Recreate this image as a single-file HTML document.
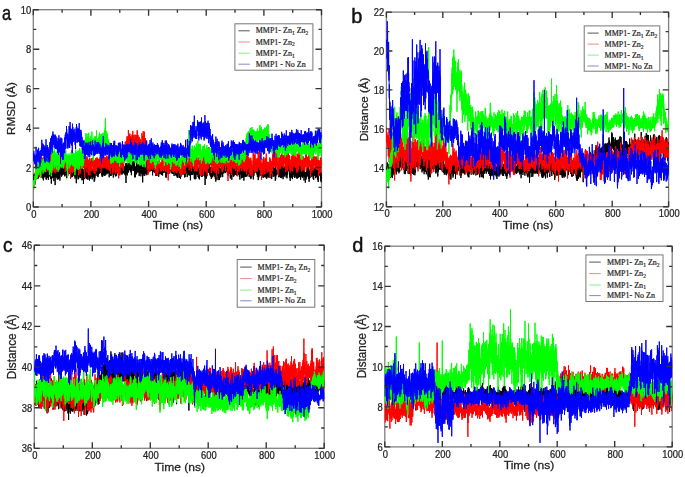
<!DOCTYPE html>
<html><head><meta charset="utf-8"><style>
html,body{margin:0;padding:0;background:#fff;}
body{width:685px;height:477px;overflow:hidden;}
svg{display:block;filter:blur(0.45px);}
.tl{font-family:"Liberation Sans", sans-serif;font-size:10px;fill:#222;stroke:#222;stroke-width:0.25px;}
.at{font-family:"Liberation Sans", sans-serif;font-size:11.5px;fill:#222;stroke:#222;stroke-width:0.25px;}
.pl{font-family:"Liberation Sans", sans-serif;font-size:20px;fill:#111;stroke:#111;stroke-width:0.45px;}
.lg{font-family:"Liberation Serif", serif;font-size:8px;fill:#222;stroke:#222;stroke-width:0.2px;}
.sb{font-size:5.5px;}
</style></head><body>
<svg width="685" height="477" viewBox="0 0 685 477">
<clipPath id="ca"><rect x="33.3" y="9.7" width="288.2" height="197.3"/></clipPath>
<rect x="33.3" y="9.7" width="288.2" height="197.3" fill="none" stroke="#808080" stroke-width="1.3"/>
<g clip-path="url(#ca)"><g transform="scale(.1)" fill="none" stroke-width="10" stroke-linejoin="round">
<path d="M333 1783l1 50 1-56 0 15 1-2 1 2 1-36 0-17 1 49 1-9 1 36 0-34 1-26 1 21 1-11 0 9 1-7 1-14 1 0 0 72 1-48 1 69 1-83 0 9 1 14 1-50 1 31 0-21 1 11 1-32 1 40 1 4 0 33 1-119 1 75 1-17 0-92 1 77 1 37 1-64 0 40 1-25 1 22 1-2 0 42 1-64 1 58 1-22 0-34 1 35 1-17 1 6 0-10 1-11 1 55 1-24 0-82 1 116 1-31 1-41 1 76 0-30 1 3 1-64 1 69 0-42 1 34 1-23 1 42 0 7 1-37 1 28 1-31 0 27 1-51 1-38 1 5 0 82 1-11 1-70 1 47 0 8 1-34 1 55 1-52 0 32 1-44 1 42 1-32 1-10 0-21 1 69 1-12 1 32 0 3 1-23 1-19 1-33 0 57 1-71 1 53 1-26 0 33 1 26 1-91 1 53 0-36 1 52 1-38 1 22 0 10 1-7 1 44 1-17 0-7 1-57 1 54 1-30 1 51 0-37 1-47 1 38 1 10 0 13 1-29 1 61 1 3 0-64 1 68 1-88 1 15 0 56 1 31 1 5 1-80 0 16 1-42 1 30 1-33 0 25 1 58 1-32 1 19 0-16 1 2 1-7 1-46 1 53 0 16 1-10 1-48 1 44 0-74 1 78 1-45 1-4 0 55 1-53 1-2 1 39 0 19 1-38 1 18 1-15 0 36 1-97 1 56 1-22 0 36 1-21 1 72 1-90 0 95 1-103 1 79 1 0 1-76 0 53 1-13 1-45 1 15 0 4 1-5 1 61 1-99 0 6 1-10 1 115 1-27 0-10 1-64 1-26 1 12 0 54 1 31 1 28 1-29 0-59 1 110 1-15 1-71 0-43 1-54 1 63 1 12 1 81 0-34 1-10 1-10 1 33 0-53 1-10 1 35 1 14 0-13 1-43 1 32 1 49 0-67 1 41 1 7 1-31 0 42 1-46 1-35 1 53 0 12 1 16 1-53 1 14 0 74 1-77 1-2 1 77 1-37 0 14 1-47 1 121 1-52 0-6 1-26 1-22 1 46 0-3 1 13 1-38 1 31 0-99 1 8 1 81 1-31 0-10 1 26 1-1 1-36 0 29 1 4 1-9 1-41 0 44 1 30 1-45 1-6 1 31 0 7 1 11 1-29 1 1 0 5 1-10 1-61 1 43 0 89 1-112 1 37 1 37 0-75 1 41 1-24 1 43 0-55 1 41 1-35 1-45 0 107 1-48 1-5 1 19 0 114 1-118 1 22 1-52 1 65 0-66 1 24 1-73 1 108 0 5 1-33 1 14 1-56 0 15 1-11 1 82 1-14 0-51 1 34 1-64 1-12 0 48 1-3 1-7 1 13 0 45 1-39 1-19 1 87 0-52 1 2 1 1 1-16 1-15 0-40 1 109 1-7 1-34 0-39 1 42 1-55 1 102 0-57 1 32 1-31 1-18 0 54 1-12 1-10 1-3 0 30 1-29 1 6 1-50 0 77 1-50 1-21 1 28 0-31 1 46 1-30 1 16 1-74 0 141 1-12 1-77 1 22 0-9 1-20 1-10 1 40 0-17 1 3 1-31 1 0 0 13 1 4 1-52 1 75 0-66 1 29 1 58 1-60 0 55 1-34 1 49 1-73 0 52 1-75 1 64 1-19 1 39 0-36 1-13 1-13 1-62 0 30 1 27 1 33 1-7 0-1 1 21 1-48 1 18 0-16 1 26 1-17 1-31 0 41 1-19 1 57 1-24 0 14 1-23 1 8 1 17 0-22 1 3 1-1 1-2 1-42 0 67 1-45 1 6 1 22 0-7 1 42 1-51 1 57 0-5 1-55 1 48 1-91 0 48 1-15 1-6 1 38 0-10 1-19 1 18 1-48 0 14 1 16 1-27 1 26 0-21 1 20 1 18 1 17 1-6 0-15 1-5 1 78 1-47 0-35 1 14 1 24 1-4 0-76 1 97 1-42 1-44 0 79 1-75 1 67 1-71 0-44 1 117 1-35 1-22 0 29 1-39 1 29 1-3 0 1 1-24 1-11 1 53 1-32 0 31 1-14 1 2 1-5 0-22 1 23 1 2 1 1 0 1 1 11 1-36 1 22 0 5 1 32 1-14 1-8 0-35 1 55 1-70 1 14 0 19 1 8 1-34 1 17 0 65 1-43 1 7 1-25 1 64 0-78 1 42 1-8 1-44 0 52 1-5 1-7 1 45 0 15 1-52 1 21 1 21 0-73 1 6 1 21 1 25 0-19 1 18 1-38 1 68 0-56 1 6 1 30 1-46 0 52 1-97 1 29 1 27 1-2 0 14 1 1 1-37 1 60 0-59 1 15 1 27 1-24 0-50 1 57 1-36 1 55 0-1 1-54 1 81 1-84 0 23 1 21 1-20 1 0 0-39 1 11 1 26 1 12 0 15 1-26 1 85 1-99 1 36 0 43 1-72 1 39 1-14 0 40 1-65 1-31 1 46 0 42 1-33 1-33 1 60 0-25 1 111 1-127 1 19 0-12 1-32 1-24 1 70 0-26 1 62 1-100 1 22 0 25 1-24 1 7 1 45 1-45 0-11 1 14 1 22 1 14 0-67 1 67 1-10 1 73 0-62 1 12 1 39 1-58 0 37 1-19 1-4 1 30 0-22 1-30 1 66 1-14 0-7 1-52 1 24 1-22 0-23 1 38 1-39 1 30 1 14 0-51 1 38 1 51 1-43 0 22 1-35 1 17 1-6 0-48 1 75 1-56 1 20 0-11 1 76 1-39 1-31 0-69 1 88 1-1 1-35 0-3 1 31 1-25 1 57 0-95 1 62 1-17 1-134 1 153 0 80 1-70 1-83 1 60 0 26 1-12 1 8 1-29 0 2 1 9 1-1 1 87 0-29 1-47 1-2 1 17 0-3 1-17 1 62 1-24 0 82 1-31 1-69 1 31 0-22 1-19 1 42 1-79 1 35 0-10 1-25 1 64 1 11 0-30 1-31 1 1 1 85 0-97 1 51 1-24 1 49 0-8 1-46 1 61 1-84 0 44 1-22 1-2 1 36 0-50 1-38 1 47 1 8 0 2 1-54 1 31 1 32 1 11 0-19 1 4 1 29 1 34 0-16 1-9 1-13 1 9 0 15 1 0 1 0 1 19 0-16 1-50 1-10 1 29 0-52 1 32 1 17 1-87 0 74 1 13 1 56 1-86 0-30 1 36 1-33 1 57 1-10 0-4 1 12 1 14 1-15 0 26 1-74 1 34 1 52 0-45 1-39 1 49 1-64 0 17 1 110 1-67 1-20 0-25 1 13 1 27 1-89 0 54 1 2 1-25 1 40 0-9 1 64 1-73 1 60 1-55 0 85 1-45 1-16 1 39 0-19 1 6 1-24 1 44 0-35 1-50 1-11 1-9 0 53 1 18 1-28 1-7 0 20 1-35 1 70 1-13 0 49 1-78 1 6 1 33 0-31 1 8 1-21 1 54 1-37 0 2 1-22 1-8 1 45 0 33 1-23 1-60 1 59 0 1 1 2 1 5 1-50 0 35 1-4 1-49 1 5 0 15 1 104 1-27 1-65 0-43 1 66 1-7 1 63 0-127 1 56 1 47 1-53 1 15 0-36 1-40 1 86 1-26 0 15 1-34 1 4 1-29 0 33 1 19 1-28 1 10 0-23 1 38 1-20 1-46 0 54 1-31 1 22 1-6 0 33 1-64 1 10 1 1 0 0 1 70 1-16 1-17 1 39 0-26 1-58 1 81 1-27 0-24 1 52 1-40 1 17 0-54 1 89 1-79 1 55 0-23 1-26 1-57 1 77 0-3 1-120 1 86 1-4 0-18 1-14 1 30 1 61 0-54 1-13 1 29 1 34 1-70 0 19 1 34 1-43 1 13 0 47 1-31 1 23 1-4 0-33 1 44 1-38 1-6 0 32 1-28 1-58 1 58 0-27 1 23 1 16 1-6 0-44 1-4 1 30 1-36 0 28 1 49 1-69 1-31 1 68 0 64 1-97 1 21 1 31 0 58 1-49 1 6 1-5 0 10 1-51 1 42 1 24 0 26 1-32 1-21 1 25 0-21 1-5 1-8 1 17 0-35 1 65 1-26 1-68 0 58 1-124 1 93 1 21 1-8 0-45 1 59 1 28 1-44 0 1 1-6 1 67 1-61 0 19 1 4 1 6 1-21 0 14 1-6 1-64 1 53 0 30 1-11 1-5 1 37 0-36 1-65 1 76 1-50 0 44 1-2 1 21 1-44 1-43 0 3 1 26 1 20 1-40 0-20 1 80 1-31 1 14 0 19 1 17 1-5 1-32 0 2 1 7 1-39 1 51 0-50 1 58 1-58 1 34 0-16 1-75 1 39 1 34 0-20 1 55 1 2 1-41 1 4 0 0 1-2 1 8 1-58 0 69 1-18 1-32 1 74 0-35 1 10 1-24 1 88 0-68 1 15 1-60 1 48 0 20 1-53 1 14 1-11 0-6 1 13 1 35 1-18 0 9 1 4 1 8 1 5 1 14 0-14 1 30 1-18 1-49 0 30 1-15 1 18 1 35 0-38 1-65 1 46 1 12 0-37 1 38 1-7 1 29 0 2 1-66 1 1 1 11 0-16 1 36 1-12 1 39 0 0 1 11 1-54 1 3 1 46 0-14 1-20 1 31 1-38 0 47 1-11 1-3 1 38 0 8 1-26 1-67 1 15 0 0 1 38 1-11 1-8 0-10 1 44 1-35 1-2 0-66 1 58 1 11 1-54 0 37 1-40 1 64 1-85 1 54 0-2 1 13 1-15 1-3 0 12 1-39 1 105 1-30 0-32 1-4 1-57 1 32 0 18 1 19 1-80 1 37 0-49 1 116 1-85 1 54 0 22 1-28 1 64 1-53 0 34 1-33 1 23 1-40 1 34 0-41 1 11 1-35 1 52 0 14 1-10 1-53 1-71 0 116 1-19 1-59 1 25 0-18 1 24 1-2 1 12 0 31 1-39 1 36 1-42 0 94 1-19 1-58 1-4 0-50 1 85 1-43 1 68 1-123 0 143 1-122 1 49 1 45 0-90 1 19 1 32 1-32 0 25 1 5 1-29 1 9 0 34 1 8 1-33 1 10 0-11 1 37 1-24 1 37 0-53 1 19 1 11 1 44 0-76 1 69 1-7 1-18 1-8 0 23 1-3 1 14 1-70 0 38 1-6 1 50 1-35 0-52 1 3 1 64 1-38 0-23 1 65 1-30 1-31 0-18 1 62 1 1 1-72 0 63 1-23 1 51 1-80 0 22 1-26 1 71 1-8 1 18 0 1 1-1 1-52 1 29 0-19 1 29 1-27 1-20 0 2 1 2 1 28 1-18 0 34 1 12 1 13 1-34 0-12 1-38 1 65 1-56 0 84 1-45 1-66 1 79 0 12 1-8 1-90 1 26 1 54 0-8 1 123 1-142 1-53 0 106 1-86 1 11 1-30 0 50 1-32 1-24 1 25 0 1 1 40 1-8 1 9 0-14 1-7 1 15 1 62 0-25 1-41 1-35 1 61 0-12 1-13 1-29 1-10 1 47 0-62 1 93 1-39 1 12 0-11 1 29 1-70 1 41 0 24 1-52 1-31 1 15 0-17 1 30 1 19 1 18 0-8 1-81 1 36 1 56 0-1 1-38 1 9 1 1 0-56 1 89 1-8 1-59 1 17 0-16 1 24 1-15 1 19 0 26 1 24 1-45 1 54 0-32 1 22 1-12 1-51 0-5 1 31 1 76 1-78 0 70 1-51 1-48 1-4 0 17 1-2 1-8 1 60 0-33 1-47 1 25 1-30 1 32 0-33 1-3 1 28 1-36 0 27 1 29 1 8 1 6 0-35 1 30 1 20 1-54 0-25 1 90 1-72 1 38 0 37 1-12 1-17 1-72 0 59 1-45 1 68 1-56 0 19 1 51 1 2 1-18 1 65 0-54 1 74 1-83 1-22 0-9 1 12 1 68 1-41 0 73 1-66 1-11 1 5 0-25 1 34 1 29 1-67 0 36 1 34 1-32 1 35 0-54 1-19 1-50 1 89 0-98 1 40 1 19 1 60 1-59 0-28 1 56 1 19 1-9 0-116 1 80 1-49 1 8 0 14 1 56 1-28 1-32 0 49 1-14 1 46 1-9 0-9 1 19 1-13 1-59 0 42 1-21 1-29 1 37 0 10 1 20 1-41 1 10 1-35 0 4 1 111 1-67 1-52 0 55 1 0 1 38 1-83 0 73 1-41 1 21 1-21 0 26 1-18 1-38 1 41 0-35 1 51 1-63 1 28 0-21 1 13 1 68 1 27 0-112 1-20 1 70 1 18 1-12 0 14 1-60 1 32 1 46 0-82 1 5 1 35 1 26 0 3 1-69 1 50 1-46 0 41 1-20 1 58 1 10 0-32 1 53 1 53 1-128 0-37 1 43 1 56 1-14 0-40 1 0 1-73 1 23 1 62 0-76 1 104 1-3 1-84 0 68 1-18 1-66 1 53 0-47 1 24 1 30 1-28 0-16 1 19 1 44 1-58 0 97 1-61 1-20 1-20 0-8 1 86 1-21 1-8 0 9 1-23 1-1 1 6 1 21 0-93 1 116 1-30 1-53 0 16 1-3 1-68 1 103 0-4 1-25 1-24 1 90 0-13 1-13 1-25 1 59 0-61 1 42 1-46 1 6 0-49 1 58 1-54 1 33 0 15 1-49 1 46 1-53 1 47 0 7 1 8 1-110 1 54 0 39 1-42 1-6 1 35 0-33 1-7 1-6 1 58 0-39 1 24 1 43 1-20 0-85 1 100 1-26 1 31 0-50 1 28 1-29 1-10 0 61 1-27 1-18 1 32 1-21 0-24 1 34 1-10 1 19 0-18 1 31 1 3 1-33 0-34 1 11 1 0 1 7 0-9 1 1 1 53 1-3 0-49 1 36 1-7 1-24 0-16 1 60 1-38 1-21 0 0 1-33 1 66 1-48 1-20 0 45 1-8 1-26 1 131 0-51 1-51 1 71 1-52 0 0 1-14 1 48 1-30 0 23 1-47 1 62 1-8 0-31 1-33 1 43 1 1 0 24 1-48 1 53 1-13 0 7 1-35 1 43 1-6 1-27 0 5 1 41 1-16 1-10 0-17 1 28 1-82 1 52 0-15 1 25 1 0 1-18 0 36 1 41 1-69 1 44 0-50 1 61 1-28 1-3 0 52 1-51 1-3 1-11 0-7 1 12 1-6 1 59 1-77 0-9 1 52 1-17 1 45 0 8 1-66 1-64 1 48 0-3 1-36 1 24 1 29 0 25 1 0 1-34 1 32 0 44 1-80 1 14 1-35 0 39 1-6 1-10 1 19 0-39 1 27 1 85 1-80 1 3 0-3 1-9 1-51 1 114 0-140 1 85 1 0 1-20 0 48 1-25 1-25 1 64 0-5 1-9 1-9 1-34 0 63 1-83 1 11 1 1 0 78 1-65 1 38 1-47 0 18 1 7 1 11 1-24 1-37 0 73 1-26 1-17 1-7 0 23 1-16 1 5 1 70 0-97 1 71 1-73 1 20 0 82 1-51 1-40 1 5 0 45 1 34 1-57 1 68 0-15 1-65 1 52 1-60 0 41 1-11 1-45 1 39 1-11 0 22 1 3 1 17 1 6 0-41 1-9 1-43 1 36 0 20 1-20 1-34 1 89 0-91 1 65 1 0 1-91 0 45 1 45 1-40 1-21 0 14 1-7 1 25 1-4 0 56 1-5 1-35 1 41 1 10 0-38 1-47 1 13 1 42 0 71 1-35 1-38 1-60 0 63 1-16 1 15 1 73 0-99 1 29 1 35 1-116 0 103 1-104 1 114 1-13 0-34 1 9 1-24 1-64 0 69 1 17 1-51 1 45 1-33 0 23 1 58 1-118 1 68 0-37 1 33 1-45 1 48 0-59 1-8 1 60 1 57 0-89 1 34 1-54 1 13 0 21 1 21 1-2 1-63 0 23 1 41 1-14 1-11 0 30 1 45 1-103 1 61 1 9 0-18 1 22 1 9 1-36 0 30 1-33 1 5 1-43 0 61 1-7 1 13 1-62 0 15 1 14 1-48 1 45 0-1 1 56 1 10 1-30 0-25 1 30 1-17 1-46 0 49 1-4 1-11 1 26 1-64 0-18 1 20 1-11 1 106 0-83 1 31 1-40 1 61 0-46 1 7 1 2 1 16 0 9 1-9 1-47 1 100 0-53 1-24 1 32 1-22 0 2 1 33 1 6 1 11 0-34 1-3 1 73 1-52 1-46 0 49 1-44 1 17 1 16 0-46 1 5 1 22 1-5 0-2 1-4 1 9 1-8 0 38 1-53 1 43 1 10 0-44 1 16 1 73 1-65 0-27 1-3 1 63 1-29 0 6 1-35 1-7 1 19 1 15 0 19 1-54 1 106 1-80 0 3 1 10 1 15 1-12 0-26 1 102 1-100 1 18 0 4 1 80 1-46 1-37 0 5 1-38 1 76 1-148 0 78 1 61 1-19 1 22 0 5 1-16 1-6 1-29 1 2 0-3 1-2 1 57 1 39 0-92 1 51 1-58 1 21 0 45 1-52 1 7 1 38 0 43 1-80 1-55 1 39 0 4 1 41 1 25 1-52 0-36 1 37 1 41 1-30 0 75 1-83 1-7 1 73 1-42 0-59 1 88 1-105 1-53 0 68 1 10 1 6 1-6 0-29 1 77 1 9 1 7 0-67 1-16 1 52 1-41 0 8 1-23 1 13 1 64 0-18 1-5 1-48 1 28 0-30 1 61 1-53 1 36 1-81 0 120 1-69 1 56 1-68 0 8 1 42 1-60 1 2 0 1 1 10 1 46 1-50 0 82 1-27 1-19 1 48 0-56 1-8 1 29 1 60 0 4 1-86 1 3 1 42 0 9 1-37 1 66 1-15 1-90 0 38 1-11 1 25 1-64 0 43 1 22 1 16 1 0 0-14 1-19 1 32 1-70 0 34 1-30 1-25 1 26 0-5 1 27 1-20 1-15 0-15 1 60 1 3 1 2 0-22 1 87 1-94 1 28 1-48 0 26 1 25 1-33 1 47 0-100 1 93 1-8 1-42 0 59 1 12 1-37 1-13 0 62 1-82 1 31 1 15 0-110 1 94 1-1 1 28 0 15 1-49 1 67 1-13 0 3 1-37 1 35 1-71 1-40 0 70 1-49 1 50 1 33 0-15 1 6 1-31 1 4 0 17 1 85 1-48 1-13 0 12 1-1 1-95 1 42 0 50 1-27 1-12 1 5 0 19 1 15 1-30 1-9 0-14 1 37 1-19 1 17 1 10 0-48 1 16 1 30 1 2 0-6 1-26 1-38 1-3 0 79 1-42 1-29 1 29 0-7 1 28 1-20 1 10 0 27 1-55 1-22 1 10 0 52 1-51 1-3 1-2 0 2 1 13 1 3 1 8 1-16 0 12 1-11 1 102 1-100 0 26 1 1 1-48 1 45 0-7 1 87 1-66 1 37 0-20 1 53 1-12 1-29 0-14 1 23 1-76 1 53 0-30 1 23 1-37 1 92 0-78 1 3 1-6 1-35 1 28 0 21 1-31 1 54 1-41 0 12 1-7 1 34 1-30 0-1 1 0 1-14 1 53 0-69 1 40 1-14 1 25 0-9 1 7 1-50 1 70 0 0 1-13 1 33 1-18 0-43 1-1 1 24 1-14 1 35 0-2 1-58 1 92 1-70 0 43 1-68 1-6 1 5 0-29 1 105 1-38 1-15 0 83 1-45 1-58 1 50 0-43 1 16 1-26 1 9 0-1 1-7 1-12 1-13 0 49 1 19 1-25 1-13 1-38 0-10 1 49 1 58 1-26 0 8 1 16 1 2 1-13 0 27 1-25 1-77 1 104 0-34 1-1 1-62 1 41 0-4 1 0 1 1 1-17 0 1 1 73 1-55 1 17 0-10 1 30 1-1 1-25 1 13 0-15 1-11 1-1 1-7 0-20 1 41 1-21 1 23 0-20 1 16 1-23 1 52 0 7 1-71 1 48 1-29 0-37 1 55 1-28 1 13 0 18 1-25 1 12 1-72 0 124 1-47 1 5 1 1 1 126 0-128 1 14 1-47 1 44 0-149 1 120 1 15 1-21 0 45 1 5 1-49 1 37 0-12 1 60 1-21 1 22 0-105 1 43 1-44 1 38 0-33 1 40 1-11 1-46 0 96 1-13 1-63 1 34 1-14 0-13 1 4 1-15 1-36 0-2 1-13 1 67 1-8 0 8 1 15 1-20 1-6 0 25 1-8 1-34 1 38 0-30 1 31 1-13 1-37 0 69 1-24 1-22 1 33 0-36 1-47 1 37 1 40 1 30 0-72 1 57 1 6 1-50 0-3 1 76 1-35 1 16 0-51 1 7 1-19 1 27 0-14 1-11 1 31 1-24 0 83 1-80 1 70 1-27 0-15 1 5 1 52 1-41 0 62 1-54 1 9 1-54 1 42 0 11 1-3 1 5 1-22 0 51 1-103 1 93 1-56 0 57 1-32 1-33 1 3 0 45 1 2 1-50 1-21 0 80 1-28 1-12 1-3 0-6 1 21 1 3 1-31 0 36 1-11 1-21 1 4 1-11 0 4 1-2 1-15 1 79 0-47 1-4 1 18 1-13 0-17 1 20 1-71 1 2 0 68 1-39 1 2 1 16 0 20 1-6 1 73 1-44 0-48 1 19 1-25 1 76 0-15 1 64 1-67 1 20 1 2 0-73 1 31 1-26 1 52 0 22 1-80 1 13 1 0 0 28 1-36 1-51 1-6 0 154 1-37 1-57 1 7 0 17 1 20 1 10 1-75 0 16 1 17 1-8 1-47 0 80 1 6 1-32 1 26 1-57 0-2 1 2 1 27 1 17 0-28 1 76 1-12 1 37 0-38 1-43 1 28 1-44 0 16 1 57 1 21 1-130 0 48 1-3 1 31 1 8 0-50 1 76 1-13 1-16 0 17 1-18 1-5 1-4 1-55 0 36 1-32 1 59 1-3 0 5 1 21 1-54 1 33 0-3 1-32 1-16 1 31 0-31 1-22 1-6 1 16 0 38 1-44 1 54 1-9 0-38 1-16 1 31 1 38 0-20 1-17 1-1 1 3 1 65 0-122 1 40 1 44 1-65 0 37 1 3 1-65 1 81 0-2 1 0 1-1 1-90 0 88 1 16 1-31 1-25 0-20 1 63 1-87 1 54 0 29 1-11 1-41 1 17 0 11 1-22 1-61 1 30 1 48 0 10 1-41 1 61 1 12 0-27 1 7 1 19 1-32 0 11 1-10 1-26 1 24 0 27 1-23 1-48 1 61 0 3 1-46 1 50 1-6 0-35 1 13 1 10 1-1 0-49 1 22 1 28 1-2 1-57 0 52 1-11 1 6 1 24 0-26 1 29 1-24 1-42 0 35 1-57 1 40 1-10 0 10 1 88 1-101 1-56 0 74 1 11 1 4 1-17 0-15 1-4 1 28 1 8 0-1 1 10 1 30 1-94 1 90 0 12 1-73 1 34 1-4 0 31 1-11 1-22 1-59 0 63 1 15 1-15 1 25 0 25 1 39 1-68 1 58 0-90 1 43 1-1 1 16 0-5 1-5 1-15 1 16 0-12 1 22 1-35 1-3 1 2 0 38 1 3 1 16 1-60 0 93 1-125 1 52 1 7 0-21 1 5 1 5 1-26 0-46 1 75 1-65 1 84 0-71 1 13 1 42 1-57 0-13 1 91 1-57 1 19 0-6 1 63 1-67 1-17 1 25 0 35 1-8 1-27 1 19 0 35 1-18 1 8 1-42 0-42 1 13 1 53 1-2 0-29 1 15 1-27 1 24 0 18 1-33 1-30 1 42 0-51 1 81 1-20 1-13 0 1 1-33 1 16 1-5 1-26 0 87 1-29 1-61 1 67 0 23 1-8 1 7 1-57 0 16 1 6 1-2 1 19 0-32 1-1 1 62 1-8 0-46 1 45 1-66 1 46 0 8 1-22 1-63 1 100 0-30 1 24 1-36 1 16 1 2 0-18 1 18 1-8 1-17 0 13 1 10 1 16 1-49 0 15 1 10 1 19 1-16 0 23 1-81 1 29 1-36 0 110 1 0 1-87 1 53 0 5 1 6 1-12 1 64 0-154 1 88 1-7 1-31 1 43 0-12 1-15 1-5 1 12 0-26 1-3 1 28 1-10 0 29 1-37 1 55 1 1 0-22 1-35 1 88 1-59 0-41 1-11 1-16 1 34 0 8 1 11 1 38 1-33 0 2 1-41 1 20 1 47 1-24 0-25 1 10 1 34 1-35 0 77 1-80 1 45 1 23 0-35 1-46 1 76 1-38 0 5 1 5 1 1 1-76 0 62 1-40 1 125 1-82 0-25 1 69 1-66 1-14 0 46 1-16 1 25 1 20 1-24 0 10 1-53 1 40 1-37 0-1 1 4 1 32 1-11 0 36 1 11 1-114 1 50 0 60 1-7 1-78 1 35 0-22 1-15 1 47 1-29 0 65 1-41 1-26 1-15 0 39 1-15 1 42 1-88 1 108 0-28 1-6 1 17 1-3 0-60 1 17 1 4 1 5 0-5 1 11 1 35 1-21 0-43 1 11 1 9 1-12 0 42 1-81 1 72 1 10 0-33 1-9 1 4 1-46 0 65 1 2 1-40 1-10 1 55 0 5 1 35 1-30 1-7 0-31 1-19 1 0 1-8 0 29 1-27 1 32 1-8 0-17 1 23 1 18 1-73 0 125 1-54 1-13 1 15 0 6 1 6 1-32 1 88 0-24 1 10 1-30 1-7 1-70 0 22 1 53 1-29 1-57 0 41 1 64 1-69 1 23 0 5 1-13 1-24 1 20 0-24 1 34 1-9 1 4 0 32 1 18 1-102 1 78 0 1 1-55 1-6 1 40 0-41 1 53 1 65 1-36 1-99 0 91 1-57 1 64 1-59 0 58 1-39 1-42 1-18 0-6 1 45 1 31 1-47 0 28 1-46 1 1 1-36 0 70 1 26 1-58 1-18 0 41 1 6 1-15 1 17 0-15 1 49 1-24 1-41 1 51 0 7 1-76 1 75 1-67 0 63 1-17 1-24 1 46 0 2 1-20 1 1 1-15 0 35 1 6 1-38 1 30 0 7 1-32 1 27 1 24 0-72 1 34 1 56 1-41 0-53 1 27 1-14 1 21 1 21 0 2 1-22 1 40 1-76 0 128 1-33 1-75 1 30 0-55 1 38 1-21 1 14 0 28 1 47 1-62 1-29 0 38 1 4 1-60 1 39 0 17 1-28 1 11 1 29 0-11 1-44 1-42 1 123 1 0 0-55 1-6 1-31 1 46 0-22 1-2 1-22 1 49 0-8 1-11 1 7 1-1 0-4 1-33 1 35 1 5 0-27 1 26 1-16 1 56 0-46 1 59 1-41 1 6 0-48 1-6 1 41 1 17 1 1 0 18 1-29 1 0 1 31 0-14 1-21 1 52 1-75 0 44 1 11 1-22 1 57 0-62 1 28 1-49 1-5 0 47 1-68 1 50 1 32 0-73 1 0 1 49 1-26 0 24 1 14 1-4 1-39 1 73 0-51 1 26 1-10 1-42 0 25 1 10 1-59 1 101 0-92 1 18 1 63 1-44 0 17 1-65 1 31 1 6 0 55 1-36 1-55 1 37 0 37 1 38 1-5 1-127 0 110 1 12 1-17 1-55 1 63 0 26 1-144 1 70 1-3 0 29 1-62 1 3 1 0 0 65 1-60 1 16 1 25 0-32 1 19 1 27 1-23 0 58 1-63 1 54 1-14 0-57 1-39 1 33 1 14 0 41 1 18 1-25 1 5 1-30 0-45 1 35 1 17 1-1 0 59 1-69 1 10 1 30 0-82 1 70 1-30 1 26 0-62 1 33 1 21 1-57 0 47 1-5 1 24 1-63 0 32 1-4 1 18 1-16 0 47 1-21 1 16 1-24 1-38 0 102 1-74 1-9 1-53 0 24 1 72 1-127 1 175 0-44 1-58 1-46 1 74 0 13 1-18 1-19 1-37 0 38 1 19 1-2 1-19 0-7 1 40 1-15 1-23 0-38 1 51 1 69 1-47 1-34 0 23 1-41 1 37 1-25 0-5 1 23 1 9 1 10 0 21 1-26 1 29 1-12 0 34 1-78 1 30 1-37 0 65 1-8 1-19 1 9 0-1 1-18 1 15 1-26 0 53 1-51 1 110 1-97 1 14 0-35 1-40 1 143 1-74 0 42 1-21 1-25 1 29 0-13 1-28 1 10 1 27 0 6 1-4 1-45 1 0 0 1 1 18 1 12 1-21 0-1 1 5 1-26 1-67 0 97 1-2 1-44 1 39 1-1 0 3 1-17 1-18 1 12 0 58 1-31 1 24 1-38 0 32 1-43 1-21 1 66 0-41 1 64 1-10 1 24 0-59 1 0 1 58 1-46 0 11 1 0 1-18 1 41 0 0 1-79 1 27 1 18 1-3 0-2 1 8 1-72 1 79 0-36 1 46 1-48 1-26 0 63 1 20 1 24 1-80 0 52 1-34 1-9 1 51 0-40 1-80 1 104 1-5 0-5 1 49 1-35 1-40 0-32 1 78 1-23 1-7 1 21 0 4 1-13 1 2 1 11 0-38 1 63 1-2 1-68 0 13 1-11 1 55 1-116 0 59 1 90 1-124 1 8 0 52 1-51 1 24 1 47 0-19 1-24 1-30 1 47 0-50 1 37 1 20 1-56 1 65 0-22 1 49 1-42 1-29 0 61 1 3 1-86 1 24 0 43 1-17 1-65 1 92 0-79 1 12 1 0 1 11 0-15 1 59 1-32 1-30 0 47 1-7 1-17 1 67 0 9 1-102 1 28 1-36 1 59 0-10 1-29 1 30 1 17 0-25 1 44 1 33 1-62 0 2 1-85 1 87 1 13 0-93 1 74 1 30 1-13 0-73 1 5 1 1 1 37 0-18 1-2 1-41 1 23 0-41 1 9 1 1 1 76 1-59 0 51 1-55 1 31 1-28 0 34 1 18 1-52 1-1 0-14 1 70 1 30 1-67 0 72 1-31 1 64 1-102 0 27 1 34 1 25 1 48 0-84 1-18 1 13 1 49 0-56 1 9 1 55 1 3 1-25 0-61 1 53 1-72 1 8 0 96 1-41 1-90 1 82 0-23 1-38 1 60 1-44 0 42 1 10 1-11 1-10 0 49 1-6 1-96 1 62 0 67 1-29 1-98 1 35 0 32 1-17 1-42 1 97 1-18 0-73 1 72 1-38 1-55 0 51 1 3 1 23 1-6 0-53 1 26 1-5 1 23 0-56 1-27 1 76 1 27 0 8 1-93 1-9 1 97 0-12 1 50 1-38 1-79 0 38 1 2 1-46 1 85 1-13 0-92 1 63 1-10 1 1 0 72 1-56 1 32 1 13 0-41 1 53 1-75 1 38 0 47 1-28 1 14 1-60 0 12 1 12 1-53 1 54 0 16 1 23 1 20 1-45 0 48 1-47 1-21 1 5 1-50 0 47 1-26 1 38 1 14 0 18 1-2 1-48 1 41 0-59 1 43 1 38 1-62 0 24 1-89 1 40 1 48 0-39 1 51 1-58 1 21 0-62 1 81 1-58 1 96 0-73 1 9 1 63 1-67 1 25 0-42 1 80 1-62 1 33 0-54 1-27 1 86 1 19 0-30 1 8 1-32 1 90 0-46 1-15 1 10 1-49 0 54 1-8 1-30 1-2 0 40 1-10 1 24 1-71 0 44 1-7 1-11 1 17 1-20 0-19 1 18 1-50 1 53 0 56 1-48 1 26 1-49 0 37 1-94 1 129 1-23 0-23 1 15 1-21 1-53 0 90 1-42 1-38 1 28 0 37 1-30 1-15 1 50 0-41 1 41 1-47 1 101 1-121 0 58 1-30 1 52 1-31 0-16 1 27 1-45 1 63 0 0 1-42 1 51 1-48 0 27 1 8 1 20 1 2 0 47 1-77 1 25 1-50 0 53 1-9 1-24 1 6 0 25 1 20 1-5 1-39 1-33 0 2 1 54 1-55 1 46 0-3 1-7 1 14 1-62 0-23 1 78 1-47 1 18 0-19 1 40 1-66 1 17 0 6 1-38 1 81 1-20 0-20 1-17 1 30 1-19 0-25 1 40 1 4 1-10 1 73 0-92 1 11 1-49 1 100 0-46 1-4 1 2 1 60 0 45 1-92 1 57 1-66 0 29 1-1 1-19 1 22 0 2 1-31 1-3 1-8 0 73 1-41 1-49 1 34 0-32 1 0 1-13 1 34 1-17 0-26 1 39 1 17 1-65 0-3 1 75 1-41 1-47 0 56 1 22 1 16 1 9 0-72 1 30 1-12 1 76 0-84 1 4 1 7 1-58 0 72 1 7 1 30 1-21 0-59 1 44 1-32 1 56 1-32 0 44 1-26 1 20 1 46 0-81 1 44 1-4 1-31 0 39 1-46 1 89 1-76 0-22 1 32 1-42 1-9 0 25 1 27 1-32 1-11 0 19 1-29 1 23 1 48 0-25 1-6 1 38 1-3 1-39 0-51 1 87 1-47 1 37 0 11 1-61 1 26 1 63 0-4 1-44 1 24 1-7 0 19 1-30 1-84 1 117 0-105 1 91 1 10 1-56 0 34 1-4 1-101 1 28 0 42 1 49 1-2 1-28 1-24 0 12 1 7 1-28 1 102 0-93 1 20 1 1 1-9 0 17 1 21 1 30 1-70 0 103 1-89 1 43 1-59 0-12 1 26 1-18 1 41 0-14 1-17 1 4 1-7 0-33 1 17 1-23 1 28 1-12 0 16 1 36 1-65 1-3 0 60 1-21 1 43 1-53 0-42 1 49 1 29 1-47 0 11 1 13 1-8 1 40 0-41 1 101 1-85 1 32 0-30 1 35 1 23 1-55 0 59 1 34 1-67" stroke="#000000"/>
<path d="M333 1850l1 49 1-15 0-17 1-43 1 37 1-31 0 32 1 4 1-50 1 36 0-31 1 14 1-30 1 43 0 1 1-6 1-36 1-47 0 14 1 9 1 5 1-46 0 32 1-32 1-18 1 4 0 15 1 6 1 19 1-21 1 31 0-12 1-85 1 49 1 45 0-101 1-10 1 33 1 58 0-107 1 17 1-45 1 68 0 14 1 16 1-1 1 23 0-1 1-17 1-25 1-22 0 13 1 69 1-94 1 78 0-80 1 22 1-5 1 23 1 16 0-20 1 70 1-50 1-77 0 52 1 8 1 44 1 0 0-58 1 15 1-17 1-10 0 78 1-22 1-5 1-25 0-28 1 55 1-30 1-2 0 4 1-62 1 77 1-26 0 83 1-68 1-10 1-28 1 46 0-9 1 26 1-25 1-91 0 137 1-2 1-58 1 38 0-69 1 95 1-97 1 69 0 36 1 11 1-50 1-25 0-36 1 58 1-150 1 113 0-11 1 19 1-111 1 128 0-58 1-23 1 86 1-62 1 31 0-63 1 2 1 30 1 14 0 41 1-128 1 36 1 30 0-24 1 58 1 40 1-69 0 58 1-24 1-38 1 74 0-52 1-3 1 30 1-1 0-28 1 8 1-17 1 18 0-17 1 55 1-21 1-54 1 43 0-5 1 4 1-19 1-31 0 44 1-31 1 64 1 2 0-43 1-12 1 29 1-10 0-23 1 54 1-66 1 53 0-37 1 53 1 17 1-84 0-7 1 22 1-18 1 19 0-25 1 22 1 29 1-73 1 81 0-110 1 87 1 18 1-31 0-3 1 2 1-16 1 38 0 38 1-45 1-42 1-28 0 117 1-73 1-40 1 85 0-100 1 79 1-34 1 12 0-69 1 85 1-26 1 13 0 49 1-53 1 16 1-24 1 0 0-37 1 24 1-23 1 65 0-20 1 39 1-69 1 32 0-66 1 102 1-67 1-1 0 60 1-65 1 65 1-68 0-5 1 71 1-21 1-19 0-10 1 11 1 1 1 34 0-36 1-92 1 91 1-78 1 99 0-21 1-50 1 16 1-20 0 42 1 51 1 13 1-24 0-51 1 9 1-54 1 110 0-4 1 6 1-8 1-7 0-53 1 44 1-33 1 36 0 74 1-27 1-47 1-41 0 43 1 49 1-46 1 8 1 43 0-72 1 23 1 32 1 20 0-16 1-7 1-13 1 26 0 2 1-50 1-18 1 18 0 38 1-22 1-93 1 104 0-16 1-48 1 57 1 36 0-92 1 12 1 104 1-77 0 35 1 29 1-86 1 35 1-15 0 19 1-56 1-6 1 10 0-43 1 63 1 25 1-41 0 2 1-16 1 108 1-118 0-48 1 42 1 51 1-87 0 36 1-45 1 36 1 41 0 43 1-56 1-6 1 39 0 41 1-76 1 38 1-61 1 64 0-34 1-28 1 31 1 2 0 80 1-44 1-5 1-4 0-15 1-30 1 75 1-58 0 31 1 8 1 33 1-26 0 6 1-53 1-48 1-25 0 60 1 61 1-109 1 102 0-4 1-42 1 21 1-90 1 60 0 13 1 5 1-17 1-10 0 0 1-40 1 61 1 26 0 7 1-10 1 3 1-26 0-55 1 87 1-12 1-1 0 10 1 6 1-36 1-19 0 65 1-24 1-23 1 19 0 14 1-26 1 15 1 15 1-33 0 39 1-3 1-31 1 54 0-57 1 42 1-3 1-53 0-5 1-8 1-19 1 74 0-34 1 26 1-3 1-48 0 25 1 9 1-13 1 23 0-47 1 63 1 3 1-10 0 8 1-95 1 84 1-23 1 48 0-4 1-48 1 21 1 6 0-11 1-6 1-7 1 16 0-5 1 2 1 14 1-34 0 106 1-26 1-41 1 2 0 18 1 13 1-47 1 63 0-81 1 58 1-88 1 55 0 3 1 36 1-45 1 33 1-11 0-30 1-11 1-8 1-29 0-29 1 72 1 12 1 29 0-49 1 38 1-10 1-4 0 27 1-10 1-1 1 2 0 7 1 14 1 77 1-113 0 52 1-24 1 3 1-41 0 48 1-10 1 5 1-39 1-1 0 3 1 10 1-62 1 52 0 71 1-35 1 3 1-37 0 39 1-51 1 42 1-39 0 93 1-111 1 12 1 32 0-96 1 91 1-20 1 32 0-69 1 6 1 37 1 149 0-179 1-25 1 82 1-39 1-9 0 28 1 36 1-17 1 20 0-42 1 76 1-71 1 17 0 42 1-16 1-57 1-30 0 16 1-119 1 140 1 48 0-34 1 18 1 57 1-111 0 73 1-15 1-95 1 81 0 11 1-47 1-36 1 119 1-17 0 22 1-98 1 23 1-27 0 88 1-47 1-52 1 118 0-107 1 61 1-46 1 37 0-55 1-6 1 26 1-64 0 90 1-61 1 71 1-64 0 7 1 64 1-77 1 59 0 46 1-35 1-44 1 59 1-74 0-48 1 58 1 12 1 8 0-5 1-29 1 70 1-11 0-22 1 12 1-19 1 23 0-15 1 37 1-18 1-52 0 65 1-73 1-4 1 26 0 59 1-24 1-50 1-10 0 84 1-53 1 5 1 60 1-55 0 31 1 21 1-111 1 88 0 30 1-9 1-121 1 35 0 11 1 55 1-31 1 11 0-32 1 79 1-68 1-20 0 145 1-74 1-31 1 41 0-37 1-16 1-48 1 81 0-21 1-50 1 109 1-103 1 49 0-24 1 23 1-25 1 112 0-62 1 49 1-66 1 44 0 16 1-122 1-19 1 47 0-19 1 12 1-56 1 37 0 16 1-37 1 57 1 12 0 2 1 22 1 2 1-76 0 60 1-14 1-23 1 35 1 23 0-1 1-19 1-57 1 54 0 5 1-38 1 11 1-1 0-6 1-49 1 66 1 0 0-70 1 93 1-12 1-43 0 44 1-19 1-4 1 46 0-51 1 46 1-74 1-3 0 67 1-72 1 22 1-55 1 54 0 72 1 1 1-94 1 114 0-80 1 45 1-25 1 134 0-163 1-23 1 56 1-34 0 42 1-34 1 20 1 14 0-40 1 7 1-25 1 75 0 10 1-79 1 44 1-57 0 69 1-87 1 10 1 80 1-101 0 81 1-10 1 14 1-41 0 11 1 18 1-10 1 22 0-15 1 63 1 29 1-30 0-45 1-8 1 3 1 12 0-84 1 93 1-45 1 33 0-61 1 7 1 20 1 38 0-4 1-10 1-45 1 26 1 125 0-111 1 46 1 4 1-45 0 0 1 14 1 9 1 32 0-36 1-2 1 16 1-98 0 91 1-1 1 22 1-11 0-9 1-20 1 101 1-137 0 15 1 14 1 45 1 17 0-33 1-65 1 6 1 16 1-22 0 58 1 8 1-16 1-63 0 5 1-18 1 36 1 91 0-57 1-47 1 45 1-45 0 3 1 52 1-53 1 9 0 54 1-86 1 79 1-44 0-9 1 52 1-1 1-49 0 3 1-38 1 33 1 3 1 18 0-22 1 59 1 37 1-75 0 24 1 6 1-68 1 111 0-43 1-27 1 33 1 9 0-16 1-51 1 123 1-16 0-71 1-11 1 61 1-50 0-10 1-2 1-34 1 27 0 30 1 8 1-32 1 111 1-44 0-82 1-9 1 15 1 9 0 64 1-7 1-32 1-76 0 64 1-8 1-44 1 18 0 101 1-112 1 45 1 69 0-87 1-24 1-2 1 8 0 32 1-4 1-21 1 23 0-66 1 103 1-3 1-34 1 38 0-97 1 32 1 34 1 7 0-18 1-49 1 42 1 36 0-41 1 36 1-36 1-3 0-12 1 6 1 13 1 46 0-46 1-31 1 33 1-27 0 45 1-3 1 12 1-50 0 20 1 2 1 46 1-86 1 80 0-34 1-26 1 15 1 64 0-59 1 35 1-92 1 32 0-5 1-2 1 0 1-30 0-29 1 79 1-40 1 29 0 11 1 57 1-29 1 0 0-38 1 117 1-25 1-45 0-31 1 25 1-9 1-20 1-11 0-8 1 33 1-26 1 40 0 8 1-51 1-38 1 36 0 78 1-103 1-44 1 40 0 43 1 12 1 16 1-83 0 61 1 6 1-10 1 59 0-74 1 26 1-64 1 70 0 11 1 38 1-57 1-36 1 21 0-10 1 49 1 10 1-15 0 7 1-43 1-12 1 67 0-40 1 51 1-61 1-46 0 96 1-69 1 53 1-31 0-39 1 99 1-56 1 24 0-60 1 36 1 10 1-10 0-46 1 81 1 2 1 0 1-51 0 83 1-21 1-23 1 19 0-34 1 23 1 38 1-134 0 50 1-19 1 72 1-5 0 36 1-28 1-46 1-22 0-30 1 41 1 23 1-51 0 16 1 57 1-9 1-44 0 57 1-20 1 31 1-73 1-29 0 133 1-29 1-57 1 14 0 0 1 42 1 22 1-39 0-54 1 11 1-44 1 140 0-51 1-67 1 3 1 85 0-64 1 94 1-93 1 54 0-70 1 34 1 28 1-23 0 12 1 24 1-50 1 96 1-33 0 8 1 45 1-18 1-60 0-3 1 17 1-53 1 38 0-1 1-8 1 18 1-35 0 50 1-24 1 8 1 1 0-17 1-34 1-18 1 61 0-5 1 1 1-35 1 59 0-83 1-18 1 82 1 77 1-91 0 0 1 6 1-56 1 53 0-37 1 33 1 15 1-84 0 24 1-24 1 100 1-55 0 20 1-2 1 89 1-52 0-5 1-53 1 15 1-36 0 33 1 15 1 12 1 6 0-48 1 47 1 4 1 8 1-44 0-69 1 97 1 54 1-24 0-53 1 45 1-1 1-41 0 67 1-21 1-46 1 101 0-81 1-64 1 124 1-117 0 116 1-77 1 76 1-69 0 12 1 5 1-46 1-14 0 11 1 76 1 10 1-132 1 121 0-104 1 21 1 36 1 82 0-37 1-63 1 56 1-54 0 21 1-32 1 30 1 18 0 46 1-45 1 31 1-56 0 66 1-66 1-5 1 10 0 71 1 69 1-160 1 45 0 9 1-9 1 65 1-37 1 6 0-14 1-6 1-34 1 54 0-68 1 27 1 43 1-121 0 170 1-144 1 41 1-37 0 69 1-39 1-3 1-30 0 13 1 7 1 2 1-25 0 32 1-1 1-29 1 66 0-31 1 11 1 21 1-77 1 72 0-10 1 15 1-46 1-15 0-44 1-9 1-3 1 29 0-14 1 97 1-19 1-94 0 58 1-51 1-27 1 65 0-46 1 42 1 2 1 61 0-127 1 158 1-111 1 27 0-40 1-14 1 151 1-87 1-80 0 13 1 30 1-18 1-44 0 1 1 107 1-73 1-79 0 84 1-10 1-19 1-6 0-6 1 51 1-26 1-54 0-19 1 16 1 33 1-24 0-49 1-31 1 131 1-104 0 92 1-100 1 67 1-28 1-12 0-12 1-7 1-30 1 69 0-37 1-23 1 34 1 11 0-37 1-26 1 8 1 71 0 1 1-51 1-69 1 85 0 15 1-71 1 85 1-71 0-10 1 51 1-6 1-8 0-71 1 93 1 29 1-47 1 21 0 35 1-38 1-11 1-89 0-56 1 220 1-101 1-7 0 74 1-81 1 59 1 8 0-18 1-35 1 15 1 24 0-37 1 29 1-69 1-33 0 125 1-43 1-53 1-42 0 108 1-59 1 39 1 47 1-43 0-8 1 22 1-82 1 180 0-74 1-10 1 4 1-92 0 46 1-24 1 8 1-16 0 48 1 97 1-78 1-81 0 68 1-10 1 34 1-84 0 34 1-43 1-16 1-7 0 71 1 60 1 1 1-12 1-45 0-40 1 32 1-11 1-91 0 170 1-115 1 63 1 31 0 6 1-9 1-102 1 61 0-40 1 119 1-137 1 39 0-5 1 79 1-42 1 4 0-2 1-21 1-6 1-1 0 60 1-70 1 90 1-8 1 34 0 45 1-193 1-14 1 92 0-1 1 29 1-30 1 11 0 37 1-46 1 47 1-52 0-54 1 29 1 21 1 32 0-110 1 88 1 83 1-92 0 85 1-97 1 9 1-72 0 7 1 66 1-15 1-27 1 92 0-22 1-95 1 96 1 23 0-176 1 105 1-85 1 131 0-13 1-80 1 30 1 24 0 16 1-39 1-43 1 126 0-36 1-47 1 57 1-54 0 76 1-99 1 14 1 19 0 72 1-109 1 115 1-72 1 54 0 4 1-96 1 46 1 15 0-19 1 42 1-77 1 71 0-48 1 33 1-43 1 70 0-72 1 12 1 12 1 50 0 30 1-20 1-39 1 45 0 46 1-96 1 6 1 29 0 84 1-90 1-2 1 24 1-47 0 92 1-70 1 13 1-62 0 73 1-23 1-10 1 65 0-181 1 100 1-14 1 16 0 12 1-23 1 84 1-93 0 9 1-61 1 38 1 43 0-81 1 13 1 22 1 5 0 47 1-138 1 26 1 91 1-12 0 73 1-124 1 46 1 17 0 24 1-16 1 8 1 54 0-50 1-10 1-100 1-21 0 187 1-66 1 13 1-8 0-48 1 143 1-153 1 119 0-85 1 21 1 25 1-16 0 47 1-114 1 151 1 0 1-59 0 5 1-48 1 68 1 33 0-8 1 15 1-17 1-27 0 39 1 21 1-47 1 73 0-29 1-10 1 51 1-62 0 55 1-73 1 72 1 12 0 97 1-104 1-5 1 85 0 4 1-16 1-50 1 6 1 37 0-5 1-15 1-10 1 124 0-47 1-42 1-69 1 79 0 2 1 27 1 34 1-79 0 35 1 26 1-66 1-2 0-31 1 22 1 27 1-44 0 4 1-36 1 88 1-31 0 30 1-31 1-44 1 15 1 33 0 59 1-47 1-25 1-13 0-24 1 0 1 40 1-25 0 52 1-1 1-67 1 32 0-17 1-3 1 10 1 28 0-33 1 22 1-33 1 6 0 50 1-64 1 58 1 18 0 24 1-67 1 64 1-18 1 25 0-38 1-22 1 14 1-80 0 42 1 56 1-82 1 43 0-22 1 19 1 48 1-110 0 30 1 19 1-5 1 17 0 36 1 12 1-46 1 55 0-26 1-20 1-6 1 30 0-22 1 32 1 30 1-54 1 19 0 20 1-48 1-13 1-20 0 35 1 21 1-19 1 54 0-23 1-3 1 57 1-72 0-16 1 34 1-37 1-5 0 13 1-7 1 115 1-84 0-57 1 98 1 4 1-11 0-43 1 59 1-44 1-84 1 62 0 9 1 18 1 53 1-94 0-17 1 24 1 23 1-21 0 27 1-58 1 28 1-21 0 137 1-58 1 31 1-86 0 50 1-75 1 37 1 2 0 56 1-88 1 4 1-20 0 49 1-24 1-2 1 1 1 0 0 18 1-10 1-5 1-25 0 18 1 22 1 12 1 10 0-40 1 48 1-3 1-27 0 17 1 0 1-12 1 13 0-11 1 9 1 7 1 28 0-44 1 14 1 15 1 11 0-19 1-63 1 61 1-18 1 50 0-68 1 7 1 22 1 39 0-71 1 48 1-44 1-11 0 71 1-21 1-78 1-21 0 62 1 51 1-35 1-32 0 70 1-37 1 8 1-13 0-74 1 60 1-40 1 57 0-41 1 57 1-12 1-53 1 12 0 6 1-4 1 72 1-13 0 25 1-26 1-55 1 53 0 1 1-1 1 22 1-40 0-20 1 35 1-24 1-13 0-18 1 56 1-2 1-32 0 3 1 3 1-8 1 15 0 24 1-22 1 27 1 0 1-50 0 78 1-39 1 13 1-44 0-31 1 81 1-5 1 7 0-22 1-8 1-17 1 32 0-38 1-17 1 35 1-112 0 70 1-10 1 12 1 17 0 83 1-36 1-10 1-76 0 47 1-36 1 65 1 64 1-45 0-51 1-6 1 55 1-66 0 23 1-27 1 179 1-207 0 72 1-8 1 23 1 8 0-17 1 27 1 34 1-93 0 34 1 7 1-72 1 34 0 0 1-33 1 32 1-5 0 88 1-98 1 42 1-59 1 35 0-23 1 56 1 4 1-40 0-5 1 35 1-25 1 26 0-36 1 35 1-51 1 45 0-25 1 60 1-37 1-10 0-6 1-33 1-14 1 40 0 55 1-45 1 27 1-80 0 43 1 13 1-25 1 75 1-72 0 6 1 42 1-52 1 39 0-40 1 88 1-72 1 22 0 0 1-44 1 72 1-53 0 25 1-35 1-8 1 26 0 66 1-61 1 5 1 19 0 43 1-42 1 11 1-31 0-30 1 32 1-26 1 18 1 19 0-26 1 5 1-24 1-30 0 109 1-63 1 64 1-46 0-19 1 6 1 35 1 10 0-30 1 31 1-36 1-43 0 78 1-18 1 29 1-50 0-4 1 34 1-34 1 74 0-70 1 18 1 49 1 1 1-22 0-47 1-18 1 26 1-23 0 26 1 65 1-108 1 23 0 46 1-22 1-38 1-11 0 22 1 40 1-36 1-46 0 99 1-80 1 62 1-74 0 41 1-2 1 3 1 56 0-46 1 5 1 23 1-52 1-53 0 70 1 3 1-34 1-37 0 61 1 9 1 2 1-76 0 39 1-6 1 29 1 92 0-71 1-41 1 36 1 19 0-65 1 97 1 20 1-55 0-20 1-16 1 50 1 7 0-63 1 121 1-44 1-44 1 53 0-21 1-72 1 138 1-67 0 22 1-51 1 4 1-4 0-50 1 43 1 6 1 47 0-20 1-57 1 46 1-35 0-13 1 115 1-150 1 41 0-3 1 1 1 2 1-7 0 65 1-25 1 16 1-13 1-23 0 10 1 18 1 9 1-14 0 6 1 18 1-12 1-37 0-8 1 39 1 17 1 38 0-50 1-19 1 23 1-6 0-57 1 8 1 38 1-85 0 15 1-32 1 65 1 18 0-92 1 59 1 17 1-60 1 114 0 42 1-151 1 15 1-33 0 47 1 57 1-139 1 46 0 23 1-16 1-35 1 41 0 28 1-8 1 41 1-61 0-4 1-14 1 52 1-6 0 55 1-56 1-8 1 7 0-58 1 6 1 26 1 36 1-46 0-174 1 207 1 0 1-37 0 66 1-62 1 73 1-61 0-7 1 5 1-37 1 36 0 14 1-36 1-42 1-21 0 116 1-29 1 24 1-14 0 24 1-33 1 110 1-153 0 89 1-53 1 50 1-119 1 52 0-41 1 104 1-7 1-45 0 51 1-111 1 62 1-2 0 39 1-41 1 53 1 51 0-62 1 26 1-49 1-15 0 31 1-5 1 62 1-39 0-79 1 113 1 48 1-77 0-66 1 14 1 21 1 0 1 8 0-20 1 6 1 7 1 56 0-42 1 12 1 15 1-48 0 8 1 50 1-47 1 35 0 26 1-70 1-4 1-55 0 60 1-44 1 52 1 25 0 54 1-56 1 5 1-30 0-24 1 34 1-40 1-73 1 105 0 2 1-64 1 15 1-26 0 113 1 28 1-123 1-62 0 125 1 95 1-184 1 20 0 24 1 124 1-73 1 49 0-139 1 32 1 58 1 48 0 23 1-56 1 49 1-30 0 23 1 3 1-1 1 32 1-118 0 34 1 34 1-102 1 87 0-25 1 29 1 41 1 8 0-12 1-89 1 101 1-48 0 28 1-28 1 1 1 30 0-51 1 42 1-74 1 11 0 22 1-9 1-25 1-26 0-8 1 78 1-66 1 24 1-16 0 35 1 2 1-15 1-14 0 59 1-74 1 28 1 21 0-4 1 1 1-58 1 114 0-81 1 88 1-75 1 65 0 0 1-45 1 112 1-30 0 11 1-38 1 34 1-72 0-32 1-16 1-7 1 154 1-96 0-24 1 17 1 30 1 79 0-74 1-43 1 5 1-101 0 212 1-44 1-21 1-94 0-37 1 106 1-51 1-31 0 15 1-2 1-4 1 64 0 26 1-9 1-96 1 44 0 3 1 37 1-51 1-29 1 100 0-112 1 46 1 136 1-130 0-3 1-41 1 74 1 100 0-39 1-9 1-85 1 59 0 5 1-78 1-65 1 156 0-54 1-41 1 19 1-39 0-1 1 27 1 50 1-107 0 155 1-49 1 22 1-40 1 51 0-16 1-67 1 39 1 77 0-61 1 20 1 14 1 6 0-3 1-46 1-53 1 67 0-53 1 92 1-20 1-78 0 45 1-9 1-18 1 50 0-127 1 94 1-45 1 21 0-23 1-24 1 164 1-27 1 42 0-61 1-33 1-22 1 29 0-56 1 2 1 19 1 41 0-31 1-21 1-44 1 51 0-17 1 79 1-12 1-78 0 88 1-34 1-28 1-58 0-92 1 65 1 19 1 42 0-51 1-68 1 20 1 113 1-39 0-39 1 63 1-13 1-30 0 44 1-15 1 25 1 27 0-18 1-34 1 35 1-18 0-78 1 127 1-68 1-9 0 11 1-20 1-8 1 68 0-9 1-12 1 9 1 119 0-149 1 74 1-45 1 49 1-75 0 21 1-109 1-15 1-102 0 187 1 1 1-23 1-14 0 70 1-13 1 69 1-84 0-31 1 108 1-82 1 80 0-97 1 163 1-84 1-55 0 100 1-27 1-35 1 78 0-33 1 3 1-9 1-8 1 12 0-55 1 38 1-4 1 2 0 70 1-1 1-114 1 121 0-12 1-64 1 29 1 6 0-84 1 121 1-97 1 117 0 2 1-15 1-75 1-87 0 9 1 78 1-27 1 19 0 23 1-8 1-51 1 55 1 42 0-37 1 29 1-145 1 233 0-185 1 32 1-50 1-15 0 17 1 24 1 17 1 68 0-129 1 30 1 11 1 0 0 19 1 49 1-45 1 85 0-203 1 205 1-95 1 71 0-31 1-27 1 54 1-53 1 115 0-127 1-49 1 77 1 27 0-9 1 12 1 13 1-77 0-70 1 48 1 21 1 9 0-28 1-60 1 84 1-10 0-18 1 11 1 11 1 63 0 13 1-80 1-26 1-47 0 151 1-15 1-41 1 48 1-54 0-61 1 118 1-163 1 100 0-15 1-11 1 6 1 4 0-10 1-23 1 61 1-25 0-13 1 39 1 30 1-54 0 65 1-3 1 12 1 43 0-39 1-65 1 111 1-82 0-5 1 14 1 15 1-62 1-61 0 142 1-86 1-20 1 121 0-8 1-19 1-37 1 2 0 16 1 40 1-85 1 29 0-18 1 18 1-17 1 15 0 29 1-21 1-8 1-3 0-28 1 29 1-36 1 8 0 18 1-51 1 82 1-43 1-29 0 53 1 3 1-42 1 23 0-29 1-5 1 34 1 94 0-129 1 9 1 1 1 6 0 14 1-15 1 73 1-12 0-50 1-52 1 42 1-37 0 41 1 2 1-15 1 1 0 26 1 11 1-49 1 32 1 24 0 7 1 24 1-36 1-24 0 140 1-73 1 25 1-26 0 0 1 33 1-63 1 169 0-116 1 13 1-46 1-43 0 45 1-70 1 51 1 25 0-82 1 38 1-10 1 26 0-44 1 14 1-14 1 104 1-59 0-20 1 27 1-53 1 102 0-44 1-21 1 53 1 7 0-52 1 90 1-117 1 59 0-73 1 73 1 33 1-20 0-46 1-19 1 49 1 42 0-50 1-34 1 1 1 76 0-13 1-68 1-52 1 60 1 54 0-80 1 145 1-123 1 16 0-84 1 86 1 17 1-170 0 85 1 15 1 38 1 3 0 42 1-104 1 66 1-66 0 16 1-22 1 57 1-18 0 36 1-16 1 26 1-25 0-15 1 1 1-88 1 93 1 70 0-50 1-40 1 13 1 49 0-26 1-1 1 21 1-1 0-25 1 14 1-33 1-22 0-4 1 101 1-14 1-28 0-4 1 32 1 19 1-40 0-12 1-14 1 43 1 45 0-60 1-12 1 6 1 49 1-14 0-153 1 17 1 108 1-39 0-14 1-13 1 1 1 66 0-145 1 119 1-26 1-15 0 16 1 19 1 23 1-19 0-9 1-58 1 206 1-118 0 0 1 18 1-65 1 47 0 26 1-13 1-63 1 5 1-2 0 9 1 11 1-57 1 112 0 38 1-76 1 5 1 13 0-36 1-7 1-7 1 12 0 32 1-101 1 89 1 33 0-40 1-13 1 100 1-107 0 79 1-70 1 1 1-72 0-3 1 121 1-37 1 2 1-18 0 36 1 19 1-30 1-14 0-33 1 0 1-2 1 1 0-51 1 103 1-27 1-48 0 68 1-75 1 68 1 4 0 15 1-56 1 123 1-85 0-21 1 20 1 13 1 47 0-91 1 61 1-70 1 57 1-61 0 55 1-9 1 39 1 14 0-103 1 49 1-15 1 44 0-109 1 46 1-42 1 67 0 89 1-111 1 20 1 45 0 27 1-70 1 11 1 4 0 22 1-21 1-60 1 125 0-35 1-37 1-12 1 5 1 29 0-30 1 98 1-62 1-101 0 65 1 26 1-21 1-43 0 65 1-22 1-20 1-13 0 37 1 68 1-137 1 104 0-26 1-60 1-17 1 46 0-52 1 45 1 146 1-92 0-62 1 57 1-69 1 9 1 69 0 56 1-43 1-104 1 54 0 69 1-76 1-104 1 150 0-53 1 27 1-29 1-64 0 31 1 121 1-62 1-13 0 5 1 9 1 37 1 7 0-46 1-20 1 32 1 8 0-78 1 90 1-37 1-2 1 59 0-90 1 136 1-31 1-38 0-50 1-20 1 99 1-28 0 54 1-6 1-120 1 37 0 8 1 69 1-5 1 61 0-103 1 93 1-148 1 80 0-11 1-17 1-75 1 88 0-26 1 67 1-29 1 12 1 33 0-72 1 47 1-45 1 58 0-52 1 98 1-84 1-66 0 78 1 17 1-29 1 31 0-14 1-20 1 37 1 1 0 57 1-24 1-24 1-59 0-7 1 0 1 13 1-7 0 5 1-135 1 145 1 21 1-16 0-146 1 84 1 59 1-128 0 113 1-101 1 68 1 13 0 62 1-148 1 15 1 55 0 24 1 74 1-81 1 28 0-4 1 14 1 3 1-66 0 28 1-111 1 142 1-11 0 27 1-53 1 93 1-54 1-9 0 12 1-61 1 74 1-98 0 59 1-38 1-29 1 63 0-3 1 20 1-13 1-22 0 53 1-3 1 15 1 21 0-90 1 11 1-27 1 105 0-73 1-19 1-31 1 49 0 32 1-36 1-55 1 58 1-25 0 10 1-12 1-16 1 60 0-129 1 136 1 11 1-54 0-49 1-8 1-44 1 61 0 17 1 43 1-26 1-36 0 35 1 68 1-46 1-33 0 96 1-64 1 59 1-141 0-36 1 29 1 71 1-1 1-64 0-14 1 54 1 60 1 58 0-97 1 63 1-23 1 28 0-45 1-5 1 22 1 10 0 74 1-75 1 79 1-45 0 9 1-28 1-41 1 164 0-159 1 68 1-53 1 8 0 5 1-81 1 118 1 34 1-14 0 21 1-92 1 61 1-81 0 13 1 36 1-60 1 60 0 63 1-63 1-27 1 11 0 34 1-82 1 44 1-62 0 31 1-64 1 13 1 55 0-63 1 71 1-21 1-28 0 46 1-27 1 11 1 11 1 58 0 43 1-39 1 6 1-81 0 49 1-9 1 13 1 67 0-39 1-57 1-31 1-37 0 12 1-8 1 61 1-59 0 10 1 84 1-9 1-28 0-59 1 49 1 53 1-55 0-94 1 145 1-32 1-24 1 25 0-9 1 53 1-37 1 6 0-18 1 51 1 30 1-95 0-13 1 36 1 4 1-25 0 49 1-34 1 64 1 4 0-46 1-29 1 40 1-61 0 84 1-62 1-24 1 59 0 3 1 8 1-36 1 62 1-92 0 29 1 40 1-35 1-18 0 41 1 29 1-35 1 26 0-54 1-2 1-47 1-21 0 57 1 93 1-11 1 6 0 57 1-128 1 94 1-155 0 141 1-48 1-9 1-63 0 72 1-32 1 38 1-20 1 20 0-1 1 31 1-15 1-42 0 80 1-127 1 111 1-57 0-8 1-8 1 46 1-61 0 80 1-55 1 0 1-54 0-15 1 114 1-129 1 61 0 35 1-62 1-73 1 128 0-37 1-68 1 65 1 7 1-126 0 89 1-6 1 7 1 24 0 26 1-67 1 8 1 33 0 35 1-25 1-25 1-20 0 92 1-24 1-36 1-69 0 65 1 26 1-56 1 8 0 64 1-161 1 80 1 72 0-30 1 53 1-8 1-3 1-17 0-54 1 26 1 7 1-14 0 28 1-40 1-28 1-40 0 84 1 40 1-60 1 58 0-2 1-40 1-45 1 103 0-152 1 52 1 43 1 51 0 5 1-31 1 53 1-6 0-61 1 47 1-15 1 77 1-62 0-11 1-5 1-108 1 122 0 9 1-11 1 13 1 80 0-64 1-58 1 59 1-51 0 16 1-11 1 34 1-39 0-60 1 75 1-43 1-36 0 95 1-55 1 27 1 2 0 13 1-29 1 41 1 16 1-113 0 44 1 48 1-53 1-37 0-1 1 18 1 97 1-135 0 35 1 16 1-15 1 17 0 48 1-17 1-39 1 19 0 29 1-64 1 51 1-21 0-77 1 42 1-25 1 53 0-54 1 84 1-20 1 48 1-110 0 59 1-16 1-23 1 89 0-141 1 42 1 64 1-9 0-62 1 5 1 27 1 45 0-69 1-1 1 95 1-51 0-59 1 102 1-37 1-59 0 96 1-53 1 84 1-110 0-17 1 58 1-6 1-4 1-2 0 34 1-19 1-36 1 17 0 0 1 16 1-32 1 57 0-20 1-7 1-72 1 25 0-4 1 95 1-41 1 20 0 1 1-51 1 101 1-92 0 128 1-106 1 6 1 2 0-42 1 53 1-87 1-8 1 92 0-74 1 106 1-137 1 180 0-83 1 52 1-66 1 6 0 44 1-52 1-27 1 20 0 104 1-113 1-29 1 99 0-103 1 104 1-17 1-39 0-79 1 66 1 35 1-65 0-27 1 48 1-7 1 31 1 8 0-65 1 56 1 14 1 12 0-23 1 39 1-95 1 137 0-68 1-4 1-67 1 35 0 46 1 2 1 60 1 6 0-28 1 6 1-12 1 36 0 21 1-77 1-17 1 35 0-42 1 52 1-69 1 64 1-57 0 79 1-99 1 13 1-5 0 107 1-132 1-17 1 94 0-20 1-10 1-7 1 37 0-29 1 13 1 13 1-13 0-27 1 28 1 22 1-36 0 6 1-22 1-36 1 0 0 142 1-200 1 38 1 119 1-59 0 5 1-67 1 116 1-81 0 42 1-37 1 8 1 46 0 9 1-62 1-4 1-19 0-14 1 48 1 20 1-170 0 138 1 30 1 26 1 3 0 1 1-6 1-1 1 12 0 2 1-62 1 80 1-68 1-25 0 54 1-16 1-49 1 19 0 55 1 34 1-97 1-20 0-27 1 96 1-49 1 3 0 11 1 106 1-40 1 0 0 5 1 16 1-19 1-43 0 25 1 82 1-131 1 109 0-131 1 85 1-47 1 46 1-24 0 29 1-64 1-12 1 14 0-61 1 93 1 82 1-130 0-56 1 62 1 56 1-32 0 82 1-29 1-21 1-94 0 92 1-57 1 3 1 6 0-24 1 45 1-30 1 39 0-45 1 53 1-41 1 65 1-9 0-22 1-81 1 104 1-40 0-98 1 66 1 13 1 26 0 11 1-40 1-27 1 4 0 62 1 24 1-44 1-45 0 3 1 57 1 24 1 5 0-51 1-50 1-7 1 106 0 65 1-180 1 43 1 103 1-5 0 4 1-81 1 36 1-31 0 84 1 9 1-101 1 104 0-12 1-79 1 60 1 36 0-6 1-35 1 31 1-135 0 69 1 2 1 36 1-3 0-23 1 36 1-27 1 14 0-5 1-9 1-53 1-19 1 62 0-1 1-4 1 44 1-55 0-16 1 104 1-134 1 72 0 9 1-12 1 14 1-46 0 36 1-75 1 46 1-25 0 72 1-32 1-64 1 60 0 16 1-103 1 109 1-18 0-16 1-67 1 51 1 97 1-148 0 74 1-123 1 85 1 17 0 14 1-15 1 14 1-35 0 18 1 21 1-49 1 36 0 46 1-51 1 72 1-51 0 0 1-12 1-25 1-21 0 49 1-10 1 19 1-25 0-27 1-13 1 79 1-58 1 29 0-12 1 72 1-111 1 78 0-13 1-22 1-72 1 124 0-6 1 17 1-40 1 7 0-35 1 21 1 36 1-39 0 9 1 33 1-36 1-10 0 5 1-10 1 89 1-66 0 0 1 17 1-23 1 40 1 97 0-88 1-44 1-14 1 13 0-28 1 20 1-19 1 14 0 17 1-16 1 27 1-51 0 24 1-28 1 25 1 109 0-105 1-33 1 25 1-43 0 76 1-64 1 27 1-36 0 16 1 96 1-23 1-58 1-22 0 1 1 127 1-106 1 35 0-129 1 75 1 64 1-90 0 81 1-19 1-12 1 82 0-110 1 23 1 29 1-69 0 84 1-81 1 70 1-57 0 76 1-2 1-77 1 84 0-52 1 12 1-17 1-28 1 71 0-58 1 28 1 19 1-23 0 45 1-60 1 49 1-80 0 23 1 51 1 48 1-86 0 42 1-19 1-42 1 101 0-95 1 9 1-31 1 93 0-50 1 11 1-15 1 57 0-49 1 86 1-74 1 69 1-6 0-39 1-9 1-19 1-5 0 10 1-68 1 85 1 45 0-109 1 20 1 8 1 4 0 36 1-54 1-11 1-2 0 102 1-34 1 114 1-137 0-10 1-11 1 12 1-4 0 14 1 32 1 1 1-54 1 101 0-37 1 67 1-108 1-6 0-14 1 28 1 7 1-31 0 1 1 37 1 5 1-81 0 64 1-6 1 90 1-94 0-37 1 34 1 95 1-66 0-43 1 31 1-3 1-7 0 24 1-5 1-72" stroke="#ff0000"/>
<path d="M333 1828l1 20 1 6 0-51 1 32 1 15 1-15 0 59 1-57 1-10 1-11 0 12 1 12 1-26 1-15 0 55 1-17 1 14 1-66 0 30 1-36 1 37 1-54 0 42 1-5 1-37 1 14 0 6 1-47 1 21 1-38 1-42 0 90 1-13 1 35 1-17 0-43 1 0 1 3 1 1 0 38 1 21 1-95 1-39 0 36 1 36 1-41 1 37 0-23 1-5 1-20 1-34 0 20 1 118 1-99 1-2 0-34 1 39 1 25 1 0 1-6 0 13 1-74 1 24 1 34 0-30 1-51 1 79 1 7 0 12 1 30 1-19 1-2 0-46 1-2 1-10 1 50 0-67 1 75 1-18 1-68 0-4 1-1 1-46 1 38 0 53 1 5 1 26 1-48 1 47 0-1 1 15 1 24 1-160 0 68 1 121 1-95 1 27 0 53 1-74 1-14 1-16 0-18 1 66 1-24 1-28 0 5 1 2 1 9 1-60 0 83 1 0 1-104 1 53 0-20 1 30 1 38 1-5 1-29 0 33 1-8 1 5 1-34 0-4 1-45 1 88 1-30 0 27 1-53 1 100 1-112 0 23 1 21 1 4 1 2 0-73 1 22 1 22 1-36 0 13 1 73 1 6 1-19 0-62 1 34 1-36 1 35 1 23 0 34 1-37 1-94 1 108 0 4 1-11 1-55 1 51 0 45 1-16 1-12 1-7 0-42 1-53 1 43 1 20 0 20 1 17 1-36 1-33 0 21 1 34 1-35 1 25 0-8 1 2 1-101 1 90 1-38 0 33 1 9 1-56 1 9 0-29 1 73 1-71 1 51 0 36 1-70 1 84 1-7 0 25 1-98 1 80 1-53 0 29 1-60 1 60 1-16 0-36 1 92 1-31 1-15 0 24 1-7 1-14 1-8 1 26 0 24 1-102 1 105 1 1 0 18 1-49 1-25 1 65 0-28 1 67 1-42 1-47 0 56 1-66 1 45 1-31 0 41 1 21 1-66 1-16 0 44 1-37 1 47 1-22 0-61 1 59 1 34 1-61 1 15 0 28 1-14 1 87 1-129 0-51 1 60 1 88 1-147 0-52 1 83 1 69 1-19 0-43 1-12 1-42 1 20 0 115 1-97 1-2 1-86 0 99 1 29 1-34 1-36 0 88 1-118 1 58 1-33 1 2 0-1 1-40 1-19 1 80 0-12 1-50 1 34 1 34 0-32 1 31 1-13 1 101 0-125 1-81 1 50 1 5 0 25 1 31 1-34 1 17 0 1 1-7 1 106 1-113 0-14 1-14 1 49 1-22 1 13 0 47 1 35 1-128 1 91 0-67 1 97 1-32 1 5 0 17 1 4 1-26 1 80 0-42 1-25 1-24 1 33 0 11 1-106 1 84 1-45 0 41 1-108 1 56 1 42 0-113 1 89 1-31 1-3 1 100 0-121 1 94 1 6 1 44 0 41 1-5 1-155 1-5 0 93 1 10 1-113 1 98 0-53 1-73 1 58 1-5 0-25 1 151 1-95 1 91 0-78 1 54 1-51 1 23 0-4 1-50 1 41 1 14 1-82 0 50 1 54 1-114 1 41 0-14 1-4 1 28 1 27 0-22 1 1 1-24 1-26 0 61 1 26 1-79 1 74 0 38 1-55 1 6 1 49 0-143 1 118 1-85 1 16 0-30 1 68 1-5 1-7 1-20 0-23 1-26 1 134 1-114 0-75 1 105 1 35 1-62 0 92 1-110 1 88 1-38 0 1 1-33 1 83 1-85 0 26 1-58 1 51 1 23 0 84 1-62 1-95 1 84 0 9 1-26 1-51 1 102 1-152 0 44 1-7 1 27 1-72 0 90 1-51 1 17 1 76 0-49 1-40 1 46 1 5 0-19 1 33 1 18 1-46 0 37 1-70 1-4 1-21 0 14 1 47 1-18 1 78 0 3 1-19 1-72 1 85 1-39 0-15 1-1 1 14 1 63 0-110 1 70 1 73 1-20 0 44 1 9 1-82 1 79 0-102 1 170 1-195 1-32 0 10 1 55 1-61 1 54 0-34 1 57 1-24 1-17 0-1 1 28 1-35 1-14 1 0 0 12 1 22 1-64 1-4 0 96 1 54 1-86 1-41 0 1 1 97 1-102 1 91 0-66 1 49 1-10 1-26 0 41 1-44 1 56 1-3 0-1 1 21 1-74 1-7 0 34 1 26 1-69 1 3 1-21 0 18 1 5 1-54 1 77 0-15 1 55 1-56 1 3 0-6 1-49 1 51 1-37 0 34 1 9 1 59 1-91 0-8 1 53 1-9 1 53 0-56 1 28 1-50 1 28 0-28 1 56 1 38 1-62 1 29 0-104 1 56 1-51 1 37 0 33 1 59 1-50 1-33 0 21 1-9 1 11 1 58 0-4 1-27 1-33 1-59 0 133 1-58 1-37 1-25 0 33 1 38 1-61 1 11 0 182 1-159 1 77 1 43 1-54 0-13 1 45 1-165 1 123 0-61 1-14 1-73 1 97 0-62 1 141 1-128 1 94 0 27 1-150 1 23 1-2 0 56 1 68 1-17 1-62 0 5 1-4 1 101 1-47 0-76 1 27 1-42 1 91 1-67 0-30 1-33 1 7 1 132 0-4 1-46 1 34 1 66 0-167 1 36 1-27 1 30 0-31 1 36 1-45 1-24 0 120 1-67 1 96 1-122 0 75 1 36 1 33 1-76 0-93 1 65 1 97 1 19 1-209 0 156 1 29 1-81 1-20 0-45 1 58 1 14 1-48 0 65 1-46 1 11 1-14 0 66 1 4 1-41 1-6 0 75 1-25 1-34 1 19 0-123 1 110 1-73 1 56 0-1 1-13 1-31 1 52 1-75 0 169 1-136 1 39 1 18 0-83 1 26 1 54 1 22 0-56 1 78 1-57 1 67 0-38 1 38 1-32 1-81 0-22 1 82 1-22 1 57 0-83 1-28 1 84 1 15 0-55 1 28 1-51 1-71 1 51 0-18 1-50 1 61 1-23 0 17 1 12 1-114 1 111 0-67 1 57 1-27 1 6 0-41 1-33 1-27 1 143 0-104 1 28 1 13 1-13 0-21 1 5 1-13 1-103 0 103 1-29 1 66 1-103 1 65 0-3 1 29 1-34 1-37 0 72 1 2 1-30 1-15 0-34 1-45 1 2 1 129 0-3 1-71 1 75 1-79 0-13 1 117 1-78 1-52 0 45 1 32 1-76 1 37 0 66 1-53 1 24 1 32 1 2 0-59 1 17 1-104 1 202 0-82 1-23 1-10 1-23 0 22 1 0 1 30 1 136 0-99 1-18 1-40 1-43 0 38 1 6 1-39 1 59 0-24 1 88 1-74 1 31 0 50 1-40 1 16 1-132 1 10 0 87 1 11 1-39 1 76 0-111 1 57 1 72 1-143 0-7 1 37 1-35 1 127 0-31 1 11 1-61 1-35 0-69 1 178 1-30 1-74 0 76 1-16 1 28 1-56 0 53 1-68 1 24 1-7 1 41 0-12 1 45 1-19 1-2 0 130 1-149 1 31 1-104 0 98 1 103 1-173 1 9 0 112 1-35 1 51 1-86 0-61 1 19 1 72 1-56 0 35 1-54 1 36 1-67 0-23 1 35 1 6 1 5 1-13 0 53 1 56 1-62 1-59 0 42 1-35 1 40 1 31 0-51 1-53 1 37 1 28 0-21 1-38 1 15 1 27 0 57 1-11 1-150 1 122 0-41 1 29 1 89 1-120 0 141 1-26 1-78 1 65 1-38 0 68 1-67 1-53 1 52 0 34 1-20 1-72 1 111 0-16 1-87 1 37 1 6 0 13 1-27 1-17 1 15 0 96 1-102 1 101 1-153 0 85 1-53 1 23 1 62 0-86 1 31 1-89 1 58 1 18 0-88 1 43 1 60 1 30 0-34 1-50 1 5 1 62 0 17 1 17 1-89 1-25 0 34 1 135 1-138 1 138 0 26 1 18 1-235 1 36 0 184 1-63 1-76 1 70 0-60 1 28 1-65 1 72 1-64 0 34 1-51 1 21 1-35 0 31 1-63 1 150 1-53 0-107 1 76 1 136 1-138 0 30 1-66 1 50 1-54 0 69 1-74 1 166 1-85 0-15 1 82 1-114 1 52 0-93 1 139 1-91 1 12 1 47 0-132 1 87 1 64 1-44 0-22 1 11 1 8 1-2 0-77 1 0 1-50 1 151 0-11 1-41 1-76 1 107 0-154 1-2 1 66 1-160 0 179 1-31 1 144 1-149 0 87 1-63 1 40 1 56 1-131 0 5 1 115 1-38 1-55 0 41 1-73 1 170 1-114 0 98 1-17 1-8 1-70 0 24 1 41 1 6 1-11 0-92 1 54 1 40 1-59 0 92 1 24 1-17 1-82 0 52 1-14 1-2 1 38 1-60 0 29 1 65 1 7 1-21 0 14 1-24 1-27 1 24 0-48 1 69 1 35 1 18 0-86 1 82 1-21 1 16 0-18 1 25 1 50 1-121 0 107 1-46 1 57 1-56 0 53 1-92 1 41 1 68 1-100 0 114 1-37 1-47 1 48 0-46 1 34 1 27 1-53 0 33 1 64 1-90 1 37 0 41 1-17 1-84 1-1 0 104 1-63 1-13 1 34 0-32 1 45 1-21 1-36 0 32 1 0 1 3 1 29 1-3 0-5 1-3 1 22 1-84 0 94 1-14 1-4 1-38 0 52 1-41 1 25 1-3 0-41 1-13 1-10 1 60 0-56 1 1 1 23 1-7 0 16 1 13 1-32 1-29 0 46 1-22 1-8 1 9 1-22 0 35 1-19 1 47 1 14 0-16 1-14 1 27 1-52 0 13 1 31 1-44 1 16 0-3 1 6 1 12 1-34 0 12 1 6 1-14 1 28 0-32 1-11 1 52 1-41 0-47 1 26 1 45 1 54 1-39 0-31 1 25 1 5 1 16 0-38 1 15 1 14 1 33 0-102 1 48 1-14 1 8 0-63 1 30 1 61 1-41 0 72 1-67 1 11 1 4 0-53 1 13 1 4 1-18 0 25 1-1 1 25 1-50 1 35 0 44 1 8 1-4 1 59 0-118 1 20 1-15 1 60 0-5 1-122 1 141 1-23 0 22 1-39 1-82 1 95 0-53 1-13 1 53 1 10 0-27 1-15 1 65 1-41 0-35 1 70 1-41 1-20 1 34 0-2 1 6 1 3 1 36 0-3 1-32 1-14 1-25 0 28 1-3 1-65 1 104 0-44 1 6 1-13 1 23 0-8 1 7 1 12 1-24 0 32 1-81 1 78 1-77 0 36 1-15 1-13 1 83 1-48 0 0 1 31 1 10 1-29 0 52 1-98 1 49 1-35 0 11 1 16 1-9 1 8 0-54 1 33 1-19 1 2 0-10 1 6 1-25 1 55 0 9 1-20 1 4 1-1 0-31 1 0 1 56 1 32 1-78 0 14 1 43 1-30 1 12 0-19 1 28 1 0 1-22 0 10 1-26 1 16 1 39 0-57 1-10 1 73 1-8 0-38 1 23 1 43 1-39 0 0 1-19 1-23 1 50 0-2 1-38 1-19 1 17 1-25 0 22 1-14 1 53 1-20 0-30 1 43 1 0 1 39 0-56 1 29 1 23 1-83 0 35 1-37 1 60 1-22 0 7 1 0 1 53 1-82 0 44 1-10 1 24 1-73 0 84 1-89 1 61 1 3 1 6 0 0 1 2 1 41 1-46 0-47 1-9 1 44 1-37 0 33 1-24 1 5 1 41 0-26 1-24 1 60 1-14 0 52 1-93 1 44 1-18 0-41 1 76 1-71 1 27 0 17 1-68 1 26 1 27 1-33 0 36 1 8 1-16 1-30 0 66 1-11 1-63 1 66 0-32 1-3 1-3 1 17 0-16 1-51 1 26 1 11 0-31 1 22 1 57 1-59 0 9 1-17 1 29 1 6 0 6 1 37 1-55 1 34 1-1 0-7 1-126 1 134 1-64 0 99 1-106 1 34 1 18 0-6 1 23 1 32 1-65 0-9 1-4 1-19 1 55 0-18 1 70 1-43 1-11 0-19 1-21 1 9 1 29 0 21 1-2 1-4 1-10 1-21 0 32 1 40 1-9 1-110 0 40 1 50 1-3 1-28 0 11 1 0 1 65 1-14 0 6 1-72 1 11 1-41 0 41 1 0 1 2 1-20 0 40 1-76 1 85 1-49 0-11 1-23 1 72 1-9 1-15 0-26 1-4 1 105 1-68 0-9 1-33 1 33 1 13 0 0 1 52 1-68 1 91 0-115 1 84 1-36 1 33 0-52 1 9 1-8 1-10 0-1 1 27 1-27 1 7 0-7 1 15 1 70 1-61 1-5 0 17 1 9 1-25 1 52 0-74 1-16 1 38 1-26 0 51 1 3 1-22 1 14 0-35 1 6 1-33 1 52 0-39 1 64 1-16 1-24 0 66 1 29 1-70 1-17 0 49 1-27 1-12 1-22 1-28 0 77 1-14 1-60 1 7 0-15 1 51 1-29 1 84 0-78 1 35 1 16 1-5 0-50 1-15 1 46 1-6 0-40 1 54 1-27 1-9 0-62 1 103 1 67 1-97 0-2 1 29 1 7 1 12 1-46 0 11 1-8 1 5 1-42 0 23 1 13 1 25 1-19 0-15 1-39 1 17 1 23 0-30 1 8 1 28 1-23 0 41 1-36 1-47 1 33 0 4 1-4 1 8 1 44 0-22 1 20 1-29 1-16 1-33 0 60 1 19 1-33 1 10 0-8 1 6 1-16 1 24 0-23 1-24 1 26 1-8 0 23 1-38 1-8 1 47 0-9 1 6 1-6 1 13 0-59 1 19 1 6 1 1 0 12 1-27 1 35 1 4 1 11 0-57 1 2 1 1 1 6 0 99 1-66 1-16 1 9 0 58 1-51 1-19 1 24 0 18 1-18 1 65 1-77 0 28 1-20 1 0 1-3 0-44 1 71 1-14 1 43 0-37 1 31 1-109 1 61 1 10 0-45 1 44 1-27 1 21 0 8 1-13 1 16 1-7 0 21 1 5 1-72 1 23 0 27 1-13 1 37 1-28 0 48 1-51 1 4 1 14 0-17 1 21 1-44 1 26 0 6 1 40 1-74 1 108 1-86 0 23 1-51 1 20 1 7 0 24 1-11 1-32 1 101 0-3 1-93 1 13 1 120 0-101 1-9 1 17 1-35 0 14 1 47 1-10 1-29 0-6 1-1 1-10 1 90 0-83 1 63 1-71 1-45 1 7 0 63 1 54 1-90 1-23 0 20 1-5 1 34 1-32 0 27 1-6 1-19 1-51 0 31 1 30 1-8 1 26 0-4 1-20 1 42 1-50 0 24 1-40 1 64 1-32 0 28 1-37 1 54 1-30 1-22 0 65 1 24 1-63 1 15 0 9 1-66 1 66 1-57 0 10 1-25 1 7 1-25 0 17 1 12 1 7 1 10 0-25 1 11 1 10 1 16 0-28 1 57 1-49 1 17 0 13 1-2 1-30 1-3 1 32 0-11 1 1 1-18 1-8 0 12 1 28 1 20 1-66 0 47 1-53 1 14 1-37 0 43 1 0 1 46 1-71 0 16 1 48 1-30 1-50 0 30 1-11 1 26 1-6 0-14 1 41 1-38 1 48 1-53 0 67 1-2 1-15 1 24 0-61 1 44 1-28 1-3 0 3 1 12 1 20 1 10 0-59 1 118 1-57 1-12 0-17 1 5 1-23 1 15 0-16 1 43 1-29 1-32 0 48 1-23 1 40 1-46 1 25 0-35 1 5 1 22 1 25 0-29 1 45 1-94 1 45 0-7 1-29 1 23 1 51 0-39 1 13 1-16 1 14 0 59 1-34 1-55 1 23 0 39 1-11 1-11 1 6 0 59 1-85 1 33 1-53 1 52 0-4 1 3 1-51 1 53 0-24 1 13 1-40 1 33 0 50 1-97 1 9 1 32 0 57 1-71 1 32 1 24 0-17 1-96 1 99 1-13 0 11 1-35 1 46 1-38 0 32 1-58 1 91 1-55 1-17 0 9 1 61 1 7 1-61 0-5 1 23 1-47 1 7 0 55 1 80 1-82 1-19 0-16 1 59 1-18 1 38 0 12 1-115 1-29 1 35 0 74 1-57 1-61 1 21 0 31 1 26 1 3 1-27 1-103 0 115 1 2 1-14 1 18 0-31 1 62 1-30 1 22 0-53 1 14 1 26 1-5 0-22 1-47 1 24 1 9 0 43 1 16 1 3 1-22 0-35 1-27 1 17 1 58 0 11 1-44 1-6 1 69 1-37 0-47 1 73 1-66 1-6 0 33 1-9 1 3 1-13 0-42 1 13 1 9 1 24 0 16 1-9 1 35 1-12 0-22 1 53 1-42 1-3 0 11 1-4 1 21 1-70 0 114 1-39 1 27 1-71 1-11 0-19 1 64 1-41 1 43 0-13 1-28 1 54 1-37 0 50 1-66 1-9 1 61 0-36 1 28 1 27 1-31 0-17 1 14 1-2 1-64 0 27 1-22 1-12 1 24 0-66 1 62 1 15 1 25 1-6 0-11 1 10 1 1 1-55 0 99 1 32 1-64 1 3 0 18 1-35 1 17 1-45 0 59 1-28 1 67 1-47 0-38 1 26 1-15 1 17 0 13 1-22 1 9 1-3 0 30 1-6 1 61 1-82 1 25 0-9 1-42 1 13 1-13 0 66 1-74 1 11 1-13 0 17 1-49 1 79 1-44 0 2 1-17 1 16 1 27 0-22 1-45 1 19 1 41 0-35 1 5 1-38 1 46 0-32 1-17 1 48 1-56 1 61 0 2 1-19 1 31 1-19 0 37 1-20 1-6 1 45 0-60 1-8 1 21 1-23 0 3 1 39 1-31 1 0 0 27 1-30 1 39 1 53 0-96 1 7 1-38 1 57 0-28 1 47 1 11 1-25 1-15 0 13 1-37 1-3 1 70 0-23 1-65 1 3 1 71 0-15 1-73 1 76 1-58 0 88 1-51 1 28 1-26 0-26 1 24 1-16 1-9 0-12 1 29 1 62 1-11 0-70 1 4 1-11 1 38 1 8 0 41 1-20 1-69 1 56 0 22 1-92 1 29 1-5 0 0 1 3 1 25 1-54 0 38 1 10 1-60 1 35 0-14 1-80 1-147 1 261 0-84 1 62 1 22 1 0 0-43 1-28 1 56 1-14 1-1 0 2 1 33 1-84 1 98 0-21 1-89 1 67 1 34 0-38 1-75 1 82 1 32 0-111 1 61 1 44 1-38 0 89 1-98 1-1 1 21 0 41 1-76 1 37 1-27 0 76 1-58 1-42 1 1 1 82 0-43 1 19 1-20 1-14 0-62 1 19 1 71 1-43 0 73 1 23 1 28 1-45 0-112 1 73 1-14 1-5 0 112 1-71 1 1 1-55 0 32 1 119 1-32 1-83 0-2 1 60 1 6 1-63 1 43 0-67 1 16 1 5 1-86 0 104 1 10 1-43 1 71 0-116 1 0 1 31 1 2 0 84 1-25 1-50 1 3 0-34 1 26 1-40 1 9 0 104 1-37 1-67 1 32 0-17 1-33 1 70 1-40 1-67 0 61 1 41 1-22 1 33 0 28 1-77 1 11 1 59 0-110 1 80 1-44 1-18 0 28 1 39 1 40 1-76 0-27 1 59 1-25 1-59 0 93 1-141 1 90 1 57 0-69 1 19 1-62 1 109 1-77 0 62 1-44 1-35 1 60 0-39 1 66 1-41 1 57 0-7 1-10 1 60 1-15 0-22 1-127 1 93 1 52 0-3 1-47 1 41 1-38 0 43 1-7 1-74 1 102 0-160 1 115 1 35 1-79 1-21 0-5 1 36 1 34 1-25 0-9 1-24 1 14 1 19 0-6 1 108 1-51 1-63 0 47 1-21 1 21 1-31 0 21 1 55 1-31 1-75 0 59 1 34 1-53 1 41 0-109 1 54 1 48 1-26 1-95 0 84 1 27 1-102 1 99 0-84 1 78 1-72 1-26 0 2 1 33 1 16 1-14 0-16 1-14 1 24 1-3 0 30 1 12 1-77 1 33 0-8 1-38 1 102 1-10 0-7 1-46 1 107 1-18 1-50 0 94 1-81 1-38 1 43 0 49 1-2 1 9 1-34 0-45 1 1 1 125 1-63 0-45 1 19 1 82 1-116 0 1 1 25 1-5 1-37 0 94 1 28 1-95 1-78 0 129 1-60 1-44 1 27 1 1 0-9 1 119 1-25 1-72 0-24 1 41 1 13 1 2 0 59 1-85 1 105 1-64 0 10 1-36 1 31 1 34 0-55 1-60 1 106 1-85 0 82 1-21 1-1 1 73 0-161 1 37 1 6 1 72 1-76 0 63 1-94 1 119 1-87 0 92 1-1 1-66 1-21 0-20 1 65 1 13 1-60 0 95 1 4 1-71 1 11 0 18 1-55 1 106 1-83 0-68 1 102 1 29 1-94 0 8 1-27 1 21 1 43 1-9 0 45 1-133 1 118 1-12 0-59 1 27 1-45 1 75 0-42 1-45 1-22 1 81 0-14 1-50 1 103 1-42 0-15 1 44 1-35 1-9 0-72 1 5 1 113 1 9 0-71 1 80 1-28 1 27 1 15 0-59 1 65 1-32 1-63 0-21 1 95 1-12 1-1 0 22 1-73 1 18 1 9 0-8 1-8 1 19 1 14 0-19 1-23 1 37 1-28 0 53 1-70 1 31 1 79 0-72 1-17 1 64 1 5 1-63 0 34 1 36 1-35 1-20 0 33 1 0 1-17 1-4 0-34 1 44 1-14 1 32 0-50 1 92 1-55 1 7 0 7 1-37 1-14 1 74 0-57 1 2 1-27 1 59 0-55 1 33 1-30 1 71 1 9 0-20 1-44 1-17 1-16 0 70 1 13 1-58 1 55 0-53 1-29 1 62 1 17 0-85 1 46 1 10 1-31 0-27 1 49 1-42 1 43 0-43 1 45 1-23 1 27 0-18 1 5 1 13 1-6 1-16 0 11 1 17 1-25 1-22 0 89 1-23 1-7 1-27 0-43 1 65 1-47 1 31 0-27 1 36 1-43 1 46 0-52 1-13 1 82 1 11 0 14 1-59 1 30 1-6 0 4 1-66 1 25 1 0 1 55 0-29 1-29 1 6 1-12 0-32 1 28 1 1 1 85 0-47 1-1 1-4 1 36 0-24 1-11 1 26 1-18 0 43 1-32 1-13 1-24 0 24 1 8 1 6 1-17 0 21 1-25 1 29 1-24 1 31 0 16 1 5 1-65 1 37 0-6 1-75 1 94 1-32 0 25 1-22 1-32 1 27 0-57 1 75 1-6 1 16 0-41 1 18 1-17 1 18 0-39 1 33 1-19 1 0 0 17 1 19 1-45 1-22 1 60 0-79 1 36 1-8 1-5 0 48 1-93 1 39 1 28 0-29 1 38 1 61 1-95 0 4 1 20 1 14 1-46 0 58 1-18 1 13 1-9 0-14 1 45 1-35 1-45 0 92 1-13 1 21 1-36 1-2 0 24 1-3 1-14 1-15 0 38 1-44 1 4 1 22 0-19 1 12 1-16 1 5 0 7 1-22 1 14 1-53 0 22 1 13 1 29 1-25 0 5 1-8 1 9 1 31 0-10 1-29 1-19 1 23 1 13 0-6 1-24 1 27 1 5 0-15 1-18 1 48 1-16 0-17 1 16 1-25 1-14 0 37 1-69 1 52 1-29 0 22 1 62 1-17 1-38 0-8 1-6 1 59 1-23 0-39 1-16 1 16 1 56 1-18 0 1 1-3 1-41 1-3 0-2 1 58 1-44 1 63 0-29 1-13 1 37 1-35 0 43 1-36 1-24 1 40 0 0 1-74 1 49 1-32 0 39 1 44 1-17 1 29 0-40 1-48 1 63 1-27 1-34 0-22 1 74 1-34 1 13 0-5 1 8 1-37 1 64 0-54 1-15 1 25 1 73 0-33 1 16 1-126 1 65 0 6 1 41 1-2 1-22 0-51 1-6 1 24 1 19 0 52 1-55 1-13 1-25 1 73 0-42 1 38 1-25 1 37 0 1 1-6 1-2 1 16 0 42 1-80 1 11 1 9 0 12 1-16 1-34 1 46 0-57 1 87 1-17 1-44 0 76 1-56 1-26 1 45 0-77 1-12 1 36 1 5 1-18 0-3 1 34 1-2 1-66 0 45 1 14 1 19 1 47 0-55 1-12 1 6 1 5 0-27 1 15 1 9 1 10 0-3 1-17 1 15 1-43 0 23 1 2 1-58 1 32 0 55 1 2 1-26 1 18 1-48 0 9 1-18 1-5 1 6 0 68 1-12 1-15 1-40 0 12 1-29 1 13 1 2 0 45 1-8 1-28 1 57 0 22 1-100 1-9 1 101 0-47 1 34 1 22 1-26 0-45 1-4 1 7 1-31 1 57 0-13 1-36 1 17 1 38 0 14 1-86 1 48 1-14 0-32 1 35 1 14 1-32 0 16 1 16 1-42 1 7 0-11 1-52 1-83 1 11 0 10 1 131 1-71 1-8 0 26 1-112 1 26 1 39 1-94 0 33 1-7 1 46 1 71 0-111 1 59 1 25 1-80 0-6 1 58 1-50 1-16 0 24 1 15 1-76 1 67 0-64 1 48 1 10 1-68 0 71 1-34 1 2 1-22 0 57 1 62 1 13 1-2 1-31 0-36 1 9 1 13 1-7 0 25 1-33 1-12 1-85 0 93 1 18 1-7 1 8 0-71 1 74 1-137 1 120 0-60 1-51 1 14 1-11 0 91 1-88 1 22 1-42 0 65 1 5 1 72 1-74 1 50 0-54 1-55 1 113 1-37 0 21 1 4 1 49 1 18 0-132 1-40 1-13 1 66 0-38 1 27 1 42 1-14 0-36 1 17 1 90 1-90 0 31 1-34 1 23 1 59 0 7 1-18 1-54 1-7 1 55 0-92 1 143 1-140 1 72 0 2 1-85 1 72 1-1 0 28 1-48 1 6 1-38 0 7 1 30 1 21 1-7 0 17 1-18 1-1 1-31 0 4 1 36 1-26 1 103 0-87 1 75 1-78 1-37 1 23 0 47 1-36 1 10 1-55 0 46 1 107 1-78 1 1 0-62 1 49 1 31 1-80 0 52 1 25 1-67 1 63 0-9 1-6 1-63 1 2 0-13 1 85 1-110 1 106 0 14 1-16 1 47 1-43 1-21 0-21 1-44 1 41 1 25 0-20 1 55 1-53 1 0 0-17 1 31 1-57 1 89 0-12 1-7 1-52 1 60 0-41 1-10 1 6 1-22 0 109 1-167 1 83 1-68 0 34 1 13 1-22 1-5 1-51 0 92 1-26 1 98 1-83 0-4 1 5 1 12 1-59 0 1 1 18 1 53 1-32 0 7 1-33 1 15 1 47 0-44 1-44 1 58 1 59 0-4 1-49 1-21 1 110 0-90 1-38 1 0 1 106 1-46 0-48 1 24 1 45 1 27 0-39 1-19 1 71 1-23 0-56 1 3 1 59 1-58 0 51 1 21 1-34 1 47 0-34 1-1 1-98 1 47 0-52 1 132 1-53 1 42 0 35 1-83 1 51 1-66 1-71 0 83 1 11 1 11 1 32 0-49 1 17 1-94 1 97 0-39 1 5 1-23 1 83 0-23 1-81 1 20 1 70 0-121 1 196 1-94 1-3 0-33 1 69 1-52 1-5 0-29 1 112 1-38 1-10 1-76 0-46 1-7 1 175 1-108 0 23 1 2 1 39 1-25 0 4 1-31 1 20 1-111 0 155 1-33 1 1 1-33 0-36 1 41 1-102 1 95 0-49 1 57 1 32 1-110 0 125 1 41 1-25 1-26 1-38 0 63 1-1 1-37 1-15 0 57 1-30 1 46 1-40 0-12 1-7 1-23 1 78 0 17 1-17 1 0 1 4 0-28 1 33 1-27 1 25 0 14 1 24 1-42 1 28 0-29 1 24 1 45 1-29 1 15 0 9 1 30 1-53 1-2 0 42 1-52 1 0 1 54 0-1 1-44 1-17 1 10 0 77 1-23 1-47 1 51 0-69 1-2 1 65 1-39 0-14 1 1 1 22 1-5 0 4 1-54 1 25 1-18 1 36 0 1 1-5 1 38 1 12 0-91 1 73 1 5 1-4 0 20 1-51 1 36 1-7 0-21 1 24 1-61 1-6 0 61 1-33 1-4 1 3 0-7 1-4 1 31 1-50 0 81 1-26 1-55 1 50 1-38 0-21 1-16 1 39 1 42 0 3 1-1 1-39 1 75 0-76 1 16 1-51 1 100 0-70 1 39 1 22 1-42 0 5 1 76 1-68 1 27 0 9 1 0 1-15 1 20 0-17 1 75 1-108 1 21 1 26 0-30 1 26 1-27 1-18 0 7 1 111 1-175 1 88 0-17 1 48 1-21 1 3 0-26 1-9 1-38 1 57 0-7 1-19 1 7 1 97 0-106 1 45 1-29 1-43 0 89 1-9 1 31 1-127 1 57 0-4 1 17 1 2 1 18 0-26 1 34 1-51 1-16 0-18 1 98 1-27 1 9 0 17 1-17 1-37 1-28 0-11 1 62 1-40 1 26 0-23 1-35 1-6 1 7 0 22 1 5 1-6 1-4 1 29 0-7 1-66 1 34 1 76 0-13 1-15 1-3 1 75 0-103 1-14 1 96 1-18 0-87 1 86 1-58 1 1 0 10 1-24 1 53 1 17 0-26 1-5 1-10 1-9 0-16 1 32 1 15 1 22 1 12 0-25 1-4 1 32 1-62 0 61 1 16 1-2 1-69 0 15 1 32 1-24 1 65 0-24 1-36 1 48 1 20 0-23 1-50 1-20 1 72 0-74 1 73 1-41 1-1 0-35 1-20 1 23 1 31 1-28 0 53 1-34 1-34 1 35 0-41 1 93 1-62 1 37 0-10 1 4 1-66 1 28 0 47 1-23 1-30 1 11 0-16 1 42 1-31 1-4 0 56 1-32 1-9 1-55 0 19 1 24 1 39 1-26 1 16 0-11 1-38 1-1 1-5 0 58 1 24 1-19 1-35 0 21 1 4 1-29 1-35 0 51 1-24 1-60 1 82 0-110 1 128 1-24 1-19 0-38 1 40 1 19 1-45 0-20 1 10 1 72 1-33 1 28 0-31 1-9 1 69 1-110 0 123 1-53 1 69 1-42 0-53 1 7 1-16 1 63 0 12 1 14 1-125 1 0 0 117 1-28 1 9 1-33 0 45 1 27 1-41 1-40 0 19 1 14 1 39 1-72 1 14 0 32 1-6 1-77 1 73 0-52 1 47 1 3 1 7 0-34 1 0 1 43 1-76 0 5 1 59 1-51 1 13 0 18 1-12 1-21 1 82 0-62 1 85 1-98 1 11 0-8 1 10 1-7 1-16 1 57 0-6 1-18 1-45 1 113 0-174 1 127 1 27 1-45 0 21 1-44 1-5 1 57 0-49 1 35 1-26 1 18 0-10 1-25 1-37 1 73 0 15 1-72 1 71 1-73 0 38 1-13 1 1 1 23 1-64 0 12 1 29 1 4 1-2 0-14 1-9 1 71 1-58 0 0 1 22 1 21 1 35 0-57 1 27 1-4 1-103 0 122 1 15 1-86 1 77 0-43 1-17 1 30 1-70 0 38 1-9 1 29 1 17 1-26 0-76 1 55 1-9 1 2 0 48 1-50 1 44 1 40 0 7 1-150 1 32 1 47 0-7 1 77 1 55 1-146 0 0 1 111 1-60 1 3 0 2 1 22 1-46 1 48 0 1 1-46 1 123 1-103 1-14 0-34 1 3 1 66 1-24 0-21 1-16 1-17 1 74 0-40 1-79 1 74 1 50 0 22 1-79 1-15 1 56 0-53 1-15 1-13 1 11 0 35 1 24 1-54 1 65 0-88 1 30 1 33 1 57 1-26 0 33 1-16 1-53 1-62 0 110 1-4 1-83 1 104 0-49 1 15 1-66 1 49 0-27 1 1 1-27 1 38 0 33 1-42 1 21 1 61 0-42 1 29 1-40 1 14 0 32 1 6 1-72 1 5 1-87 0 125 1-14 1-50 1 13 0 74 1-87 1 48 1-47 0 16 1 12 1 9 1-8 0-28 1-3 1-2 1 17 0 16 1-5 1-3 1-2 0 15 1 14 1-6 1-52 0 105 1-67 1 61 1-65 1 16 0-50 1 24 1 52 1-37 0 37 1 34 1-105 1 70 0-52 1 26 1-39 1 30 0-22 1 35 1-31 1 64 0-9 1-26 1-1 1-62 0 90 1 26 1-98 1 62 0 32 1 43 1-73 1-9 1-73 0 73 1-25 1 5 1 48 0 29 1-119 1 78 1 3 0 19 1-6 1-70 1 3 0 60 1-16 1 21 1-66 0 91 1 31 1-88 1 0 0-96 1 24 1 49 1-13 0 19 1-17 1 46 1-11 1-89 0 104 1 50 1-101 1-12 0 26 1-60 1 22 1 16 0 29 1-37 1 33 1-2 0-53 1 28 1 44 1 28 0-26 1-31 1-7 1 27 0-59 1 61 1 30 1-24 0-43 1 24 1-4 1-32 1 16 0-14 1 64 1-35 1-1 0 5 1-48 1 53 1 0 0 59 1-28 1-26 1 9 0 27 1-51 1 17 1-34 0 6 1-16 1 50 1-15 0-43 1-49 1 60 1-3 0 35 1-85 1 55 1 12 1-15 0 37 1-26 1 19 1 16 0 39 1-9 1-9 1 63 0-47 1-14 1 1 1-63 0 141 1-66 1-3 1-21 0 19 1 6 1-38 1 14 0-82 1 77 1-24 1-18 0 18 1 15 1-2 1 7 1 24 0-33 1-55 1 3 1 79 0-58 1 98 1-55 1 4 0-40 1 51 1-4 1-74 0 89 1-36 1 9 1-25 0 6 1-71 1 19 1 40 0-20 1 35 1 10 1-46 0-55 1 145 1-91" stroke="#00ff00"/>
<path d="M333 1544l1 27 1 18 0 13 1-56 1 70 1-108 0 50 1-24 1 45 1 12 0-41 1 48 1-26 1 7 0 15 1-41 1 54 1 33 0-54 1-3 1 12 1-14 0-7 1-16 1 22 1 2 0 65 1-86 1-7 1 55 1 12 0-57 1 49 1-35 1-20 0-32 1-58 1 118 1 99 0-118 1 28 1-50 1 66 0-68 1 113 1-110 1 54 0-64 1 75 1-6 1-34 0-23 1 64 1-38 1-30 0 6 1 60 1-113 1 84 1-37 0-47 1 80 1 45 1-120 0 100 1-53 1 31 1-101 0 69 1-69 1 49 1 50 0-68 1 77 1-24 1-50 0 8 1 78 1-17 1 8 0 40 1-101 1 75 1-36 0-11 1 57 1 53 1-102 1 40 0-71 1 115 1-97 1 19 0 42 1-43 1-69 1 116 0 14 1-55 1-39 1 12 0 3 1 20 1-6 1-58 0 18 1-48 1 50 1 10 0 20 1-15 1-145 1 160 0-4 1-30 1-8 1-26 1 54 0-76 1 69 1-4 1-2 0-58 1-38 1 71 1 46 0 6 1-71 1 4 1 19 0-20 1 37 1-38 1-42 0 44 1 23 1 17 1-28 0 53 1 1 1 5 1 32 0-115 1 24 1 58 1-93 1 101 0-43 1 83 1-128 1 39 0-13 1 8 1-61 1 173 0-71 1-20 1-18 1 28 0 1 1-32 1-9 1 57 0-83 1 45 1 14 1-69 0-77 1 219 1-99 1-3 0 14 1 31 1-84 1 74 1-28 0 25 1-10 1 46 1-102 0 71 1-29 1 18 1-52 0-33 1 55 1 14 1 2 0 45 1 11 1-17 1-23 0 31 1 49 1-144 1 86 0-27 1 25 1-20 1 56 0-100 1 5 1 23 1 76 1-37 0-15 1 17 1-32 1 94 0-85 1-34 1 64 1-12 0 27 1-84 1 25 1-11 0 20 1-114 1 62 1-10 0 72 1-100 1 42 1 16 0-9 1-1 1 27 1-133 0 2 1 153 1-107 1 70 1-126 0 97 1-56 1 67 1-24 0-37 1-68 1 92 1-68 0-15 1 13 1 1 1 84 0-80 1 43 1 100 1-124 0 17 1 26 1-65 1 61 0-9 1 2 1-88 1 81 0-114 1 65 1-39 1 54 1 8 0 0 1-20 1-1 1-20 0 84 1-87 1-8 1 39 0 8 1 1 1 57 1 20 0-53 1-2 1 9 1-21 0 47 1-27 1 28 1 19 0-122 1 47 1-56 1 128 0-56 1-60 1 115 1-22 1-57 0 55 1 40 1-119 1 47 0-57 1 96 1-43 1 80 0-115 1 110 1-63 1-7 0 9 1-24 1 79 1-51 0 54 1-7 1-23 1 11 0-12 1 5 1 36 1-54 0 15 1 28 1 31 1-102 1 118 0-86 1 58 1-76 1 49 0-96 1 67 1 29 1 18 0-55 1 19 1 77 1-18 0 32 1-153 1 88 1-10 0-120 1 125 1 2 1-14 0-37 1 53 1-59 1 18 0 82 1-20 1-114 1 38 1 22 0-21 1 24 1-21 1 45 0-25 1-32 1 49 1-34 0 203 1-246 1 105 1-22 0-45 1-54 1 67 1 4 0 25 1 13 1 12 1-57 0 42 1-10 1 75 1-77 0 102 1-188 1 15 1 55 1 113 0-116 1 83 1-79 1 112 0 16 1-116 1 26 1 70 0 35 1-42 1 18 1-42 0-93 1 159 1-56 1-53 0-61 1 81 1-53 1 97 0-29 1 6 1-51 1 21 0-12 1-52 1 44 1 12 1-24 0 13 1-59 1-2 1 73 0-50 1 89 1-49 1-41 0-62 1 38 1-48 1 78 0-89 1-14 1 101 1 1 0-10 1 54 1-6 1-31 0-55 1-1 1-71 1 16 0 43 1-66 1 65 1 3 1-41 0-84 1 117 1-87 1 104 0-58 1 0 1 30 1-2 0 52 1 64 1-82 1 18 0-84 1 81 1-2 1-2 0 61 1-38 1-46 1 63 0 33 1-50 1-55 1 41 0 26 1-71 1 88 1-69 1-3 0 39 1-37 1-49 1 8 0 26 1-118 1 90 1 71 0-109 1 42 1 0 1-19 0-68 1 213 1-143 1 33 0 14 1 39 1-203 1 156 0-11 1-1 1 18 1 51 0-148 1 43 1 8 1 31 1 13 0-16 1-5 1-14 1-50 0 131 1 19 1-41 1-49 0 8 1 92 1-123 1-44 0 81 1-53 1 26 1 38 0-76 1 56 1 170 1-213 0 123 1-203 1 189 1-66 0 50 1-110 1-28 1 126 1 7 0 0 1 15 1-82 1-40 0 46 1 6 1-29 1 34 0-30 1-4 1 17 1 2 0 1 1 28 1 19 1 19 0-57 1 63 1-74 1-22 0 83 1-15 1-62 1 51 0-87 1 148 1 14 1-83 1 1 0 30 1-44 1 85 1 54 0-142 1 11 1 66 1-11 0-73 1 32 1 24 1-2 0-97 1-30 1 71 1-53 0-47 1 111 1 36 1-125 0 108 1-43 1-9 1 65 0 44 1-103 1 6 1-14 1-24 0 126 1-16 1-68 1-38 0-13 1 89 1-34 1 23 0 26 1-48 1 78 1-82 0 65 1-116 1 110 1-61 0-27 1 75 1-65 1-7 0 64 1-31 1-112 1 94 0-12 1 111 1 6 1-102 1 41 0 44 1-21 1-1 1 58 0-7 1 22 1-166 1 163 0-50 1-72 1 11 1-22 0 60 1 72 1-136 1 77 0-56 1-44 1 0 1 168 0-89 1 87 1-26 1 1 0-107 1 64 1 54 1-69 1 85 0-101 1 91 1-42 1-18 0 95 1-76 1 21 1 8 0 57 1-58 1 27 1-41 0 103 1-58 1 21 1 7 0-96 1 79 1-15 1-35 0 47 1-66 1 74 1 2 0-16 1-13 1-63 1 30 1 62 0-33 1 67 1-43 1 23 0 81 1-126 1 45 1 3 0 57 1-39 1-14 1 71 0-110 1 27 1-11 1 36 0 33 1-110 1 56 1-2 0-75 1 78 1-81 1 86 0-63 1 60 1-6 1-76 1 42 0 72 1-75 1 11 1 24 0 43 1-16 1-31 1 6 0-6 1 31 1-103 1 33 0 54 1 24 1-78 1 25 0 64 1-68 1 2 1 32 0-4 1-61 1 76 1 15 0 28 1-66 1-44 1 43 1 49 0-57 1-25 1 45 1-35 0 26 1-86 1 99 1 29 0-52 1-38 1 36 1-33 0 35 1-39 1 49 1 18 0-1 1 46 1-83 1-17 0 47 1-59 1 79 1-55 0 55 1-22 1-30 1 30 1-100 0 75 1-10 1 59 1-25 0-49 1 0 1 15 1-1 0 53 1-31 1 27 1 26 0-39 1-54 1 54 1-28 0-16 1 33 1-49 1 28 0 28 1-57 1 29 1-30 0-34 1-14 1 103 1-51 1 48 0-20 1-9 1 35 1-63 0 44 1 58 1-47 1 48 0-18 1 1 1-20 1 2 0 7 1-19 1 24 1 34 0-5 1-36 1 32 1 0 0-22 1-36 1 61 1-20 0-65 1 51 1-10 1 1 1-106 0 128 1-38 1 3 1-6 0 27 1 26 1-2 1-37 0-60 1 80 1-84 1 62 0-28 1-2 1 46 1-39 0 28 1-60 1-5 1 33 0 11 1-2 1-30 1 37 0 47 1-54 1-65 1 113 1-62 0 7 1-54 1 8 1 57 0-37 1 60 1-43 1 65 0-91 1 59 1-34 1 31 0-42 1 21 1 28 1-87 0 78 1 24 1-4 1-30 0-37 1-23 1 52 1 31 0-26 1 51 1-34 1 14 1-33 0 3 1-42 1 94 1-46 0 35 1-41 1-40 1 31 0 39 1 1 1 40 1 14 0-53 1 17 1-45 1 35 0-42 1 56 1 13 1-75 0 8 1 59 1-12 1-8 0 93 1-88 1 104 1-41 1-84 0 54 1-77 1-8 1 42 0 2 1 61 1-31 1-94 0 44 1-3 1-11 1 4 0-3 1-46 1 103 1 5 0-28 1-93 1 125 1-74 0 48 1-168 1 115 1-55 0 36 1 128 1-71 1-23 1-2 0 28 1 41 1-29 1-8 0-7 1 7 1-7 1-6 0-29 1 41 1-31 1-20 0 40 1-1 1 36 1-33 0 2 1-27 1 19 1 49 0-49 1 34 1-13 1-5 0-90 1 26 1 98 1-62 1-25 0-6 1 20 1 1 1 10 0 6 1 23 1 20 1-68 0 56 1-85 1 44 1-1 0-33 1 22 1 13 1 51 0 7 1 4 1-77 1 48 0-29 1-10 1 32 1-24 0 24 1 3 1-22 1 17 1-27 0 15 1-17 1-34 1 56 0-43 1 2 1 51 1 4 0 74 1-117 1 30 1-14 0-3 1 10 1-23 1 108 0-54 1 29 1-91 1 39 0-12 1 40 1-55 1-20 0 36 1-68 1 59 1 48 1-42 0 8 1 14 1-68 1 17 0 30 1 14 1-30 1 67 0-45 1-40 1 95 1-42 0 50 1-134 1 96 1-22 0-26 1 88 1-43 1 51 0-97 1 62 1-24 1 13 0-78 1 19 1 88 1-30 1-34 0 60 1-42 1 12 1-6 0 16 1-11 1 8 1 33 0-106 1 15 1-6 1-33 0 124 1-107 1 80 1-77 0 49 1-93 1 108 1 5 0-24 1-36 1 53 1 49 0-51 1-14 1-91 1 124 1-80 0 38 1-2 1-9 1-26 0 21 1 18 1-7 1-10 0-2 1 26 1-25 1 4 0 2 1 16 1 52 1-31 0-15 1 17 1-17 1-3 0 18 1-63 1 73 1-7 0 0 1 12 1 30 1-11 1-20 0-22 1-49 1 24 1 60 0-14 1-46 1 5 1-14 0 90 1-80 1 27 1-35 0 46 1-43 1 29 1-57 0 6 1-29 1 111 1-3 0-84 1 21 1 6 1 18 0-33 1-7 1 19 1-21 1-29 0 44 1-29 1 47 1 5 0-8 1 8 1-13 1-10 0-22 1 64 1-88 1 97 0-59 1 24 1-2 1 22 0-60 1 124 1-123 1 41 0-6 1 19 1 30 1-14 0 43 1-38 1-22 1 77 1-88 0 38 1 1 1-39 1 22 0 4 1-11 1 19 1-23 0 47 1-48 1-60 1 49 0-78 1 65 1 40 1-17 0-9 1 1 1 26 1-22 0-4 1-8 1 65 1-100 0 49 1 27 1 45 1-60 1 50 0-75 1 62 1-72 1-30 0 30 1 33 1 43 1-17 0 6 1 26 1 44 1-74 0-31 1 26 1 5 1 23 0-40 1-51 1 129 1-147 0 60 1 3 1 5 1 41 0-80 1 92 1-78 1 74 1-93 0 18 1 34 1-39 1-11 0 36 1-13 1-6 1 45 0-6 1-85 1 137 1-121 0 47 1 19 1 39 1-56 0-36 1 27 1-59 1 72 0-19 1-4 1 19 1-28 0 32 1 17 1-24 1-32 1-18 0 59 1-70 1 19 1 1 0 37 1-24 1 24 1 16 0-44 1-1 1 10 1-43 0 12 1 11 1 17 1 38 0-36 1-19 1 29 1-2 0-8 1-31 1 49 1-50 0-11 1 93 1-13 1-52 1-31 0 9 1 12 1-7 1 11 0-70 1 28 1 79 1-11 0-25 1-33 1 74 1-26 0-6 1-12 1-37 1 39 0 48 1 15 1 7 1 13 0-37 1-62 1 55 1 23 0-15 1 11 1-64 1 43 1 29 0-37 1-9 1 47 1 3 0-30 1 90 1-36 1-64 0-9 1-34 1 30 1 11 0 19 1 1 1-48 1 21 0-21 1 46 1-42 1 65 0 9 1-83 1 9 1-5 0 47 1-33 1 22 1 45 1-59 0 61 1-53 1-9 1 42 0-100 1 106 1 3 1-52 0 19 1 47 1-122 1 69 0 8 1 18 1 15 1-18 0 5 1 10 1 1 1-38 0 108 1-133 1 4 1 41 0-18 1 31 1-93 1 63 1 6 0-2 1-5 1 7 1 41 0-26 1 35 1 44 1-41 0-1 1-2 1-54 1 47 0-62 1 61 1 10 1-36 0-61 1 103 1-52 1-21 0-3 1 57 1-37 1 5 0-63 1 48 1 17 1 15 1-37 0 64 1 17 1-51 1-60 0 22 1 22 1-84 1 76 0-34 1 25 1 26 1-42 0 39 1 38 1-45 1 29 0-61 1 15 1 21 1 28 0-23 1-47 1 3 1-8 0 65 1-83 1 13 1 27 1 16 0-58 1 67 1 17 1-14 0-68 1-6 1 60 1 38 0 13 1-52 1-1 1-27 0 35 1-9 1-46 1 27 0-17 1-35 1 111 1-113 0 65 1 24 1-2 1-51 0 63 1-74 1 29 1 40 1-32 0-41 1 74 1 29 1-9 0 10 1-67 1 36 1 91 0-108 1-6 1-9 1 3 0 86 1-45 1-13 1-60 0-8 1 34 1 16 1-2 0 56 1 0 1-12 1-87 0 45 1-50 1 22 1-10 1 62 0-3 1-61 1-19 1 71 0-38 1 75 1-135 1 26 0 69 1-73 1 116 1-94 0-50 1 11 1 26 1 59 0 13 1-4 1-28 1-26 0 1 1 49 1-22 1-23 0 44 1 58 1-96 1 26 1-18 0 1 1-12 1 35 1-7 0 48 1-44 1-47 1-5 0 47 1 24 1-44 1 116 0-134 1 59 1-63 1 63 0-42 1 28 1-32 1 34 0-64 1 50 1-47 1 71 0 25 1 25 1-38 1-56 1-66 0 117 1 12 1 6 1 44 0-62 1-10 1 83 1-88 0-25 1 36 1 18 1 12 0-61 1 64 1-46 1-117 0 83 1 40 1-90 1 38 0 37 1-49 1 49 1 30 0-33 1-16 1 17 1-8 1 22 0 41 1-98 1 16 1 54 0-57 1 93 1-33 1 2 0-96 1 55 1 78 1-102 0 40 1 34 1-40 1-15 0 12 1-17 1 55 1 1 0 17 1-60 1 60 1 41 0-108 1 8 1-42 1 65 1-19 0 85 1-55 1-32 1 71 0-24 1 22 1-19 1-22 0-41 1-3 1 20 1-40 0 7 1 43 1-37 1 57 0-8 1 4 1-63 1-3 0 68 1 13 1-80 1 92 0-78 1-1 1 52 1-49 1 55 0-46 1 12 1-27 1 27 0 24 1-33 1-14 1 9 0 45 1-87 1 67 1-24 0 65 1-52 1 18 1-6 0-40 1 38 1-8 1-42 0 2 1 53 1-4 1-6 0 18 1-8 1-32 1 50 1-33 0 33 1 31 1-64 1 2 0-1 1 8 1 4 1 71 0-50 1-41 1 5 1 44 0-21 1-28 1 22 1-6 0-18 1 13 1-24 1 96 0-22 1-64 1 45 1-39 0 47 1-66 1 79 1 34 1-85 0 21 1-33 1-56 1 72 0-51 1 125 1-81 1 24 0-26 1-38 1 9 1 80 0-43 1-51 1 14 1-58 0 127 1-53 1 59 1-106 0 29 1-30 1 10 1 5 0 113 1-34 1-4 1-50 1 55 0-51 1 14 1 33 1-8 0-59 1 53 1-43 1 73 0-50 1-54 1 150 1-128 0 83 1-18 1-1 1-61 0 69 1-20 1 1 1-10 0-6 1 11 1 41 1-45 0 43 1-65 1-68 1 82 1 40 0-32 1-35 1 74 1 3 0 51 1-81 1-1 1-13 0 17 1 23 1-14 1-115 0 120 1-51 1-15 1 56 0 14 1-71 1 63 1-45 0 11 1-59 1 110 1-53 0 67 1 1 1-90 1 7 1-14 0 41 1 6 1 82 1-84 0-30 1 9 1-4 1 8 0 16 1-31 1-9 1-19 0 28 1 75 1-31 1 15 0-13 1 3 1 11 1-29 0 37 1-61 1 50 1-29 0-41 1 78 1 5 1-33 1 33 0-63 1 8 1 61 1 8 0-72 1 26 1-20 1 45 0-53 1 18 1 7 1 28 0-38 1-5 1 31 1 10 0 34 1-55 1-7 1 77 0-100 1 33 1-20 1 12 0 1 1 48 1-117 1 31 1 28 0-32 1-3 1 37 1-15 0-15 1-17 1 41 1 1 0-9 1-19 1 81 1-33 0 11 1-28 1 25 1-79 0 50 1 56 1 20 1-27 0-36 1 30 1-87 1 121 0-44 1 26 1-11 1-8 1-11 0 16 1-33 1-38 1 34 0-16 1 39 1-21 1-60 0 63 1 4 1 11 1-65 0 61 1 26 1-13 1 9 0-42 1 0 1-2 1 21 0-35 1 100 1-4 1-77 0 38 1-54 1 53 1-25 1 26 0-81 1 151 1-45 1-96 0 3 1 134 1-55 1-37 0 44 1-43 1 40 1-90 0 127 1-91 1 41 1-27 0 25 1-39 1-60 1 75 0 65 1-74 1 73 1-45 0 7 1-53 1 17 1-5 1 39 0-12 1-27 1 19 1 27 0-13 1-61 1-3 1 81 0-11 1-25 1 69 1-58 0 13 1 29 1-18 1-6 0-41 1-29 1 7 1 63 0 12 1-36 1-60 1 69 0-96 1 68 1-12 1-8 1 34 0-74 1 59 1 23 1-69 0 48 1 16 1-28 1 57 0-52 1-1 1 28 1-13 0 48 1-22 1-16 1 10 0 24 1-33 1-39 1-14 0 67 1 10 1-31 1 38 0-27 1-28 1 45 1-30 1 22 0-77 1 66 1 49 1-82 0 45 1 9 1-31 1 31 0 10 1-32 1 5 1-29 0-25 1 21 1 75 1 11 0-36 1-35 1 6 1 1 0 28 1-40 1 26 1 15 0-65 1 20 1 82 1-64 1-12 0 53 1-20 1-13 1 15 0-138 1 112 1 27 1 26 0-51 1-26 1 32 1-22 0 37 1-19 1-2 1 111 0-96 1 16 1 53 1-42 0-72 1 58 1 3 1-45 0 8 1 3 1-31 1-88 1 148 0-42 1 31 1-33 1-2 0-44 1 74 1 16 1-36 0 20 1-40 1-14 1 82 0-80 1 31 1 64 1-47 0-55 1 58 1 31 1-36 0-33 1 32 1-52 1 51 0-105 1 77 1 42 1 42 1-56 0-56 1-36 1 7 1-12 0 39 1-156 1 47 1-28 0 8 1 41 1-116 1 60 0 33 1-12 1 100 1-94 0-22 1 87 1-68 1-2 0-77 1 94 1-40 1-9 0 15 1-8 1 48 1-40 1-52 0 72 1-40 1 36 1 42 0-70 1 109 1-51 1-27 0-74 1 119 1-22 1-43 0 12 1 55 1-164 1 147 0-51 1-61 1 65 1-97 0 70 1-14 1 49 1-31 0 25 1-32 1 53 1 15 1-51 0 20 1-28 1-142 1 111 0 30 1 32 1-5 1 12 0-9 1 50 1-48 1-20 0 12 1 40 1-33 1-19 0 31 1 31 1-44 1 48 0-68 1 83 1-15 1-97 0-16 1 0 1 52 1 10 1-20 0 56 1 4 1-32 1-1 0-24 1 82 1-52 1 14 0 7 1-45 1-39 1 41 0-58 1-1 1 18 1-20 0-52 1 76 1-54 1 39 0-7 1-17 1 52 1-67 0-1 1 38 1 29 1-24 1 24 0 45 1-87 1-30 1 114 0 72 1-141 1-28 1 22 0-6 1 105 1-69 1 10 0 57 1-23 1-47 1 28 0-87 1 123 1-13 1-113 0 130 1 29 1-77 1-71 0-15 1 63 1 56 1-120 1 87 0 16 1 40 1-82 1-12 0 21 1 16 1-21 1 113 0-139 1 58 1-139 1 154 0-40 1 40 1 0 1-5 0 20 1-88 1 34 1-52 0 7 1 9 1 22 1 53 0-47 1 12 1 28 1 46 1-123 0 29 1-46 1 130 1-2 0-59 1 3 1 38 1 29 0-72 1 54 1-124 1 42 0-14 1 89 1-99 1 162 0-89 1 49 1-59 1 0 0 84 1-8 1-117 1 61 0 58 1-103 1-130 1 167 1-13 0-17 1 76 1-58 1-50 0-42 1 51 1 53 1 6 0 3 1-29 1-34 1 74 0-111 1 154 1-21 1-46 0 9 1-30 1-38 1-20 0 125 1-16 1-15 1-6 0-57 1 125 1-36 1-67 1 55 0-39 1-68 1 33 1 53 0-5 1-61 1-27 1 135 0-29 1-128 1 166 1-105 0 27 1-54 1 56 1 58 0-33 1 52 1 58 1-115 0-7 1-5 1 1 1 50 0-124 1 128 1-98 1 3 1 73 0 10 1-19 1 64 1-10 0-60 1 18 1-12 1-40 0 91 1 67 1-45 1 14 0-2 1-64 1 27 1 32 0-3 1 62 1-63 1-48 0 19 1 63 1 31 1-15 0-61 1-10 1 32 1-16 1 15 0-40 1 13 1 104 1 11 0 27 1-85 1-3 1-80 0 112 1 6 1-23 1-23 0-92 1 147 1-38 1 65 0-26 1 5 1-87 1 23 0-34 1 122 1-90 1 41 0 4 1 2 1 6 1 72 1-65 0 31 1-40 1 6 1 31 0-5 1-19 1 102 1-153 0 37 1 42 1 1 1-44 0 24 1-54 1 7 1 3 0-9 1-29 1 17 1-10 0 37 1 22 1-32 1 35 0 36 1-73 1-86 1 69 1 27 0-30 1 79 1-26 1 44 0-38 1-61 1 80 1-26 0 85 1-45 1-30 1-81 0 81 1-106 1 116 1 19 0-62 1-32 1 55 1 9 0-69 1 80 1-17 1-62 0 20 1 57 1-66 1 17 1 2 0 19 1 4 1 2 1-29 0-35 1-2 1 189 1-126 0-34 1-24 1 57 1 22 0-51 1 28 1-16 1-10 0 29 1 7 1 19 1-10 0 4 1-19 1 5 1 52 0-50 1 99 1-36 1-34 1 3 0 2 1-36 1-13 1 35 0-21 1 1 1 62 1-75 0 99 1-9 1-59 1-4 0 16 1 20 1-94 1 91 0-101 1 148 1-109 1-65 0 123 1 1 1-16 1 6 0-53 1 11 1 63 1-79 1-11 0 26 1-26 1 103 1-90 0-41 1 84 1-58 1 57 0 1 1 4 1-14 1 32 0-32 1-34 1 27 1 19 0-10 1 51 1-50 1 64 0-26 1 2 1-57 1 21 0-32 1 16 1 29 1-45 1 14 0-24 1 34 1-18 1 16 0 8 1-10 1 33 1 22 0-69 1 13 1-38 1 83 0-13 1-68 1 74 1 49 0-91 1 8 1 33 1-5 0 25 1-41 1 0 1 22 0-17 1-42 1 79 1-25 1-84 0 63 1 24 1 41 1-57 0 36 1-43 1-58 1 57 0 5 1-57 1 74 1-90 0 18 1-12 1 31 1 43 0-53 1-50 1 45 1-2 0 31 1 9 1 112 1-85 0-21 1-29 1 18 1 53 1-19 0 17 1 38 1-67 1-23 0 51 1-61 1 52 1 7 0-63 1 78 1-8 1-50 0 63 1-40 1-9 1-48 0 3 1 68 1-33 1-15 0 70 1-26 1 7 1-75 0 28 1 4 1-87 1 120 1 19 0-70 1-11 1-14 1 70 0-30 1-23 1 48 1-21 0-78 1 38 1-32 1 41 0 1 1 13 1-39 1 31 0 11 1-42 1 38 1-30 0-7 1 21 1-30 1-27 0 96 1 34 1-80 1 84 1-112 0 51 1 81 1-86 1 10 0 16 1 4 1 81 1-77 0-59 1-24 1 74 1-37 0 6 1 2 1 77 1 55 0-116 1-25 1 65 1 26 0-19 1-49 1 29 1-70 0 85 1-7 1 44 1-101 1 45 0-18 1-34 1 15 1-27 0 37 1 2 1-13 1 42 0-67 1 62 1-39 1-17 0 78 1-5 1 20 1-92 0 64 1-70 1 94 1-45 0 47 1-62 1 19 1-14 0 34 1-13 1 17 1-59 1 39 0 12 1 33 1-22 1-25 0 31 1-10 1 21 1-47 0 47 1-24 1-71 1 76 0-84 1 96 1 63 1-18 0-159 1 60 1 27 1 21 0-9 1-26 1-58 1 22 0 79 1-28 1-77 1 80 1 12 0-43 1 26 1-12 1 46 0-10 1-49 1 46 1-3 0 10 1-77 1 58 1-48 0 52 1-25 1-32 1 19 0 50 1-61 1 35 1-59 0 48 1-61 1 57 1 23 0-68 1 38 1 12 1-24 1-14 0-4 1-36 1 55 1-25 0-4 1 55 1-98 1 74 0-70 1 95 1 18 1-60 0 70 1-15 1-59 1-27 0 37 1-3 1 39 1 3 0-30 1 10 1 5 1-51 0-13 1 74 1-52 1 33 1 26 0-86 1 73 1-13 1-10 0-33 1 54 1 11 1-31 0-30 1 16 1 25 1 23 0-5 1-38 1 43 1-58 0 29 1-25 1 41 1-11 0-11 1-15 1 97 1-85 0 1 1-16 1 15 1 38 1-35 0 77 1-85 1 31 1-6 0-40 1 54 1-45 1-11 0 93 1 3 1-24 1 13 0-48 1 8 1 29 1 43 0-14 1-67 1 1 1 19 0-29 1-26 1 14 1 58 0-28 1 4 1 1 1-65 1 55 0-11 1-30 1-20 1-91 0 129 1-33 1 50 1-10 0 36 1-147 1 176 1-172 0 72 1-57 1 43 1 55 0-29 1 36 1-3 1 18 0-46 1 43 1-36 1-4 0 53 1-13 1-33 1 22 1-47 0 76 1-78 1-17 1 53 0 61 1-101 1-28 1-8 0-36 1 40 1 63 1 39 0-44 1 18 1 17 1-40 0 17 1-68 1 98 1 33 0-25 1-19 1 31 1-96 0 11 1 18 1 63 1-30 1-49 0-41 1 55 1-29 1 33 0 27 1-43 1-6 1 60 0 27 1-24 1-80 1 43 0 1 1 1 1-15 1 27 0 49 1 10 1-27 1-15 0-34 1 67 1-114 1 80 0-5 1-50 1 36 1-3 1-27 0 62 1 34 1-88 1 49 0-42 1-32 1 87 1-35 0-37 1 19 1 18 1 5 0 22 1-72 1 3 1 54 0 7 1-17 1 69 1-69 0 61 1-35 1-78 1 100 0-9 1-7 1 18 1-3 1-15 0-39 1 45 1-50 1 17 0-22 1-29 1 6 1 11 0-13 1 60 1-15 1-11 0 17 1 9 1-59 1 71 0-40 1 43 1 4 1-11 0-54 1 40 1-7 1-44 0 89 1-121 1 52 1 38 1-53 0 21 1-31 1 3 1 35 0-12 1-5 1 7 1-11 0-34 1 18 1 41 1 124 0-69 1-50 1 42 1-60 0-33 1 6 1 2 1 78 0-25 1-42 1 32 1 27 0-77 1 62 1-106 1 94 1 49 0-102 1 39 1 1 1-9 0 20 1 9 1 16 1-57 0 9 1-39 1 13 1 53 0-11 1-4 1-22 1 104 0-72 1 40 1 1 1-58 0 18 1 5 1-3 1-20 0 46 1-97 1 107 1-12 1-9 0-53 1 100 1-68 1-47 0 0 1 30 1-22 1 7 0 13 1 18 1 8 1-1 0-73 1 64 1-21 1 20 0-7 1-40 1 28 1 21 0-44 1 1 1 2 1 55 0-66 1-4 1 29 1-2 1 6 0-21 1-61 1 99 1-61 0 35 1-15 1-7 1 11 0 36 1-38 1 26 1-28 0 91 1-51 1-27 1 2 0-2 1 10 1-74 1 69 0-50 1 115 1-4 1 2 0-12 1 9 1 9 1-68 1 27 0 24 1 20 1 27 1-64 0 49 1-89 1 31 1-54 0 99 1-86 1 85 1-118 0 92 1 39 1-68 1-68 0 101 1-103 1 20 1 45 0-43 1 17 1-14 1 13 0-9 1 46 1 1 1-1 1 6 0-52 1-27 1 62 1-59 0 98 1-44 1-17 1 10 0-37 1-7 1 2 1 40 0-96 1 88 1-30 1 16 0-31 1 39 1 28 1-35 0-14 1 26 1 34 1-50 0 28 1 12 1-6 1-40 1 107 0-67 1 6 1 43 1-77 0 17 1 14 1-18 1 49 0 1 1 2 1 93 1-94 0 31 1-50 1-10 1-10 0 37 1-17 1-18 1 42 0-59 1 7 1-73 1 89 0-44 1 17 1 46 1 31 1-55 0-21 1 28 1 41 1-87 0 0 1-6 1-34 1-25 0 66 1 0 1-2 1 4 0-19 1 18 1-7 1-38 0 4 1 116 1-107 1 53 0 24 1-25 1 75 1-51 0-90 1 49 1 30 1-69 1 91 0-60 1 58 1-56 1 17 0-43 1 66 1-45 1-47 0 20 1 71 1-47 1-41 0 60 1-19 1 29 1 6 0-29 1-4 1 21 1-28 0 29 1-63 1 105 1-81 0 17 1 72 1-75 1 6 1 12 0 22 1-7 1-42 1 31 0-30 1 54 1-40 1 73 0-69 1 25 1 29 1-48 0 21 1-6 1 24 1-55 0 5 1 16 1-21 1 62 0-51 1 47 1-64 1-69 0 83 1-32 1 3 1 46 1-13 0-11 1 23 1-13 1-4 0 44 1-95 1 92 1-103 0 112 1-88 1 63 1-42 0 52 1-46 1-31 1 50 0 38 1-74 1 66 1-20 0-17 1 16 1 55 1-32 0-27 1-31 1 34 1-5 1-57 0-19 1 101 1 17 1-71 0 18 1 39 1-56 1 36 0-70 1 83 1 12 1-49 0 55 1-28 1 84 1-149 0 15 1 19 1 21 1 37 0-3 1-51 1-36 1 9 0 110 1-24 1-151 1 120 1-13 0 11 1-58 1 56 1-7 0-14 1 4 1-24 1 18 0-7 1 39 1-23 1-46 0 16 1 4 1 28 1-34 0 83 1-7 1-40 1-36 0 20 1 42 1-9 1-68 0 36 1 4 1 19 1-52 1 26 0-22 1 37 1 32 1-69 0-3 1 8 1 41 1 8 0-67 1 42 1-27 1 79 0-48 1 13 1-4 1-34 0-57 1 109 1-39 1-18 0 33 1-6 1 50 1-40 0-73 1 106 1-35 1-25 1 4 0-25 1 15 1 0 1 24 0 14 1-24 1-70 1 46 0 29 1-42 1 52 1-20 0-86 1 82 1 54 1-60 0-53 1 57 1 25 1-3 0-21 1-12 1 57 1-12 0-36 1 69 1-36 1-71 1 27 0 2 1-5 1 7 1-8 0 44 1-53 1-20 1 77 0-66 1 14 1 62 1 12 0-4 1 4 1-8 1-19 0 38 1-53 1 22 1 17 0-67 1-10 1-16 1 54 0-38 1 25 1-2 1-37 1 66 0 21 1-43 1-54 1 28 0 17 1 9 1-42 1 32 0-32 1 48 1-21 1 8 0-9 1-13 1-60 1 15 0 70 1-1 1-42 1 50 0-61 1 39 1 77 1-44 0 39 1-103 1 59 1 16 1-18 0-10 1-24 1 40 1 12 0-108 1 82 1 4 1 5 0-34 1 45 1-62 1 33 0-46 1 99 1-47 1 34 0-57 1 28 1-20 1 27 0 61 1-94 1 64 1-60 0 7 1 49 1-85 1 25 1 46 0-63 1 92 1 29 1 7 0-77 1 4 1 69 1-70 0 39 1 7 1-39 1 12 0 3 1-75 1 25 1 30 0-36 1-14 1 63 1-108 0 102 1-3 1-17 1 11 0 27 1-40 1 9 1 31 1-59 0 37 1-27 1 19 1 1 0 9 1-53 1 7 1 1 0 17 1 29 1 15 1-47 0-11 1 24 1 4 1 32 0 3 1-77 1 54 1-7 0-48 1 79 1-29 1-44 0 21 1 13 1 12 1-36 1 3 0 33 1-45 1 15 1 29 0-20 1 20 1 54 1-79 0 45 1-103 1 46 1 11 0-48 1 51 1 5 1-64 0 55 1-36 1 9 1 23 0-50 1 44 1 18 1 43 0-40 1 21 1-39 1 7 1 22 0-37 1-17 1 80 1-34 0 9 1-63 1 86 1 19 0-81 1 40 1 34 1-34 0 49 1-30 1-24 1-42 0 66 1-38 1 74 1-69 0 30 1-87 1 91 1-6 0-44 1 36 1-10 1 37 1 6 0-64 1-16 1 34 1-105 0 68 1 6 1 11 1 46 0-67 1-13 1 55 1 3 0-47 1 41 1-33 1-11 0 21 1-3 1 46 1-18 0-15 1 33 1-38 1-52 0 10 1 17 1 46 1 89 1-123 0-15 1-15 1 74 1-46 0-16 1 42 1 14 1 12 0-16 1 20 1 17 1-67 0 33 1-74 1 25 1 16 0-27 1 113 1-29 1 13 0-35 1 7 1 31 1-50 0 35 1 31 1-44 1 48 1-23 0 8 1-16 1-54 1 20 0-3 1 48 1 46 1-111 0 80 1-20 1-22 1-7 0-26 1 69 1-13 1-63 0 28 1 23 1-30 1 4 0 34 1-32 1 37 1-16 0-43 1 25 1 38 1-35 1 5 0 4 1-11 1-46 1 43 0-82 1 87 1 6 1 26 0-40 1 26 1-22 1-20 0 15 1 56 1-48 1 49 0-99 1 113 1-89 1 51 0-27 1-3 1-51 1 69 0-54 1-46 1 95 1 28 1-57 0 25 1-11 1 10 1-48 0-7 1-3 1-28 1 0 0 70 1-64 1-6 1-26 0 11 1 59 1-51 1 39 0-25 1-8 1 44 1 4 0-3 1-5 1 33 1 20 0-25 1-22 1 4 1-9 1-61 0 137 1-74 1-58 1 49 0-16 1 52 1-59 1 80 0-43 1-6 1 42 1 39 0-39 1-15 1 28 1 15 0-13 1-77 1 61 1-37 0-26 1-5 1 15 1 25 0-17 1 29 1-5" stroke="#0000ff"/>
</g></g>
<path d="M62.1 207v-3M62.1 9.7v3M90.9 207v-6M90.9 9.7v6M119.8 207v-3M119.8 9.7v3M148.6 207v-6M148.6 9.7v6M177.4 207v-3M177.4 9.7v3M206.2 207v-6M206.2 9.7v6M235 207v-3M235 9.7v3M263.9 207v-6M263.9 9.7v6M292.7 207v-3M292.7 9.7v3M33.3 187.3h3M321.5 187.3h-3M33.3 167.5h6M321.5 167.5h-6M33.3 147.8h3M321.5 147.8h-3M33.3 128.1h6M321.5 128.1h-6M33.3 108.3h3M321.5 108.3h-3M33.3 88.6h6M321.5 88.6h-6M33.3 68.9h3M321.5 68.9h-3M33.3 49.2h6M321.5 49.2h-6M33.3 29.4h3M321.5 29.4h-3M33.3 9.7h5.5M321.5 9.7h-5.5M33.3 207h5.5M321.5 207h-5.5M33.3 207v-5.5M321.5 207v-5.5M33.3 9.7v5.5M321.5 9.7v5.5" stroke="#333" stroke-width="1.35" fill="none"/>
<text class="tl" text-anchor="middle" transform="translate(33.9 217.6) scale(0.94 1)">0</text>
<text class="tl" text-anchor="middle" transform="translate(91.5 217.6) scale(0.94 1)">200</text>
<text class="tl" text-anchor="middle" transform="translate(149.2 217.6) scale(0.94 1)">400</text>
<text class="tl" text-anchor="middle" transform="translate(206.8 217.6) scale(0.94 1)">600</text>
<text class="tl" text-anchor="middle" transform="translate(264.5 217.6) scale(0.94 1)">800</text>
<text class="tl" text-anchor="middle" transform="translate(322.1 217.6) scale(0.94 1)">1000</text>
<text class="tl" text-anchor="end" transform="translate(31.1 211) scale(0.94 1)">0</text>
<text class="tl" text-anchor="end" transform="translate(31.1 171.5) scale(0.94 1)">2</text>
<text class="tl" text-anchor="end" transform="translate(31.1 132.1) scale(0.94 1)">4</text>
<text class="tl" text-anchor="end" transform="translate(31.1 92.6) scale(0.94 1)">6</text>
<text class="tl" text-anchor="end" transform="translate(31.1 53.2) scale(0.94 1)">8</text>
<text class="tl" text-anchor="end" transform="translate(31.1 13.7) scale(0.94 1)">10</text>
<text class="at" text-anchor="middle" transform="translate(177.9 229.3) scale(1.05 1)">Time (ns)</text>
<rect x="234.9" y="23.8" width="78" height="46.4" fill="#fff" stroke="#777" stroke-width="1"/>
<path d="M238.4 30.8H249.8" stroke="#555" stroke-width="1"/>
<text x="255.7" y="33.4" class="lg">MMP1- Zn<tspan class="sb" dy="1.8">1</tspan><tspan dy="-1.8"> Zn</tspan><tspan class="sb" dy="1.8">2</tspan></text>
<path d="M238.4 42H249.8" stroke="#e88" stroke-width="1"/>
<text x="255.7" y="44.6" class="lg">MMP1- Zn<tspan class="sb" dy="1.8">2</tspan></text>
<path d="M238.4 53.2H249.8" stroke="#8e8" stroke-width="1"/>
<text x="255.7" y="55.8" class="lg">MMP1- Zn<tspan class="sb" dy="1.8">1</tspan></text>
<path d="M238.4 64.2H249.8" stroke="#88c" stroke-width="1"/>
<text x="255.7" y="66.8" class="lg">MMP1 - No Zn</text>
<clipPath id="cb"><rect x="386.4" y="12.1" width="282.2" height="194.6"/></clipPath>
<rect x="386.4" y="12.1" width="282.2" height="194.6" fill="none" stroke="#808080" stroke-width="1.3"/>
<g clip-path="url(#cb)"><g transform="scale(.1)" fill="none" stroke-width="10" stroke-linejoin="round">
<path d="M3864 1672l1 56 0-12 1-47 1 38 1 10 0 50 1-103 1 22 1-3 0 20 1-77 1 62 1 26 0-42 1-43 1 74 1-11 0-50 1 51 1-46 1 14 0 2 1 39 1 5 1-66 0 49 1 9 1 74 1-30 0-84 1 23 1-40 1 51 0 59 1-51 1-50 0 59 1 11 1 1 1 23 0-34 1-6 1-32 1 11 0 61 1 25 1-43 1 12 0-55 1 54 1-49 1 28 0-49 1 37 1 71 1 2 0-149 1 82 1-72 1 29 0-67 1 66 1-31 1 91 0-82 1 23 1 5 1-106 0 67 1 133 1-73 0 20 1-25 1-56 1 134 0-89 1 5 1-11 1 108 0-46 1-42 1-26 1 61 0-55 1-16 1 32 1-24 0 0 1-7 1 30 1-11 0 0 1-23 1 69 1-70 0 83 1-103 1 45 1-70 0 86 1-13 1 73 1-44 0-19 1-91 1 57 0 27 1-6 1-37 1 90 0-43 1-40 1 30 1-41 0 70 1-12 1-42 1-39 0 103 1 2 1-10 1 0 0-50 1-17 1 39 1-10 0-17 1 11 1 1 1-3 0-34 1 117 1-1 1-97 0-96 1 120 1-56 1 49 0-13 1 25 1-62 0 14 1 22 1-50 1 28 0-4 1 51 1-27 1-30 0 1 1 55 1 1 1 38 0 3 1-59 1-45 1 25 0-1 1 26 1-1 1-6 0-64 1 77 1-46 1 90 0-8 1-31 1 60 1-121 0 2 1 37 1 24 1-42 0 56 1-67 1 3 0 63 1 7 1 23 1-2 0-108 1 2 1-23 1 43 0-30 1 15 1 45 1-24 0-29 1 22 1 38 1 7 0-130 1 123 1-19 1-24 0 16 1-32 1 42 1-34 0 35 1 4 1 8 1 17 0-6 1 17 1-30 1-58 0 41 1 36 1-24 0-19 1-59 1 33 1-3 0-28 1 34 1 36 1-76 0 47 1-44 1 22 1-15 0-20 1 57 1 52 1-61 0 9 1 25 1-1 1 50 0-53 1 17 1-18 1 18 0 4 1-39 1-13 1 46 0-35 1 116 1-138 1 99 0-59 1 2 1-3 0 84 1-79 1 92 1-47 0 14 1 39 1-131 1 76 0 42 1-20 1-42 1-36 0 15 1 39 1-97 1 45 0-50 1 90 1-44 1-45 0 59 1-29 1 88 1 7 0-112 1 34 1 2 1 27 0-3 1 2 1-25 1-33 0 6 1 51 1-15 0-22 1 60 1-39 1-5 0 1 1 34 1 15 1 2 0-78 1 43 1 50 1 34 0-69 1-57 1 58 1 25 0-52 1 32 1 0 1-25 0 21 1-32 1-2 1 28 0 10 1-30 1 96 1-51 0-33 1-39 1 73 1-69 0-34 1 65 1-25 0 36 1 44 1-26 1-18 0-68 1 67 1-40 1-28 0 5 1 48 1 43 1-81 0-20 1 42 1-15 1 36 0-24 1-26 1 57 1-45 0 112 1-49 1-56 1 12 0-31 1-8 1 38 1-19 0 35 1-36 1 67 1 25 0-78 1 107 1-64 0 2 1-34 1 42 1 1 0 59 1-104 1 75 1-42 0 23 1-75 1 80 1 18 0-102 1 72 1-34 1 9 0 88 1-99 1 70 1-53 0-21 1 17 1 28 1-102 0 103 1 19 1-98 1-5 0 113 1-68 1-5 1 106 0-78 1-62 1 68 0-84 1-34 1 15 1 112 0-70 1 106 1-146 1 19 0 31 1 25 1-12 1-54 0 17 1 44 1-27 1 34 0-47 1 23 1-92 1 59 0-44 1 107 1 9 1-85 0-8 1-28 1 103 1-64 0 68 1-80 1-30 1 56 0 14 1 3 1-6 0 70 1-94 1 73 1-49 0 21 1-37 1 22 1 0 0-1 1-25 1 42 1 30 0-36 1 1 1-26 1 7 0 11 1-44 1 28 1-12 0 25 1-75 1 25 1 70 0 5 1-104 1 53 1-54 0-27 1 92 1-6 1-9 0 62 1 39 1-133 0 100 1-37 1-53 1 58 0-40 1 27 1 48 1-19 0-32 1 39 1-83 1 20 0 71 1-76 1 50 1 0 0-47 1 92 1-36 1-48 0 72 1-104 1 163 1-148 0 19 1 54 1-29 1 34 0-102 1 69 1-20 0-1 1 75 1 33 1-83 0-53 1 16 1 27 1-27 0 38 1-65 1-26 1 151 0-142 1 103 1 11 1-4 0 10 1 40 1-84 1 1 0 121 1-72 1-9 1 52 0-125 1 55 1-24 1 53 0 9 1-21 1-10 1 21 0-36 1 49 1-55 0-55 1 120 1 23 1-47 0-26 1 42 1-55 1 21 0 28 1 34 1-40 1-38 0 3 1 17 1 87 1-22 0-83 1-13 1 59 1-27 0 22 1-60 1 48 1-42 0 58 1 7 1 15 1-78 0 40 1-37 1-28 1 16 0-39 1 69 1 15 0-37 1 34 1 24 1 79 0-62 1-85 1 180 1-197 0 88 1-19 1-79 1 40 0 38 1-70 1 106 1-44 0-67 1 107 1-4 1-71 0 50 1 17 1-66 1 7 0-2 1 38 1 102 1-55 0-37 1-28 1 124 1-135 0 58 1-29 1-89 0 57 1 0 1 22 1 33 0-58 1 27 1-7 1 2 0-32 1 5 1 94 1-42 0-21 1-73 1 105 1-45 0-35 1-11 1 71 1-60 0 23 1-65 1 14 1 100 0-47 1 39 1-151 1 89 0-44 1 121 1 3 1-57 0-28 1-31 1 69 0 29 1-31 1-147 1 157 0 32 1-106 1 20 1 29 0 71 1-116 1 50 1-89 0 49 1-2 1 98 1-165 0 82 1 11 1-39 1-8 0 87 1-70 1-34 1 46 0 27 1-28 1-70 1 70 0-18 1 39 1-42 1-26 0 70 1 10 1-16 0-32 1 17 1 106 1 28 0-127 1 3 1 8 1 46 0 58 1-69 1 17 1-45 0-41 1 14 1 48 1-37 0 41 1-38 1 29 1 23 0-34 1 10 1-41 1 51 0 10 1 19 1-15 1-3 0-58 1 161 1-44 1-40 0-73 1-6 1 42 0 37 1 35 1-84 1 11 0 21 1-65 1-21 1 92 0-55 1 70 1-51 1 63 0-52 1-73 1 92 1-73 0 7 1-4 1 52 1 38 0-46 1-27 1 43 1 10 0 2 1-148 1 181 1-99 0 40 1-64 1-8 1 88 0-29 1 8 1-43 0 83 1-85 1 14 1 44 0-63 1 15 1-15 1 35 0-39 1 44 1-62 1 37 0 102 1-106 1 13 1 14 0-24 1 92 1-70 1 96 0-177 1 111 1 22 1-28 0 52 1-66 1-19 1-24 0 47 1 30 1-14 1-4 0-48 1 73 1-8 0 62 1-117 1 79 1 1 0 26 1-77 1 17 1 13 0 55 1-23 1-50 1 96 0-51 1-38 1 81 1-14 0-50 1 37 1-21 1-23 0-16 1 57 1 39 1-64 0-2 1-21 1-28 1 4 0 12 1 40 1-45 1 2 0 48 1 7 1 24 0-48 1-8 1 3 1-32 0 12 1 36 1-13 1 78 0-134 1 35 1-8 1 27 0-31 1-61 1 78 1-33 0 88 1 21 1-40 1-60 0 43 1-11 1 33 1-102 0 40 1 26 1 22 1-56 0 29 1-22 1 2 1 65 0-56 1 108 1 13 0-130 1-4 1 36 1 8 0-31 1 56 1-80 1 130 0-32 1-13 1-48 1-10 0 63 1-74 1 41 1 6 0-40 1 71 1 6 1 28 0-12 1 53 1-155 1 42 0-43 1 119 1 23 1-105 0 65 1 13 1 44 1-17 0-25 1-115 1 104 0-86 1 33 1-12 1-74 0 139 1-69 1 15 1-68 0 83 1-14 1 25 1-10 0-1 1 2 1-36 1 19 0-9 1-17 1 63 1-20 0-11 1 0 1-48 1 130 0-56 1 6 1-29 1 9 0 51 1-36 1-10 1 24 0-21 1-13 1-61 0 37 1 26 1 3 1-22 0-45 1-1 1 84 1-94 0 54 1 4 1 51 1-50 0-64 1 38 1-25 1 18 0 29 1 49 1-28 1 13 0-55 1 39 1 87 1-79 0-76 1 67 1-27 1-29 0 20 1 67 1-6 1-17 0-43 1 5 1 29 0-31 1-20 1 68 1-7 0 21 1-93 1 38 1-7 0-43 1 71 1 46 1-68 0-78 1 72 1 24 1-62 0-60 1 65 1-7 1 0 0 23 1 23 1-73 1 38 0 59 1-15 1-21 1 33 0-26 1 10 1-5 1 34 0-106 1 92 1 3 0-59 1 29 1-1 1-58 0 101 1 13 1-16 1-8 0-25 1-7 1-23 1 52 0-37 1 95 1-57 1-25 0 47 1-96 1 83 1 18 0-4 1-34 1-50 1 26 0 21 1 98 1-129 1 47 0 57 1-23 1-19 1-4 0-60 1 27 1 49 0-60 1 24 1-110 1 103 0 19 1-33 1-53 1 69 0-70 1 43 1-4 1-94 0 65 1 18 1-48 1 72 0 67 1-98 1 19 1 11 0-44 1 107 1-61 1-106 0 91 1-30 1 27 1 53 0 3 1-40 1 45 1-130 0 130 1 25 1-59 0-24 1 67 1-34 1 4 0 43 1-56 1-11 1 62 0-52 1 71 1-65 1 37 0-67 1 85 1-6 1-26 0-17 1 12 1-40 1 23 0-4 1-65 1 25 1 25 0-4 1 59 1-14 1-107 0 124 1-86 1 25 1 23 0-102 1 44 1-4 0 78 1-31 1 5 1-4 0-41 1 32 1 54 1-37 0 68 1-107 1 12 1 2 0 32 1-24 1 94 1-63 0-12 1 89 1-79 1 24 0-20 1 30 1-62 1 47 0-47 1 9 1 70 1 34 0-53 1-22 1-8 1 24 0-97 1 71 1-61 0 113 1-81 1 17 1 18 0-121 1 107 1-1 1-15 0 18 1-7 1-1 1 15 0-15 1 8 1-62 1 69 0-52 1 12 1 16 1-33 0 36 1-13 1 46 1 45 0-65 1-27 1 73 1-79 0 46 1-2 1-115 1 57 0 21 1 9 1 34 0-96 1 26 1 23 1-29 0 33 1 12 1-26 1 3 0-27 1 72 1-64 1 61 0-23 1 14 1 66 1-55 0-1 1 7 1-99 1 97 0-30 1-3 1 46 1 39 0-13 1-27 1 20 1-49 0 2 1 49 1-67 1 4 0 51 1-17 1-13 0-48 1 54 1 43 1-172 0 139 1-23 1-7 1 43 0-111 1 60 1-30 1 27 0-88 1 159 1-47 1 7 0 63 1-48 1-23 1-2 0 9 1-17 1-13 1 19 0-45 1 53 1-40 1-76 0 96 1 34 1-49 1-25 0 123 1-71 1-93 0 90 1 29 1 10 1-3 0-1 1 28 1-46 1 4 0 46 1-93 1 5 1 58 0-66 1-47 1 89 1-13 0-13 1-19 1 14 1 33 0 7 1 32 1-54 1-50 0 39 1 39 1-39 1 26 0-13 1 33 1-78 1 131 0-37 1-53 1 100 0-58 1 25 1-61 1 11 0 1 1-2 1 8 1-66 0 72 1 20 1-47 1 59 0-16 1-66 1 27 1 10 0-46 1 71 1 28 1-95 0 40 1-90 1 172 1-89 0 20 1-19 1 20 1 7 0-65 1 26 1 33 1-7 0-34 1 109 1-39 0-49 1 28 1-81 1 84 0-27 1 1 1 1 1-36 0 65 1-73 1 33 1 70 0-5 1 38 1-145 1 46 0-19 1 10 1 51 1-19 0 27 1-78 1 42 1-54 0 55 1 40 1-40 1-57 0 45 1-17 1 55 1-42 0-35 1 19 1-4 0-12 1 40 1-33 1 5 0 20 1-92 1 6 1 17 0 49 1 47 1-62 1 44 0-56 1 52 1 12 1 37 0-68 1-7 1-77 1 64 0 82 1-62 1-25 1-11 0 89 1-63 1-34 1 23 0 54 1-60 1 26 1-41 0 73 1-43 1 2 0-23 1 63 1 15 1-9 0-37 1 10 1-13 1-29 0 18 1-5 1 13 1 31 0 20 1-34 1 62 1-65 0 30 1 1 1-27 1-12 0 42 1-24 1-49 1 83 0-40 1 76 1-17 1-53 0 35 1 6 1-40 1-10 0 82 1-61 1 19 0 24 1-31 1 24 1 61 0-56 1-49 1 13 1 4 0 12 1 29 1-17 1 5 0 12 1-69 1 31 1 19 0-50 1-3 1 78 1-72 0 63 1-126 1 71 1 73 0-108 1 78 1-56 1-33 0 26 1 80 1-55 0 17 1-41 1-22 1 24 0-61 1 78 1-63 1 71 0 50 1-30 1-86 1 49 0 46 1-51 1 6 1-1 0 4 1-44 1 41 1-53 0 17 1-1 1-5 1 13 0 100 1-96 1 72 1-25 0-62 1 109 1-27 1 12 0-61 1 45 1-35 0 2 1-57 1 2 1 103 0-15 1-19 1 10 1 12 0-15 1 38 1-82 1 100 0-78 1 19 1 25 1-28 0 30 1-29 1-4 1 54 0-36 1-24 1 22 1 76 0-124 1 42 1 54 1-87 0 53 1-60 1 30 1 33 0-37 1 26 1-19 0-31 1 26 1 10 1-40 0-21 1 30 1 0 1 2 0 20 1-38 1 29 1 13 0 28 1-92 1 8 1 121 0-137 1 8 1 27 1-14 0 29 1-48 1 87 1-73 0 56 1-2 1-38 1 93 0-89 1-12 1 82 1-34 0-49 1 80 1 5 0-102 1 76 1-83 1 12 0 33 1 41 1-69 1 15 0 43 1-5 1-23 1 35 0-10 1-23 1 41 1-24 0-2 1-2 1 19 1-40 0-18 1 93 1-25 1-21 0-46 1 43 1 16 1-52 0 45 1 30 1-6 1 25 0-25 1 29 1-38 0-28 1-2 1 60 1-8 0-66 1 85 1-84 1 8 0-45 1 119 1-82 1 33 0-10 1 32 1-66 1 5 0 67 1 2 1-50 1 21 0-25 1 0 1-1 1 14 0 18 1 16 1-42 1 35 0-21 1 7 1-1 1 11 0-65 1 59 1-64 0 27 1 7 1 2 1 7 0 61 1 7 1-34 1-4 0-25 1-6 1 55 1 16 0-64 1 33 1-6 1-5 0-19 1 85 1-126 1-6 0 54 1 52 1-70 1-50 0 21 1 48 1-19 1 34 0-22 1 20 1-54 1 22 0-12 1 50 1-97 0 60 1 25 1 17 1-26 0 0 1-30 1 19 1-67 0-59 1 156 1-109 1 3 0 3 1 7 1 25 1 9 0 3 1 18 1-41 1 22 0-19 1-2 1 67 1-38 0 23 1 2 1-21 1-40 0 35 1-13 1-33 1 29 0 5 1 38 1-59 0 40 1-63 1-23 1 84 0-29 1 1 1-40 1 90 0-80 1 10 1 29 1-15 0 18 1-5 1 10 1 34 0-24 1 1 1-35 1 33 0-33 1-87 1 128 1-27 0 49 1-45 1-22 1 8 0-60 1 100 1-16 1 1 0 23 1-23 1 40 0-38 1-103 1 63 1-12 0-3 1 5 1-36 1 68 0-17 1-5 1 80 1-95 0-15 1 79 1-32 1 26 0 44 1 16 1-89 1 54 0 21 1-21 1-19 1-56 0 91 1-45 1 7 1 24 0 24 1-81 1 60 1-17 0 5 1 8 1-31 0 32 1-45 1 68 1-4 0 12 1-43 1 0 1 27 0 16 1-76 1 7 1-12 0 61 1-33 1 47 1-28 0 17 1-31 1 7 1-7 0-10 1 24 1-1 1-31 0-3 1-17 1 44 1 19 0 0 1-66 1 46 1 16 0-85 1 10 1 66 0-15 1 23 1-22 1-58 0 53 1-43 1-19 1 107 0-36 1-65 1 60 1 15 0 13 1-52 1 27 1-88 0 77 1 67 1-27 1-41 0-61 1 23 1 55 1 7 0 38 1-88 1 28 1-19 0-7 1 25 1-61 1 9 0 99 1 0 1 57 0-49 1 3 1-14 1-50 0 40 1 25 1-9 1-19 0-33 1 46 1-14 1-11 0-36 1 7 1 47 1 10 0-9 1-40 1-83 1 92 0 25 1-101 1 39 1 102 0-111 1-14 1 4 1 48 0 41 1-62 1-22 1 9 0 15 1 49 1-39 0 15 1 23 1-83 1 67 0-1 1-72 1 78 1 7 0 26 1 3 1-70 1 26 0-19 1-14 1 53 1-3 0 53 1-88 1 40 1-43 0 28 1 14 1 9 1-69 0 51 1-13 1-3 1 30 0-42 1-21 1 2 1-9 0-6 1 3 1-22 0 114 1-85 1-6 1-8 0 25 1 37 1-25 1-18 0 24 1-32 1 12 1 101 0-88 1 72 1-113 1 50 0-20 1 42 1 66 1-80 0 60 1-40 1 67 1-78 0 12 1 24 1 6 1-34 0 16 1-15 1 7 1-5 0 21 1-52 1 39 0-3 1-29 1-18 1 95 0-37 1 30 1-43 1-8 0 129 1-80 1-16 1-60 0 101 1-98 1 27 1 21 0-26 1 29 1-48 1-16 0 59 1-50 1 26 1 24 0-17 1-15 1 10 1-1 0 1 1-18 1 27 1-76 0 41 1-18 1 45 0 25 1-28 1-11 1 14 0 68 1-77 1-52 1-12 0 2 1 72 1-1 1-63 0 33 1 65 1-7 1-22 0-2 1 60 1-67 1 2 0-41 1 34 1 45 1-58 0-22 1-31 1 10 1 5 0-24 1 98 1-84 1-4 0 76 1-62 1 84 0-94 1 21 1 36 1 21 0 10 1-134 1 88 1-36 0 29 1 19 1-53 1-61 0 166 1-60 1-33 1 46 0 19 1-13 1-33 1 40 0 25 1-16 1-55 1 18 0-43 1 24 1 42 1-91 0 95 1-56 1 31 1 16 0-30 1-10 1 46 0 26 1-45 1 12 1-17 0 59 1-94 1 46 1-52 0 32 1 71 1-22 1-22 0 22 1-80 1 78 1-29 0 24 1-6 1-21 1-58 0 107 1-38 1-25 1 38 0 9 1-117 1 75 1 23 0 38 1-23 1-6 1-47 0 20 1 25 1-88 0 4 1 41 1-36 1 24 0 25 1 13 1-15 1-4 0 0 1-8 1-72 1 33 0 44 1-23 1-24 1 36 0 15 1 49 1-67 1 61 0-28 1-47 1-14 1 80 0 34 1-20 1-48 1-62 0 71 1 79 1-27 1-80 0 33 1-7 1 23 0 8 1 66 1-85 1-31 0 78 1 12 1 32 1-30 0 19 1-2 1-45 1-32 0 66 1 22 1-52 1-32 0 63 1 11 1-23 1-18 0-53 1 79 1-48 1-5 0 30 1-82 1 33 1 33 0-17 1 1 1-53 1 58 0-72 1 62 1 62 0-60 1 52 1-24 1-4 0-29 1 12 1 19 1 4 0 0 1-10 1 54 1-24 0-33 1 73 1-105 1 3 0 47 1-23 1 0 1 18 0-20 1 30 1-74 1 40 0-61 1-51 1 81 1-8 0 65 1-44 1-21 1-18 0 56 1-68 1 55 0-61 1 53 1 98 1-97 0 24 1-14 1-34 1 40 0 6 1-21 1 38 1-21 0-55 1-3 1 72 1-2 0-45 1-18 1 52 1 27 0-10 1-65 1 20 1 39 0-82 1 65 1 14 1-57 0 6 1 66 1-12 1-35 0 30 1-59 1 1 0 49 1 75 1-95 1 12 0-71 1 89 1-28 1-68 0 56 1-47 1 17 1 11 0-13 1 28 1 14 1-46 0 65 1-58 1-29 1-53 0 149 1 1 1 17 1-13 0 2 1 23 1-93 1 26 0 94 1-61 1-15 1-45 0 23 1-10 1 5 0 57 1-70 1-22 1 77 0-23 1-85 1 114 1-3 0 8 1-36 1 1 1-36 0 82 1-76 1 17 1 32 0-55 1 70 1-2 1-27 0 60 1-37 1 36 1-35 0 42 1-87 1 20 1 38 0-9 1 51 1-78 1 119 0-119 1 42 1-91 0 59 1 11 1-49 1 36 0-68 1-4 1 82 1-58 0 32 1 11 1 73 1-48 0 13 1-57 1-3 1 73 0 21 1-58 1 51 1-86 0 52 1-62 1-21 1 100 0-5 1-26 1 3 1-81 0 68 1-10 1 47 1-72 0-16 1 70 1 45 0-61 1-16 1 5 1 60 0-56 1-5 1-10 1 68 0-65 1 12 1 2 1 33 0-4 1-9 1-53 1-20 0 20 1 8 1 33 1 11 0 19 1-29 1 50 1-54 0 30 1-27 1 4 1-74 0-16 1 103 1-110 1 55 0 7 1-24 1 109 0-84 1-18 1 28 1-61 0 65 1 24 1-49 1 31 0 22 1-17 1 55 1-86 0-40 1 53 1 22 1 33 0 0 1-14 1 12 1 7 0-34 1 23 1-1 1 34 0-11 1-5 1 13 1 23 0-92 1 31 1 6 1 25 0-30 1 29 1-12 0 43 1-11 1-60 1 39 0-42 1-7 1 64 1 3 0-80 1 56 1-21 1-3 0 12 1-9 1-31 1 24 0 45 1-46 1 67 1-74 0-5 1 55 1-76 1 72 0-17 1-33 1 29 1-73 0-2 1 38 1-5 0-1 1 81 1-66 1 5 0-30 1-15 1 103 1-71 0-59 1 1 1-26 1 65 0 10 1-41 1-16 1 26 0 40 1 13 1-63 1 58 0-41 1 5 1 0 1-31 0 8 1 37 1-17 1-49 0-34 1 39 1 24 1-5 0 31 1-62 1 12 0 111 1-90 1 84 1-62 0-43 1 70 1-104 1 88 0 81 1-159 1 45 1 111 0-134 1 81 1-2 1-5 0-44 1 19 1 49 1-95 0 99 1-69 1 24 1-29 0 65 1-42 1-55 1 91 0-19 1 9 1 5 1-29 0 8 1 25 1 9 0-36 1-26 1 41 1 5 0 39 1-6 1 11 1-30 0-6 1-33 1 2 1 67 0-44 1 9 1 31 1-17 0 15 1-46 1-20 1 91 0-56 1 64 1-94 1-69 0 79 1 88 1-70 1 3 0-33 1 7 1-38 1 11 0 29 1 24 1 6 0-22 1 7 1-52 1 2 0 14 1 102 1-52 1-69 0 31 1 18 1-18 1 45 0-20 1-3 1 14 1-35 0 55 1-109 1-12 1 41 0 26 1 65 1-130 1 124 0-29 1 9 1-27 1 31 0-43 1-27 1 83 1 4 0-33 1-51 1 25 0 4 1 18 1-38 1 68 0-71 1 75 1-17 1-25 0-29 1 46 1 56 1-39 0 63 1-94 1 29 1-13 0 14 1 51 1 29 1-54 0 5 1 60 1-70 1-25 0-24 1 22 1 20 1 71 0-3 1-122 1-23 1 64 0-31 1-2 1 9 0 21 1 7 1 41 1-48 0-9 1 80 1-82 1-96 0 67 1 44 1-29 1-8 0 12 1 14 1 37 1-10 0-60 1 45 1-7 1-41 0 3 1 35 1 48 1-32 0 16 1-57 1 84 1-59 0-14 1 78 1-70 1 2 0-42 1 31 1-14 0 15 1-59 1 64 1-82 0 24 1 80 1-36 1-64 0-63 1 109 1 7 1-37 0 65 1-51 1-46 1 101 0-100 1-9 1 84 1 19 0-44 1-13 1-23 1 47 0 33 1-74 1 75 1 10 0-9 1-116 1 103 1-6 0-57 1 70 1 123 0-151 1-14 1 1 1 32 0 29 1-32 1 30 1-74 0 21 1-52 1 36 1 44 0-56 1 77 1-77 1-3 0 15 1 51 1-45 1 22 0-29 1-19 1 2 1 21 0-33 1 25 1-40 1 109 0-59 1 26 1-55 1 33 0-42 1-7 1 65 0-38 1 9 1 58 1-17 0-51 1 96 1-50 1 10 0-16 1-6 1-65 1 86 0 30 1-39 1 31 1-59 0-4 1 79 1-7 1-55 0 37 1-8 1-55 1 50 0-22 1 52 1-1 1-18 0-18 1-2 1-55 1-27 0 88 1-61 1-35 0 115 1-110 1 81 1-3 0-19 1-48 1-28 1 19 0 15 1 58 1 25 1-56 0 45 1-32 1-66 1 32 0 43 1 33 1-19 1-71 0 95 1-49 1-66 1 40 0-32 1 3 1-28 1-43 0 54 1-30 1 64 1-18 0 23 1 55 1-61 0-7 1 15 1-4 1 56 0-78 1 52 1-45 1 27 0-44 1 32 1-16 1 73 0-66 1 10 1 28 1 0 0-42 1-7 1 9 1-3 0 19 1 1 1 21 1-89 0 41 1 6 1 19 1-4 0 25 1-50 1 17 1 0 0 5 1 15 1-85 0 52 1-37 1 59 1-26 0-28 1 176 1-101 1 100 0-121 1 76 1-50 1-48 0 78 1-143 1 94 1-65 0-4 1-10 1 60 1 32 0-129 1 141 1-2 1-99 0-5 1 2 1 49 1 44 0-15 1-86 1 31 1-115 0 117 1-32 1 56 0-39 1-78 1 40 1 22 0 31 1 7 1-30 1-39 0 14 1 67 1-90 1-2 0 82 1-57 1 54 1-38 0 5 1-27 1 18 1 20 0-31 1 107 1-57 1-42 0 20 1-28 1 54 1 14 0-54 1 21 1 50 1-102 0 30 1 22 1-93 0 116 1-39 1-32 1 36 0 26 1-68 1 43 1-15 0 64 1-10 1 25 1-12 0 9 1-2 1-105 1 89 0 3 1-110 1 44 1 128 0-111 1-5 1 46 1-6 0-71 1 11 1 14 1 39 0-83 1 24 1 14 1 2 0 67 1-70 1-48 0 42 1 28 1-51 1 88 0-25 1-25 1-17 1-1 0 75 1-86 1 13 1 35 0-89 1 68 1-9 1-30 0 14 1-2 1 35 1-40 0 15 1 38 1 13 1-226 0 196 1-15 1-53 1 17 0 162 1-161 1-1 1 31 0 5 1-21 1 53 0 12 1-58 1-54 1 25 0 25 1-18 1 16 1-29 0 1 1 75 1-18 1-90 0 100 1 29 1-122 1 49 0-63 1 12 1 97 1-39 0 2 1-26 1 33 1 12 0-27 1-8 1 47 1 39 0-62 1-24 1 138 1-78 0 26 1-110 1 56 0-17 1-66 1 100 1-13 0 16 1-24 1-82 1 43 0 5 1-15 1 49 1-40 0-8 1-32 1 41 1 15 0-18 1-28 1-19 1 55 0 3 1 38 1-37 1-34 0-12 1 63 1 79 1-91 0-58 1-6 1 32 1-85 0 75 1 109 1-122 0 9 1 10 1-52 1 46 0-12 1-2 1-10 1 96 0-21 1-16 1 30 1-24 0 34 1 7 1 11 1-52 0-48 1 103 1-108 1 6 0 116 1-83 1 1 1 89 0-93 1 12 1-8 1-61 0 58 1-24 1 51 1-89 0-1 1 0 1-88 0 104 1-34 1 51 1-45 0-66 1 103 1 33 1-95 0 76 1-10 1-9 1 30 0-11 1-34 1-22 1 98 0-82 1 43 1 24 1 7 0-66 1-48 1 98 1 20 0-101 1 113 1-68 1-3 0 22 1 50 1-76 1 4 0 34 1-44 1 127 0-23 1 34 1-110 1 35 0-43 1 1 1 1 1 29 0-31 1-44 1 83 1-103 0 62 1-29 1 49 1-64 0 48 1 0 1 5 1-46 0 52 1 13 1 51 1-107 0 97 1-80 1 35 1-10 0 43 1-35 1-7 1-52 0 51 1-9 1 79 0-79 1 60 1 3 1-26 0-16 1 25 1 4 1-38 0 82 1-29 1 80 1-92 0-97 1 119 1-91 1 160 0-141 1-36 1-15 1 45 0-2 1 43 1 4 1 25 0-11 1 40 1 23 1-134 0 30 1-24 1 53 1 40 0-68 1-33 1 117 0-66 1-25 1-86 1 89 0 57 1 9 1-6 1-10 0-67 1 40 1-22 1 54 0-144 1 121 1 23 1-39 0-50 1 52 1-5 1-96 0 125 1-57 1 145 1-118 0 22 1-62 1 30 1 32 0-22 1-4 1 7 1 17 0 28 1-9 1-24 0 32 1-56 1 72 1 28 0-19 1-17 1-35 1-40 0 42 1-40 1 35 1-1 0-36 1 34 1-20 1 31 0 18 1-18 1-88 1 48 0 105 1-38 1-59 1 53 0-64 1 18 1 27 1-80 0 76 1-171 1 138 1-8 0 35 1 54 1-24 0-25 1 56 1-94 1 30 0-12 1 7 1 193 1-193 0-14 1-49 1 31 1 28 0-3 1 17 1-10 1 76 0-141 1 4 1 47 1 36 0-13 1-73 1 63 1 52 0-18 1-33 1-34 1 32 0-52 1 17 1 9 1 81 0-71 1 33 1 4 0-13 1 19 1 13 1-41 0-32 1 96 1-30 1 36 0 26 1-10 1 1 1-61 0 9 1-56 1 38 1-3 0 28 1 6 1-71 1 10 0 4 1-6 1 73 1-28 0-57 1 48 1-52 1 73 0-33 1-46 1-51 1 78 0 49 1-36 1 30 0-5 1-12 1 13 1-35 0 90 1-58 1 34 1-11 0-78 1 78 1-39 1-17 0-3 1-6 1 52 1 16 0-70 1-31 1 101 1-83 0 42 1 41 1-20 1-74 0-6 1 136 1-150 1 42 0 52 1-83 1 83 1-76 0-27 1 93 1 10 0 26 1-37 1-95 1 114 0-105 1 28 1 51 1-55 0 8 1-4 1-20 1 0 0 44 1-32 1 0 1 29 0 33 1-23 1 9 1-15 0 48 1 21 1-74 1-29 0 40 1-74 1 44 1 27 0-61 1-66 1 123 0-66 1 14 1 87 1 13 0-66 1-50 1 114 1-22 0-29 1-5 1 51 1 29 0-70 1 85 1-8 1-29 0-2 1-37 1 35 1-55 0 67 1-8 1-103 1 99 0 18 1-54 1-22 1-6 0 94 1 38 1-20 1-32 0-56 1-21 1 67 0 28 1-81 1 60 1 55 0-139 1 20 1 75 1-73 0 19 1-46 1 102 1-45 0 25 1-28 1 45 1-150 0 157 1-95 1 0 1 133 0-155 1 5 1 63 1 34 0-29 1 6 1-70 1 21 0 28 1-24 1-5 1 63 0-14 1 13 1-82 0 3 1-8 1 31 1 10 0 18 1 22 1-92 1 149 0-143 1 106 1-37 1-78 0 71 1 121 1-278 1 79 0 7 1 72 1-66 1 13 0 12 1-32 1 59 1-95 0 93 1-36 1-11 1-14 0-7 1 33 1-10 1 64 0-65 1 45 1 51 0-52 1 27 1-4 1 46 0-19 1 2 1-28 1-14 0 5 1 30 1-54 1-50 0 25 1 15 1 4 1 16 0-5 1-5 1 11 1-10 0-15 1-18 1 23 1 23 0 35 1 16 1-101 1 25 0 15 1 36 1-41 1 22 0-115 1 6 1 53 0 10 1-24 1 118 1-97 0 75 1-60 1 85 1-10 0-3 1-20 1-58 1 63 0-77 1-87 1 149 1-101 0-21 1 94 1-46 1-44 0 96 1 1 1-31 1 1 0 30 1-17 1 34 1-50 0-79 1 60 1 91 1-104 0 81 1-12 1-6 0-71 1 55 1-5 1 7 0-2 1-25 1-67 1 18 0 53 1 24 1 14 1-56 0 95 1 4 1 0 1-39 0-12 1 7 1 29 1 8 0 50 1-106 1 46 1-62 0 89 1-44 1-19 1 14 0-9 1-8 1 16 1-21 0 36 1-4 1-118 0 123 1 12 1 62 1-36 0-57 1 30 1-26 1 50 0-112 1 40 1 22 1 11 0-6 1-45 1 63 1-41 0 27 1 45 1-28 1-57 0 22 1-53 1 109 1-6 0-52 1 30 1 54 1-95 0 77 1 11 1-14 1 46 0-44 1-60 1-31 0 53 1 14 1-33 1 93 0-201 1 52 1 53 1 23 0-23 1-32 1 42 1-37 0-90 1 208 1-98 1-27 0 63 1 2 1-63 1 34 0 22 1 36 1-118 1 76 0-49 1 37 1 45 1-44 0-24 1-20 1 19 1 70 0-85 1-36 1 100 0 52 1 2 1-56 1-92 0 115 1-124 1 138 1-47 0-26 1 6 1 38 1-57 0 49 1-18 1-99 1 123 0-8 1 25 1 0 1 6 0-98 1 74 1 67 1-125 0-16 1 57 1-28 1 21 0-34 1-28 1 53 1 8 0-67 1 32 1 40 0-9 1-75 1-29 1 87 0 63 1-101 1 76 1-28 0-10 1 45 1 8 1-96 0 42 1-41 1-51 1 131 0-25 1-2 1 70 1-33 0-116 1 87 1-57 1-33 0 104 1-78 1 16 1 44 0-44 1-15 1 45 1-34 0 1 1 150 1-125 0 53 1-64 1 45 1-29 0 42 1 44 1-130 1 91 0-55 1 47 1 28 1-2 0-93 1 43 1-2 1 73 0-75 1 16 1-29 1 10 0 20 1-19 1 25 1-101 0 58 1 46 1-59 1 39 0 25 1-6 1-18 1 29 0 56 1-24 1-24 0 65 1-43 1-9 1-20 0-71 1 88 1-2 1 45 0-102 1 46 1 47 1-64 0-43 1 83 1-11 1-46 0-42 1 142 1-115 1 84 0 66 1-143 1 107 1-41 0-95 1 83 1-92 1 98 0-42 1-32 1 106 1-62 0-97 1 114 1-18 0-19 1 23 1-115 1 159 0-128 1 20 1 35 1-46 0 118 1-59 1-42 1 16 0 42 1-26 1-20 1 74 0-68 1 55 1-4 1 110 0-149 1 46 1 18 1-54 0 71 1-31 1 24 1-2 0-109 1 67 1 42 1-76 0-35 1 58" stroke="#000000"/>
<path d="M3864 1368l1-93 0 135 1 1 1 20 1-30 0 4 1-84 1 90 1 19 0 0 1 44 1-58 1 7 0 5 1-59 1-22 1 9 0 22 1-4 1 22 1 62 0-13 1 37 1 7 1 75 0-30 1-66 1-112 1 83 0-4 1 72 1-46 1 69 0-100 1-139 1 194 0 136 1-244 1 30 1 141 0-105 1 69 1-84 1-10 0 28 1-68 1 59 1-43 0 42 1 129 1-106 1 28 0-51 1-54 1 46 1 74 0 7 1 40 1-28 1-37 0-70 1 25 1-93 1 187 0-13 1 43 1-103 1 81 0-106 1 62 1 182 0-292 1 147 1 45 1-93 0 123 1-53 1 44 1 19 0 31 1-135 1 26 1 6 0 39 1 36 1-78 1 10 0-98 1 134 1-69 1 66 0-41 1 31 1-234 1 120 0 90 1-80 1-35 1 47 0 200 1-225 1 74 1-5 0 113 1-90 1 130 0-36 1-13 1-69 1 28 0 213 1-151 1 61 1 13 0-39 1-24 1-25 1-44 0-120 1 60 1-10 1 25 0-95 1-122 1 147 1 120 0 18 1-39 1-88 1 101 0 44 1-135 1-140 1 161 0-31 1-13 1 40 1-58 0-79 1 130 1-91 0-11 1-3 1 73 1 199 0-234 1 21 1 47 1 9 0 36 1-90 1 52 1 8 0-12 1-43 1 52 1-25 0-55 1 65 1 19 1-31 0 180 1-41 1-140 1-23 0 133 1-194 1 2 1 100 0-119 1 21 1 149 1-36 0-35 1-18 1-3 0 134 1-130 1-134 1 149 0-91 1 173 1-195 1 127 0-112 1-10 1 162 1-106 0-74 1 39 1 167 1-171 0 112 1-177 1 191 1 46 0-151 1 97 1-135 1 46 0 31 1-54 1 80 1-46 0 63 1 199 1-202 1 92 0-90 1-117 1 132 0-140 1 21 1-6 1 22 0 149 1-63 1-11 1-14 0 38 1-118 1 108 1 65 0 1 1-24 1 97 1-57 0-13 1 11 1-114 1 109 0 97 1-173 1 60 1-65 0 189 1-198 1 210 1-195 0 54 1 25 1-99 1-1 0 9 1 65 1 18 0-119 1 38 1-157 1 157 0 28 1-35 1 9 1 48 0 72 1-102 1 46 1-2 0-45 1 70 1-44 1-25 0-85 1-72 1 162 1-18 0 34 1-97 1 60 1-63 0-43 1-33 1 161 1 92 0-88 1 106 1-292 1 200 0 31 1-251 1 234 0 50 1 15 1 41 1-168 0 128 1-26 1-158 1 145 0-16 1 40 1-117 1 244 0-155 1 15 1-215 1 106 0 147 1-141 1 84 1-58 0-16 1 65 1 81 1-13 0-189 1-2 1-117 1 223 0-56 1 72 1 57 1-115 0 149 1-131 1 29 0-55 1 21 1-71 1 95 0 38 1-171 1-6 1 62 0 157 1-30 1 165 1-83 0-265 1 408 1-260 1-47 0 213 1-197 1-42 1 7 0 41 1 16 1 25 1-87 0 176 1-58 1 58 1-88 0-42 1 49 1-29 1 37 0-165 1 74 1 45 0-34 1 56 1-108 1 199 0 13 1 15 1-200 1-130 0 113 1 104 1-49 1-26 0 48 1-23 1-79 1 109 0 125 1-317 1 74 1 137 0-167 1 180 1-61 1 40 0-34 1 106 1-125 1-30 0 81 1-37 1-25 1 114 0-65 1-45 1-3 0 24 1 175 1-308 1 106 0-19 1-16 1 102 1-75 0 80 1-35 1 131 1-172 0-4 1 132 1-130 1-14 0 60 1 68 1-104 1 109 0-98 1-40 1-51 1 0 0 165 1-13 1-96 1 83 0-88 1 16 1-84 1 107 0 41 1-128 1 134 0 24 1 2 1 8 1 17 0 107 1-279 1 142 1-167 0 78 1 7 1 118 1-22 0-143 1 89 1-27 1-37 0 20 1-72 1 45 1 151 0 54 1-49 1-94 1 70 0 30 1-36 1-9 1 44 0-43 1-124 1 190 1-85 0-56 1 13 1 107 0-219 1 93 1-35 1 117 0-75 1-49 1 5 1 8 0 56 1-113 1 29 1 6 0 19 1-22 1-41 1-23 0 94 1 15 1 52 1-9 0-128 1-52 1 132 1 56 0-78 1-84 1 208 1-73 0 65 1-215 1 217 0-28 1-8 1-112 1 86 0 19 1-8 1 11 1-10 0 16 1-119 1 5 1 79 0-177 1 202 1 37 1-31 0-10 1 70 1 55 1-142 0-38 1 131 1-215 1 184 0-48 1 46 1 38 1-86 0-15 1 20 1 31 1 28 0-126 1 22 1 38 0-9 1 0 1-59 1 108 0 40 1-90 1 28 1-45 0 66 1 8 1-19 1-28 0 21 1-26 1 38 1 144 0-206 1 81 1 19 1 82 0-107 1-23 1-17 1-15 0 18 1 118 1-294 1 281 0-124 1-33 1 35 1 110 0-82 1-44 1 174 0-228 1 28 1 34 1 41 0 12 1-168 1 45 1 22 0-19 1 148 1-119 1 20 0-22 1 59 1-56 1 103 0-107 1 56 1-87 1 74 0 21 1-64 1-7 1 66 0-27 1 51 1-38 1 41 0-41 1 83 1-42 1-19 0 77 1-5 1 71 0-211 1 85 1 9 1 31 0-56 1 43 1-7 1-107 0-22 1 289 1-81 1-64 0 47 1-44 1-43 1 4 0 71 1 45 1 57 1-214 0-57 1 130 1-26 1 72 0 21 1-191 1 71 1-155 0 126 1 72 1-103 1 80 0 105 1-50 1-101 0 95 1-48 1 18 1-81 0-23 1 84 1-13 1 115 0-57 1 18 1 103 1-82 0-65 1-26 1-34 1-84 0 114 1-82 1 98 1 4 0-18 1 95 1-70 1 3 0-82 1 28 1 5 1 60 0-77 1 84 1-282 1 206 0 136 1-186 1 90 0-124 1 76 1 65 1-134 0 99 1-207 1 91 1 182 0-153 1 206 1-139 1 36 0-57 1 80 1 10 1-5 0-254 1 164 1-5 1 15 0 35 1-123 1 175 1-155 0 18 1 138 1-124 1 9 0-14 1 147 1-130 1 37 0 121 1-88 1-92 0 99 1-78 1 65 1 30 0-72 1-33 1 52 1 89 0 27 1-146 1 16 1-78 0 87 1-122 1 172 1-112 0 183 1 42 1-191 1 79 0-42 1 17 1 64 1-43 0 60 1-72 1 48 1-58 0 19 1-129 1 109 1-153 0 172 1-103 1 162 0-105 1-46 1 82 1-29 0-50 1 57 1 160 1-102 0-159 1 56 1 34 1 32 0 19 1 66 1-132 1 43 0-58 1 19 1 70 1-13 0 140 1-168 1 63 1 114 0-120 1-11 1-112 1 111 0 14 1-19 1-26 1-91 0 141 1-216 1 163 0-15 1-16 1-29 1 127 0-108 1-2 1-66 1-48 0 120 1-8 1 104 1-76 0-92 1 115 1-57 1-29 0 11 1-5 1 112 1 32 0-54 1-68 1 106 1 25 0 48 1-55 1-11 1-81 0 33 1 94 1-18 1 21 0-184 1 43 1 91 0 0 1-26 1 71 1-119 0 41 1 102 1-22 1 41 0-109 1 8 1 4 1-18 0-14 1 7 1-9 1-39 0 47 1 19 1 84 1-53 0-19 1-40 1 43 1 58 0-63 1 6 1 4 1 89 0-61 1 20 1 16 1-90 0 130 1 72 1-119 0 32 1-24 1-62 1 48 0 187 1-146 1-27 1 1 0 28 1 11 1-145 1 156 0-68 1-78 1 141 1-7 0-125 1 39 1 0 1-32 0 98 1-64 1-16 1-63 0 43 1 55 1 91 1-184 0 58 1 45 1 38 1-7 0-4 1-15 1-91 0 26 1 11 1-17 1 37 0 69 1-79 1-31 1-35 0 56 1 2 1-47 1 32 0-36 1 41 1-5 1 54 0-56 1 22 1-32 1 70 0-22 1-29 1-169 1 142 0-10 1 40 1-9 1 11 0-30 1-67 1 118 1 7 0 10 1-94 1 48 0 1 1-77 1-43 1 84 0 35 1-81 1 48 1-46 0 34 1 39 1 44 1-42 0 18 1-74 1 86 1-82 0 114 1-23 1-56 1 53 0-49 1 76 1-34 1-31 0-32 1 67 1 81 1-195 0 28 1 51 1-93 1 76 0-47 1 92 1 4 0 20 1-10 1-52 1 19 0 26 1-24 1 27 1 45 0-19 1 87 1-149 1-18 0 20 1-28 1 8 1-9 0 95 1-59 1-38 1 91 0-5 1-23 1-3 1-29 0-47 1 34 1 68 1-98 0 69 1-36 1 24 1-46 0 101 1-111 1-62 0 117 1 45 1 2 1-88 0 35 1-13 1 21 1 0 0-113 1 248 1-160 1-28 0 52 1 75 1-84 1 24 0-27 1-53 1 77 1-5 0-79 1 86 1-12 1-70 0-13 1 45 1 57 1-3 0 9 1-27 1-126 1 75 0 65 1-29 1-28 0-29 1 80 1-109 1 109 0 16 1-41 1 21 1 63 0-89 1 21 1-10 1 12 0-13 1-65 1 107 1-47 0-60 1 65 1-6 1 62 0-83 1 29 1 15 1-11 0 27 1-184 1 154 1-104 0 51 1-9 1-14 1 65 0 19 1-97 1 55 0 7 1-92 1-8 1 117 0-100 1 41 1 48 1-29 0 146 1-170 1 16 1 3 0 72 1-57 1 43 1 47 0-14 1-26 1 10 1 114 0-143 1-5 1-53 1 62 0 33 1-92 1 134 1-101 0 104 1-71 1 21 1 51 0-91 1 88 1-110 0 101 1 57 1-159 1-44 0 62 1-14 1 31 1 0 0 18 1 85 1-72 1-12 0-11 1 25 1 25 1-126 0 18 1 142 1-19 1 31 0-81 1-40 1 56 1-50 0 106 1-15 1-18 1-94 0 21 1 119 1 9 1-91 0-102 1 84 1 68 0-84 1 34 1-32 1 20 0 46 1 49 1-124 1 4 0 12 1 59 1-41 1-10 0-11 1 46 1 2 1-48 0-1 1 74 1-112 1 114 0-91 1 54 1-65 1 81 0-25 1 41 1 34 1-66 0 101 1-160 1 5 1 120 0-46 1-7 1-41 0 77 1 40 1-103 1-20 0 108 1-81 1-43 1 12 0 58 1-85 1-27 1 95 0-32 1-1 1 19 1-42 0 46 1 28 1-96 1 106 0-69 1 34 1-25 1-83 0 96 1-57 1 43 1 23 0-60 1 121 1-57 1-44 0 17 1 10 1 28 0 57 1-166 1 87 1-89 0 41 1 40 1-5 1-34 0 22 1-19 1-21 1 88 0-70 1 31 1-11 1-11 0 29 1 131 1-56 1-60 0-57 1 105 1-34 1 29 0-5 1-94 1-14 1 62 0-47 1 28 1 17 1-92 0-10 1 87 1 66 0-19 1-31 1 7 1-47 0 40 1 12 1 21 1-93 0 65 1-1 1-25 1 32 0-72 1 102 1-129 1 89 0 30 1-10 1-56 1 20 0 41 1 24 1 19 1-114 0 0 1 166 1-163 1 55 0-29 1-25 1-3 1 82 0 13 1-35 1 9 0 13 1-8 1-17 1 44 0-102 1 36 1-28 1 93 0-57 1-20 1 46 1-169 0 100 1-36 1 56 1-49 0 25 1 0 1-36 1-13 0 91 1-29 1 26 1 27 0-7 1-20 1-45 1-5 0-23 1 118 1-27 1-25 0 0 1-111 1 113 0 104 1-84 1 32 1-68 0 51 1-105 1 153 1-117 0 77 1-66 1 81 1-69 0-5 1 26 1 85 1-114 0 63 1-51 1-53 1 12 0 50 1-78 1 108 1-49 0 88 1-173 1 129 1-22 0 20 1 38 1-87 1 36 0 8 1-78 1 55 0-61 1 104 1-140 1 3 0 40 1-35 1 70 1-68 0 166 1-78 1 2 1-23 0 58 1-92 1-62 1 125 0-53 1 66 1 27 1-37 0-56 1 30 1 4 1-82 0 136 1-159 1-53 1 112 0 50 1-15 1 57 1-54 0 60 1-66 1-60 0 94 1-66 1 11 1 5 0 34 1 56 1 30 1-6 0-11 1-128 1 54 1 23 0-71 1 18 1-33 1 40 0 88 1-71 1 23 1-71 0 25 1 29 1-64 1 26 0 56 1-78 1 54 1-89 0-72 1 195 1-34 1-23 0-19 1-83 1 134 0 35 1 18 1 12 1-102 0 48 1 79 1-27 1 9 0-52 1-34 1 19 1 67 0-54 1-121 1 185 1-127 0-37 1 138 1-11 1-89 0 43 1 50 1-49 1 64 0-6 1-28 1 25 1 31 0 11 1-62 1 26 0-14 1 11 1-71 1-44 0 22 1 57 1 43 1-63 0-22 1 35 1 41 1-33 0-64 1 56 1 100 1-85 0 35 1-123 1 48 1-11 0 26 1-23 1 31 1-50 0-57 1 94 1 15 1 21 0-29 1 60 1-121 1 36 0-60 1 120 1-74 0 119 1-123 1 28 1 28 0 92 1-79 1-98 1 63 0 3 1-33 1-95 1 112 0 50 1-76 1 16 1 55 0-94 1 51 1-53 1 61 0 65 1 1 1-81 1 61 0-71 1-55 1 92 1 5 0-79 1 70 1-37 1 37 0-52 1 105 1-30 0-67 1 80 1 33 1-42 0-74 1 40 1 37 1-118 0 67 1 7 1 36 1-9 0-27 1 40 1-62 1-21 0 50 1 8 1 24 1 13 0-31 1 43 1-54 1-41 0 67 1-104 1 54 1 13 0-2 1 9 1-36 1-69 0 124 1 27 1-92 0 8 1 52 1-20 1-39 0 62 1-86 1 105 1-31 0-111 1 36 1 137 1 8 0 29 1-116 1 20 1 76 0-68 1 15 1-31 1-22 0 79 1-26 1-172 1 221 0-120 1-103 1 122 1-10 0 53 1-24 1-43 1 34 0-31 1-38 1 8 0-9 1 29 1-94 1 54 0 68 1 36 1-70 1 63 0-38 1-11 1-65 1 103 0-68 1 23 1 13 1 65 0-5 1-83 1 111 1 10 0 41 1-25 1-99 1-10 0 15 1 63 1-14 1-9 0-5 1-70 1 94 1-10 0-9 1-67 1 71 0 36 1 59 1-184 1 134 0-97 1 26 1 80 1-87 0 22 1-15 1 47 1-96 0-19 1 206 1-207 1 114 0-46 1-31 1 67 1-7 0 72 1-65 1-10 1-29 0 11 1-10 1-16 1-4 0 19 1 44 1 47 1 28 0-140 1 94 1-93 0 33 1 24 1-55 1-59 0 81 1-6 1 28 1-28 0 116 1-121 1 23 1 25 0-42 1-24 1 10 1 25 0-15 1 24 1 51 1-69 0 7 1-50 1 111 1-162 0 162 1-33 1 153 1-211 0 85 1-36 1 13 1-30 0 123 1-92 1 26 0-18 1 74 1-112 1 50 0-2 1 71 1-88 1 20 0-54 1 35 1-40 1 74 0 18 1-130 1 100 1 11 0-48 1-5 1 65 1 41 0-132 1 86 1 22 1-48 0-41 1 18 1 9 1-107 0 34 1 52 1 25 1 63 0-107 1 68 1-97 0-58 1 242 1-142 1-9 0 65 1-92 1 104 1-3 0 24 1-36 1 95 1-176 0 82 1-25 1-41 1 23 0-24 1-48 1 136 1-142 0 107 1-5 1-55 1-43 0 128 1-106 1 38 1-14 0 43 1 4 1-59 1 25 0-23 1-71 1 54 0 7 1 42 1-4 1-111 0 40 1 6 1-20 1 85 0-25 1-72 1 124 1-53 0 24 1-11 1 9 1-55 0-43 1 108 1 39 1-101 0-47 1 90 1-6 1-16 0-81 1 157 1-157 1 135 0-128 1 124 1-30 1-67 0 16 1 38 1 50 0-107 1 30 1 12 1-70 0 104 1 9 1-62 1 148 0-114 1-41 1 153 1-110 0 57 1-166 1 93 1 51 0-32 1-17 1 79 1-1 0-53 1-77 1 131 1-171 0 180 1-28 1-18 1-32 0 30 1-19 1 89 1-13 0-40 1 1 1 69 0-80 1 16 1-53 1 29 0 55 1-134 1 27 1-18 0 115 1-132 1 149 1-96 0 56 1-5 1-55 1-46 0 67 1-60 1 90 1-54 0 101 1-85 1 71 1-27 0-72 1-4 1 77 1-50 0 71 1-62 1 5 1 49 0-59 1 10 1-27 0 0 1 38 1 16 1 16 0 76 1-75 1-31 1 61 0-6 1 66 1-2 1-14 0-80 1 3 1 9 1 55 0-75 1 61 1 19 1-52 0-37 1 98 1-29 1 1 0-8 1-104 1 85 1-61 0 42 1 45 1-110 1 76 0-108 1 164 1-161 0 77 1 66 1-21 1-34 0-81 1 72 1-30 1 40 0-43 1 14 1 137 1-63 0-126 1 13 1-8 1 84 0 24 1-67 1-10 1-23 0 40 1 52 1-81 1-29 0 143 1-47 1-8 1-38 0 119 1-27 1-74 1 29 0 49 1-194 1 127 0 3 1-46 1 0 1 28 0-8 1 44 1-23 1 66 0 23 1-48 1-88 1 50 0-6 1-70 1 115 1-109 0 69 1-11 1-17 1 94 0-226 1 82 1 52 1-47 0 52 1-59 1 71 1 58 0-52 1-95 1 138 1-173 0 63 1 6 1 24 0 72 1-68 1 39 1-85 0 75 1-2 1 28 1-29 0-83 1 83 1-38 1 56 0-97 1 29 1 111 1-124 0 49 1 84 1-74 1-58 0 37 1-33 1 49 1 30 0-114 1 39 1-12 1 18 0 75 1 9 1-16 1 30 0-72 1 100 1 0 0-69 1-9 1-9 1 15 0 83 1-98 1-37 1-24 0 159 1-143 1 40 1 112 0-86 1-52 1 89 1-60 0 97 1-68 1-13 1-27 0-23 1-15 1 75 1-44 0 76 1-62 1-87 1 58 0 77 1-66 1-16 1 1 0-4 1 34 1-41 0 38 1 53 1-15 1-36 0 33 1-119 1 115 1-27 0 39 1 23 1-104 1 25 0 52 1 34 1-1 1 13 0-19 1-79 1 113 1-78 0 16 1-24 1 24 1-7 0 61 1-73 1 156 1-195 0 42 1 22 1-60 1 21 0 14 1 67 1-12 0-49 1-14 1 57 1-101 0-14 1 35 1-29 1 45 0 48 1-16 1-119 1 29 0 12 1-76 1 144 1-40 0 23 1-8 1 34 1-70 0 84 1-133 1 126 1-60 0-11 1 52 1-16 1 26 0-14 1-25 1-19 1 14 0 69 1-75 1-33 0 42 1 114 1-41 1-117 0 74 1-24 1 30 1 10 0 9 1 1 1-6 1 42 0-81 1 22 1-40 1 80 0-8 1-10 1-17 1-29 0 48 1-173 1 135 1 53 0-29 1-23 1-26 1-120 0 146 1 6 1 87 1-43 0 30 1-36 1-106 0 59 1 73 1-37 1-96 0 186 1-25 1-55 1-45 0-77 1 14 1 52 1-1 0 62 1-48 1 48 1 15 0 14 1-77 1 10 1 11 0 38 1-141 1 142 1-34 0-5 1-56 1 47 1-12 0 6 1 43 1 13 1-15 0-16 1-27 1 93 0-86 1 20 1 70 1-75 0 13 1 33 1-22 1-63 0 16 1 9 1 82 1-82 0-14 1-51 1-26 1 40 0-19 1 19 1 91 1 11 0-142 1 52 1 48 1-106 0 94 1 5 1-15 1-32 0 116 1-10 1-46 1-16 0 122 1-157 1 118 0-41 1-128 1 136 1-71 0 14 1-34 1 70 1-37 0 34 1-39 1 44 1-52 0 1 1 2 1 36 1 2 0-73 1 49 1-33 1-51 0 71 1-34 1 25 1 10 0-74 1 80 1-38 1 20 0-24 1 69 1-92 1 177 0-48 1-1 1-93 0-10 1 47 1-88 1 143 0 21 1-1 1-23 1-16 0-35 1 79 1-77 1 35 0 32 1-106 1-39 1 120 0-36 1-21 1 23 1 30 0 2 1-29 1-43 1 134 0-42 1-98 1 53 1 56 0-19 1-44 1 14 1-32 0 54 1 24 1 52 0-75 1-10 1-83 1 29 0 66 1 47 1 32 1 38 0-108 1-61 1 45 1-42 0 42 1-103 1-51 1 97 0 11 1-13 1 45 1 14 0-4 1-11 1-2 1-28 0 25 1-45 1 107 1-34 0-69 1 47 1-6 1-2 0 44 1 35 1-29 0-37 1-21 1-55 1 67 0 48 1-40 1 45 1-59 0-27 1 47 1-79 1 100 0 19 1 127 1-159 1 50 0-33 1-15 1 81 1 10 0-127 1 55 1 10 1 27 0 8 1-106 1-36 1 133 0-101 1-71 1 37 1 20 0 27 1 13 1-67 0 26 1 71 1 16 1-11 0-68 1 1 1 61 1-105 0-18 1 76 1 6 1 35 0 42 1-18 1-37 1-31 0 29 1-35 1-7 1-18 0-4 1 45 1-14 1 1 0 43 1-140 1 98 1 31 0 28 1-73 1 52 1-39 0 11 1-26 1-38 0 118 1-51 1-42 1 38 0 17 1-66 1 44 1-20 0 52 1-21 1-12 1-81 0 12 1-46 1 64 1 133 0-69 1-44 1-88 1 173 0-107 1 23 1 118 1-77 0-45 1 40 1 70 1-45 0 13 1-81 1 4 0-69 1 96 1-23 1 136 0-38 1-40 1-24 1 77 0-71 1 22 1-77 1 14 0 48 1-44 1-73 1 144 0-155 1 175 1-80 1 45 0-32 1-8 1 55 1-65 0 30 1 0 1-18 1 13 0 7 1-4 1-7 1 24 0 37 1-93 1 198 0-133 1-79 1 74 1-9 0-9 1-15 1 8 1-110 0 190 1-59 1-24 1-18 0-13 1 23 1-77 1 92 0-40 1-21 1 97 1-79 0 27 1-2 1-81 1 184 0-123 1-53 1 95 1-22 0-10 1 29 1 38 1 1 0 5 1-112 1 78 0 19 1-24 1-21 1-63 0 61 1-62 1-16 1 31 0 41 1-63 1 117 1-63 0 135 1-27 1-102 1-15 0-20 1 35 1-89 1 166 0-7 1-74 1 117 1-100 0 8 1 52 1-45 1-12 0 60 1-51 1 62 1-24 0 82 1-103 1 65 0-49 1-37 1 6 1-8 0 74 1-26 1-11 1-8 0-71 1 72 1-8 1 17 0 32 1-69 1 20 1-1 0-56 1 67 1-11 1-3 0 16 1-1 1 39 1-38 0-23 1 42 1-16 1-2 0 1 1-121 1 152 1-71 0 56 1-55 1 1 0 59 1-29 1 43 1 51 0 4 1-83 1-8 1 20 0-114 1 124 1 66 1-89 0 41 1-98 1 66 1-13 0-11 1-31 1-113 1 28 0 58 1-11 1 94 1-29 0 5 1-75 1 3 1 34 0-60 1 90 1 2 1-81 0 30 1 60 1 47 0-60 1 43 1-67 1 22 0-99 1 101 1-29 1 4 0 31 1 5 1 23 1-19 0-78 1 33 1-8 1-17 0 67 1-103 1-4 1 38 0-65 1 61 1 93 1-166 0 148 1-77 1 42 1-15 0 67 1-65 1 75 1-57 0-6 1-1 1 2 0-36 1-42 1 125 1-45 0 75 1-5 1-111 1-4 0 29 1 0 1 31 1 39 0-100 1-62 1 112 1 44 0-21 1-7 1-110 1 60 0 10 1-25 1 60 1-3 0 53 1-105 1 91 1-51 0 48 1-25 1-43 1 1 0 42 1-39 1 108 0-62 1 19 1-18 1 42 0 31 1-47 1 17 1 29 0 58 1-184 1 73 1-45 0-83 1 169 1-105 1 76 0-58 1 39 1-42 1-71 0 6 1 57 1 18 1-42 0 138 1-151 1-66 1 120 0 57 1-192 1 119 1-9 0-40 1-57 1 27 0 25 1 33 1-58 1 10 0-37 1 34 1 38 1-70 0 28 1 78 1-84 1-4 0 16 1 96 1-83 1 24 0 49 1-8 1 34 1-82 0 70 1-53 1-76 1 138 0-2 1-39 1-80 1 161 0-122 1-6 1-2 1 2 0 98 1 55 1-133 0 39 1-64 1 93 1-86 0-20 1 78 1-17 1-47 0 105 1-72 1 60 1 26 0-122 1 124 1-202 1 126 0 72 1-81 1 56 1-31 0 61 1 1 1-38 1-15 0-14 1-10 1-18 1-14 0 41 1-55 1 61 1-44 0 51 1-65 1 126 0-119 1-37 1 42 1 68 0-82 1 110 1-49 1 35 0-37 1 12 1-29 1-23 0 79 1-117 1 73 1-44 0 27 1 15 1 0 1-98 0 108 1 27 1 4 1 66 0-52 1-43 1 71 1 14 0-22 1 47 1-34 1-57 0-16 1 40 1 4 0-32 1-24 1-17 1 16 0-48 1 25 1 40 1-32 0 16 1 78 1 0 1-192 0 105 1 37 1 88 1-174 0 13 1 31 1 68 1-76 0-16 1 54 1-44 1-5 0 31 1 9 1 10 1-53 0 131 1-4 1 19 1-59 0-18 1 66 1-53 0-39 1-65 1 84 1-65 0 32 1-34 1 55 1-30 0-47 1-16 1-10 1-51 0-26 1 29 1 31 1 76 0-21 1-85 1 44 1 62 0-168 1 77 1 49 1-25 0 2 1 46 1-41 1 37 0-37 1 3 1 132 1-62 0-2 1 9 1 29 0-34 1 41 1 65 1-156 0 65 1 10 1-50 1 90 0-51 1 67 1-117 1 59 0-104 1 50 1-41 1 0 0 85 1 10 1 52 1 126 0-166 1 3 1-31 1 45 0 66 1-121 1 130 1-99 0-7 1 88 1 3 1 86 0-198 1 118 1-77 0-96 1 198 1-145 1 83 0-23 1-29 1-59 1 39 0-40 1 18 1 61 1 84 0-32 1-71 1 76 1-91 0 103 1-110 1 138 1-68 0-38 1 99 1-51 1-162 0 117 1 27 1-14 1 66 0-120 1 116 1-86 1 36 0-85 1 124 1-51 0 160 1-37 1-137 1 142 0-205 1 120 1-67 1-45 0 78 1-123 1 76 1 42 0-38 1 38 1 59 1-112 0 57 1 23 1-81 1 139 0-44 1-64 1 36 1-2 0-68 1-6 1 45 1-99 0 40 1 39 1-13 1-48 0 68 1-24 1-17 0 23 1 18 1-42 1 4 0-39 1-30 1 86 1-8 0-35 1 77 1-56 1 85 0-73 1 41 1-96 1 49 0-15 1 27 1 20 1-88 0 79 1 9 1-21 1 41 0-26 1-9 1 11 1-68 0 43 1-35 1 24 1 28 0 35 1-62 1 32 0-5 1 43 1-17 1 23 0 23 1 33 1-112 1-32 0-15 1-7 1 81 1-5 0-24 1 6 1 105 1-76 0-33 1 37 1-96 1 113 0-194 1 77 1 71 1-74 0 31 1 6 1 47 1 41 0-87 1 124 1-77 1-56 0 93 1-74 1-60 0 104 1 87 1 13 1-90 0-5 1-83 1-45 1 48 0 51 1-5 1-56 1 82 0-73 1 52 1-16 1-12 0-61 1 113 1-28 1-33 0 16 1 1 1 2 1-18 0-17 1 68 1 81 1-160 0 47 1 28 1 26 1-44 0 34 1-57 1-17 0 94 1-35 1 63 1 59 0-36 1-29 1-85 1 24 0 4 1 68 1 16 1-12 0-58 1 14 1 24 1-92 0-115 1 97 1 17 1-91 0 79 1 49 1-79 1 18 0 11 1 7 1 114 1-145 0 23 1 17 1 27 1 20 0-67 1-12 1 21 0-71 1 109 1 13 1-41 0 16 1-103 1 63 1-10 0-11 1 109 1-40 1-16 0-16 1-32 1 56 1 80 0-154 1 66 1 110 1-126 0-58 1 124 1-21 1-17 0 102 1-128 1-54 1 130 0 8 1-82 1-3 1-14 0 128 1-106 1 53 0-59 1 91 1-27 1 81 0-80 1-90 1 88 1 20 0-22 1 2 1 20 1-40 0 67 1-79 1-182 1 265 0-124 1-4 1 156 1-162 0-75 1 110 1 116 1-45 0-15 1-58 1 0 1 110 0-84 1-12 1 21 1 6 0 5 1 21 1 19 0-34 1-70 1 19 1 94 0-2 1-27 1 23 1 26 0-109 1 67 1 49 1-44 0-74 1 25 1 31 1-2 0-36 1-28 1 7 1 14 0-15 1 64 1-60 1 28 0-21 1 128 1-105 1 5 0 89 1-69 1-26 1 43 0 75 1-109 1-33 0 40 1-111 1 155 1-77 0 17 1 125 1-139 1-123 0 63 1 86 1 18 1-111 0 19 1 62 1-63 1 23 0-58 1 93 1-24 1 52 0-90 1 73 1-17 1 6 0 13 1-13 1 48 1 57 0-82 1 58 1 24 1-75 0-8 1-1 1-36 0 3 1 20 1 18 1-4 0-30 1 42 1-4 1-19 0-20 1 0 1-35 1 36 0 10 1-4 1-82 1 36 0-22 1-73 1 73 1 22 0 24 1 36 1-26 1-43 0 29 1 19 1-93 1-37 0 33 1 38 1-28 1 97 0-80 1 107 1-21 0-97 1-4 1-24 1 83 0-91 1 105 1-36 1-40 0 0 1-60 1 76 1-22 0 4 1-34 1 126 1-87 0 61 1-148 1 55 1-99 0 106 1-119 1 172 1-21 0-96 1-39 1 77 1-24 0 72 1-83 1 55 1 32 0-38 1 50 1 39 0-93 1-37 1 123 1 47 0-49 1-50 1 51 1-108 0 61 1 20 1 15 1-13 0 11 1 0 1 5 1-77 0-79 1 162 1-84 1 29 0-3 1-44 1-87 1 63 0 136 1-124 1 65 1-40 0 53 1-109 1 188 0-70 1 11 1 9 1-29 0-83 1 110 1-112 1 16 0-20 1 43 1 34 1-2 0-56 1-35 1 74 1-33 0 83 1 5 1-42 1 17 0-81 1 48 1 40 1 56 0-157 1 15 1-48 1 66 0 127 1-72 1-17 1 7 0-42 1 38 1 19 0-130 1 182 1-61 1 94 0-170 1 159 1-115 1 26 0 8 1-18 1 9 1-137 0 120 1 35 1-141 1 62 0 100 1-82 1 22 1-40 0 35 1-24 1 8 1 33 0-99 1 64 1 4 1 8 0-1 1 27 1-79 1 47 0 67 1-58 1-34 0-20 1 57 1 30 1-75 0 11 1-21 1 15 1 18 0 51 1-38 1 54 1-54 0 67 1-31 1 9 1-1 0 22 1-176 1 153 1 1 0-40 1 23 1 21 1-101 0 77 1-3 1-87 1 51 0-28 1-11 1 98 1-79 0 2 1 21 1-12 0 15 1 64 1-20 1-5 0 32 1-146 1 83 1-4 0-71 1 61 1 16 1 34 0 60 1-145 1 39 1 59 0-46 1 26 1 35 1-42 0 44 1 50 1-12 1-12 0-75 1 25 1 26 1 35 0-31 1-100 1 77 1 13 0-1 1-20 1 28 0-171 1 74 1 34 1 14 0 8 1 31 1-115 1 129 0-138 1 105 1-51 1 58 0-31 1-51 1 102 1 10 0-36 1 3 1 34 1 9 0 49 1-84 1 124 1-193 0 44 1 49 1 3 1-40 0-71 1 28 1 130 1-52 0-72 1 78 1-149 0 212 1-153 1-22 1 121 0-8 1-12 1-92 1 44 0-19 1 56 1-77 1-2 0 49 1 55 1-75 1 102 0-69 1 63 1 65 1-36 0-31 1 38 1-139 1 30 0-22 1 42 1-23 1 25 0-46 1 77 1-62 1-5 0-76 1 79 1 79 0 11 1-84 1 1 1 1 0 99 1-100 1-15 1-45 0 111 1-6 1 1 1 37 0-31 1-23 1-60 1 55 0-35 1-9 1 119 1-134 0-89 1 53 1 100 1 47 0-53 1 0 1-22 1-11 0-37 1-34 1 128 1-16 0-40 1 5 1 22 0-28 1-92 1 34 1 68 0-13 1 0 1 73 1-5 0-13 1-68 1 132 1-123 0 140 1-149 1-6 1 36 0-16 1-25 1 64 1-48 0-16 1 77 1-81 1-102 0 175 1-52 1 23 1-16 0-33 1 80 1 11 1-18 0-2 1-12 1 64 0-81 1 35 1 14 1-31 0 14 1 32 1-66 1 37 0-33 1 96 1-154 1 2 0 8 1 57 1 20 1 70 0-85 1 89 1-62 1 66 0-151 1 168 1-79 1-120 0 54 1-46 1 152 1-130 0 79 1-13 1-123 1 143 0-100 1 110 1-28 0-44 1 98 1-93 1 9 0 54 1 6 1 52 1-18 0-3 1-96 1 57 1 68 0-1 1-2 1-24 1 63 0-70 1 70 1-163 1-34 0-20 1 25 1 18 1 28 0-50 1-55 1 17 1 65 0 1 1 63 1-21 1 0 0-90 1-51 1-19 0 120 1-44 1 72 1 24 0-57 1 0 1-26 1 17 0-17 1 45 1-22 1 18 0-26 1-17 1 31 1-175 0 218 1-154 1 92 1-50 0 32 1 46 1-24 1 73 0-75 1-75 1 148 1-115 0 32 1-11 1 17 1-68 0 91 1-15 1 30 0-119 1 139 1-7 1-23 0-36 1 84 1-14 1 10 0 0 1 46 1-35 1-2 0-30 1-23 1-57 1 147 0-55 1-19 1-106 1 120 0 87 1-75 1-55 1 122 0-74 1-82 1 26 1 32 0-19 1-52 1 8 1 82 0 40 1-59 1-1 0 80 1-152 1 84 1 6 0-94 1 81 1 69 1-69 0 57 1-127 1-3 1 94 0-78 1 134 1-79 1-113 0 122 1-60 1 8 1 99 0-59 1-36 1-5 1 31 0 35 1-98 1 106 1 49 0-49 1-7 1 69 1-33 0-115 1 53" stroke="#ff0000"/>
<path d="M3864 1739l1-40 0 63 1 71 1-130 1 60 0-6 1 48 1-82 1 7 0 72 1-108 1 57 1 5 0-87 1 21 1 60 1 60 0-61 1-6 1 39 1 41 0-10 1 8 1-66 1-28 0 13 1 69 1-46 1-22 0 143 1-107 1-89 1 79 0-48 1 56 1-27 0 55 1-69 1-56 1-45 0 30 1-77 1 126 1 6 0-6 1-48 1 52 1-70 0 53 1 21 1 51 1-48 0-23 1-109 1 46 1 28 0-100 1-29 1 82 1-90 0 43 1 11 1-11 1 90 0-34 1-51 1-57 1 62 0-66 1-13 1 0 0 31 1-33 1 61 1-22 0-35 1 131 1-90 1-149 0 103 1 42 1-94 1-81 0 98 1-55 1 90 1 4 0-15 1-50 1-125 1 165 0-171 1 140 1-52 1-82 0 31 1 11 1 151 1-100 0 87 1-230 1 172 1-79 0 100 1-41 1 44 0-174 1 267 1-245 1 66 0-29 1-276 1 320 1 53 0 3 1-41 1-37 1-124 0 121 1-130 1 126 1-162 0 50 1 153 1-34 1 208 0-226 1-42 1 9 1-6 0 146 1-44 1 98 1-334 0 120 1-16 1 73 1-135 0 264 1-195 1-162 0 200 1-18 1-42 1 140 0-101 1-76 1 35 1-18 0 70 1-50 1 29 1-117 0 62 1 80 1 205 1-245 0 92 1 6 1 108 1-85 0-208 1 194 1-51 1-47 0-49 1 78 1 0 1 29 0-171 1 29 1 105 1 106 0-31 1-94 1 69 0-132 1 31 1 1 1-27 0 19 1 94 1-43 1-233 0 301 1-98 1-153 1 95 0 69 1 76 1-189 1-68 0-29 1 104 1-105 1 163 0-125 1 90 1-109 1-14 0-208 1 334 1-214 1 112 0 20 1-36 1 162 1-144 0 6 1 47 1-82 0 120 1 25 1 119 1-132 0 83 1-38 1-11 1 10 0 160 1 12 1-192 1 28 0 4 1-63 1-17 1 80 0 63 1 102 1-21 1-31 0-83 1-12 1-37 1 44 0-95 1 35 1-10 1 31 0 81 1 18 1-135 1 1 0 59 1-15 1-237 0 318 1-35 1 0 1 196 0-112 1-193 1 65 1 45 0 16 1 3 1-87 1 88 0 18 1-54 1-97 1 32 0-40 1 259 1-299 1-87 0 57 1 173 1 46 1-103 0 140 1-198 1 71 1-119 0-55 1 288 1-138 1 77 0 61 1-74 1-11 0-106 1 224 1-259 1-95 0 238 1-149 1 64 1 112 0-105 1-29 1-55 1-336 0 301 1 27 1-101 1 264 0-10 1-227 1 150 1-127 0 95 1-161 1 38 1 29 0 93 1-84 1-4 1 196 0-120 1-51 1 55 1 26 0-98 1 177 1-43 0 305 1-320 1 102 1-139 0 30 1-90 1 107 1 130 0-287 1 170 1-277 1 236 0-72 1-93 1 138 1-66 0 245 1-176 1 123 1-44 0 9 1-59 1-153 1 303 0-178 1 21 1-154 1 159 0-40 1 75 1-128 1-50 0 151 1-15 1 143 0-158 1-42 1 119 1-153 0 289 1-18 1-45 1-76 0-56 1-36 1-11 1-65 0 151 1 61 1 49 1-260 0 367 1-391 1 41 1 127 0 121 1-59 1 113 1-298 0 180 1-125 1 73 1-75 0-23 1 178 1 90 1-254 0-36 1 66 1 12 0-178 1 289 1-166 1 139 0-46 1 27 1 23 1 75 0-33 1 84 1-210 1 125 0-62 1 122 1-76 1-117 0-66 1 67 1 37 1 97 0 81 1-237 1 116 1-109 0 245 1-66 1 53 1-103 0-141 1-22 1 210 1-203 0-35 1 92 1-18 0 32 1 179 1-126 1-180 0 146 1 5 1 53 1-1 0-141 1 133 1 84 1 159 0-174 1 149 1-247 1-29 0 40 1 223 1-233 1 52 0 80 1-127 1 163 1-21 0 6 1-27 1-160 1 174 0-16 1-36 1-102 1 71 0-106 1 132 1 24 0-49 1-49 1 124 1-127 0-113 1 249 1-61 1-149 0 207 1 37 1 31 1-112 0-30 1 69 1-9 1-132 0 45 1 83 1-10 1 11 0-20 1 25 1 36 1-32 0 109 1-12 1-111 1-146 0 153 1-17 1 66 0 33 1-182 1 269 1-257 0 165 1-107 1-116 1 187 0-20 1-77 1 0 1 50 0-90 1 85 1-16 1-66 0 45 1 23 1-40 1 105 0-71 1-73 1-91 1 208 0 98 1-116 1-2 1-148 0 78 1-15 1-67 1 104 0-16 1-150 1 15 0 96 1 10 1 106 1-145 0 44 1 0 1 83 1 49 0-72 1-56 1-103 1 122 0 167 1-34 1 61 1-71 0-76 1 0 1 73 1-81 0 91 1 57 1 14 1-52 0-195 1 229 1-206 1-24 0 119 1-17 1 51 1-73 0-26 1 217 1-282 0-30 1 58 1 12 1 34 0-57 1 112 1-141 1 52 0 74 1-296 1 246 1-414 0-400 1 905 1-366 1 395 0 57 1-160 1-14 1-60 0-14 1-29 1 39 1-80 0-55 1 143 1 18 1-157 0 80 1 36 1-58 1-15 0 170 1-91 1 96 0-133 1 56 1-351 1 215 0 127 1-75 1 132 1-68 0 172 1-206 1 184 1-98 0-68 1 30 1-57 1 264 0 1 1-86 1-90 1-8 0-30 1 86 1-3 1 114 0 0 1-195 1 7 1-117 0 149 1-83 1-153 1 60 0 24 1 205 1-194 0-41 1 13 1-2 1 28 0-168 1-5 1 169 1 87 0-482 1 440 1-174 1-18 0 276 1-114 1 74 1-36 0-10 1-154 1 108 1 66 0-123 1 131 1-192 1-27 0 291 1-33 1-29 1 80 0 86 1-253 1 159 1-13 0-38 1 69 1 19 0-139 1-250 1 101 1 5 0 198 1-160 1 113 1-139 0 91 1-29 1 38 1 88 0 119 1-201 1 191 1-15 0-198 1 134 1-76 1 16 0-5 1 12 1 39 1-103 0 358 1-298 1 120 1 29 0-128 1 72 1-63 1-41 0 232 1-222 1-174 0 78 1-100 1 128 1 148 0-54 1-169 1-33 1 167 0-83 1-81 1 172 1-130 0-112 1-217 1 371 1-174 0 196 1 41 1 173 1-286 0 138 1-421 1 386 1 22 0 231 1-318 1 155 1-43 0 237 1-362 1 43 1 151 0-28 1-12 1-46 0 107 1-130 1 172 1 15 0-12 1 145 1-122 1-115 0 58 1 96 1-80 1 110 0-144 1-70 1-18 1 100 0-115 1-46 1 131 1-53 0 121 1 29 1-125 1 46 0-1 1 8 1-9 1-42 0-46 1 77 1 78 1-125 0 19 1-6 1 22 0-112 1 109 1-18 1 111 0-176 1 134 1-20 1-10 0 40 1-116 1 106 1-6 0-39 1 69 1-71 1-9 0 163 1-182 1 83 1 7 0 60 1 23 1-52 1-36 0 7 1-36 1 145 1-46 0 42 1-148 1 88 1-40 0 71 1-91 1-12 0 29 1 88 1-144 1 17 0-14 1-35 1 57 1 17 0-38 1 15 1 25 1 3 0 2 1-56 1 5 1 60 0-81 1 148 1-51 1-89 0 98 1 42 1-125 1 35 0 61 1-119 1 91 1-90 0 67 1 3 1 41 1-28 0 26 1-36 1 13 0-31 1 75 1 52 1 108 0-163 1-81 1 41 1 58 0-97 1 76 1-113 1 63 0-77 1 2 1 46 1-32 0 133 1-164 1-89 1-97 0 85 1 30 1 50 1-161 0 127 1-47 1-73 1 74 0-185 1 25 1 116 1-6 0 35 1-6 1-145 0-25 1-7 1 17 1 27 0-104 1 97 1-106 1-11 0-123 1 131 1-12 1-130 0-49 1 229 1-85 1-47 0-78 1 143 1-90 1 198 0-357 1 166 1 48 1 3 0-78 1-160 1 337 1-119 0 68 1-80 1 51 1-7 0-43 1 26 1-136 0-167 1 242 1 72 1-163 0 211 1 14 1-194 1-110 0 89 1 84 1 94 1-6 0-95 1 87 1-3 1 53 0-34 1-132 1 47 1 126 0-28 1-5 1-170 1-66 0 227 1 4 1 55 1-94 0-27 1 132 1-51 1-104 0 81 1-1 1-61 0 19 1-64 1 37 1 112 0-34 1-4 1 108 1 174 0-359 1 185 1-206 1 30 0-98 1 29 1 29 1-64 0 132 1-44 1-24 1-106 0 96 1 129 1-53 1 20 0-44 1-17 1-158 1 311 0-222 1 98 1 75 1-14 0 10 1-30 1-47 0 54 1-59 1 144 1-104 0 80 1-71 1 27 1-33 0 55 1 67 1-106 1-12 0-120 1 311 1-123 1-86 0 171 1-54 1-191 1 63 0-9 1 21 1 12 1 24 0 41 1-29 1 78 1-58 0-103 1 64 1-110 1-12 0 325 1-147 1-33 0 35 1 30 1 113 1-178 0 251 1-165 1 75 1 59 0-162 1 319 1-104 1-58 0 69 1-122 1 78 1 5 0-168 1 161 1-4 1 63 0-42 1-142 1 0 1 38 0 70 1-115 1 178 1-117 0-6 1 8 1-30 1 66 0-9 1-181 1 257 0-191 1 110 1-70 1-38 0-52 1-57 1 205 1-27 0 3 1 211 1-84 1-119 0-59 1 94 1-96 1 20 0 131 1-87 1-122 1 178 0 86 1-208 1 89 1 39 0-51 1 23 1-93 1 40 0-27 1 74 1 63 1 4 0-51 1 87 1-213 0 196 1 15 1-113 1 3 0 90 1 11 1-33 1-32 0-2 1 83 1-165 1 82 0-3 1 240 1-162 1-48 0-6 1-30 1-90 1 108 0-142 1 93 1-94 1 157 0-44 1-89 1 87 1 159 0-126 1 49 1 0 1-68 0 18 1-122 1 84 0 24 1 22 1-7 1 11 0 123 1-70 1-49 1 61 0 33 1-141 1 104 1-15 0 20 1-28 1 15 1 36 0 60 1-191 1 212 1-119 0 155 1-28 1-106 1 34 0 23 1-58 1 62 1-97 0 108 1-92 1 10 1-67 0-2 1 111 1-126 0 132 1 79 1 17 1-231 0 100 1 33 1 11 1 14 0-132 1 82 1-75 1 121 0 117 1-159 1 158 1-92 0-79 1 85 1-71 1 62 0 37 1-33 1 63 1-104 0 39 1 42 1-31 1 4 0 43 1-54 1 45 1-39 0 89 1-49 1-8 0 55 1-24 1-7 1-70 0 67 1-65 1-64 1 36 0 69 1-73 1-37 1 49 0-106 1 134 1-126 1 124 0 32 1-2 1-16 1-33 0-9 1 32 1-14 1-5 0 82 1-35 1-7 1-106 0 62 1 19 1 37 1-51 0 137 1-42 1-77 0 67 1-134 1 77 1 1 0-13 1 15 1-12 1-79 0 43 1-42 1-26 1 78 0-122 1 66 1-8 1 77 0-67 1 8 1 48 1-110 0 58 1 29 1-20 1-40 0-20 1 24 1 6 1 66 0 57 1-20 1 17 1-60 0-53 1 49 1 49 0-26 1-42 1 65 1-25 0-8 1 83 1-108 1 30 0-13 1 58 1-2 1-12 0-36 1-27 1 8 1-88 0 24 1 92 1-10 1-112 0 76 1-74 1 1 1 103 0-15 1-20 1 27 1 4 0-35 1-69 1 61 1 123 0-81 1 60 1-144 0 181 1-88 1-57 1 67 0-96 1-23 1 99 1-44 0 59 1-61 1 22 1-23 0-25 1 38 1-25 1 30 0 71 1-61 1-18 1 107 0-134 1 64 1-19 1 54 0-9 1-1 1 24 1-38 0 93 1-155 1 127 1 122 0-168 1-4 1-56 0 86 1-63 1 22 1-144 0 60 1-64 1 147 1-87 0 90 1-61 1-5 1 91 0-86 1 64 1 27 1-15 0 11 1 31 1-51 1-4 0 185 1-111 1-11 1 27 0 13 1-75 1-30 1 23 0 45 1-111 1 11 1 95 0-36 1-54 1 100 0-38 1 8 1 27 1-6 0 68 1-56 1 54 1-182 0 24 1 3 1 61 1-29 0-20 1 16 1 28 1 79 0-72 1 20 1 53 1-37 0-56 1-41 1 90 1-149 0 11 1 96 1-4 1-8 0-88 1 96 1 23 1-85 0 119 1-114 1-62 0 22 1-124 1 140 1-6 0 56 1 64 1-28 1 5 0-134 1 60 1 28 1 35 0 1 1-37 1-58 1 52 0 7 1 48 1-68 1 42 0 13 1-28 1-59 1 78 0-70 1 34 1 66 1-57 0 14 1 26 1-14 0 19 1-56 1 12 1-26 0-13 1 153 1-127 1 99 0-64 1 50 1-26 1-55 0 145 1-87 1 4 1 95 0-104 1 36 1 10 1-14 0-166 1 143 1 43 1-19 0-44 1 9 1 21 1 8 0-89 1 58 1 37 1-98 0 57 1-35 1 23 0 29 1-19 1-24 1-81 0 88 1-90 1 40 1 99 0-35 1-79 1 103 1-53 0-20 1 9 1 61 1-12 0-90 1 140 1-67 1-23 0 43 1-27 1 21 1-40 0-56 1 57 1-15 1 15 0 28 1-5 1 61 1-77 0-94 1 46 1 23 0 100 1-95 1 76 1-35 0-106 1 187 1-167 1 30 0 13 1 2 1-37 1 28 0-83 1-7 1 110 1-48 0 6 1 38 1 14 1-40 0 24 1 68 1-48 1-50 0 96 1-36 1-121 1 6 0 137 1-7 1-79 1 66 0-16 1 1 1-78 0 163 1-24 1-44 1-93 0 37 1 87 1-96 1-25 0 48 1 13 1-32 1-26 0 29 1-2 1 17 1 34 0 16 1-47 1 59 1-3 0-38 1 24 1-143 1 226 0-80 1 30 1 8 1-18 0-94 1 29 1 69 1 3 0-61 1 23 1-92 0 140 1 25 1-92 1-10 0 12 1-20 1-66 1 99 0 12 1 63 1-87 1-4 0 64 1-75 1 56 1-71 0 36 1 53 1-18 1 13 0 3 1-81 1-33 1-50 0 102 1 9 1 42 1-65 0 105 1-30 1-51 1 26 0 109 1-116 1 23 0 36 1-10 1-81 1 9 0-32 1 138 1-74 1-27 0 96 1-19 1 43 1-175 0 62 1 35 1 20 1 39 0 5 1 56 1-44 1-78 0 69 1 7 1-89 1 57 0-55 1 36 1 194 1-231 0 93 1-228 1 217 1 23 0-94 1-22 1 20 0 54 1-81 1 112 1-40 0-15 1-14 1-48 1 70 0-52 1-15 1 102 1-103 0 16 1-7 1-41 1 92 0-96 1 2 1 42 1 57 0-34 1 12 1-44 1 33 0-33 1 52 1-88 1 179 0-47 1-72 1 155 1-166 0 90 1-49 1 118 0-114 1-15 1-9 1 1 0-106 1 84 1 61 1-63 0 18 1-15 1-24 1 122 0-173 1 100 1 39 1 3 0 137 1-98 1-94 1 168 0-49 1-129 1 60 1-59 0 157 1-75 1-30 1 84 0-36 1-106 1 26 1 39 0 128 1-126 1-30 0 14 1-14 1-143 1 116 0 144 1-180 1 24 1 0 0 3 1-34 1 14 1 80 0-55 1-30 1-61 1 56 0 17 1 68 1-48 1-75 0 47 1 10 1 14 1 55 0 55 1-99 1 15 1-24 0 33 1-10 1 7 1-33 0-9 1 41 1-27 0-7 1 37 1-88 1-60 0 116 1 2 1 41 1-85 0-6 1 102 1-72 1 112 0-103 1 76 1-102 1 89 0-122 1 50 1 35 1-114 0 26 1-6 1-58 1 149 0-47 1-49 1 151 1-25 0-50 1 8 1 42 1-62 0 49 1-14 1-2 0 30 1-133 1 122 1-36 0-10 1-1 1-45 1 14 0 76 1-10 1-10 1-31 0 21 1 68 1 78 1-183 0 44 1 55 1-17 1 48 0 30 1-43 1-8 1 33 0 112 1-146 1-113 1 108 0-43 1 96 1-96 1 5 0 33 1 31 1-91 0 29 1-60 1 39 1-73 0 40 1 64 1-119 1 76 0-56 1 36 1 7 1-45 0-14 1 19 1 1 1 20 0 12 1 0 1 25 1 17 0-9 1-85 1 95 1 12 0 101 1-88 1 0 1 52 0 46 1-104 1 67 1-97 0-15 1-88 1 38 0 43 1 37 1 13 1-16 0-50 1 84 1-101 1-95 0 65 1 43 1-19 1 28 0-2 1 39 1-78 1-71 0 67 1-2 1 37 1-97 0 42 1 18 1 37 1 22 0-86 1 36 1 9 1-13 0 15 1-3 1-24 1 35 0-21 1 49 1 39 0-30 1 23 1-29 1-57 0 132 1-62 1 84 1-54 0-35 1 61 1-8 1-96 0 9 1 118 1-73 1-128 0 90 1 31 1-106 1 52 0 41 1-56 1 53 1-20 0 25 1 57 1-80 1 11 0 36 1-14 1-73 1 34 0-19 1-22 1 23 0 72 1-108 1-9 1-19 0-16 1 51 1-1 1-55 0 91 1-83 1-8 1 31 0-28 1 52 1 96 1-88 0 39 1 2 1 22 1-47 0 45 1 48 1-71 1 15 0 65 1-8 1-9 1 22 0-41 1 79 1-145 1 28 0 9 1-11 1-6 0 93 1-130 1 86 1 19 0-2 1-17 1 0 1 168 0-223 1 3 1 2 1-114 0 101 1 71 1-6 1 74 0 49 1-2 1-213 1 193 0-136 1-75 1 93 1-124 0-20 1 63 1-126 1 92 0 102 1-85 1 45 1 44 0-38 1-268 1 202 0-34 1 68 1-64 1 22 0-45 1 57 1 61 1-34 0-77 1-103 1 91 1-51 0 89 1 43 1-15 1 6 0 166 1-127 1-115 1 107 0-77 1 139 1 68 1-85 0-3 1-32 1-132 1 167 0-54 1-22 1 50 1 84 0-122 1-58 1 100 0-18 1-65 1 123 1-193 0 132 1-22 1-7 1-18 0 61 1 79 1-264 1 120 0 46 1-155 1 154 1-41 0-8 1-88 1 65 1 11 0 62 1-26 1-76 1 246 0-136 1-17 1-27 1 106 0-207 1 107 1-73 1 25 0 51 1-64 1 111 0-33 1-37 1-32 1-33 0 31 1-163 1 134 1 137 0-19 1-148 1 149 1 25 0 16 1-172 1 135 1 51 0-50 1 146 1-278 1 52 0-41 1 311 1-255 1-91 0-47 1 148 1 105 1-175 0 47 1 102 1-94 1-93 0-53 1 54 1 278 0-358 1 271 1-120 1 109 0-200 1 53 1-63 1-45 0 102 1-24 1 162 1-208 0-74 1 202 1-50 1 9 0-115 1 67 1 35 1 60 0 79 1-73 1-62 1 22 0-41 1-33 1 22 1 47 0-42 1 34 1 26 1-58 0 149 1-156 1 185 0 51 1-140 1-132 1 92 0 72 1-140 1 59 1-7 0-21 1-167 1 108 1 67 0 127 1-104 1-48 1-99 0 121 1 47 1-92 1 74 0 23 1-22 1 110 1-189 0 32 1 24 1 58 1-111 0-92 1 118 1 78 1-129 0 159 1 58 1-105 0-101 1 140 1 34 1-75 0 71 1-4 1-16 1-74 0-9 1 20 1 36 1 268 0-140 1-49 1-13 1 134 0-209 1 72 1 24 1-72 0 42 1-106 1 100 1 99 0 48 1-47 1-46 1 77 0-179 1 137 1-197 1 65 0 146 1-101 1-60 0 119 1 95 1-242 1 12 0 194 1-133 1 16 1 0 0 40 1-4 1-98 1-61 0 175 1-150 1 197 1-154 0 44 1-81 1 41 1-56 0 69 1-88 1 88 1-338 0 146 1 32 1 36 1 55 0 59 1-55 1 153 1-27 0-134 1 169 1-179 0 126 1-43 1 25 1-13 0 8 1 31 1 1 1-73 0-35 1-56 1 60 1 56 0 117 1-192 1 4 1 61 0-116 1-34 1 77 1-82 0 27 1 177 1-112 1 9 0-48 1 103 1-23 1 61 0-33 1 10 1-97 1-28 0 36 1-27 1 25 0 5 1-107 1 320 1-147 0-37 1-52 1 184 1-114 0-33 1 73 1 107 1-106 0 59 1-132 1 123 1-184 0 102 1 56 1-48 1 80 0-101 1-237 1 285 1-75 0 145 1-109 1-150 1 417 0-345 1-17 1 236 1-49 0-17 1-165 1 109 0-2 1-56 1 59 1-13 0 35 1-107 1 150 1-105 0 139 1 67 1-118 1-16 0 167 1-157 1 115 1-38 0-107 1 125 1-70 1 127 0-262 1 118 1 76 1-7 0-10 1-196 1 115 1-62 0 64 1 18 1-39 1 35 0-18 1-50 1-12 0 72 1 79 1-85 1-58 0 148 1-97 1-136 1 192 0 25 1-144 1 27 1 100 0-53 1 7 1 132 1-184 0 244 1-160 1 28 1-151 0 182 1-14 1-42 1 38 0 7 1-88 1 99 1-84 0 47 1-40 1 23 1 2 0 25 1 11 1-24 0-52 1 40 1 45 1-16 0-1 1-24 1-16 1 9 0 23 1-31 1 65 1 67 0-116 1 61 1-27 1 117 0-183 1 100 1-77 1 47 0 23 1 10 1-68 1 119 0-118 1-38 1 80 1-13 0 18 1-17 1 23 0 18 1-119 1 116 1-51 0-11 1 17 1 61 1-39 0 6 1 28 1-37 1 6 0-25 1-51 1 73 1-70 0 78 1-49 1 24 1-27 0 56 1 0 1 5 1-48 0-20 1-15 1 84 1-25 0-36 1 99 1-68 1-12 0 25 1-1 1-119 0 49 1 43 1-174 1 96 0 74 1-95 1 76 1-74 0 145 1 15 1-53 1 26 0-75 1 192 1-122 1-44 0-35 1-42 1 46 1-93 0 113 1-31 1-39 1 62 0 9 1 19 1-89 1 129 0-7 1 55 1-93 1 85 0-165 1 38 1 33 0 62 1 13 1-75 1 31 0-18 1 54 1-80 1 71 0-35 1 65 1-53 1-53 0 41 1-6 1-66 1 27 0-60 1 151 1-129 1-10 0 93 1 18 1-110 1 86 0-2 1-51 1 53 1-61 0 54 1-29 1-41 1 40 0 6 1-28 1 54 0 41 1-97 1 142 1-133 0 102 1-119 1 93 1 39 0-56 1-41 1-14 1-19 0 72 1-65 1-2 1 36 0 37 1 24 1-99 1 3 0 79 1 19 1-93 1 138 0-70 1 46 1 39 1-98 0 18 1-1 1-122 1 121 0-57 1 10 1 53 0 9 1-108 1 102 1-18 0 20 1-17 1 21 1-50 0-35 1 62 1 51 1-78 0 71 1-33 1-83 1-38 0 89 1 64 1-100 1 114 0-63 1-116 1 37 1 90 0 4 1-110 1 12 1 25 0-24 1 30 1 68 1-112 0 104 1 3 1 6 0-77 1 36 1-182 1 145 0-66 1 77 1 20 1 47 0-39 1-59 1-96 1 184 0 3 1-64 1 1 1 71 0-20 1 51 1-127 1 34 0-40 1 70 1 20 1-28 0-31 1 17 1 62 1-34 0-41 1 60 1 23 1-72 0 108 1-134 1 29 0 48 1-10 1 28 1 10 0-20 1-5 1-140 1 272 0-135 1 23 1-98 1 49 0 14 1-37 1 50 1 19 0-95 1 9 1-51 1 36 0 7 1 40 1 71 1-111 0 25 1-34 1 24 1 10 0 13 1-138 1 44 1 88 0-48 1-55 1 94 0-21 1 36 1-88 1 24 0 27 1 50 1-64 1-60 0 55 1 1 1-26 1 79 0-77 1-10 1 65 1-4 0-51 1 13 1 31 1-20 0 17 1 59 1-15 1-38 0-33 1-119 1 160 1-78 0 29 1 41 1-5 1-4 0-22 1 113 1-58 0 37 1 17 1-36 1 5 0 62 1-37 1-29 1 60 0-84 1 46 1-31 1-15 0-45 1 70 1 10 1-51 0 80 1-7 1 26 1-76 0 17 1 3 1 7 1 14 0 28 1 77 1-114 1-9 0-44 1 59 1 2 1 12 0-67 1 97 1-68 0-28 1 111 1-89 1 99 0-123 1 102 1-66 1 22 0 9 1-61 1 24 1 1 0 51 1 42 1-86 1-36 0 100 1-34 1 14 1-42 0 15 1 8 1 45 1-42 0-51 1 60 1-19 1 38 0 45 1-80 1-4 1 26 0-11 1-13 1 47 0-29 1 24 1 73 1-73 0 23 1 14 1-44 1 24 0-31 1-27 1 30 1 61 0-31 1-74 1 42 1 5 0-38 1-34 1 16 1-31 0 47 1-14 1 2 1-12 0 67 1-57 1 24 1-80 0 5 1-46 1 57 1 33 0-35 1 28 1-29 0 35 1 3 1-34 1-38 0 152 1-145 1-26 1 136 0-34 1 22 1-35 1 4 0-6 1-32 1-8 1 29 0 17 1-11 1-14 1-2 0 43 1-3 1 66 1-69 0-38 1 50 1 57 1-93 0 62 1 79 1-80 1-54 0 0 1-20 1 28 0 20 1 82 1-24 1-37 0-27 1 57 1-8 1-25 0 15 1 68 1-57 1-30 0 28 1 46 1-79 1 42 0-47 1 34 1-22 1-28 0 35 1-53 1-10 1 30 0-26 1 54 1-55 1 23 0 43 1-35 1 11 1 8 0-37 1-34 1 46 0-28 1 44 1-49 1-37 0 23 1 18 1 54 1 2 0-11 1 34 1 3 1-63 0 61 1-92 1 98 1-78 0 49 1-51 1 46 1-42 0 6 1 15 1-30 1-31 0 143 1-127 1 31 1 11 0-79 1 158 1-44 1 22 0-24 1 2 1-108 0 95 1-73 1 39 1 41 0-45 1-47 1 93 1-46 0-1 1 58 1-12 1-35 0-17 1 58 1-16 1 68 0-64 1-40 1 16 1 12 0 50 1-5 1-106 1 125 0-55 1 66 1 44 1-139 0 43 1-3 1-1 1-20 0-78 1 152 1-78 0-13 1-50 1 42 1 72 0-126 1 81 1-46 1 36 0 2 1-12 1-55 1 0 0 51 1-45 1 35 1-11 0 4 1 5 1 32 1-4 0-80 1 85 1 21 1-82 0 71 1-25 1-53 1 50 0 106 1-143 1 72 1 13 0-49 1-75 1 95 0 21 1-33 1-68 1 103 0-49 1 0 1-88 1 78 0-38 1 134 1-70 1-59 0 27 1 74 1-73 1 17 0 62 1-14 1-7 1 23 0 3 1 48 1-71 1 53 0-42 1 52 1-42 1 6 0 29 1 12 1-100 1 21 0 65 1-79 1 47 0 2 1 9 1-26 1-38 0 15 1 37 1 16 1-5 0-35 1-52 1 88 1-37 0 3 1 10 1-47 1 7 0 78 1-22 1-61 1 29 0-8 1 36 1-2 1-43 0 53 1 9 1-59 1-31 0 63 1-75 1-6 1 63 0-29 1 4 1-27 0-2 1 58 1 7 1-78 0 37 1-4 1 4 1-38 0 100 1-91 1 64 1-38 0-31 1 95 1-63 1 22 0-3 1-12 1 41 1-4 0-72 1 16 1 45 1 24 0-113 1 51 1 3 1 48 0-34 1-30 1-34 1-13 0 43 1-18 1 44 0-3 1-3 1-45 1 13 0 14 1-12 1 2 1-33 0 59 1 37 1-30 1-51 0 56 1-18 1-5 1-22 0-23 1 30 1-20 1-29 0 25 1 8 1 2 1 23 0 16 1-58 1 73 1-41 0 85 1-49 1 15 1 11 0-58 1 54 1-20 0-9 1 11 1-78 1 54 0-20 1 63 1-12 1-17 0-6 1 10 1-18 1 18 0-8 1 5 1 15 1-114 0 29 1 41 1 9 1 52 0-24 1-19 1 6 1 32 0 0 1-31 1-6 1 75 0-93 1-29 1 65 1-36 0 59 1-59 1 72 0 3 1-33 1-85 1 86 0 13 1-20 1-29 1-42 0 90 1 4 1-40 1-25 0 5 1-8 1 93 1-29 0-26 1-45 1 12 1 23 0 9 1-68 1 6 1-52 0 94 1-47 1 88 1-29 0 11 1-24 1 19 1-6 0-12 1 21 1-38 0 25 1-16 1-51 1 35 0 10 1 21 1-1 1-7 0 36 1-61 1-28 1 8 0 48 1 36 1-37 1-22 0-28 1 43 1 2 1-81 0 76 1-50 1 15 1 88 0-124 1 91 1 12 1 14 0-29 1-51 1 20 1-23 0 43 1-24 1 3 0 112 1-79 1-67 1 3 0 31 1-26 1-22 1-49 0 88 1-41 1-36 1 74 0-32 1 133 1-129 1 68 0 62 1-90 1-9 1 5 0-10 1 48 1 35 1 76 0-89 1-23 1 18 1-18 0-15 1 25 1-56 1 6 0 122 1-22 1 17 0-4 1-61 1 58 1 14 0-22 1-47 1 26 1 4 0-53 1 17 1-14 1-20 0-9 1 31 1 35 1-44 0 20 1 57 1-78 1 161 0-152 1 17 1 38 1 15 0 1 1-62 1 20 1-24 0 69 1-51 1-1 1 47 0-57 1 44 1 46 0-73 1-11 1-45 1 52 0-49 1 11 1 16 1 1 0 19 1 16 1-41 1-1 0 24 1 22 1 29 1-76 0 6 1 58 1-101 1 61 0 36 1-35 1-1 1 78 0-36 1 3 1-51 1-9 0 108 1-55 1-24 1-23 0-33 1 101 1-20 0 73 1-114 1 70 1-80 0-3 1 18 1 87 1-50 0-48 1 71 1-48 1-5 0-34 1 20 1 9 1 30 0-6 1 1 1-22 1 37 0 13 1 25 1-80 1 27 0-44 1 34 1-37 1-22 0 72 1-42 1 19 0-12 1 52 1-37 1 3 0 14 1-42 1 54 1-95 0 26 1-47 1 102 1 6 0-48 1 60 1-71 1 22 0-14 1-20 1 19 1-57 0 39 1 68 1-74 1 83 0-60 1 25 1-8 1-71 0 65 1-7 1-4 1-6 0-53 1 86 1 13 0-63 1 78 1-43 1-49 0 28 1 18 1 0 1 17 0-14 1-20 1-36 1 10 0 43 1 26 1-49 1 96 0-56 1 16 1 34 1 10 0-60 1 76 1-27 1-5 0-9 1 48 1-154 1 110 0-12 1-64 1 78 1 12 0-74 1 12 1 7 0-38 1 61 1-36 1 6 0 40 1-46 1 73 1-66 0 31 1-20 1 45 1-62 0 47 1-13 1 5 1 10 0 7 1-24 1-26 1 60 0-52 1 2 1-2 1 37 0-76 1 73 1-56 1-27 0 104 1-87 1 19 1 11 0-68 1 73 1 48 0-50 1-13 1 39 1 13 0-13 1-11 1-7 1 12 0 57 1-17 1 33 1-112 0-93 1 154 1-28 1-41 0-25 1-5 1-31 1 46 0-9 1-5 1 25 1-50 0 35 1-42 1 90 1-52 0 60 1-33 1 88 1-46 0-59 1-27 1 50 0 64 1-83 1 38 1 35 0-20 1 0 1-46 1 34 0 60 1-44 1-47 1 16 0 28 1-24 1 15 1-18 0 73 1-32 1-66 1 32 0-14 1-31 1 73 1-15 0 44 1-3 1-25 1 49 0 22 1-104 1 37 1-27 0 32 1-22 1-18 0-7 1 62 1-68 1 69 0-43 1-67 1 74 1-64 0 55 1-17 1 27 1 1 0 29 1-5 1-48 1 69 0-14 1-50 1 38 1 16 0 4 1-48 1 13 1-8 0 29 1-65 1 69 1 49 0-65 1 8 1-94 1 134 0-91 1 45 1 4 0 45 1-59 1 26 1-45 0 42 1 22 1-59 1 34 0-41 1 60 1 22 1-62 0-10 1 8 1 2 1-24 0 19 1-25 1 7 1 60 0-74 1-47 1 43 1-7 0 14 1 20 1 47 1-68 0-30 1 19 1 15 1 1 0 1 1 51 1-56 0-11 1 45 1-39 1-37 0 36 1 72 1-83 1 74 0-138 1 38 1 17 1 38 0 19 1-26 1 7 1 30 0-23 1-18 1 16 1 48 0 32 1-65 1 25 1-35 0-59 1 22 1 48 1-19 0-24 1 47 1-8 1-33 0 42 1-11 1-6 0-54 1 44 1-56 1 33 0-90 1 11 1 113 1-104 0 59 1-98 1 32 1 37 0-53 1 76 1-71 1-26 0 12 1-43 1 70 1-46 0 89 1-111 1 7 1-9 0 104 1-215 1 188 1 89 0 2 1-194 1 90 1-75 0 83 1-78 1 60 0-99 1 47 1 66 1 1 0 1 1-40 1-96 1 197 0-171 1 57 1-4 1-99 0-30 1 88 1-9 1-50 0-81 1 163 1 94 1 8 0-22 1-126 1-5 1 30 0-75 1 131 1 17 1 36 0-47 1 113 1-123 1 67 0-71 1-149 1 66 0 43 1 115 1-88 1 37 0 154 1-153 1 20 1 41 0-176 1 33 1 35 1 102 0-196 1-10 1 100 1 34 0-80 1 66 1-121 1 79 0-7 1-54 1 81 1-82 0-24 1 141 1-151 1 118 0-73 1 52 1 24 1 27 0 60 1 93 1-108 0-170 1 56 1 147 1-124 0 79 1 29 1-62 1-1 0 71 1-5 1-11 1 67 0-58 1-25 1 67 1-3 0-79 1 7 1 60 1 55 0-76 1 25 1-36 1-19 0 119 1 4 1 17 1 24 0-30 1-58 1 133 1-114 0 29 1-74 1 59 0 17 1-3 1-1 1 24 0 2 1-7 1-28 1 60 0-54 1 1 1 40 1-37 0 67 1-44 1 18 1-47 0 40 1-27 1-8 1 72 0-65 1 33 1-13 1 10 0-41 1 8 1-42 1 48 0 8 1-11 1-34 1-31 0 56 1 12" stroke="#00ff00"/>
<path d="M3864 460l1-14 0-49 1 21 1 52 1 85 0 32 1 2 1-36 1 15 0-118 1-238 1 171 1 179 0-72 1-74 1-90 1 181 0 144 1 60 1-229 1 105 0-30 1 148 1-98 1-80 0 157 1 35 1-97 1 128 0-331 1 295 1 19 1-75 0 110 1 37 1-154 0 127 1 161 1 46 1-140 0 85 1 152 1-65 1-7 0 188 1-98 1-70 1-6 0 109 1 197 1-49 1 76 0-44 1 58 1-79 1-6 0-41 1 28 1 119 1-326 0 128 1 68 1-23 1-8 0 40 1 110 1-157 1-43 0 98 1 7 1-131 0 68 1 75 1-70 1-41 0-100 1 14 1 93 1-137 0 205 1-125 1 113 1-179 0-71 1 43 1 69 1-4 0 98 1 4 1-126 1 185 0 87 1-27 1 31 1-37 0-167 1 60 1-35 1 155 0 47 1-72 1-39 1 109 0 96 1-150 1-15 0 43 1 74 1-117 1-47 0 167 1-128 1 212 1-147 0-40 1 142 1-143 1 68 0-27 1-159 1 74 1 154 0-226 1 70 1 140 1-238 0 70 1 6 1 47 1-102 0 138 1-34 1-75 1 215 0-184 1 40 1 65 1-187 0 73 1 138 1-109 0-6 1-10 1 195 1-96 0 111 1 29 1-70 1-75 0 14 1-43 1 16 1 121 0-240 1 85 1-117 1 158 0 92 1 30 1-315 1 172 0-102 1 44 1-56 1-46 0 140 1-91 1 24 1-11 0 35 1 6 1 34 1-16 0-12 1 8 1-100 0 131 1 114 1-118 1 35 0-128 1 78 1-76 1 87 0 57 1 10 1-168 1-1 0 167 1-194 1 108 1-322 0 74 1-2 1-44 1-6 0 59 1 15 1-28 1-131 0 38 1-12 1-106 1 173 0-94 1 287 1-154 1-171 0 114 1-122 1 103 0 110 1-216 1 414 1-288 0-125 1-45 1 48 1 198 0 199 1-187 1 183 1-212 0-130 1 48 1 118 1-169 0-207 1 311 1-151 1 178 0-14 1 104 1-195 1 65 0 97 1 39 1-104 1 151 0-368 1-55 1 99 1 305 0-394 1 70 1-36 0 82 1 43 1-183 1 187 0 171 1-122 1-30 1 113 0-113 1 73 1 5 1 73 0-61 1-78 1-63 1-101 0 114 1-175 1 45 1 90 0 131 1 39 1 42 1-273 0 294 1-288 1 161 1 77 0-133 1 100 1-150 1 41 0 19 1-207 1 48 0 281 1-179 1-15 1 323 0-115 1-354 1 142 1-19 0-264 1 168 1 142 1-48 0 93 1-363 1 179 1 297 0-253 1-60 1 86 1 51 0-21 1-29 1 52 1 43 0-50 1 251 1-164 1 174 0-189 1 108 1-48 1 152 0 105 1-160 1 162 0 378 1-335 1 17 1-129 0-84 1-73 1-26 1 82 0 44 1-5 1 49 1 57 0 94 1-299 1 352 1-211 0 40 1 1 1-329 1 200 0-87 1-11 1-148 1 169 0-45 1 235 1-331 1 54 0 41 1 94 1 4 1-290 0-230 1-141 1 521 0-204 1 431 1-335 1-19 0 124 1-47 1-259 1 209 0 203 1-79 1-49 1 176 0-53 1-145 1 107 1 39 0 104 1-152 1 79 1-13 0 115 1 98 1-280 1 5 0 65 1-55 1-75 1-181 0 167 1 57 1-259 1 72 0-186 1 116 1-78 0 293 1-144 1 112 1-198 0 337 1-100 1 165 1-166 0 428 1-451 1 252 1-371 0 34 1 143 1-42 1 87 0-282 1 206 1 10 1 157 0-196 1-441 1 341 1-48 0-41 1-173 1 332 1-15 0 86 1-221 1 93 1 251 0-46 1-169 1 12 0 192 1-268 1 239 1-193 0 417 1-566 1 67 1-27 0 128 1-214 1 164 1 13 0 133 1-259 1-90 1 46 0-39 1 57 1 392 1-516 0 113 1 99 1 44 1-48 0 314 1-175 1-9 1-20 0-31 1 113 1-302 1-222 0 210 1 113 1 121 0 2 1-339 1 184 1 37 0-70 1 11 1 43 1-114 0 571 1-536 1 82 1 10 0 62 1 294 1-574 1 604 0-313 1-170 1-175 1 272 0-226 1 265 1-225 1 340 0-174 1-148 1 237 1-306 0 291 1-116 1-3 0 149 1-172 1 142 1 134 0 45 1-283 1 142 1-39 0-109 1 132 1-256 1 507 0-262 1 209 1 51 1-377 0 293 1-305 1 303 1-80 0 137 1-145 1-179 1 325 0-4 1-50 1-191 1 220 0-17 1-336 1 184 1 122 0-43 1 37 1-116 0 267 1-278 1 5 1 30 0-417 1 207 1 259 1 85 0-425 1 116 1 0 1 89 0-240 1 190 1 13 1 41 0 88 1 60 1-31 1-212 0 10 1 36 1 26 1-230 0-8 1 278 1-10 1-188 0 73 1 2 1 86 1-31 0-26 1 67 1 24 0-93 1 234 1-76 1 14 0 49 1-135 1 156 1-30 0-190 1 85 1 165 1 17 0 137 1-112 1 61 1-89 0 127 1-226 1-12 1 62 0-104 1-16 1 286 1-31 0 73 1-158 1 110 1-105 0 76 1-54 1-42 1 129 0-256 1 158 1-22 0 39 1 0 1-125 1 325 0-200 1 253 1-300 1 165 0 241 1-105 1 202 1-41 0 24 1-237 1-153 1 183 0-96 1-134 1-154 1 78 0 95 1-129 1-26 1 46 0 146 1-47 1 90 1-163 0-116 1-17 1 112 1-361 0 387 1 24 1-102 0 193 1 86 1-393 1 150 0 236 1-413 1 167 1 49 0-9 1 39 1 6 1-363 0 239 1 10 1 37 1-125 0 96 1-81 1-202 1 339 0-123 1-248 1 100 1 114 0-77 1 64 1-108 1-35 0 156 1 43 1-75 1-167 0 338 1-299 1 417 0-297 1-49 1-277 1 497 0-59 1-130 1 558 1-412 0-8 1-22 1 131 1-174 0-127 1 217 1-176 1 203 0 22 1-147 1 92 1-122 0-102 1 155 1 83 1-240 0 260 1 15 1-51 1-200 0 187 1-237 1 107 1-22 0 153 1 55 1-138 0 142 1-43 1 28 1-174 0 17 1 176 1-75 1 38 0 115 1-116 1-230 1 197 0 343 1-302 1 126 1-96 0 18 1-122 1 84 1-203 0 427 1-132 1-252 1 6 0-262 1 502 1-229 1 186 0 34 1 87 1-68 1 136 0-36 1 101 1 127 0-49 1-183 1 116 1 39 0-66 1-20 1 45 1 166 0-155 1 62 1 24 1 25 0-16 1 83 1-83 1 68 0-8 1 23 1-85 1 16 0-65 1 103 1-60 1 82 0-127 1 83 1-71 1-6 0-20 1-59 1-13 1 27 0 62 1-171 1 107 0-79 1-31 1 80 1 26 0-21 1-70 1-34 1 82 0 11 1 40 1 57 1-97 0 47 1-55 1 92 1-14 0-36 1 112 1 50 1-47 0-17 1-13 1-4 1 23 0-1 1-52 1 90 1-63 0 41 1 111 1 36 1-191 0 180 1-128 1 63 0-19 1 5 1-18 1 40 0-103 1-8 1-19 1-1 0 43 1-142 1 88 1 107 0-145 1-31 1 162 1-62 0 21 1-55 1 141 1-57 0-9 1 27 1 55 1-109 0 110 1-85 1-111 1 211 0-146 1-20 1 122 1-90 0 10 1 28 1 16 0-24 1 3 1 60 1-13 0-15 1-9 1-40 1-66 0 9 1 25 1-47 1 24 0 22 1-55 1 54 1-6 0-63 1 144 1-26 1 1 0-40 1 88 1-14 1 23 0 23 1-69 1 32 1-39 0-40 1 43 1 71 1-131 0-18 1 64 1 21 0 39 1-70 1-8 1 128 0-92 1 73 1-17 1-131 0 24 1 15 1 167 1-146 0-36 1 108 1-47 1 19 0-38 1 41 1-102 1 24 0 54 1-49 1 54 1-75 0 9 1 48 1 26 1-174 0 91 1 38 1 118 1-79 0 69 1-155 1 51 0-107 1 60 1 19 1-11 0 57 1-61 1 113 1-65 0-132 1 135 1-69 1-7 0 109 1-104 1 74 1-14 0 66 1-18 1-79 1 24 0 1 1-85 1 54 1 63 0 13 1-19 1-116 1 14 0-24 1 51 1-38 1 16 0-40 1 60 1 3 0-50 1 65 1-65 1 54 0-43 1 178 1-159 1 28 0 68 1-35 1 15 1 52 0 17 1 7 1-108 1 41 0-14 1 139 1-179 1 115 0-47 1 111 1-2 1-100 0 77 1-27 1 30 1 39 0-75 1 108 1-76 1 175 0-137 1 55 1 73 0-76 1-6 1 50 1-82 0 45 1 58 1-77 1 53 0-89 1 91 1-87 1 175 0-60 1-18 1-9 1-3 0 16 1-58 1 162 1-153 0 54 1-42 1-24 1-34 0-170 1 287 1-28 1-80 0-66 1 99 1-180 1 213 0-44 1-37 1-20 0-32 1-42 1 71 1-58 0-28 1 104 1-40 1 130 0-80 1-51 1-80 1 249 0-155 1 63 1 64 1 1 0-65 1-73 1 93 1-65 0 97 1-25 1-16 1-45 0 62 1 11 1-83 1 35 0-64 1 71 1-42 1 3 0 32 1 146 1 21 0-58 1-24 1-5 1 41 0 47 1-97 1 97 1-69 0-123 1 109 1-117 1 45 0 66 1-71 1 46 1-41 0 103 1-28 1-150 1 169 0-115 1-78 1 114 1-30 0-70 1 106 1-88 1 52 0-18 1-58 1 181 1-97 0-6 1-6 1 15 0-93 1 0 1 99 1 7 0 71 1-61 1 65 1-61 0 64 1-100 1 34 1 82 0-169 1 12 1-32 1 117 0 26 1-85 1 27 1-91 0 46 1 90 1-233 1 60 0 120 1 35 1-26 1-35 0-95 1 144 1 134 1-132 0-45 1 113 1-71 0-50 1-87 1 85 1 21 0-44 1-11 1 53 1-131 0 38 1 37 1 88 1-129 0 6 1 120 1-96 1 84 0 59 1-13 1-24 1-126 0 58 1 32 1-18 1 51 0-86 1-47 1 40 1-121 0 133 1 50 1 67 1-183 0 117 1-26 1-14 0-77 1-97 1 65 1 107 0 45 1 180 1-321 1 69 0 117 1-106 1-100 1 80 0-193 1 213 1 54 1-39 0-11 1 27 1 14 1-23 0 32 1 60 1-175 1 135 0-47 1 98 1-131 1 35 0 118 1-22 1 14 1-14 0-3 1-24 1-25 0 32 1 10 1 22 1 93 0-142 1-1 1-158 1-31 0 133 1-4 1-30 1 213 0-134 1-82 1 10 1 117 0-57 1-12 1 71 1 31 0 43 1-118 1-29 1-48 0 39 1 33 1-161 1 231 0 20 1-25 1-47 1 48 0 12 1-146 1 155 0-58 1-38 1 111 1-52 0 27 1-7 1-70 1 61 0 17 1-55 1 8 1 56 0-47 1-80 1-162 1 224 0 1 1 25 1 1 1 5 0-38 1 71 1-88 1 25 0 70 1-79 1-140 1 175 0-59 1-76 1 50 1 86 0-77 1 1 1 41 0-203 1 164 1-186 1 141 0 67 1 34 1-50 1-56 0-5 1-62 1 13 1 152 0-128 1 59 1-165 1 63 0 93 1-196 1-10 1 63 0 171 1-31 1 4 1-110 0 31 1 58 1-213 1 168 0-16 1 94 1-30 1 159 0-99 1-77 1 6 0-166 1 224 1-73 1 101 0-202 1 86 1-28 1 20 0 146 1-12 1-54 1-24 0-16 1 115 1-135 1 121 0-19 1-86 1 95 1-157 0 123 1 5 1-94 1 113 0 32 1-112 1 44 1 194 0-100 1-131 1-110 1 169 0-174 1 175 1-25 0-3 1 4 1 14 1 14 0-97 1-32 1 124 1-39 0-185 1 172 1 58 1 15 0-29 1 67 1-29 1-88 0 48 1 12 1 26 1-22 0-15 1 15 1 85 1 12 0-209 1 179 1-165 1 139 0-86 1 43 1-10 1-104 0 55 1-163 1 278 0-50 1-85 1 93 1-104 0 2 1 44 1 55 1-73 0 43 1-43 1 1 1 119 0 39 1-89 1 6 1-114 0 108 1-123 1 89 1-12 0-143 1 143 1-47 1 33 0-183 1 60 1 68 1-64 0 146 1-139 1 81 1 66 0-93 1-16 1 116 0-81 1 59 1-99 1-10 0 59 1 41 1 55 1-63 0-75 1 238 1-198 1-69 0 158 1 24 1-74 1-128 0 293 1-105 1-25 1 12 0 19 1 2 1-56 1 88 0-174 1 136 1 61 1 22 0-2 1 52 1-123 0 24 1 40 1 2 1-61 0-14 1 85 1-131 1 85 0-106 1-38 1 9 1 265 0-153 1-23 1 37 1 248 0-228 1 57 1-89 1-91 0-1 1 69 1 116 1-4 0-217 1 116 1-100 1 101 0-162 1 200 1-161 1 301 0-207 1 15 1 93 0-9 1-255 1 266 1 20 0-130 1 93 1 28 1-28 0-23 1 0 1 49 1-137 0 69 1-22 1-20 1 49 0-15 1-49 1 49 1-62 0 133 1-100 1 64 1-45 0-2 1-17 1 133 1-78 0 20 1 48 1-168 1 159 0 47 1 61 1-62 0 60 1-176 1-87 1 96 0 88 1 71 1-183 1 215 0-262 1 156 1-48 1 23 0-43 1 8 1 37 1-37 0 39 1-107 1-55 1 120 0-165 1 121 1-255 1 51 0 112 1-113 1-65 1-16 0 44 1-37 1 82 1 85 0 254 1-396 1 120 0-104 1-13 1 21 1 66 0 76 1-29 1 19 1-88 0 36 1-125 1 113 1 25 0 25 1 43 1-186 1 174 0-66 1-40 1 46 1-63 0 76 1 22 1-116 1 106 0-13 1-8 1-1 1-116 0 203 1-81 1-118 1 205 0-84 1-21 1 12 0 33 1 48 1-98 1 24 0 12 1-62 1 73 1-62 0 77 1-91 1 151 1-80 0-39 1 65 1-3 1-69 0-29 1 90 1-2 1-69 0 144 1-73 1-34 1-93 0 71 1-222 1 295 1-37 0-227 1 162 1 145 1-97 0-68 1 83 1-81 0-63 1-37 1-11 1 71 0-12 1 92 1 46 1-90 0 86 1 124 1-144 1-43 0 129 1 11 1-20 1 116 0-146 1 46 1-57 1-23 0 75 1-74 1 267 1-201 0 18 1 25 1-147 1 68 0-8 1-60 1 94 1-18 0-78 1 32 1-71 0 97 1 11 1-3 1-51 0-65 1-12 1 158 1-106 0-32 1 75 1-20 1-2 0-45 1 31 1 24 1 109 0-39 1 6 1-30 1 99 0-147 1 357 1-289 1-34 0 116 1-38 1-23 1-210 0 247 1-73 1 64 1-112 0 63 1 21 1-129 0 45 1 99 1 63 1-42 0-39 1 27 1-7 1-4 0-108 1 86 1-128 1 10 0 132 1-85 1-21 1 42 0-69 1 113 1 4 1 24 0 8 1-104 1 125 1 56 0-44 1 4 1-30 1-5 0 195 1-196 1-59 1-41 0-17 1-19 1 101 0-124 1 131 1 70 1-120 0-92 1 1 1 35 1-33 0 44 1 82 1-146 1 21 0 17 1-31 1 152 1 131 0-100 1 16 1-7 1 26 0 33 1-77 1-29 1 43 0-114 1 100 1-47 1 23 0 4 1-32 1 16 1 15 0 144 1-283 1 201 0 17 1 0 1 88 1-112 0-24 1 66 1-40 1-121 0 66 1 25 1-17 1-7 0 3 1 36 1-51 1 38 0-69 1-47 1 35 1 6 0 99 1-197 1 82 1 27 0 29 1-152 1 49 1 48 0 0 1-29 1 48 1 63 0-27 1-17 1-32 0 13 1-114 1 69 1 98 0-67 1-32 1 198 1-223 0 207 1-208 1 80 1 54 0-10 1 18 1 45 1-69 0 94 1-99 1 32 1-80 0 43 1-59 1 200 1-176 0 131 1-28 1-25 1 90 0-56 1-11 1 80 1-106 0 78 1-113 1 12 0 14 1 82 1 26 1-86 0-120 1 25 1 91 1-68 0-41 1 51 1-41 1 32 0 81 1-54 1-45 1 42 0 193 1-91 1-187 1 169 0-112 1 71 1-185 1 216 0-44 1-135 1 99 1-16 0 56 1 40 1-18 1 60 0-134 1 35 1-22 0-60 1 30 1 104 1-65 0-30 1-95 1 106 1-87 0 99 1-91 1 25 1 46 0 40 1-32 1-26 1-16 0 36 1 39 1-91 1 75 0-56 1-105 1 120 1 37 0 67 1-234 1 113 1 31 0-33 1-9 1-51 1 46 0 121 1-105 1 161 0-72 1-68 1 12 1-106 0 115 1 30 1 37 1-70 0 82 1-15 1-179 1 155 0 75 1-165 1 143 1-86 0-67 1 57 1 21 1-12 0 38 1-23 1-108 1 127 0-48 1 20 1 22 1 1 0 67 1-58 1-40 1 88 0-81 1 41 1 18 0 97 1-7 1-6 1-37 0 24 1-92 1-10 1 62 0-15 1-26 1-63 1 39 0 17 1 30 1 26 1 1 0-58 1-56 1 37 1 53 0 75 1-149 1 48 1-53 0 68 1 23 1-16 1-219 0 90 1 121 1-17 1-31 0-66 1 134 1-116 0 10 1-20 1-61 1 60 0 51 1-101 1 63 1-3 0 35 1-34 1 154 1-94 0-43 1 68 1 67 1-69 0-41 1-41 1 105 1-6 0-47 1-139 1 159 1 80 0 5 1 13 1-127 1 66 0 15 1-30 1-78 1 150 0-424 1-384 1 748 0-314 1 331 1-120 1-2 0 12 1-79 1 129 1-94 0 82 1-54 1 39 1-15 0-101 1 118 1-94 1-79 0 22 1 52 1-6 1 46 0 77 1-27 1-64 1-64 0 95 1-78 1 7 1 138 0-84 1 158 1-42 1-55 0 21 1-17 1-58 0 55 1-71 1 45 1-13 0 100 1-107 1 40 1 10 0-36 1-23 1 138 1-112 0 68 1 29 1 138 1-186 0-100 1 148 1-28 1-38 0 20 1-213 1 129 1-17 0 59 1 41 1-97 1-27 0 151 1-107 1-75 1 147 0-69 1-116 1 103 0-62 1 106 1-78 1 42 0-55 1-86 1 18 1 108 0-146 1 98 1 40 1-6 0-4 1 34 1 1 1 29 0-23 1-72 1 99 1-33 0 19 1-14 1-28 1-72 0-72 1 66 1 56 1 47 0 50 1-51 1 1 1 96 0-78 1-38 1-84 0 153 1-174 1 58 1-5 0 65 1-60 1 153 1-52 0-128 1 83 1 19 1 74 0-49 1-54 1-1 1 94 0-122 1 6 1 216 1-31 0-69 1-46 1-142 1 79 0-6 1 61 1-91 1-24 0 103 1 9 1 14 1 23 0-304 1-277 1 516 0-179 1 174 1 134 1-145 0-1 1-34 1 73 1-2 0 13 1-88 1 64 1-13 0 34 1-39 1 17 1 1 0 17 1 103 1-88 1 1 0 49 1 0 1-115 1 62 0-102 1 110 1-127 1 93 0-63 1 117 1-39 1 84 0 18 1-28 1-32 0 127 1-121 1-3 1-96 0-1 1 102 1 144 1-130 0-117 1-23 1 185 1-98 0-91 1 193 1-138 1 113 0-58 1 26 1-65 1 13 0 112 1-247 1 97 1 48 0-117 1 107 1 52 1 19 0-195 1 96 1 4 1-36 0 9 1 21 1-51 0 27 1 136 1-98 1-88 0 54 1-19 1 73 1-106 0 178 1-95 1-74 1 60 0 67 1-94 1-28 1 18 0-4 1 85 1-112 1 171 0-98 1 3 1 10 1 20 0 97 1-95 1-2 1-102 0 148 1-86 1-47 1 27 0 33 1 33 1-61 0-22 1 56 1-36 1 7 0-11 1-94 1-87 1 140 0 38 1-89 1-47 1 81 0 60 1-19 1-98 1 64 0-11 1 34 1 46 1-97 0 75 1-83 1 164 1-9 0 29 1-112 1-16 1-97 0 47 1 105 1-112 1 111 0-6 1 48 1 34 0-7 1-3 1-49 1 123 0-22 1-8 1 80 1-53 0 62 1-111 1-32 1 66 0-167 1 77 1 21 1 15 0-135 1 156 1-85 1 53 0-58 1 50 1-7 1-27 0-43 1 10 1-33 1 86 0-159 1 275 1-201 1 8 0-39 1 113 1-4 0 43 1-155 1 93 1 74 0 85 1-146 1 32 1 56 0-67 1 34 1-37 1 113 0-11 1-210 1 129 1-36 0 64 1-32 1 55 1-43 0 95 1-77 1 30 1 68 0-5 1-125 1 85 1-17 0 8 1-18 1 16 1 1 0-92 1 31 1 30 0-109 1 101 1 63 1-126 0 19 1-96 1 62 1-21 0-36 1-50 1 76 1-76 0 4 1 158 1-125 1 41 0 132 1-5 1-183 1 127 0 36 1-128 1-14 1 53 0 51 1-33 1 2 1 56 0-111 1 27 1-54 1 65 0-142 1 143 1 149 0-216 1-74 1 195 1-103 0-78 1 62 1 17 1-156 0 186 1-5 1-30 1-25 0-65 1 178 1-113 1-8 0 20 1-15 1 35 1 73 0-77 1 99 1-112 1 108 0-72 1 36 1-11 1-76 0 73 1 27 1-101 0 107 1-154 1 16 1 34 0-3 1-16 1 65 1 25 0 122 1-239 1 111 1 0 0-133 1 110 1 16 1-74 0 21 1 125 1-42 1-40 0 20 1 26 1 116 1-64 0-33 1-27 1 42 1-66 0 23 1-329 1 271 1-11 0 1 1-18 1 62 0-81 1 184 1-57 1-32 0-37 1-1 1 43 1 65 0-160 1 135 1-9 1-3 0 61 1-5 1-26 1-74 0 18 1 102 1 12 1-38 0 137 1-250 1 208 1-149 0 75 1 9 1 17 1-46 0-91 1-21 1 115 1-50 0 119 1-82 1-19 0 4 1-105 1 35 1 21 0-138 1 106 1-38 1 26 0 0 1 40 1-36 1-3 0 71 1-160 1 92 1 31 0 143 1-201 1 28 1 54 0 3 1 0 1-120 1 197 0-63 1-30 1-6 1 1 0-68 1 64 1 34 1-17 0-80 1 52 1 5 0 116 1-114 1 21 1-17 0 36 1-69 1-6 1 48 0-23 1 69 1-129 1 71 0 29 1-36 1-89 1 58 0-1 1 53 1 54 1-202 0 172 1 41 1-54 1-100 0-33 1 40 1-24 1 208 0-68 1-113 1 100 1 24 0-123 1-2 1 13 0 14 1-12 1 97 1-143 0-126 1 168 1-3 1-1 0 79 1 54 1-91 1-23 0 64 1 45 1-29 1-324 0-157 1 392 1-162 1 217 0-51 1-4 1 12 1-149 0 172 1-71 1 164 1-1 0-222 1 42 1 105 1-157 0 162 1-62 1 112 0 3 1-65 1 30 1-45 0 22 1-57 1 3 1-192 0 207 1-28 1 87 1 47 0-144 1 165 1 43 1-65 0-4 1 17 1 4 1-36 0-29 1 134 1-113 1 19 0 73 1-25 1-84 1 23 0 160 1-6 1-75 1 7 0 37 1-44 1-22 0 55 1-43 1 42 1 23 0-103 1 68 1 5 1 10 0-44 1 47 1 38 1-15 0 31 1-6 1-23 1-31 0 29 1-57 1 99 1-35 0-131 1 200 1-54 1 25 0 25 1-117 1 117 1-75 0 72 1-21 1-56 1-6 0-51 1 44 1 48 0-32 1-73 1 97 1-60 0 8 1 48 1-43 1 74 0-82 1 18 1 24 1-22 0 66 1-52 1 49 1-46 0 141 1 0 1-64 1 61 0-55 1-42 1 15 1 13 0-8 1 57 1-18 1-96 0 173 1-132 1-24 1-76 0 40 1-18 1 108 0-40 1-34 1 26 1-89 0 140 1-83 1 73 1-10 0 181 1-219 1 92 1-21 0 168 1-208 1 123 1-53 0-66 1 16 1 40 1 21 0-84 1 108 1-72 1 79 0-65 1-39 1 15 1 70 0-61 1-39 1-8 1-1 0 32 1-58 1 72 0 49 1-34 1-40 1 93 0 3 1-65 1-44 1-21 0 98 1 17 1-94 1-46 0 44 1-180 1 259 1-149 0-72 1 69 1 19 1 29 0 1 1-8 1 12 1 26 0-55 1 52 1 0 1-49 0 107 1 30 1-20 1-98 0 219 1-200 1-37 0 32 1-12 1 51 1-40 0 16 1 55 1-12 1-21 0 5 1-47 1-18 1-9 0 38 1-25 1 127 1-302 0 226 1-79 1 45 1 40 0-69 1 13 1-23 1-89 0 165 1-27 1 54 1-64 0 99 1-36 1-25 1 107 0-90 1-61 1 23 0 145 1-53 1 84 1-46 0-19 1-11 1-13 1-48 0 95 1-30 1 22 1-20 0-52 1 113 1-130 1 8 0-38 1 192 1-119 1-24 0-23 1 14 1-32 1 12 0 24 1-74 1 51 1-117 0 171 1-24 1-65 1 81 0-28 1 77 1-54 0 59 1 84 1-92 1-171 0 91 1-21 1-57 1 25 0 28 1 19 1-61 1 18 0 36 1 22 1-108 1 50 0 97 1-133 1 160 1-108 0-53 1 83 1-103 1 51 0-95 1-36 1-20 1 39 0 17 1 25 1 19 1 128 0-51 1 8 1-68 0-21 1 143 1-71 1-6 0 26 1-29 1-2 1-51 0-7 1 31 1 66 1-243 0 165 1 99 1-89 1 31 0 25 1-119 1 78 1 40 0-43 1 31 1 60 1-51 0 14 1 12 1-33 1 71 0-122 1-45 1 48 1 32 0-98 1 141 1-78 0-36 1 29 1-47 1 91 0 3 1-20 1-109 1 176 0-37 1-65 1 48 1-31 0 27 1-45 1-18 1-4 0 0 1 35 1-49 1 1 0 25 1-21 1-188 1-277 0 355 1-30 1 67 1-26 0 141 1-119 1 68 1 6 0-100 1 56 1 98 0-2 1-61 1 56 1-27 0-57 1 121 1-12 1 210 0-298 1 212 1-154 1 154 0-204 1 93 1 26 1 26 0-88 1 35 1 186 1-219 0-67 1 119 1-68 1-18 0 69 1 12 1-76 1 159 0-117 1-41 1 141 1-91 0 142 1-95 1 16 0-15 1-81 1 126 1-55 0-28 1-12 1 32 1 7 0 21 1 68 1-177 1 49 0 169 1-112 1-2 1 14 0-29 1-21 1-49 1 44 0-93 1 147 1-12 1 12 0-30 1 107 1-70 1-58 0 0 1-18 1-161 1 116 0 37 1 7 1-179 0 166 1-55 1 25 1-19 0 30 1 31 1-58 1-9 0-5 1 114 1-54 1 100 0 79 1 17 1-115 1 43 0-37 1 47 1-55 1-68 0-11 1 26 1 1 1-16 0 117 1-113 1 83 1-165 0-49 1 132 1-35 1-30 0 94 1-12 1-76 0-2 1 106 1 50 1-5 0-122 1-45 1 128 1-76 0 3 1 11 1 22 1-12 0-8 1 27 1-65 1 24 0-63 1-2 1 99 1 23 0-62 1 32 1-26 1-21 0-14 1-12 1-23 1 119 0 44 1-77 1-23 1-22 0 86 1-3 1 159 0-269 1 122 1-28 1 44 0-126 1 65 1 69 1-100 0-6 1 85 1-84 1 13 0 50 1-51 1 13 1-6 0 23 1 33 1-17 1 91 0-174 1-80 1 56 1 140 0-100 1 64 1-18 1-17 0-57 1-1 1 44 1 72 0-41 1-15 1 52 0 56 1-3 1 33 1 25 0 55 1 29 1 24 1-181 0 151 1-142 1 113 1-167 0 117 1 42 1-96 1 31 0-62 1 34 1-47 1-43 0 39 1-98 1 167 1-140 0 147 1-70 1 11 1 72 0-113 1-34 1 169 1-117 0-65 1 127 1-68 0-15 1 16 1-64 1 101 0-50 1 40 1 20 1-150 0-69 1 77 1 17 1 64 0-54 1-39 1 46 1 108 0-143 1 70 1-117 1 104 0-38 1 130 1-81 1-54 0 23 1 69 1 123 1-53 0-15 1 39 1-29 1-20 0-106 1 77 1-130 0 154 1-80 1 85 1-43 0-16 1-63 1 85 1-36 0 57 1 20 1-33 1 0 0-13 1-45 1 101 1 17 0-102 1-9 1-75 1-318 0-364 1 799 1-355 1 325 0-74 1-19 1 18 1-21 0 15 1-11 1 96 1-87 0 59 1 78 1-122 0-24 1-52 1 75 1 30 0 43 1 46 1 38 1-59 0-31 1-35 1-8 1 17 0-48 1 79 1 0 1-47 0 113 1-76 1-156 1 146 0 149 1-140 1 13 1-56 0-36 1 152 1-22 1-77 0 58 1-22 1 34 1-11 0-55 1 40 1 80 0-160 1 25 1 186 1-9 0-16 1-28 1-18 1 44 0-36 1-19 1 104 1-86 0-35 1 108 1-106 1-7 0 7 1-10 1 17 1-87 0 190 1-131 1-51 1 2 0 42 1-31 1-26 1-61 0 127 1-89 1 35 1 5 0-67 1 62 1 187 0-191 1 52 1-18 1-27 0 66 1-61 1 16 1-111 0 63 1 25 1-25 1-115 0 136 1 59 1-76 1 16 0 26 1-44 1 53 1 93 0-156 1 9 1 46 1 73 0-20 1 13 1-37 1-91 0 67 1-62 1 41 1-121 0 125 1-52 1 44 0-3 1-11 1 16 1 49 0-14 1-67 1 13 1 12 0-80 1 149 1-5 1 12 0-84 1-23 1 88 1 102 0-170 1 89 1-76 1-7 0 4 1-22 1 87 1-64 0 152 1-260 1 143 1-18 0 1 1-1 1 57 0-27 1-126 1 85 1-89 0-91 1 107 1 28 1 89 0-41 1-59 1 115 1-65 0-90 1 120 1 7 1 19 0-46 1 3 1-35 1 34 0 3 1 57 1-40 1 19 0-5 1 33 1-47 1 190 0-112 1-61 1-19 1 18 0 11 1-60 1 57 0-8 1-168 1 150 1 25 0-48 1-77 1 87 1-56 0 58 1 151 1-96 1-17 0 61 1 54 1-56 1-75 0-92 1 193 1-190 1 47 0 139 1-54 1-37 1-42 0 113 1 25 1-126 1-30 0 131 1-37 1-13 1-85 0 108 1-17 1-14 0-8 1 71 1-60 1-88 0 117 1-28 1-89 1-53 0 167 1 2 1-76 1-46 0 147 1-73 1-82 1-73 0 135 1 85 1-85 1-113 0 143 1 51 1-36 1 5 0-23 1-64 1 5 1 124 0-24 1 35 1-50 1-95 0 47 1-10 1 8 0 84 1-81 1-133 1 135 0 87 1-57 1-45 1-16 0 82 1-41 1-23 1 79 0-43 1-34 1-7 1-94 0 70 1-10 1 65 1-134 0 217 1-116 1-24 1 16 0 149 1-209 1-41 1 201 0-6 1-99 1-14 1 60 0-76 1 34 1 7 0-10 1-36 1 141 1-83 0-25 1-65 1 134 1-14 0-18 1 99 1-54 1-19 0-60 1-32 1 98 1 55 0-80 1-15 1-47 1 67 0 17 1 40 1-84 1 104 0-29 1 119 1-101 1-71 0 39 1 57 1-29 1 37 0-23 1 64 1-70 0 12 1 21 1-206 1 45 0 112 1 59 1-82 1 81 0-78 1-44 1-42 1 136 0-56 1 99 1-86 1-91 0 96 1 24 1-14 1-103 0 53 1-65 1 116 1 33 0 39 1-230 1 56 1-50 0 64 1-2 1 31 1 61 0-174 1 98 1 92 0-26 1-37 1 41 1-105 0 120 1 9 1 83 1-118 0-2 1 63 1 21 1-10 0 114 1-90 1 48 1-4 0-49 1 70 1-110 1 93 0-65 1-42 1 106 1-182 0 59 1 121 1-33 1 7 0-83 1 14 1-2 1-44 0 88 1 29 1-44 0-2 1 20 1 33 1-14 0-91 1-138 1 56 1 91 0-210 1 211 1-132 1-20 0-32 1 34 1 54 1 38 0-11 1-79 1 75 1 8 0-106 1 5 1-2 1 155 0-220 1 114 1 34 1-49 0 3 1-29 1 96 1-51 0-29 1 59 1 35 0 48 1-85 1 12 1 16 0-75 1 49 1 35 1 14 0-64 1 36 1-27 1-56 0 36 1 198 1-250 1 125 0-33 1 17 1 2 1-30 0-5 1 35 1-44 1-20 0 89 1-157 1 102 1 37 0-197 1 229 1-11 1 18 0-104 1-7 1 52 0-9 1 62 1-136 1 234 0-188 1 88 1-3 1 122 0-103 1-44 1 58 1-26 0 6 1-91 1 88 1 0 0-106 1 41 1 86 1-29 0-20 1 78 1-91 1 7 0-8 1-14 1-57 1 0 0 163 1-59 1-12 1-50 0-107 1 14 1 41 0 89 1 18 1-112 1-10 0 139 1 75 1-181 1 88 0 34 1-38 1-83 1 58 0-59 1-7 1 75 1-92 0 52 1-69 1 145 1-51 0-86 1 14 1 15 1-43 0 73 1 32 1 34 1-21 0-60 1 30 1-2 1-114 0 151 1-23 1 108 0 6 1-41 1-123 1 183 0-119 1 14 1 58 1-55 0 92 1-82 1 65 1-89 0-61 1 64 1-66 1 5 0 35 1-16 1-79 1 165 0-123 1 114 1-67 1 39 0-24 1 7 1-19 1-25 0 22 1 37 1 55 1-2 0-44 1-41 1-38 0 17 1 168 1-173 1 63 0 15 1-51 1 66 1-24 0 22 1-42 1 51 1-8 0 69 1-2 1-106 1 51 0 14 1-81 1 76 1 24 0-28 1-78 1 19 1 28 0-70 1 108 1-28 1-71 0 88 1-174 1 149 1-97 0 40 1-17" stroke="#0000ff"/>
</g></g>
<path d="M414.6 206.7v-3M414.6 12.1v3M442.8 206.7v-6M442.8 12.1v6M471.1 206.7v-3M471.1 12.1v3M499.3 206.7v-6M499.3 12.1v6M527.5 206.7v-3M527.5 12.1v3M555.7 206.7v-6M555.7 12.1v6M583.9 206.7v-3M583.9 12.1v3M612.2 206.7v-6M612.2 12.1v6M640.4 206.7v-3M640.4 12.1v3M386.4 187.2h3M668.6 187.2h-3M386.4 167.8h6M668.6 167.8h-6M386.4 148.3h3M668.6 148.3h-3M386.4 128.9h6M668.6 128.9h-6M386.4 109.4h3M668.6 109.4h-3M386.4 89.9h6M668.6 89.9h-6M386.4 70.5h3M668.6 70.5h-3M386.4 51h6M668.6 51h-6M386.4 31.6h3M668.6 31.6h-3M386.4 12.1h5.5M668.6 12.1h-5.5M386.4 206.7h5.5M668.6 206.7h-5.5M386.4 206.7v-5.5M668.6 206.7v-5.5M386.4 12.1v5.5M668.6 12.1v5.5" stroke="#333" stroke-width="1.35" fill="none"/>
<text class="tl" text-anchor="middle" transform="translate(387 217.3) scale(0.94 1)">0</text>
<text class="tl" text-anchor="middle" transform="translate(443.4 217.3) scale(0.94 1)">200</text>
<text class="tl" text-anchor="middle" transform="translate(499.9 217.3) scale(0.94 1)">400</text>
<text class="tl" text-anchor="middle" transform="translate(556.3 217.3) scale(0.94 1)">600</text>
<text class="tl" text-anchor="middle" transform="translate(612.8 217.3) scale(0.94 1)">800</text>
<text class="tl" text-anchor="middle" transform="translate(669.2 217.3) scale(0.94 1)">1000</text>
<text class="tl" text-anchor="end" transform="translate(384.2 210.7) scale(0.94 1)">12</text>
<text class="tl" text-anchor="end" transform="translate(384.2 171.8) scale(0.94 1)">14</text>
<text class="tl" text-anchor="end" transform="translate(384.2 132.9) scale(0.94 1)">16</text>
<text class="tl" text-anchor="end" transform="translate(384.2 93.9) scale(0.94 1)">18</text>
<text class="tl" text-anchor="end" transform="translate(384.2 55) scale(0.94 1)">20</text>
<text class="tl" text-anchor="end" transform="translate(384.2 16.1) scale(0.94 1)">22</text>
<text class="at" text-anchor="middle" transform="translate(528 229) scale(1.05 1)">Time (ns)</text>
<rect x="584.2" y="25.9" width="75.6" height="45.3" fill="#fff" stroke="#777" stroke-width="1"/>
<path d="M587.5 33.1H598.7" stroke="#555" stroke-width="1"/>
<text x="604.6" y="35.7" class="lg">MMP1- Zn<tspan class="sb" dy="1.8">1</tspan><tspan dy="-1.8"> Zn</tspan><tspan class="sb" dy="1.8">2</tspan></text>
<path d="M587.5 44.1H598.7" stroke="#e88" stroke-width="1"/>
<text x="604.6" y="46.7" class="lg">MMP1- Zn<tspan class="sb" dy="1.8">2</tspan></text>
<path d="M587.5 55.1H598.7" stroke="#8e8" stroke-width="1"/>
<text x="604.6" y="57.7" class="lg">MMP1- Zn<tspan class="sb" dy="1.8">1</tspan></text>
<path d="M587.5 66H598.7" stroke="#88c" stroke-width="1"/>
<text x="604.6" y="68.6" class="lg">MMP1- No Zn</text>
<clipPath id="cc"><rect x="34.3" y="245.2" width="289.9" height="203.1"/></clipPath>
<rect x="34.3" y="245.2" width="289.9" height="203.1" fill="none" stroke="#808080" stroke-width="1.3"/>
<g clip-path="url(#cc)"><g transform="scale(.1)" fill="none" stroke-width="10" stroke-linejoin="round">
<path d="M343 3988l1-13 1-53 0 91 1-136 1 123 1-84 0 15 1 117 1-107 1 60 0-65 1-4 1 52 1-81 0-16 1 3 1 16 1 53 0-12 1-103 1 24 1 105 1-71 0 65 1-84 1 85 1-45 0-115 1 192 1 18 1-69 0 21 1 4 1-68 1-5 0 28 1 41 1 79 1-133 1 24 0-2 1 69 1-126 1 10 0-43 1 134 1-60 1 0 0 71 1-85 1-27 1 131 0-163 1 92 1-62 1-15 0 66 1 137 1-99 1-21 1-52 0 109 1-74 1-50 1 143 0-117 1 60 1 36 1-48 0 69 1-228 1 206 1 25 0-33 1-21 1 27 1-101 1 19 0 96 1 53 1-185 1 101 0 22 1-141 1 71 1 67 0-4 1-150 1 26 1 69 0-54 1 36 1-5 1-54 0 113 1-96 1-28 1-4 1 196 0-68 1-72 1 87 1-99 0-3 1-14 1-61 1 137 0 23 1-104 1 58 1-48 0-61 1 41 1 36 1-86 1 145 0-34 1 60 1-74 1-5 0 75 1-134 1 47 1 25 0-35 1-113 1 188 1 48 0-38 1 118 1-202 1 95 0-82 1 68 1-64 1 88 1-92 0-38 1 107 1-92 1 45 0 15 1-35 1 9 1 33 0-127 1 65 1 0 1 22 0 67 1-111 1 111 1-67 1 14 0-9 1 52 1-110 1-32 0 94 1 48 1-23 1-39 0 12 1-80 1 172 1-89 0-66 1 289 1-161 1 68 0-107 1 45 1-27 1 28 1-157 0 119 1 28 1 93 1-171 0 23 1 204 1-174 1 84 0-72 1-90 1 110 1 8 0-43 1 15 1 57 1-10 1-58 0 23 1-13 1-27 1 152 0-228 1 161 1-51 1 29 0-53 1 0 1-42 1 73 0 53 1-73 1-25 1 108 0-110 1-44 1-96 1 211 1-45 0 11 1-8 1-75 1 50 0 2 1 47 1-44 1-6 0-35 1 22 1-81 1 167 0-212 1 89 1 141 1-84 1 36 0 63 1-102 1 48 1-97 0 8 1 105 1 67 1-133 0 86 1-61 1 43 1-120 0 1 1 24 1 117 1-123 0 84 1-109 1 46 1 55 1 88 0-81 1-5 1 74 1 49 0-67 1 20 1-94 1 50 0 25 1 14 1-164 1-60 0 58 1-74 1 163 1-13 1-86 0 54 1 24 1 44 1-87 0-57 1 199 1-143 1-6 0-21 1-17 1 126 1-156 0 115 1-33 1-38 1 9 0 52 1-19 1 77 1-16 1-34 0 92 1-36 1-35 1-20 0-80 1 202 1-113 1 48 0 39 1-142 1 82 1-77 0 97 1-15 1 5 1-69 1 23 0 53 1-36 1 88 1-78 0 41 1-74 1 86 1-91 0 127 1-24 1-40 1-56 0-26 1 181 1-223 1 43 0-96 1-102 1 163 1-17 1-63 0 208 1-99 1 66 1-35 0 61 1-114 1 65 1 19 0 52 1-20 1-64 1 2 0 13 1-5 1-34 1 47 1 60 0-67 1 27 1-97 1 165 0-71 1 10 1-106 1 112 0 66 1-80 1 85 1-110 0 32 1-11 1 42 1-3 0-7 1 55 1 24 1-68 1-27 0-52 1 56 1 32 1 6 0-28 1-5 1 31 1-49 0 56 1 61 1-36 1 11 0-7 1-97 1 136 1-18 1-72 0 57 1-59 1-20 1 72 0-49 1-10 1 75 1-61 0-34 1 65 1-97 1 97 0-91 1 92 1-5 1 69 0-115 1 22 1 26 1-23 1 51 0-30 1-44 1 13 1 37 0 7 1-36 1 34 1-9 0-24 1-36 1 45 1 24 0 51 1-135 1-16 1 73 1-98 0 123 1-66 1 81 1-17 0 27 1 9 1-89 1 26 0-42 1 58 1 4 1 4 0-30 1 10 1 12 1-10 0-5 1-23 1 29 1 100 1-30 0-47 1 14 1 4 1-2 0 6 1 36 1-73 1 158 0-126 1 18 1 6 1 25 0-65 1-15 1 2 1 19 0 1 1 18 1-31 1 24 1-23 0 7 1-23 1 6 1-6 0-22 1 86 1-25 1 8 0-10 1 63 1-61 1-12 0-20 1-56 1 107 1-33 1 0 0 46 1-35 1-15 1 43 0-17 1-53 1 26 1 23 0-15 1-27 1 62 1-155 0 108 1 30 1 30 1-108 0 46 1 44 1-11 1-7 1-6 0-1 1-74 1 8 1 25 0 88 1-32 1-62 1 72 0-76 1 30 1 37 1-76 0 29 1-9 1-12 1-6 1 83 0-30 1 6 1 35 1-68 0-51 1 67 1-61 1 48 0-24 1 2 1 37 1-55 0 18 1 70 1-46 1-19 0 5 1-34 1 46 1-64 1 34 0-29 1 64 1-23 1 64 0-79 1 49 1 51 1-76 0-13 1 9 1 15 1 29 0 0 1-6 1-50 1-9 1 15 0-32 1-1 1 28 1-8 0 85 1-91 1 7 1 9 0-15 1 31 1-62 1 14 0 41 1-53 1 29 1 34 0-30 1 8 1 94 1-73 1 27 0-86 1 53 1-31 1-41 0 67 1-20 1 27 1 30 0-18 1-23 1-17 1 43 0 42 1-7 1 3 1-99 1 73 0-11 1 33 1 32 1-25 0-58 1 60 1-56 1 34 0-21 1 56 1-41 1 29 0-52 1 71 1-77 1 16 0 33 1-76 1 32 1-24 1 52 0-8 1-102 1 98 1-28 0-46 1 92 1 26 1-97 0 69 1-49 1 92 1-9 0-75 1 48 1-84 1 82 1-24 0 43 1-11 1-9 1-9 0 36 1-78 1 20 1 9 0-21 1 0 1-26 1 57 0-47 1 74 1-50 1 26 0 13 1-21 1-15 1-27 1 132 0-74 1-20 1 40 1-49 0-97 1 64 1 52 1-20 0-6 1-8 1 45 1-50 0 16 1-74 1 39 1 42 1-91 0 75 1 1 1 29 1-21 0 31 1-22 1-67 1 44 0-71 1 101 1-37 1 50 0-18 1-27 1 72 1-28 0 86 1-82 1-21 1 18 1 10 0 3 1 50 1-119 1 27 0-54 1 21 1 62 1 71 0-123 1 5 1 26 1 49 0 5 1-45 1-6 1 31 1-57 0-24 1-21 1 71 1-56 0 40 1 22 1-47 1-38 0 105 1-122 1 89 1-6 0-44 1-63 1 78 1-18 0 49 1 22 1-83 1-1 1 56 0 68 1-47 1-5 1-41 0 48 1-11 1 14 1-75 0 23 1-38 1 82 1 7 0-38 1-65 1 73 1-115 1 164 0-27 1-10 1-70 1 101 0 9 1-79 1 50 1-29 0-14 1 31 1-66 1-3 0-7 1-33 1 47 1-21 0 59 1-66 1-10 1 65 1-93 0 72 1 8 1 14 1-62 0 51 1 62 1-112 1 82 0-107 1-69 1 190 1-136 0 77 1-40 1 8 1 120 1-158 0 99 1-39 1 3 1-107 0 10 1 56 1-4 1 36 0 17 1 28 1-6 1-27 0 80 1-124 1 103 1-133 0-1 1 79 1-114 1 49 1 19 0 17 1-14 1 38 1 55 0-64 1-24 1-1 1-52 0 16 1 92 1-25 1 10 0-103 1-15 1 98 1-137 1 191 0-98 1 101 1-47 1-154 0 64 1 59 1-25 1 49 0-103 1 9 1 103 1-55 0-156 1 240 1-116 1 156 0-155 1 36 1-37 1 25 1 33 0-41 1 19 1-55 1-41 0 77 1-94 1 78 1-19 0 13 1 31 1 27 1-43 0-86 1-36 1-34 1 70 0 97 1-48 1-45 1 97 1-105 0 0 1 38 1-65 1 116 0-83 1-24 1 91 1-59 0-51 1-22 1-5 1 133 0-111 1-7 1 66 1-82 1 45 0-28 1-24 1 32 1-62 0-42 1 33 1 147 1-43 0-9 1-48 1-44 1 187 0-157 1 148 1-117 1-80 0 35 1 25 1-36 1 28 1-23 0 23 1-21 1-38 1 80 0 2 1-112 1 46 1 65 0-24 1 13 1-43 1 175 0-154 1-45 1 12 1-9 1 18 0-50 1 14 1 16 1 147 0-152 1 56 1-110 1 59 0 66 1 42 1-105 1 57 0 46 1 43 1 162 1-70 0-103 1-192 1 215 1-234 1 170 0 36 1-163 1 62 1 52 0 19 1 35 1 17 1-43 0-22 1-48 1 38 1-8 0-12 1-162 1 137 1-57 1 67 0 13 1 95 1-116 1 16 0 2 1 66 1-74 1 80 0-100 1 48 1-51 1-18 0 20 1 168 1-99 1 51 0-24 1-40 1-107 1 15 1 92 0-17 1 8 1-50 1 62 0-14 1 21 1-169 1 94 0-65 1 47 1 131 1-168 0 94 1-21 1-7 1 14 1-81 0 119 1-59 1-24 1 114 0-113 1 86 1-102 1-48 0 155 1-255 1 148 1-62 0 24 1 381 1-175 1-112 0-55 1 101 1-109 1 47 1 15 0 8 1-72 1-17 1 29 0 60 1-4 1 98 1 73 0-141 1 66 1-89 1 111 0-27 1-132 1 159 1-168 1 65 0 92 1-11 1 87 1-83 0-106 1 151 1-132 1-126 0 183 1-139 1 50 1-21 0 61 1-25 1-19 1 90 0 0 1-62 1-127 1-50 1 185 0-120 1 143 1-225 1 171 0-103 1 109 1 0 1 83 0-32 1-97 1-4 1-37 0 140 1 39 1-145 1 46 1 28 0-92 1-27 1 15 1 125 0-51 1 85 1-72 1 8 0 102 1-111 1-52 1 241 0-278 1 79 1 194 1-209 0-14 1-5 1 19 1-31 1 29 0 23 1 4 1 137 1-256 0 57 1 136 1-121 1 23 0 112 1 36 1-174 1 48 0 26 1-54 1-135 1 166 1-8 0-5 1-47 1-9 1 86 0 2 1-38 1 43 1-178 0 246 1-254 1 167 1-3 0 68 1-150 1 55 1-27 0 43 1 31 1-57 1-44 1 131 0-12 1 22 1-71 1 100 0-175 1 41 1 2 1-88 0-59 1 260 1-153 1 85 0-53 1-54 1 175 1-127 1-71 0 135 1-150 1 126 1 0 0 115 1-92 1 24 1-116 0 51 1 65 1 69 1-25 0-209 1-56 1 76 1 171 0-166 1 56 1 88 1-31 1-45 0-19 1 98 1-103 1 115 0-105 1-6 1 67 1 92 0-73 1-64 1-18 1 43 0-25 1 145 1-154 1 183 1-146 0 55 1 41 1-52 1 56 0-30 1 12 1-135 1 69 0 6 1-12 1-3 1 49 0 68 1-157 1-15 1 67 0 5 1 36 1-27 1-13 1 37 0 28 1-43 1 31 1-93 0-69 1 76 1 14 1 114 0-195 1 143 1 10 1-39 0 21 1-9 1 18 1-11 1-200 0 261 1-75 1 1 1-8 0 42 1 119 1-147 1 6 0 97 1-163 1 220 1-254 0 100 1 69 1-96 1 73 0-35 1-157 1 138 1 101 1-175 0-15 1 43 1-47 1 73 0-33 1 12 1 6 1 104 0 136 1-186 1 86 1-219 0 154 1 23 1 53 1-126 1 13 0 17 1-56 1 5 1 18 0 46 1-125 1 84 1-32 0 49 1-95 1 82 1-85 0-60 1 159 1-19 1 131 0-97 1-53 1 94 1-42 1 95 0-108 1 80 1-54 1-14 0-66 1 48 1 64 1-41 0 69 1-39 1 56 1 2 0-85 1 9 1-44 1 54 0 151 1-128 1 121 1-34 1-116 0-27 1 39 1 0 1-97 0 190 1-85 1-76 1 61 0 50 1 108 1-201 1-24 0 116 1-42 1 19 1-53 1 47 0-15 1 55 1-84 1 107 0-55 1 29 1 30 1-92 0-92 1 77 1-15 1 126 0-175 1 146 1-113 1 47 0-28 1 41 1-51 1 100 1-95 0 56 1 6 1-68 1 66 0-44 1 41 1 153 1-265 0 56 1 54 1 67 1-23 0-45 1-71 1 155 1-108 1-140 0 141 1-38 1 206 1-63 0-56 1 75 1 85 1-142 0-23 1-105 1 111 1-54 0 164 1-118 1 2 1 27 0 46 1-67 1 36 1-47 1-147 0 153 1 85 1-160 1 113 0-11 1-81 1 28 1-108 0 75 1 24 1-28 1-15 0 7 1-79 1 72 1 43 1-3 0-10 1 35 1-13 1 27 0-63 1 114 1-33 1 17 0-187 1-21 1 113 1 53 0-19 1 69 1-76 1 8 0-24 1-14 1-37 1-43 1 263 0-215 1 108 1-37 1 91 0-20 1-35 1-36 1 142 0-7 1-64 1-63 1-43 0 7 1 148 1-124 1-19 1-39 0 83 1-40 1 15 1-33 0 47 1 12 1-151 1 272 0-202 1 27 1-26 1 139 0-107 1 69 1-33 1-17 0 95 1-82 1 18 1 88 1-263 0 218 1-132 1 122 1-41 0-26 1-22 1-60 1 111 0-109 1 98 1 78 1-78 0 75 1-135 1 30 1-26 1 130 0-90 1 207 1-143 1 23 0 20 1-146 1 127 1 43 0-216 1 142 1-35 1 81 0-126 1 33 1-97 1 132 0-47 1-89 1 57 1 90 1-77 0 1 1-86 1 212 1-61 0 22 1-33 1 43 1 15 0-226 1 176 1-56 1 125 0-38 1-141 1 125 1-1 1-18 0-6 1-4 1 45 1 53 0-44 1 64 1-94 1 140 0-44 1-160 1 131 1-23 0 0 1-71 1-24 1 121 0 29 1-94 1-9 1-11 1 28 0 7 1-6 1 94 1-108 0 83 1-187 1 114 1 34 0-18 1 87 1-138 1 134 0-86 1-174 1 137 1 100 1-68 0 26 1-203 1-1 1 138 0-207 1 228 1-84 1 105 0-46 1-67 1 36 1-81 0 117 1-20 1 25 1-16 0 34 1 12 1-65 1 67 1-48 0-31 1-73 1 300 1-144 0-18 1-113 1 127 1-80 0-35 1 112 1-131 1 48 0 143 1-1 1-72 1 106 1-59 0-187 1 168 1-75 1-109 0 181 1-45 1-8 1 25 0 123 1-114 1-111 1 45 0-17 1 63 1-20 1-22 0 81 1-41 1 22 1 7 1 119 0-164 1-66 1 119 1-9 0 22 1-10 1-36 1 20 0-88 1 15 1-79 1 130 0-90 1 137 1-122 1 59 1-22 0 96 1-60 1 6 1 81 0-4 1-121 1-112 1 250 0-194 1 101 1-140 1 64 0 22 1 81 1-67 1 55 0-205 1 225 1-29 1 1 1-102 0 151 1-111 1 36 1 41 0-23 1-38 1 32 1 46 0-27 1 84 1-145 1 153 0 15 1-42 1 5 1-116 1 42 0 43 1-22 1-42 1-16 0 98 1-76 1-41 1-14 0 140 1-153 1 148 1-152 0 215 1-122 1-20 1-82 0-22 1 18 1 122 1-204 1 74 0-10 1 102 1 80 1-117 0-31 1 101 1-94 1-15 0 108 1 14 1-67 1 156 0-169 1-77 1 127 1-19 0-172 1 153 1-19 1 118 1-67 0 55 1-15 1 63 1 10 0-174 1-7 1 40 1-66 0 112 1 18 1-51 1 16 0-107 1 109 1 100 1-332 1 336 0 51 1-197 1-58 1 229 0-102 1-30 1-101 1 85 0 130 1-157 1 125 1-45 0-157 1 145 1-83 1 60 0-48 1 11 1 83 1-6 1-34 0-102 1 80 1 40 1 7 0-11 1-109 1 122 1-60 0 0 1-135 1 216 1 66 0-109 1-21 1 43 1-142 1-3 0 137 1-135 1-32 1 138 0-54 1-39 1 186 1-125 0-67 1-24 1 112 1 8 0 38 1-127 1 110 1 50 0 4 1-139 1 64 1-42 1 12 0-1 1-60 1 67 1-40 0 62 1 54 1-4 1-45 0 21 1-160 1 37 1 57 0 48 1-133 1 88 1 83 1-187 0 87 1 154 1-108 1-43 0 86 1-16 1 146 1-124 0-31 1 63 1-59 1 51 0-59 1 25 1-70 1-22 0-45 1 93 1 54 1-55 1 6 0-189 1 309 1-129 1 202 0-308 1 40 1 110 1-71 0-17 1 49 1 30 1-3 0-15 1-94 1 164 1-72 1 125 0-100 1 41 1-225 1 230 0-104 1 88 1 47 1-75 0-51 1 170 1-178 1 5 0-29 1 122 1-180 1 46 0-48 1 47 1-11 1 133 1-102 0 157 1-122 1 50 1-36 0-23 1-110 1 155 1-7 0-3 1 190 1-187 1-73 0 135 1-105 1 26 1-3 1-40 0 31 1-83 1 21 1 132 0-24 1-25 1 12 1 40 0-124 1 77 1-49 1-105 0 119 1 1 1 7 1 20 0 38 1-50 1-70 1 9 1-5 0-13 1 79 1-21 1 61 0-8 1-138 1 83 1 51 0-81 1 72 1 37 1-81 0-62 1 33 1 10 1 17 1 60 0-101 1 106 1-95 1-129 0 256 1-171 1 45 1 75 0-60 1 58 1-43 1-34 0 77 1-49 1-46 1 78 0 6 1 107 1-78 1-9 1-118 0 133 1-27 1-1 1-37 0 40 1-19 1 10 1-63 0 92 1 45 1-100 1-35 0 131 1-27 1-33 1-176 1 146 0 28 1-111 1 39 1 51 0 32 1-174 1 145 1-168 0 147 1-42 1 66 1-93 0 106 1-8 1-67 1 49 0 80 1-48 1-37 1-13 1 106 0-160 1 36 1-11 1 47 0 16 1-95 1 27 1 167 0-245 1 246 1-104 1 34 0-112 1 78 1-42 1-7 1 71 0-40 1 10 1-99 1-9 0 131 1-19 1-64 1 97 0-55 1 119 1-146 1 47 0-69 1 121 1-52 1 25 0-26 1-124 1 44 1-56 1 213 0-218 1 196 1-12 1 4 0-85 1 67 1-83 1 45 0 31 1-48 1-35 1 110 0 20 1 18 1-3 1 13 1-3 0 48 1 139 1-149 1-31 0-54 1-34 1 21 1 108 0-201 1 38 1-7 1-37 0 23 1 13 1-1 1 6 0 18 1-4 1 21 1-147 1 44 0-23 1 127 1-99 1 101 0-125 1 79 1 69 1-25 0 46 1-85 1 91 1-80 0 126 1-93 1-67 1 197 1-162 0 75 1-18 1-30 1 116 0-101 1-17 1 66 1 5 0-60 1 49 1 58 1-128 0-32 1-22 1 75 1 11 0-138 1 212 1-125 1-21 1 102 0 31 1-36 1 24 1 9 0-29 1-65 1 111 1-184 0 127 1 27 1-46 1 27 0-60 1-87 1 92 1 49 1-47 0 16 1 93 1-28 1-1 0-98 1 24 1-22 1 98 0-66 1 125 1-83 1-40 0 118 1-152 1-32 1 104 0 23 1-94 1 59 1-1 1-46 0 77 1 45 1 24 1-126 0-51 1 57 1-26 1 46 0-21 1 57 1-50 1-11 0 34 1-26 1-17 1 9 0 20 1 40 1 15 1-124 1 54 0-55 1 39 1-85 1 107 0-31 1 7 1-8 1 90 0-75 1 18 1-50 1 118 0-2 1-37 1 34 1-50 1 82 0-103 1 94 1-94 1 74 0-116 1 79 1 46 1-11 0 22 1-88 1 72 1-26 0-41 1 68 1 11 1 4 0 2 1-66 1-24 1 29 1 11 0 24 1 18 1-51 1-49 0 31 1 15 1 3 1 16 0-76 1 84 1-124 1 91 0-77 1-9 1 139 1 11 1-15 0 42 1-94 1 43 1-4 0-148 1 95 1 65 1-67 0-4 1 15 1 27 1-110 0 87 1-3 1 11 1 55 0-62 1-38 1 21 1 101 1-170 0 109 1-20 1-28 1-129 0 193 1-73 1 35 1-54 0 87 1-7 1-87 1 31 0 10 1-12 1 55 1-110 1 104 0-27 1 4 1 43 1-110 0 36 1 1 1 79 1-68 0 85 1 70 1-148 1-33 0 52 1 27 1-62 1 71 0-54 1-7 1 39 1-74 1 114 0 26 1-65 1 17 1 61 0-36 1-88 1 3 1 18 0 63 1-93 1 121 1-65 0-74 1 45 1 29 1 41 1-134 0 75 1-76 1-25 1 86 0-6 1 3 1-53 1-2 0 48 1 48 1-66 1 3 0 71 1-93 1 161 1-161 0 95 1-94 1 127 1-72 1 1 0-52 1 63 1-56 1 7 0 21 1-79 1 17 1 85 0-153 1 97 1-70 1 86 0-1 1 26 1-41 1-28 1 11 0-52 1 38 1 46 1-34 0 18 1 5 1 20 1-33 0 24 1 15 1-74 1 72 0-26 1 20 1-66 1 58 0-100 1 39 1 66 1-18 1 34 0 74 1-142 1 86 1 37 0-33 1 34 1-25 1 8 0-96 1-6 1 30 1 51 0 38 1-15 1 19 1-14 1-58 0-59 1 131 1-48 1-51 0-53 1 92 1 34 1 6 0-91 1 54 1 31 1 17 0-53 1 42 1-63 1 63 0-13 1-31 1-45 1 116 1-80 0 25 1-14 1-88 1 166 0-76 1-97 1 29 1-19 0 54 1 30 1 10 1-73 0 74 1-17 1 13 1-18 1-26 0-31 1-10 1 118 1-6 0-76 1 61 1-66 1 17 0 18 1-98 1 92 1 11 0 21 1-16 1-97 1 183 0-92 1 18 1 14 1 91 1-110 0 90 1 34 1-38 1-46 0 9 1 10 1 37 1-58 0-64 1 17 1 31 1-40 0 73 1-120 1 161 1-139 1 16 0 41 1 21 1-66 1 88 0 25 1-125 1 55 1-10 0-14 1-12 1 75 1-19 0 7 1-33 1 45 1-109 0 25 1 118 1-101 1 85 1-116 0 100 1-29 1-25 1 76 0 18 1-79 1 18 1 60 0-8 1-107 1 55 1-31 0-24 1 71 1-97 1 33 1-12 0 1 1 80 1 6 1-71 0-67 1 106 1-31 1 63 0-138 1 57 1 58 1-14 0-39 1 25 1-5 1 39 0-63 1 50 1-88 1 22 1 46 0-41 1 109 1-107 1 107 0-81 1 43 1-80 1 19 0 25 1 101 1-124 1 108 0-80 1 75 1-42 1 7 1-33 0-24 1 41 1-105 1 128 0-79 1 127 1-113 1 91 0-52 1-15 1 42 1-68 0-3 1 27 1-26 1 48 0-74 1 23 1 68 1-8 1-41 0 53 1 33 1-51 1-17 0 13 1-100 1 113 1-100 0 114 1-117 1 83 1 3 0-67 1 59 1-37 1-13 0 20 1 69 1 68 1-95 1-31 0-43 1 71 1-65 1 96 0-123 1 53 1-73 1 107 0-5 1-63 1 37 1-91 0 81 1 48 1 12 1-47 1-3 0 55 1-101 1 3 1 46 0 63 1 19 1-50 1-11 0 23 1-61 1-8 1 62 0-50 1 96 1-25 1-18 0-48 1 12 1-50 1 59 1 5 0-63 1 36 1 0 1-14 0 107 1-48 1-110 1 130 0-27 1-4 1-45 1 104 0-121 1 6 1 27 1 35 1-57 0 78 1-31 1 71 1 0 0-26 1 53 1-58 1-25 0-7 1 74 1-87 1 45 0-26 1 72 1-29 1-15 0-51 1-13 1 11 1 26 1 46 0 14 1-26 1 47 1-25 0 18 1-13 1 29 1-23 0-51 1-24 1 61 1-10 0-7 1-15 1-36 1-47 1 38 0-25 1 48 1 36 1-54 0-34 1 71 1-2 1 47 0-29 1-11 1-36 1 58 0-47 1 34 1 10 1-93 0 120 1-115 1 77 1-76 1-62 0 69 1 85 1-62 1-102 0 202 1 16 1-88 1-83 0 30 1-6 1 41 1-18 0-32 1 66 1 32 1-158 1 52 0 10 1 24 1 4 1 19 0 60 1-139 1 33 1-53 0 120 1-66 1 11 1-28 0-24 1 110 1-30 1-9 0 35 1 35 1-94 1 76 1-145 0 34 1 94 1 34 1-16 0-61 1 97 1 25 1-114 0 39 1-65 1 73 1-84 0 88 1-19 1-66 1 186 1-77 0-79 1-54 1 108 1 5 0-61 1 1 1-6 1-43 0 25 1 103 1-45 1-33 0 42 1-96 1 54 1 33 0 41 1-47 1-26 1-50 1 8 0 115 1-9 1-12 1-31 0 30 1-84 1 74 1 22 0-16 1-62 1 53 1 53 0-75 1 24 1 9 1 63 1-29 0-44 1 54 1-92 1 61 0 32 1-1 1-140 1 78 0 8 1 49 1-52 1 25 0 1 1-64 1-8 1 28 0-149 1 52 1 52 1-5 1 117 0-96 1 25 1 11 1-7 0-23 1-80 1 35 1-35 0 58 1-25 1 53 1-1 0 22 1-29 1-11 1-36 1 73 0-20 1 127 1-113 1-3 0-17 1 2 1-5 1 95 0-42 1-56 1 65 1-3 0-52 1 1 1 35 1 25 0-67 1 74 1-132 1 16 1 40 0 26 1-38 1 9 1 43 0-131 1 37 1 138 1 3 0-2 1-92 1 37 1-40 0 78 1-27 1-74 1 138 1-126 0 2 1-41 1 11 1 42 0-34 1 68 1-57 1 75 0-23 1 38 1-36 1-35 0-23 1-39 1 119 1-58 0-6 1-40 1 68 1-32 1-12 0 27 1-34 1-12 1-17 0 21 1 63 1-10 1 31 0-102 1 53 1-56 1 58 0 54 1-34 1 79 1-54 1 48 0-54 1-70 1 54 1 11 0-114 1-11 1 119 1-66 0-2 1 2 1 40 1-29 0-8 1 60 1-15 1-88 0 13 1 86 1-20 1 72 1-39 0-4 1-96 1 27 1 81 0 35 1-111 1 20 1 54 0-19 1 22 1 59 1-110 0 116 1 25 1-128 1 10 1 34 0 161 1-283 1 148 1-9 0 12 1 6 1-24 1-23 0 15 1 41 1-73 1 54 0-81 1 100 1-44 1 15 0-82 1 31 1 78 1-75 1 58 0-17 1 7 1-18 1-36 0 28 1 38 1-7 1 5 0-21 1 41 1-33 1 160 0-138 1 3 1-33 1 4 1 63 0-27 1 5 1-37 1 49 0-32 1-56 1 7 1 25 0-32 1 42 1 10 1 30 0-57 1 64 1-114 1 68 0 32 1-51 1 33 1-71 1 31 0 15 1-40 1-8 1 10 0-11 1 34 1 0 1 17 0-62 1-15 1-13 1 42 0 90 1-84 1 34 1-18 0 27 1-31 1-16 1-4 1 47 0 64 1-113 1-3 1-32 0 116 1-48 1-4 1-36 0 2 1 74 1-93 1-19 0 56 1 19 1-14 1 26 1-28 0 77 1-35 1-79 1 85 0-67 1 98 1-38 1 69 0-188 1 204 1-130 1 71 0-75 1 16 1 85 1-34 0-23 1-78 1 0 1 27 1 91 0-106 1-64 1 26 1 69 0-48 1-5 1 53 1-85 0-18 1 168 1-97 1-27 0 141 1-26 1-7 1 33 1-96 0 28 1 20 1 19 1-17 0 8 1 22 1-90 1 18 0 28 1-29 1-42 1 52 0-2 1 17 1 33 1-161 0 203 1-152 1 96 1-74 1 6 0-75 1 138 1 21 1-111 0 3 1-13 1 111 1-65 0 140 1-42 1-18 1-42 0 28 1-41 1-34 1 143 1-111 0 27 1 34 1-19 1-20 0-51 1 7 1 71 1 45 0-115 1-44 1 143 1-17 0 23 1-71 1 12 1 25 0 51 1-90 1 10 1 33 1 10 0 17 1-37 1-2 1-13 0-13 1 68 1-10 1-12 0-61 1 103 1-45 1-90 0 51 1-21 1 48 1-29 1-58 0 74 1-36 1 50 1 16 0 38 1-30 1-52 1-73 0 57 1 18 1 25 1-60 0-58 1 52 1-9 1 49 0-36 1 72 1-66 1 39 1-29 0 9 1 128 1-90 1-136 0 7 1 92 1 38 1-109 0 124 1-27 1-70 1 1 0 33 1 68 1-79 1 72 1-52 0-27 1-32 1 48 1 0 0 27 1-68 1-35 1 69 0 40 1 9 1-23 1 61 0-53 1 7 1-1 1 81 0-104 1 56 1-17 1-60 1 29 0 80 1 1 1-7 1-139 0 71 1-42 1 56 1-4 0 18 1-3 1 12 1-55 0 8 1-17 1 43 1-10 1-8 0-14 1 11 1-146 1 129 0-3 1 71 1-8 1-29 0-30 1 92 1-51 1 9 0 54 1-37 1-52 1-14 0-21 1 23 1 17 1-16 1-7 0 78 1-82 1 23 1-120 0 47 1 27 1 42 1-17 0 31 1 29 1 30 1-114 0 76 1-40 1 66 1-39 1 19 0-29 1-6 1 55 1-3 0-69 1 30 1 2 1 43 0-98 1 47 1 11 1 46 0-46 1 65 1-58 1 45 0 59 1-144 1 85 1-52 1 31 0 31 1-31 1 29 1-2 0-66 1 4 1 1 1 12 0 0 1 47 1-15 1-153 0 45 1 3 1 110 1-21 1 7 0-75 1 39 1-36 1 28 0-30 1-66 1 124 1-50 0-77 1 51 1 70 1-98 0 74 1-7 1-7 1 21 0 42 1-99 1 62 1 70 1-139 0 31 1-12 1 25 1-4 0 48 1-57 1-8 1 0 0-24 1-42 1 9 1 112 0 10 1 35 1-39 1 6 1-142 0 80 1-113 1 140 1-104 0 48 1 38 1-89 1-46 0 61 1 103 1 10 1-59 0 57 1-55 1-68 1 71 0-120 1 156 1-4 1-54 1 33 0-7 1-14 1 34 1-26 0 23 1-56 1 34 1-5 0-36 1 92 1-2 1-134 0 81 1-34 1 89 1 14 1-33 0-38 1-68 1 34 1 41 0 10 1 23 1-8 1 19 0-91 1 13 1 66 1 23 0-63 1-4 1-9 1-12 0-15 1 97 1 43 1-146 1 127 0-146 1 95 1-45 1 18 0 108 1-46 1-146 1 46 0 28 1-44 1 59 1 4 0 111 1-178 1 52 1-32 0 77 1 44 1-14 1-30 1-69 0-53 1-3 1 86 1 62 0 8 1-74 1-82 1 105 0 19 1-1 1-3 1-17 0 21 1 3 1 22 1-78 1 24 0-14 1-92 1 121 1-69 0 150 1-136 1-26 1 89 0-25 1 43 1-56 1-33 0 64 1 81 1-84 1-37 0-15 1 131 1-59 1-64 1 27 0 22 1-8 1 21 1-33 0 20 1-5 1-59 1 108 0 6 1-85 1 129 1-54 0-99 1 69 1-5 1 124 1-110 0-25 1-37 1 26 1-65 0 78 1-54 1 96 1-45 0-3 1-4 1 43 1 14 0-88 1-68 1 112 1 36 0 43 1-33 1 14 1 7 1-122 0 75 1 14 1-23 1-7 0 34 1 17 1-18 1 36 0-23 1-60 1 80 1-48 0-49 1 82 1 14 1-104 1-29 0 197 1-87 1-14 1-44 0 28 1 87 1-66 1 58 0-5 1 28 1-64 1 4 0 9 1 35 1-4 1-56 0-37 1-5 1-34 1 23 1-1 0 69 1-1 1-108 1 32 0 47 1 51 1-79 1-49 0 93 1-68 1 130 1-24 0-79 1 70 1-134 1 41 1-8 0 162 1-168 1 31 1 43 0 33 1-75 1 83 1-45 0-23 1 119 1-30 1-66 0-62 1-26 1 59 1 17 0-13 1-11 1-11 1-32 1 31 0 28 1 30 1-28 1 51 0-64 1 13 1-16 1-7 0 68 1-166 1 201 1-94 0 28 1-4 1-23 1 94 1-118 0 98 1-38 1-60 1 36 0-9 1-52 1 21 1-24 0-47 1 99 1-68 1 51 0 16 1-119 1 135 1-46 0 38 1-30 1 57 1-27 1 48 0 16 1-51 1-49 1 44 0 18 1-55 1 80 1-53 0-14 1-3 1 16 1 104 0-201 1 84 1 106 1-146 1 24 0-78 1 50 1 55 1 43 0 53 1-82 1 1 1-16 0-79 1 28 1 54 1-18 0-29 1 35 1 54 1-26 0-37 1-40 1 63 1 1 1-20 0-2 1-54 1-10 1 62 0 5 1 15 1-24 1 66 0-72 1-35 1 84 1-75 0 29 1 30 1-93 1 73 1 59 0 12 1-43 1 27 1-63 0-36 1 62 1-26 1-14 0 28 1-12 1 19 1 15 0-53 1-21 1-5 1 34 0 10 1 13 1 60 1-87 1 9 0-52 1 31 1 92 1-24 0-12 1-15 1 7 1-10 0 19 1-135 1 132 1-37 0 21 1-20 1-28 1 64 1 5 0 18 1 58 1-4 1-40 0-72 1 145 1-130 1 65 0-29 1-2 1 61 1-102 0 84 1-37 1-78 1 40 0 54 1-37 1 16 1 68 1-87 0 1 1 17 1-9 1-15 0 11 1-10 1 9 1-3 0 22 1 51 1-28 1-7 0 29 1-96 1 49 1 3 1-62 0 26 1 28 1-13 1-67 0-49 1 26 1 58 1 23 0 120 1-154 1 10 1 33 0-16 1-1 1 9 1-62 0 16 1 47 1 36 1-118 1 66 0-126 1 29 1-5 1 60 0 61 1 2 1-118 1 134 0-3 1-92 1-51 1 91 0-75 1 53 1 32 1-26 1-7 0 63 1-33 1-31 1 30 0-7 1 67 1-74 1 52 0-104 1-11 1 86 1 21 0 10 1-45 1-146 1 173 0 37 1 3 1-6 1-21 1-83 0 70 1-49 1 92 1-43 0 61 1-137 1 15 1-17 0-11 1-7 1-7 1 6 0 81 1 3 1-69 1 38 1-26 0-3 1 29 1-47 1 27 0 79 1 19 1-12 1-53 0 37 1-40 1 19 1-58 0 15 1 17 1 16 1 28 0-57 1 52 1 17" stroke="#000000"/>
<path d="M343 3989l1-83 1 84 0-97 1 136 1-109 1-41 0-32 1 79 1 47 1-72 0-13 1 95 1-50 1 45 0-100 1 96 1-79 1 108 0-124 1 21 1 160 1-24 1-70 0 69 1 0 1-59 1-100 0-11 1 175 1-174 1 114 0 44 1-54 1-109 1 146 0-110 1 98 1 50 1-164 1 43 0-86 1 90 1 90 1-173 0 26 1 30 1-21 1-52 0 22 1 151 1-63 1-36 0 22 1-16 1 40 1 96 0-131 1 42 1 90 1-182 1 128 0-56 1 75 1-51 1 42 0-126 1 200 1-116 1 30 0-64 1 32 1 40 1-90 0 54 1-49 1 26 1 70 1-89 0 164 1-85 1-72 1-51 0 124 1 30 1-169 1-12 0 66 1 30 1 47 1-75 0 71 1 43 1 60 1-195 0 23 1 153 1-93 1-10 1-113 0 143 1-126 1 31 1 47 0 119 1-267 1 131 1-122 0-11 1 123 1 26 1-69 0-49 1 88 1-80 1 152 1 15 0-170 1-73 1-52 1 166 0 37 1 47 1 3 1 9 0-138 1 33 1-20 1 105 0-63 1 35 1-15 1 65 0-1 1 35 1-85 1 71 1 20 0 72 1-170 1 7 1 160 0-126 1-100 1 147 1-40 0-101 1 110 1-36 1 60 0-102 1 25 1 51 1-74 1 61 0-77 1 197 1-200 1 55 0-118 1 53 1 51 1-41 0 138 1-81 1-2 1 15 0 2 1-59 1 42 1 62 0-58 1 62 1-28 1 153 1-111 0 0 1 117 1-141 1-43 0 50 1-93 1 6 1 119 0 35 1-49 1 0 1 47 0-66 1-7 1-94 1 115 1-18 0-95 1-12 1 84 1 13 0-5 1-6 1-15 1 38 0-53 1-41 1 18 1-17 0-46 1 94 1 17 1-167 0 167 1-42 1 129 1-191 1 75 0-219 1 275 1 74 1-73 0-25 1 35 1-135 1 1 0 77 1-72 1 37 1-15 0 33 1-93 1 67 1-21 1-43 0 176 1-94 1-121 1 46 0-5 1 87 1-95 1 13 0 50 1-9 1 47 1-119 0 282 1-198 1-50 1 155 0-41 1 43 1-102 1 36 1-15 0-123 1 166 1-17 1-55 0 57 1-53 1 116 1-86 0 56 1-77 1 66 1-126 0 81 1-73 1 56 1-90 1 148 0 24 1-82 1 108 1 73 0-107 1-20 1 29 1 72 0-9 1-115 1-22 1 128 0-62 1-166 1 121 1-59 0 28 1 145 1-148 1 21 1 2 0-55 1-13 1 53 1 26 0 2 1-76 1 40 1 59 0-67 1 35 1-2 1-100 0-16 1 135 1 58 1-160 1 60 0 53 1 59 1-124 1 12 0-43 1 125 1-138 1 29 0-3 1 50 1 95 1-140 0-4 1-6 1-48 1 75 0 42 1-65 1-24 1 36 1-113 0 125 1-8 1 65 1-31 0-30 1 18 1 8 1-38 0 150 1-72 1-134 1 250 0-182 1 22 1 54 1-91 1 47 0 13 1-67 1 23 1 39 0-2 1-189 1 31 1 94 0 147 1-239 1 188 1-134 0 29 1 13 1-42 1 158 0-167 1 52 1 85 1-119 1 20 0-22 1 53 1 33 1 16 0-142 1 71 1 3 1 41 0-72 1 14 1 184 1-218 0 253 1-95 1-20 1-120 1 31 0 100 1-22 1 20 1-24 0 259 1-315 1 81 1-77 0-37 1 87 1 67 1-66 0-56 1 31 1 41 1-37 0 74 1-3 1 58 1-103 1 115 0-142 1 7 1 65 1 98 0-120 1-118 1-44 1 94 0-12 1 67 1-13 1-14 0 78 1-59 1-28 1 16 1 10 0 13 1-9 1 76 1-87 0-64 1 25 1 66 1-112 0 17 1 64 1-8 1-63 0 135 1-136 1-23 1-21 0 6 1 54 1 21 1-44 1 34 0-18 1 133 1-193 1 145 0 9 1-202 1 147 1 26 0-41 1 29 1-15 1 15 0 9 1 99 1-124 1 40 0-35 1 54 1-37 1-97 1 162 0 1 1-59 1-55 1 75 0-109 1 71 1-87 1 136 0-105 1-64 1 76 1 72 0-72 1 89 1-17 1 14 1 16 0 58 1-171 1 6 1 111 0 87 1-163 1 164 1-189 0 17 1-3 1-161 1 197 0 22 1 4 1-48 1 84 0 48 1-24 1-42 1 72 1 29 0-124 1-41 1 80 1-45 0 130 1-120 1 38 1-21 0-38 1-26 1 21 1-167 0 159 1-84 1-2 1 135 1 47 0-139 1 186 1 4 1-178 0 76 1-6 1 15 1-118 0 268 1-385 1 227 1-68 0 126 1-99 1-1 1-53 0-12 1 94 1-57 1-162 1 102 0 77 1 124 1-199 1 146 0-24 1-76 1 7 1-214 0 219 1-85 1 146 1-122 0 142 1-88 1 132 1-29 1-27 0-15 1 66 1-13 1-82 0-46 1 113 1-183 1 69 0 21 1 70 1-105 1 75 0 88 1-213 1 71 1 23 0 194 1-144 1-29 1-57 1 17 0 45 1-9 1 238 1-226 0 41 1-57 1-166 1 80 0 11 1 26 1 71 1-3 0-104 1 185 1 35 1-104 1-71 0 22 1 133 1-91 1 29 0 43 1-29 1 48 1 31 0 28 1-47 1 5 1-78 0-1 1 92 1-60 1-12 0 100 1-85 1 3 1 73 1-62 0 132 1-371 1 187 1-76 0 78 1-83 1-16 1 15 0 54 1 72 1-82 1 32 0 67 1-163 1 49 1 9 1-80 0 78 1 14 1-102 1 102 0-3 1-28 1 107 1-112 0 97 1-137 1 82 1 35 0 41 1-112 1-18 1-193 0 257 1-7 1-31 1-84 1 124 0-36 1-101 1-34 1 53 0-8 1 83 1-25 1-45 0-47 1 147 1 46 1-125 0 37 1 240 1-305 1 111 1-77 0 119 1-62 1 90 1-38 0-27 1 15 1-15 1-30 0 4 1-2 1-30 1-13 0 124 1-114 1-21 1-4 0-17 1-37 1 185 1-88 1-62 0-92 1 173 1-5 1 62 0-87 1 198 1-155 1 28 0 69 1-132 1 45 1 146 0-140 1-23 1 37 1 81 1-78 0-47 1 51 1 130 1-128 0-8 1-74 1 73 1 53 0 40 1 37 1-172 1-98 0 197 1 55 1-172 1 164 0-40 1-41 1-118 1 46 1-15 0 36 1 13 1-6 1 43 0 48 1 2 1-99 1 14 0 97 1-165 1 99 1-13 0 39 1 0 1 104 1-101 1-227 0 69 1 20 1 141 1-33 0-45 1-33 1 34 1 58 0 65 1-99 1 11 1 17 0 56 1-182 1 45 1 63 0 47 1-48 1 21 1 78 1-149 0 59 1 51 1-17 1-18 0 68 1 28 1-78 1-37 0-45 1 76 1 5 1 99 0-244 1 79 1-20 1-45 1-4 0 2 1 142 1-84 1-53 0-38 1 54 1 63 1-71 0-23 1-54 1-1 1 49 0-135 1 137 1 17 1 28 0 3 1 38 1-33 1-51 1 27 0 17 1-87 1 18 1 38 0-58 1-57 1 123 1 21 0-33 1 64 1 25 1-161 0 78 1-5 1 81 1-141 1 152 0-64 1-16 1-31 1 13 0 27 1-44 1 22 1 40 0-31 1 17 1-39 1 49 0-51 1-36 1 93 1 5 0-61 1-45 1 32 1-21 1-63 0-1 1 6 1 19 1 113 0-112 1 31 1-17 1-6 0 73 1 10 1 8 1 15 0 120 1-87 1-28 1 51 0 34 1-26 1-22 1 49 1-124 0 96 1-80 1 37 1-27 0 58 1-85 1 57 1 1 0-66 1 10 1 93 1 4 0-178 1 98 1 43 1-94 1 6 0-27 1 35 1 33 1-28 0-60 1 68 1 14 1-12 0-4 1 29 1-5 1 64 0-13 1-36 1-79 1-4 0 34 1 52 1-10 1 94 1-157 0 102 1 20 1-42 1-3 0 19 1 78 1-149 1 83 0 28 1-39 1-69 1-10 0 30 1 38 1-34 1 51 1-24 0 64 1-95 1 39 1-32 0 22 1-55 1 41 1 60 0-130 1-32 1-5 1-26 0 97 1 74 1-9 1-64 0 91 1-28 1-62 1-42 1 38 0 63 1-46 1 13 1 3 0-33 1 63 1-62 1 31 0-102 1 112 1-86 1 56 0-54 1 65 1 35 1-100 1 117 0-50 1 53 1 8 1-104 0 21 1 29 1-12 1 48 0 46 1-126 1-5 1 6 0-79 1 125 1-12 1 4 0 18 1-103 1 67 1 31 1-131 0 72 1 117 1-82 1 18 0-101 1 60 1 54 1 68 0-175 1 107 1-91 1-58 0 136 1-101 1 150 1-86 1 3 0-51 1-10 1 182 1-124 0-70 1 75 1-51 1-68 0 44 1 81 1-32 1 59 0-85 1 101 1-31 1-25 0 117 1-209 1 59 1 45 1-24 0 45 1 29 1-35 1 67 0 30 1-125 1-26 1 83 0-58 1 96 1-117 1 134 0-50 1 4 1 0 1 75 1-32 0-45 1 7 1 52 1-18 0-9 1-98 1-21 1 143 0-50 1 19 1-123 1 105 0-120 1 102 1-13 1-2 0-18 1 50 1-152 1 139 1 30 0-46 1-28 1-13 1 135 0-73 1 31 1-130 1 16 0 24 1 80 1-62 1 139 0-72 1-39 1-71 1 40 1-59 0 54 1-27 1 15 1 31 0-51 1 45 1 37 1-47 0-2 1 129 1-158 1 41 0-106 1 199 1-77 1 31 0 84 1-100 1-19 1 82 1-134 0 115 1-155 1 134 1-15 0-73 1-112 1 170 1-73 0 21 1-8 1 14 1-65 0 42 1-56 1 113 1 80 1-87 0 51 1-76 1 58 1 3 0 1 1-20 1 22 1-88 0 146 1-202 1 106 1-74 0 50 1 151 1-140 1-89 0 148 1-37 1-82 1 94 1 13 0 51 1-66 1-3 1-76 0 15 1-73 1 141 1 47 0-10 1-11 1-11 1 36 0-109 1-29 1 29 1-74 1 81 0 62 1-38 1 84 1-92 0 126 1-145 1-6 1 200 0-90 1 43 1-65 1 61 0-15 1 10 1-62 1 95 0-71 1-59 1-49 1 188 1-46 0-34 1-46 1 14 1-45 0 73 1-80 1 45 1-55 0-3 1 76 1-46 1-43 0 40 1 9 1-21 1-31 1-21 0 92 1-91 1 23 1 95 0-29 1-206 1 174 1-69 0 19 1 74 1 19 1-96 0 130 1-76 1 16 1 95 0-149 1-4 1 42 1-87 1 140 0-108 1 99 1 8 1-52 0-17 1 25 1-42 1-53 0 27 1 124 1-10 1 12 0-68 1 47 1-146 1 162 1-152 0 25 1-16 1 59 1-1 0 37 1 92 1-102 1-11 0-11 1-23 1 31 1-62 0 83 1-48 1 45 1 22 0-56 1 6 1 9 1-13 1-34 0-6 1 73 1 51 1-78 0 42 1 23 1-124 1 48 0 16 1-86 1 75 1 84 0 84 1-167 1-47 1 151 1-38 0 18 1-79 1 142 1-129 0 66 1-16 1-29 1 45 0-54 1-15 1 60 1 75 0-130 1 68 1-102 1 131 0-116 1 55 1 135 1-72 1-146 0-42 1 136 1 24 1 65 0-11 1-42 1-4 1 38 0-63 1 63 1 29 1-221 0 146 1 0 1-17 1-53 0-49 1 42 1-17 1 116 1-57 0 43 1-1 1-34 1 8 0 42 1-88 1-16 1 137 0-98 1 4 1-39 1 33 0 74 1-59 1-74 1 24 1 33 0-207 1 133 1-3 1-31 0 57 1-40 1 60 1-86 0 100 1 84 1-42 1-85 0 22 1-52 1 211 1-178 0 55 1-12 1-20 1-19 1 80 0-52 1 15 1-26 1 72 0-71 1 80 1 24 1-46 0 116 1-162 1 47 1 7 0 85 1-35 1-133 1 50 1 69 0-58 1 57 1-16 1 3 0-74 1-15 1-9 1-19 0 49 1-33 1 98 1-106 0 4 1 133 1-179 1 68 0-32 1 42 1-11 1-2 1 12 0 2 1 37 1-21 1-171 0 143 1-6 1-48 1 41 0-37 1 140 1 44 1-73 0 19 1-42 1-75 1 10 1 63 0-58 1-11 1 42 1 55 0-98 1 31 1-68 1 119 0-18 1-46 1-16 1-82 0 110 1-94 1 55 1 31 0 30 1-103 1 28 1 1 1 12 0-17 1 34 1-14 1 7 0-68 1 124 1-108 1 47 0-50 1 99 1-9 1-96 0 120 1-152 1-49 1 113 1 58 0-30 1-14 1 103 1-82 0 13 1 27 1-31 1 47 0-38 1 26 1 47 1 61 0-77 1-44 1 76 1-30 0-20 1-44 1 15 1-26 1 2 0 43 1-29 1 73 1-80 0 113 1-121 1 46 1 28 0-96 1-36 1 189 1-177 0-27 1 105 1-60 1 54 1-91 0 87 1-40 1 54 1 26 0-12 1 76 1 24 1-164 0 83 1 21 1-74 1 22 0-55 1 75 1-41 1-2 0 64 1 9 1-152 1 190 1-55 0-31 1-63 1 129 1-13 0-152 1 148 1 57 1-70 0-18 1-15 1 46 1-190 0 129 1 29 1 51 1-59 1 72 0-77 1-55 1 37 1 54 0-4 1 43 1-33 1-26 0-64 1 53 1 24 1-123 0-42 1 31 1 87 1-11 0 128 1-186 1 109 1-90 1 8 0 1 1 27 1 30 1-20 0-70 1 145 1-75 1 39 0 37 1-98 1 7 1 108 0-175 1 123 1-25 1-26 1-6 0-13 1-46 1 177 1-146 0-31 1-42 1 122 1 112 0-23 1-124 1 90 1 52 0-101 1-49 1 12 1 3 0 99 1-31 1-51 1 64 1-55 0 67 1-5 1-47 1 36 0 105 1-190 1 14 1 62 0 0 1-36 1 4 1-79 0 132 1-56 1-23 1 63 1 17 0-160 1 165 1-148 1 35 0-29 1 58 1 15 1-58 0 135 1-80 1-60 1-57 0 85 1-86 1 81 1-71 0 156 1-19 1-51 1 80 1-219 0 93 1 1 1 24 1-15 0 37 1-103 1 90 1 9 0-26 1 4 1-47 1 47 0 42 1 102 1-171 1 105 1-78 0 53 1 22 1-45 1 139 0-111 1-33 1-50 1 63 0 13 1 56 1-52 1-20 0 30 1 58 1-87 1 184 0-93 1 22 1-54 1-23 1 66 0-14 1-81 1 18 1 88 0 123 1-136 1-31 1-109 0 38 1-46 1 108 1-33 0 89 1-146 1 74 1-53 1 46 0-30 1-45 1 62 1-59 0 166 1-75 1-69 1 11 0 60 1 30 1-12 1-121 0 124 1-4 1-55 1 91 0-124 1 68 1-85 1-58 1 170 0-218 1 87 1-14 1 21 0-1 1 45 1 154 1-134 0 14 1-64 1-4 1 18 0 145 1-140 1 90 1-155 0 119 1 112 1-162 1-76 1 106 0 56 1-78 1-4 1 29 0-34 1-4 1-36 1 40 0 118 1-179 1 106 1-55 0 13 1 47 1-68 1 139 1-101 0 70 1-57 1-93 1 46 0 18 1 67 1-73 1 76 0-11 1-24 1 19 1-30 0 85 1-39 1 39 1-119 0 7 1-28 1 106 1-111 1 77 0 13 1-50 1 60 1-103 0 43 1 87 1-78 1 152 0-115 1 25 1-130 1 56 0 39 1 1 1-44 1 58 1-45 0 4 1 19 1-29 1 123 0-199 1 76 1 122 1-175 0 45 1-57 1 43 1 96 0-73 1 75 1-15 1-33 0-43 1 27 1-67 1 44 1 17 0-60 1 192 1-100 1 81 0-121 1 76 1-62 1 60 0 14 1-180 1-6 1 120 0 43 1 33 1-98 1-14 1 23 0 102 1-34 1 100 1-160 0 132 1-102 1 30 1-127 0 78 1 63 1-151 1 28 0 20 1 113 1-129 1 158 0-81 1 69 1-149 1 95 1-25 0 13 1-84 1 72 1 82 0-57 1-72 1 104 1-14 0 29 1-80 1 8 1 9 0-97 1 75 1-23 1 13 1 109 0-147 1 69 1-8 1-95 0 106 1-91 1 38 1 14 0-56 1 6 1 55 1 37 0-73 1 42 1 61 1-72 0 15 1-7 1-15 1-66 1 123 0-140 1 193 1-199 1 42 0-121 1 168 1 72 1-40 0 69 1-179 1 33 1 68 0-53 1 61 1 25 1-40 1 99 0-83 1-92 1 132 1 25 0-44 1-40 1 20 1-41 0 67 1-71 1 56 1 6 0-14 1-118 1 95 1-21 0 3 1 71 1 48 1-71 1 27 0-39 1-92 1 73 1-152 0 123 1 11 1 60 1-96 0 2 1 92 1-190 1 138 0-94 1 126 1 49 1-50 1-22 0-82 1 91 1 16 1-50 0-52 1 81 1 4 1 31 0 2 1 25 1 89 1-263 0 159 1 31 1-77 1 88 0-87 1-12 1-41 1 64 1 29 0-16 1-44 1-6 1 29 0-8 1 10 1-83 1 22 0 122 1-67 1 76 1-128 0 126 1-98 1 66 1-133 1 48 0 62 1 64 1-155 1 34 0-9 1 98 1-42 1 68 0-16 1-128 1 105 1-54 0 63 1-5 1 46 1-46 0-26 1-56 1 161 1-6 1-121 0 113 1-127 1-22 1-16 0 17 1 73 1-44 1-22 0-38 1 46 1 54 1-41 0-2 1 7 1 24 1-79 1 173 0-143 1-12 1-50 1 84 0-61 1-19 1-9 1 122 0-3 1-55 1 93 1-154 0 80 1-54 1-61 1 43 0 65 1-73 1 46 1 70 1 0 0-88 1 126 1-63 1-63 0 59 1-15 1 13 1-33 0 59 1-151 1 201 1-162 0 96 1 17 1-69 1-19 1 36 0-41 1 26 1 68 1 39 0-35 1-65 1 100 1-146 0 16 1 59 1-21 1-39 0 115 1-33 1-173 1 109 0 89 1-125 1 42 1 50 1-44 0 67 1-88 1 50 1 52 0 22 1 21 1-148 1 2 0-53 1 29 1 78 1-90 0 18 1 7 1 62 1 9 1-48 0 139 1-40 1-62 1-56 0 105 1-160 1 177 1 0 0-29 1 8 1-74 1 206 0-188 1 151 1-171 1 107 0-58 1 34 1-139 1 127 1-66 0 75 1 20 1-49 1 75 0-32 1-98 1 191 1-202 0 142 1 35 1-141 1-60 0 117 1-10 1-9 1-52 1 68 0-8 1-81 1 109 1-147 0 11 1 13 1 136 1-55 0-94 1 163 1-139 1 127 0-148 1 22 1 91 1-82 0 124 1-185 1 225 1-184 1 91 0 4 1 28 1-68 1 55 0-144 1-206 1 328 1-49 0 49 1 18 1-61 1 34 0 11 1-77 1 33 1-49 0 122 1 92 1 13 1-133 1 28 0-38 1-63 1 93 1-51 0-69 1 96 1-70 1-6 0 66 1-38 1-5 1 40 0-13 1 7 1-84 1 76 1 70 0-22 1 11 1-121 1 122 0-173 1 108 1-23 1-89 0 74 1-23 1 89 1-53 0 1 1 39 1-52 1 10 0-2 1-2 1 19 1-26 1 6 0 30 1-34 1-68 1 52 0 45 1-42 1-33 1-21 0 124 1-96 1 38 1 1 0 15 1-77 1 91 1-62 1-69 0 113 1 13 1-31 1 177 0-81 1-89 1 47 1 120 0-138 1 66 1-16 1-49 0 90 1-115 1 74 1-33 0-1 1 146 1-172 1 50 1-92 0 16 1 56 1 36 1-14 0-120 1 159 1-145 1 104 0-104 1 70 1 19 1 26 0 23 1-108 1 19 1 59 1-74 0 52 1-87 1 112 1-24 0 26 1 37 1-62 1 7 0-43 1-58 1 51 1 82 0-75 1 16 1 8 1-22 0 75 1-170 1 77 1 93 1-120 0 67 1 64 1 11 1-69 0-97 1 39 1-56 1 92 0 51 1 35 1-203 1 138 0-13 1 95 1-87 1-16 1-81 0 50 1 44 1-114 1 176 0-160 1 80 1-48 1-38 0-73 1 103 1-32 1 62 0 7 1-118 1-9 1 65 0 29 1-27 1 65 1 53 1-63 0-40 1 139 1-180 1 80 0-147 1 73 1 56 1-48 0 55 1 6 1 20 1 218 0-269 1 67 1-174 1 112 1 65 0-86 1 75 1-20 1-48 0 35 1 13 1 49 1-137 0 69 1 73 1-26 1 6 0-73 1 10 1 72 1 51 0-79 1-33 1 17 1 92 1-34 0-58 1 38 1 153 1-174 0 80 1-92 1-86 1 65 0 58 1 23 1-24 1-26 0-64 1 218 1-78 1-32 1 72 0-79 1 59 1-93 1-97 0 119 1 22 1-20 1 54 0-24 1-27 1-39 1 26 0 130 1-32 1-83 1 3 0-36 1-39 1 64 1 62 1-87 0-54 1-46 1 110 1-99 0 85 1 54 1-82 1 32 0 107 1-170 1 99 1-90 0 5 1 8 1-73 1 22 1 90 0-48 1 50 1 15 1 14 0-87 1 111 1-176 1 90 0 42 1 67 1-144 1-24 0 61 1 16 1-1 1 36 0 7 1-2 1-46 1 108 1-93 0 6 1 62 1-67 1 56 0 20 1-130 1 72 1 117 0-124 1-31 1-14 1 23 0 66 1-35 1-64 1 53 1-1 0 138 1-74 1-114 1 53 0-103 1 31 1 22 1 28 0-52 1 55 1 39 1-98 0 19 1 36 1-1 1-14 0 86 1-50 1 28 1-17 1-57 0 87 1-141 1 43 1 73 0-116 1 101 1-60 1 33 0-107 1 153 1-106 1 39 0-42 1-20 1 26 1 126 1-76 0 20 1-37 1 98 1-106 0 32 1-17 1-100 1 53 0 25 1 8 1-71 1-34 0 61 1-15 1 27 1-25 0 42 1-77 1 131 1-80 1-4 0 14 1-44 1 2 1 146 0-10 1-59 1 79 1-32 0 19 1-92 1 96 1-67 0-30 1 102 1-31 1 25 1-17 0-120 1 27 1 88 1-37 0 3 1 7 1 19 1-8 0-33 1 61 1 16 1-14 0-10 1-117 1 102 1-31 0 31 1-41 1-18 1-1 1 69 0-11 1-29 1 51 1-34 0-21 1-85 1 106 1-39 0 25 1-88 1 109 1-21 0-48 1 3 1-84 1 120 0-11 1-63 1 57 1 95 1-106 0-72 1 101 1-26 1 10 0-46 1 108 1-117 1 65 0-35 1 4 1 52 1-11 0 46 1-78 1-30 1 67 1 42 0-64 1-28 1-22 1 10 0 57 1 58 1-148 1 57 0 27 1-8 1-41 1-33 0 68 1-14 1-54 1 9 0-46 1 138 1-95 1 56 1 94 0-163 1 16 1-30 1 58 0 9 1-34 1 152 1-155 0 56 1 128 1-106 1-25 0 12 1-33 1 21 1 113 1-61 0 49 1-138 1 98 1 63 0-9 1-74 1-50 1 49 0 4 1-125 1 56 1 47 0-12 1 79 1-39 1-57 0 19 1 54 1-39 1 28 1 39 0-82 1-14 1 126 1-96 0-70 1 35 1 54 1-63 0 91 1 42 1-70 1 112 0-91 1-51 1-9 1-30 1-122 0 97 1 7 1 36 1 45 0-92 1 3 1 29 1-24 0 86 1-2 1-29 1 3 0 17 1-3 1-9 1-71 0 32 1 38 1 7 1 5 1-48 0 68 1-14 1 51 1-61 0 25 1 10 1-26 1-4 0 17 1 10 1-50 1-115 0 95 1 41 1-104 1 124 1-44 0 50 1-46 1 19 1-15 0 85 1-165 1 123 1-22 0-26 1-23 1 12 1 69 0 9 1-55 1-68 1 70 0 32 1 88 1-71 1-64 1-17 0 75 1-80 1 90 1 103 0-192 1 59 1 49 1-53 0 83 1-104 1 120 1-68 0-69 1 12 1-30 1 128 1-119 0 84 1-47 1-12 1 4 0-107 1 84 1-51 1 35 0-68 1 113 1-53 1 42 0-99 1 112 1 5 1-36 0-6 1-72 1 0 1 17 1 40 0-26 1 16 1-16 1-1 0 65 1 58 1-80 1 33 0-35 1-17 1-2 1 4 0 47 1-104 1 36 1 97 1-22 0-43 1 27 1-67 1-50 0 58 1 122 1-67 1-6 0-44 1 106 1-3 1 2 0 52 1-97 1-89 1 156 0-53 1 38 1-131 1 93 1-119 0-22 1 69 1 159 1-216 0 110 1-67 1-32 1 34 0 33 1 75 1-112 1 100 0-19 1 43 1-48 1 36 1-99 0 3 1 122 1-138 1 42 0 63 1-84 1 123 1-80 0 38 1-112 1 60 1 6 0-3 1-22 1-31 1 61 0 4 1-68 1 1 1 88 1-45 0 26 1-4 1 24 1-3 0-2 1 5 1-38 1 23 0 53 1 37 1-137 1-27 0 189 1-75 1 16 1-28 1 13 0-108 1 134 1-8 1-41 0-61 1 10 1 3 1 0 0 3 1 58 1-1 1-57 0 126 1-116 1-36 1-6 0 109 1-74 1-78 1 136 1-63 0 91 1-55 1 42 1-19 0-10 1 112 1-169 1 9 0-44 1 13 1 33 1 29 0 42 1-121 1 103 1-17 1 10 0 31 1-30 1-76 1 19 0 86 1-25 1 49 1-126 0 20 1 5 1 11 1 13 0 67 1-111 1 83 1-76 0 98 1-218 1 168 1-63 1 108 0-126 1 68 1-24 1 40 0 6 1-55 1-13 1 92 0-129 1 98 1 90 1-15 0-147 1 2 1 53 1 15 1 11 0 33 1 189 1-184 1 4 0-172 1 62 1-18 1 115 0-82 1 13 1 145 1-114 0 95 1-123 1-10 1 63 0 28 1-36 1-29 1 26 1 57 0-23 1-4 1-23 1-30 0-94 1 123 1-5 1-64 0 26 1 15 1-81 1 59 0 39 1-54 1 112 1 29 1-44 0-3 1-29 1-5 1-35 0-30 1 4 1-66 1 127 0 51 1-87 1 85 1-87 0 43 1-78 1 1 1 156 0-6 1-27 1-112 1 47 1 93 0-145 1 22 1-34 1 31 0-14 1 40 1-19 1 109 0-44 1-80 1-4 1 0 0 53 1-4 1-36 1 44 0-5 1-22 1-18 1 57 1-83 0 16 1 37 1 41 1-55 0-133 1 158 1 20 1-46 0 15 1-107 1 66 1-22 0-44 1 26 1-23 1 66 1-12 0-6 1-55 1 3 1 100 0-63 1 31 1-131 1 85 0 84 1-89 1 84 1-29 0-80 1 15 1 102 1-90 0 68 1 30 1-28 1-120 1 89 0-29 1-62 1 95 1 57 0-87 1-18 1-53 1 123 0 36 1-37 1-44 1-24 0 73 1 50 1-60 1-73 1 86 0-119 1 178 1-26 1-132 0 129 1-146 1 98 1 39 0-66 1 72 1-98 1 33 0 51 1-286 1 297 1-121 0 86 1-114 1 119 1 39 1 3 0-74 1 63 1-120 1 106 0 13 1 24 1-34 1 25 0 143 1-122 1-175 1 162 0-98 1 102 1-97 1 131 1-145 0 30 1 52 1 40 1-77 0-13 1 137 1-140 1 107 0-64 1 58 1-180 1-41 0 157 1 32 1-100 1 10 0-65 1 74 1-17 1-12 1 84 0 4 1-44 1 65 1-137 0 52 1-51 1 211 1-106 0-42 1-90 1 98 1-72 0 50 1 28 1-9 1-20 1-78 0 59 1-94 1-121 1 219 0 39 1-182 1 128 1 65 0-108 1-2 1 149 1-145 0 92 1 1 1-55 1-5 0-7 1 24 1-240 1 200 1 27 0 134 1-221 1 99 1 89 0-52 1 44 1 6 1-152 0 15 1-21 1 143 1-89 0 21 1 49 1 50 1 29 1-124 0-161 1 165 1 94 1-174 0 47 1 10 1 98 1-160 0-2 1 95 1-49 1 41 0 13 1-65 1 34 1-2 0 30 1-3 1-22 1-80 1 103 0-104 1 48 1 56 1-50 0-104 1 99 1-120 1 74 0 38 1 133 1-136 1-73 0 36 1 107 1-176 1 117 1 59 0 90 1-157 1 61 1 88 0 0 1-161 1 57 1 100 0-63 1 110 1-29 1 18 0-160 1 44 1-116 1 163 0-34 1-18 1 105 1-24 1 50 0-55 1-103 1 32 1 11 0 26 1-91 1 72 1 108 0-95 1-23 1 123 1-200 0 35 1 171 1-53 1-48 1-102 0 67 1-19 1-12 1 62 0-61 1 51 1-31 1-6 0 83 1-54 1 55 1 7 0 89 1-181 1 7 1 27 0 16 1 37 1-10 1 47 1-62 0-36 1-73 1 148 1 44 0-52 1-82 1 35 1-54 0 39 1-21 1 50 1-69 0 143 1-71 1-122 1 75 1-113 0 105 1 127 1-64 1-157 0 135 1-75 1-59 1 128 0 52 1-54 1-9 1 48 0-37 1 29 1-57 1 85 0-109 1-8 1 101 1-52 1 153 0-161 1 8 1-123 1 150 0 13 1-54 1 8 1-8 0-48 1 0 1-64 1-16 0 124 1-8 1-130 1 48 1 109 0-33 1 7 1-11 1-1 0 130 1-197 1 82 1-19 0 149 1-200 1 127 1-30 0 30 1 6 1-36 1 41 0-54 1-39 1-46 1 116 1 0 0 65 1-91 1-104 1 92 0-24 1 26 1-15 1-27 0 48 1-49 1 209 1-152 0-4 1-64 1 100 1-47 1-10 0-32 1 174 1-155 1-51 0 4 1 6 1 100 1-60 0 38 1 19 1 23 1-41 0 38 1 29 1-82 1 38 0-84 1 33 1-42 1 69 1-126 0 211 1-49 1 1 1 89 0-87 1 65 1-189 1-95 0 152 1 39 1 55 1-29 0-77 1 73 1-106 1 39 0 71 1-23 1-94 1 33 1 32 0 59 1-135 1 136 1 91 0-164 1 20 1 52 1-150 0 32 1-7 1 115 1-17 0-67 1-78 1 91 1 64 1-84 0 1 1-4 1 112 1-79 0-13 1-107 1 26 1 141 0-121 1 217 1-269 1 139 0-91 1 126 1-129 1 2 0 68 1-8 1 58 1 95 1-207 0 65 1 8 1 21 1 78 0 24 1-40 1-67 1-30 0 93 1-38 1 91 1-160 0 30 1 17 1-36 1 167 1-95 0 97 1-84 1-6 1-6 0-9 1-82 1 142 1 22 0-69 1 52 1 12 1-93 0 135 1-67 1 41 1-68 0 23 1 4 1-93 1 99 1 33 0-77 1-22 1 30 1-1 0-159 1 230 1-121 1-25 0 24 1 62 1-103 1 30 0 65 1-47 1 32 1 11 1-100 0 40 1 43 1-92 1-23 0-31 1 59 1 161 1-132 0 52 1-16 1-8 1 38 0 21 1-53 1 11 1 35 0-4 1-67 1 48 1-59 1 70 0 40 1 50 1-102 1-58 0 55 1 46 1-143 1 162 0 41 1-50 1-25 1-83 0 111 1-44 1 68 1-95 1 24 0-37 1-58 1 157 1-139 0-68 1 138 1-167 1 121 0-3 1 17 1 39 1-89 0 95 1-44 1 30 1 49 0-95 1-210 1-122 1 270 1-126 0 135 1 80 1-14 1 10 0-45 1 20 1 4 1-82 0 26 1 55 1-100 1 181 0-64 1-30 1 34 1-69 1 24 0 38 1 98 1-14 1-22 0-33 1-49 1-172 1 187 0-12 1-18 1 107 1 11 0 35 1-153 1 28 1-8 0 58 1-63 1-104 1 189 1-43 0-47 1 65 1-29 1-65 0 33 1 25 1 90 1-23 0-13 1-132 1 19 1 58 0-83 1-1 1 122 1-137 1 23 0 51 1-64 1 82 1 4 0 27 1 7 1 6 1-46 0 20 1-87 1 53 1 64 0-99 1 63 1-77 1 77 0 2 1 14 1 10 1 13 1-69 0-17 1 77 1-72 1-27 0 34 1 13 1-52 1-31 0 51 1 93 1-47 1 89 0-108 1-31 1 141 1-219 1 170 0-27 1-45 1 101 1-83 0-61 1-57 1 159 1-262 0 333 1-101 1 11 1-69 0-192 1 320 1-308 1 86 0 103 1 48 1-96 1 15 1 84 0-118 1 208 1-25 1-75 0 72 1-124 1 138 1-100 0-22 1 63 1-107 1 136 0-161 1 110 1-24 1-8 1 50 0 149 1-43 1-78 1 63 0-131 1 82 1-57 1-22 0 34 1 46 1-87 1 108 0-26 1-32 1-36 1 82 0-32 1-8 1 19 1-29 1 100 0-109 1-1 1 104 1-147 0 141 1-166 1-7 1 60 0 112 1-254 1 38 1 44 0-22 1 97 1-125 1 43 1-79 0 128 1 19 1 63 1-113 0 44 1-3 1 47 1-20 0-121 1 87 1-6 1-101 0 166 1-80 1-21 1 76 0-61 1 81 1-136 1 87 1-29 0 64 1 93 1-58 1-114 0 80 1-46 1 50 1-42 0 70 1-19 1-75 1 20 0-10 1-104 1 175 1 97 1-27 0-114 1-20 1 178 1-80 0-109 1-32 1 145 1-119 0 109 1-82 1 0 1-41 0 31 1 39 1 52 1-63 0 20 1-139 1 49 1 195 1-113 0-4 1 109 1-166 1-162 0 233 1 29 1-27 1-172 0 45 1 152 1-184 1 145 0-35 1-111 1 214 1-140 1 15 0 10 1 156 1-209 1-2 0 69 1-2 1 9 1-146 0 110 1 9 1 101 1-150 0 191 1 83 1-165 1 81 0-59 1-59 1 160" stroke="#ff0000"/>
<path d="M343 3867l1-64 1-107 0 283 1-130 1 183 1-33 0-128 1 23 1 28 1 33 0-12 1-47 1 69 1-67 0-15 1 6 1-20 1 22 0 51 1 3 1-45 1-47 1 49 0 52 1-28 1 104 1-32 0-21 1-20 1 2 1-3 0 52 1 44 1-134 1 110 0-41 1-55 1-93 1 49 1-51 0 9 1 81 1-7 1 62 0-114 1 38 1 3 1-11 0-101 1 115 1-13 1-55 0 99 1 4 1-40 1-66 0 106 1-24 1-57 1 39 1 96 0-42 1 56 1-100 1 20 0-52 1-85 1 135 1-26 0 9 1 120 1-103 1-8 0-62 1 42 1 41 1-104 1 31 0 46 1 5 1-35 1-43 0-36 1 130 1-111 1 62 0-3 1-34 1 161 1-188 0 130 1-36 1 13 1-145 0 0 1 55 1 10 1 56 1-19 0-69 1-73 1 145 1 14 0-10 1 7 1-42 1 30 0-142 1 118 1-58 1 64 0-21 1-48 1 44 1 31 1 31 0 26 1-142 1 106 1 12 0-73 1 94 1 28 1-42 0 42 1-94 1 50 1-88 0 54 1-3 1 39 1 18 0-48 1-3 1-83 1 52 1 59 0-74 1 46 1-85 1 176 0-48 1 11 1-35 1 13 0 190 1-102 1-87 1-67 0-3 1 83 1-50 1 73 1 36 0-157 1 21 1 35 1-17 0-55 1 29 1 31 1-34 0 12 1 21 1 17 1-67 0 75 1 44 1-153 1 34 0 32 1 23 1-15 1 82 1-72 0-9 1 27 1 67 1-36 0-47 1 84 1-65 1 22 0 44 1-40 1-19 1 36 0-81 1 88 1-74 1 18 1 53 0-105 1 153 1-98 1 37 0-55 1 133 1-26 1-25 0-30 1-8 1-8 1 9 0 20 1 24 1-49 1-51 0-23 1 72 1-71 1 116 1-103 0-1 1 35 1 45 1-8 0-15 1-105 1 111 1-63 0 24 1 16 1-3 1-7 0 99 1-51 1-3 1 53 1-59 0 51 1-89 1 60 1-19 0-37 1-18 1 78 1 6 0-87 1 189 1-206 1 16 0 207 1-202 1 43 1-16 0 122 1-2 1-109 1 2 1-7 0-15 1 136 1-141 1 7 0-35 1 29 1-28 1-24 0-76 1 141 1-140 1 114 0 30 1 31 1-103 1 111 1-125 0 43 1 42 1 11 1-39 0 23 1-32 1 31 1 25 0-54 1 84 1-101 1 114 0-25 1-7 1-39 1 87 0-155 1 7 1 103 1-46 1-94 0 71 1 71 1 65 1-28 0-129 1 32 1 88 1-87 0 55 1 83 1-74 1 7 0-115 1 98 1-15 1-91 1-6 0 126 1-138 1 59 1 127 0-170 1 152 1-104 1 92 0 4 1-126 1 31 1 27 0-14 1 8 1 7 1 50 0-87 1 4 1 3 1 46 1-12 0 72 1-68 1 37 1-135 0 108 1-33 1-23 1-37 0 16 1 12 1-112 1 118 0 51 1-201 1 190 1-84 1 34 0 98 1-7 1-85 1 112 0-63 1-67 1 171 1-143 0 74 1-1 1-6 1-29 0-67 1 17 1-84 1 96 0 9 1-101 1 113 1 38 1-50 0 79 1-176 1 50 1 34 0 50 1-12 1-35 1-35 0 75 1-3 1-71 1 51 0-23 1-4 1 56 1-34 1-55 0 71 1 2 1-27 1-9 0-97 1 178 1-48 1-112 0 126 1-22 1 99 1-130 0 10 1-1 1 36 1-31 0 19 1-50 1 53 1-45 1 112 0 51 1 35 1-136 1-54 0 54 1-129 1 158 1 66 0-89 1-25 1 2 1 58 0-21 1-162 1 118 1-44 1 114 0-45 1-35 1 48 1 29 0-19 1-12 1-27 1-28 0 107 1 52 1-114 1-4 0-32 1-17 1 103 1-155 0-24 1 223 1-138 1 49 1 1 0 86 1-51 1-22 1 12 0-55 1-43 1-10 1 20 0 67 1-93 1 77 1-42 0 40 1 58 1 47 1-30 0-37 1-35 1-36 1 13 1 94 0-105 1-2 1 58 1 5 0 39 1-147 1 105 1-67 0-10 1 68 1-62 1 11 0-138 1 64 1 62 1-3 1-14 0 77 1-31 1-13 1-25 0-3 1-41 1 169 1-44 0 75 1-55 1 52 1-140 0 23 1 82 1-75 1-18 0-40 1 35 1 28 1 14 1-39 0 26 1 50 1 45 1-123 0 88 1-18 1-63 1 35 0-63 1 106 1-94 1 109 0 4 1-23 1-67 1 54 1 23 0-125 1 113 1-30 1-25 0 25 1-135 1 62 1 54 0-51 1 6 1 115 1-76 0-35 1 24 1 20 1 28 0-45 1 10 1 167 1-133 1-30 0-29 1 67 1 36 1-68 0-16 1 145 1-40 1-59 0 93 1-103 1-70 1 87 0-58 1 51 1-80 1-6 1-27 0 64 1-55 1 30 1 45 0-105 1 124 1-31 1-119 0 91 1 99 1-47 1 51 0-22 1 78 1-94 1 72 0-99 1-14 1-27 1-61 1 202 0-16 1-19 1-12 1-89 0 57 1 32 1 19 1-42 0-2 1-27 1 86 1-74 0-18 1 5 1 99 1-84 1-7 0 1 1 83 1 3 1-81 0 57 1 9 1-132 1 11 0 8 1-38 1 35 1 90 0-137 1 63 1-32 1-57 0 61 1-71 1 78 1 22 1 5 0-39 1 75 1-66 1 21 0 12 1 99 1-4 1-136 0 89 1-107 1 92 1-45 0 43 1 12 1-34 1-27 1-57 0 39 1 120 1-80 1 14 0 81 1-119 1-56 1 107 0-75 1-15 1 124 1-290 0 132 1 70 1 9 1 2 0-29 1 36 1 79 1-83 1 18 0 6 1 38 1 5 1 45 0-134 1 157 1-94 1 23 0 47 1-115 1 172 1-204 0 82 1-36 1 34 1-50 1-4 0 63 1-25 1-88 1 129 0-127 1 131 1 9 1 60 0-52 1 56 1-79 1-64 0 49 1 13 1 5 1 77 0-45 1-10 1-161 1 91 1 44 0-86 1-44 1 107 1-26 0-69 1 131 1-149 1-74 0 161 1 102 1-211 1 2 0 33 1-38 1 90 1 85 1-126 0 56 1-38 1-7 1 23 0 21 1 100 1-100 1 85 0-50 1 49 1-142 1 48 0 7 1-69 1-77 1 144 0 89 1-140 1 38 1-6 1-111 0 127 1-27 1-41 1 22 0 45 1-198 1 121 1-37 0 105 1-11 1-37 1 47 0 8 1 22 1 15 1 23 1 7 0-63 1 33 1 64 1-68 0-79 1 5 1 172 1-63 0-81 1 38 1-2 1 28 0-27 1 63 1-109 1 101 0-49 1-88 1 29 1 71 1-3 0 18 1 3 1-28 1-70 0 98 1-58 1 6 1-6 0 42 1-43 1 47 1 12 0 37 1 97 1-156 1 1 1 81 0-46 1-19 1 74 1-102 0-15 1 2 1 8 1 152 0-139 1 50 1-75 1 0 0-2 1 57 1-147 1 157 0 27 1-123 1 114 1-172 1 40 0 5 1 11 1 45 1 99 0-32 1-59 1 31 1-38 0 50 1 13 1-64 1-23 0 25 1 59 1 61 1-187 1 139 0-20 1-6 1-93 1 80 0-71 1 18 1 73 1-69 0 13 1-39 1 11 1 40 0 29 1-30 1-16 1-51 0 135 1-31 1-135 1 34 1-5 0-17 1 7 1 17 1-28 0-24 1 32 1 9 1 61 0-45 1 75 1-7 1-31 0 1 1-41 1 0 1 35 0 38 1-22 1-2 1-110 1 64 0 58 1 11 1-116 1 116 0-67 1 12 1-47 1 104 0-26 1-40 1-31 1-30 0 60 1 15 1-58 1 110 1-65 0 62 1 25 1 17 1 16 0-117 1-3 1-55 1 28 0 49 1 14 1 41 1-73 0 1 1-131 1 203 1-47 0 173 1-256 1 64 1-50 1 27 0-14 1 15 1-66 1 91 0-61 1 28 1 70 1 108 0-121 1-26 1 53 1-86 0-33 1 48 1 112 1 42 1-164 0-25 1 117 1-37 1 38 0 11 1-71 1 98 1-67 0-46 1 97 1-200 1 253 0-127 1 37 1-123 1 57 0 112 1-113 1 151 1-104 1 65 0-126 1 68 1-58 1 34 0 49 1 67 1-198 1 166 0-16 1-44 1-70 1 114 0-205 1 123 1 10 1-91 1 52 0 67 1-109 1 22 1-24 0 96 1 16 1-93 1 72 0 91 1-70 1-52 1 89 0-125 1 94 1-23 1 69 0-40 1-36 1-25 1 19 1-41 0 163 1-115 1 23 1 64 0-43 1 27 1-66 1 35 0-25 1 97 1-110 1 44 0-69 1 92 1 17 1-24 1 36 0 24 1-59 1-89 1 96 0-13 1 28 1-50 1 79 0-165 1 79 1-47 1 107 0-82 1 42 1-93 1 45 0 12 1-38 1 153 1-137 1 56 0 84 1-99 1 23 1 49 0-23 1-64 1 71 1-16 0-129 1 132 1-75 1-3 0-38 1 10 1 188 1-120 1-102 0 89 1-130 1 95 1 88 0-91 1-77 1 186 1-104 0 72 1-16 1-37 1-21 0 10 1 2 1-116 1 180 0 47 1-130 1 21 1 105 1-171 0 128 1 27 1-94 1-84 0-19 1 203 1-10 1-35 0-11 1-4 1 35 1 36 0-62 1-67 1-12 1 118 1-178 0 39 1 60 1-8 1-15 0-135 1 134 1 43 1-29 0 29 1-95 1 169 1-73 0-108 1 23 1 26 1-35 0 111 1-73 1 80 1 11 1-90 0 73 1 25 1-120 1 80 0-78 1-74 1 131 1-62 0 14 1 110 1-4 1-74 0 123 1-109 1-5 1-13 1 94 0-127 1 79 1-151 1 114 0 5 1 34 1-64 1 80 0-76 1-8 1 79 1 12 0-14 1-103 1-33 1 61 0-56 1 4 1 71 1 65 1 44 0-49 1-60 1 34 1-29 0-15 1 118 1-217 1 76 0 18 1 46 1-50 1-26 0-71 1 47 1 27 1-54 1 160 0-40 1 43 1-46 1-58 0 17 1 12 1-38 1 26 0 67 1 87 1-126 1 17 0 84 1-49 1 105 1-106 0-81 1 94 1-111 1 68 1 50 0 57 1-115 1 4 1 118 0-71 1-74 1 79 1-56 0 103 1-59 1-90 1 93 0-51 1 42 1-68 1 70 1-62 0-8 1-47 1 94 1-109 0 55 1 45 1-33 1-50 0 47 1 6 1 37 1-35 0 32 1 7 1-3 1-73 0 167 1-60 1 61 1-130 1-10 0-8 1 93 1-14 1-16 0 29 1-13 1 16 1-8 0 28 1-34 1 93 1-64 0 41 1-61 1 22 1-64 1-44 0 122 1-22 1-48 1-66 0 44 1 24 1 34 1 9 0-45 1 14 1 104 1-81 0 35 1-35 1-26 1 36 0-87 1 92 1-48 1-42 1-30 0 43 1-47 1 91 1 10 0-103 1 95 1-42 1 84 0-136 1 15 1 64 1 34 0-102 1 2 1-59 1-47 1 84 0 21 1 12 1 0 1 67 0-21 1-143 1 192 1 5 0-125 1 96 1-77 1-12 0 53 1-50 1 113 1-23 0-40 1-6 1 6 1 16 1 24 0-13 1-13 1 12 1-68 0 104 1-71 1-68 1 75 0-63 1 88 1 12 1-29 0-66 1 89 1-83 1 11 0 23 1 40 1 53 1-184 1 140 0-18 1 88 1-28 1 10 0-6 1-11 1-51 1 30 0-5 1-36 1-147 1 132 0-16 1-50 1-3 1 101 1 98 0-45 1-111 1 90 1 68 0-80 1-112 1 86 1 39 0 7 1 13 1-200 1 148 0-9 1-38 1-6 1 126 0 37 1 62 1-167 1-100 1 116 0 54 1-48 1 20 1-9 0-59 1-3 1 79 1-98 0 46 1-22 1 37 1-46 0-6 1 3 1 82 1-71 1 45 0-30 1-51 1-40 1 118 0 11 1-56 1-63 1 64 0-137 1 237 1-187 1 17 0 15 1 111 1-111 1-1 0-2 1 70 1-15 1-92 1 37 0 28 1 43 1 29 1-13 0-97 1 34 1 106 1-93 0-40 1 61 1 89 1-33 0-84 1 113 1-48 1-93 1 77 0 9 1-62 1-46 1 61 0 88 1 19 1-61 1 82 0-86 1-64 1 177 1-118 0-33 1 49 1-54 1-119 0 103 1-98 1 119 1 75 1 24 0 14 1-93 1 20 1-16 0-2 1-71 1-84 1 88 0 92 1-2 1 41 1-40 0-62 1 57 1-36 1-153 1 128 0 70 1-8 1-76 1-51 0 81 1-62 1 40 1 68 0-106 1 77 1-127 1 128 0-12 1 8 1-16 1-114 0 106 1-64 1 22 1-60 1 78 0-64 1 16 1 83 1-141 0 51 1 39 1 37 1 6 0 1 1-30 1 66 1-63 0 49 1-128 1 56 1-51 1-20 0 93 1-72 1 76 1-29 0 73 1-40 1-59 1 58 0 40 1-22 1 38 1-5 0 36 1-138 1-13 1-40 0 171 1-38 1-103 1 181 1-31 0-5 1-77 1 112 1-75 0 61 1-26 1 49 1-7 0-39 1 2 1-96 1 39 0-106 1 85 1 19 1-8 1-133 0 82 1 85 1-22 1 43 0-55 1 65 1-9 1-128 0 19 1 25 1-2 1 45 0 128 1-142 1 48 1-96 0-62 1 47 1 145 1-81 1 12 0-56 1 143 1 5 1-47 0-27 1 103 1-86 1 9 0-54 1 70 1 31 1-18 0-13 1-48 1 150 1 25 1-256 0 95 1 31 1-122 1 181 0-22 1-22 1-65 1 53 0-70 1 55 1-84 1 55 0 104 1 16 1-47 1-53 0-7 1-109 1 127 1 89 1-91 0 79 1-155 1 49 1-102 0 164 1 27 1-68 1 90 0-20 1-27 1-39 1 67 0 40 1-190 1 116 1-24 1-31 0-12 1 74 1-24 1-117 0 36 1 29 1-63 1 176 0-90 1 26 1 98 1-111 0-12 1 0 1 107 1-82 0-20 1 16 1-35 1-2 1-64 0 74 1-125 1 123 1-20 0-22 1 43 1 1 1-87 0 169 1-147 1-83 1 68 0 4 1 16 1 96 1-19 1-23 0 27 1-117 1 36 1 19 0-16 1 36 1 48 1-147 0 59 1-8 1 5 1-125 0 112 1 23 1 4 1 72 0-89 1 21 1 1 1 118 1-93 0-30 1 4 1 269 1-109 0 5 1-66 1-70 1 20 0-46 1 58 1 27 1-71 0 36 1 52 1 38 1-248 1 160 0-6 1 101 1-35 1-56 0-24 1-27 1 86 1 27 0-197 1 173 1-17 1 94 0-40 1 33 1-108 1 45 0-96 1 78 1-30 1 13 1 10 0 67 1-164 1 90 1 91 0-182 1 137 1-112 1 22 0-18 1-44 1 161 1 51 0-52 1-59 1 167 1-132 0-70 1 102 1-46 1 28 1-153 0-8 1 157 1-13 1-63 0-51 1 17 1-23 1-13 0-16 1-25 1 99 1 153 0-133 1-132 1 81 1 6 1-32 0 9 1-61 1 160 1-83 0-16 1-4 1 69 1 77 0-74 1 32 1-30 1-6 0-28 1 97 1-25 1-41 0-56 1 61 1-11 1 82 1-42 0 11 1-51 1 36 1 34 0 15 1-153 1 135 1-95 0 57 1 6 1-53 1 102 0-96 1 83 1-77 1 71 1 20 0 67 1-89 1-39 1 97 0-164 1 86 1 65 1-160 0 136 1-114 1 205 1-254 0 102 1 0 1-38 1 103 0-113 1 20 1-50 1 114 1 29 0-89 1-19 1 33 1 24 0 11 1-68 1-35 1 99 0 21 1-188 1 208 1-90 0 24 1-91 1 72 1 91 1 78 0-172 1 10 1 45 1-18 0 137 1-89 1-29 1 9 0-29 1 46 1-142 1 166 0-141 1 25 1-28 1 20 0 157 1 22 1-141 1-26 1 22 0 67 1-124 1 72 1 22 0-34 1 46 1 4 1-46 0-150 1 113 1 5 1 18 0-38 1 88 1-87 1 25 1 11 0-17 1 30 1-46 1 26 0-2 1 113 1-127 1 63 0-80 1 86 1-70 1 51 0 26 1 46 1-93 1 25 0 13 1-32 1 15 1 50 1 6 0-95 1 14 1-75 1-17 0 57 1 2 1-4 1 31 0 36 1 93 1-181 1 110 0-92 1-2 1-49 1 8 1-74 0 132 1-37 1-9 1-72 0 164 1-77 1 86 1-15 0-152 1 143 1-15 1 0 0-85 1 72 1 62 1-105 0-37 1 66 1-8 1 47 1-5 0-29 1 47 1-32 1 22 0-34 1-54 1 36 1-182 0 156 1 30 1 48 1-122 0 148 1-44 1 45 1 16 1-11 0 44 1-110 1 38 1-28 0-67 1 161 1-103 1-4 0-29 1-80 1 180 1-66 0 11 1-73 1-10 1 99 0-97 1 77 1 88 1-94 1-44 0 210 1-192 1 118 1-132 0 73 1-2 1-78 1 90 0-136 1 143 1-8 1 36 0-92 1 15 1-155 1 83 1 21 0-22 1 7 1 58 1 32 0 11 1-103 1 61 1 32 0-13 1-14 1-31 1 1 0 40 1-85 1 223 1-178 0-158 1 132 1-43 1 65 1-24 0 32 1 44 1-62 1-30 0 175 1-71 1 70 1-62 0 14 1-32 1 135 1-182 0-17 1 98 1-9 1-57 1 63 0-10 1 27 1-88 1 34 0 48 1 29 1-15 1-77 0 55 1 33 1-58 1-76 0-26 1 1 1 56 1 8 0-2 1-24 1-1 1 94 1 3 0-36 1-52 1 80 1 25 0-96 1-36 1 124 1-53 0-70 1 78 1-79 1 129 0-65 1-42 1-39 1 24 1 145 0 55 1-87 1-89 1 10 0-30 1 20 1 178 1-42 0-39 1-81 1 136 1-73 0-16 1-60 1 101 1-54 0 55 1-110 1 75 1 8 1 29 0-14 1 5 1-5 1-96 0 120 1-78 1-21 1 114 0 49 1-138 1 109 1-42 0-35 1 75 1-46 1 14 1-78 0 40 1-94 1 142 1-67 0 12 1-22 1 14 1-2 0-92 1 119 1-40 1 21 0 41 1-74 1 134 1-142 0 126 1-57 1-23 1 38 1 2 0-72 1-44 1 48 1 38 0 29 1 15 1-92 1 17 0-7 1 10 1-9 1 90 0 20 1 1 1-52 1 4 1-6 0 63 1-72 1-25 1 30 0 122 1-109 1 3 1-85 0 91 1-34 1 58 1-35 0-32 1 53 1-18 1 2 0-28 1 31 1-39 1 95 1-73 0-55 1 15 1 78 1-9 0-54 1-8 1-10 1 20 0 0 1-35 1 92 1 126 0-209 1 84 1-58 1 61 0 25 1-112 1 90 1 55 1-48 0-3 1 0 1-1 1 38 0-38 1-32 1 9 1-26 0 80 1 54 1-151 1 103 0-123 1 85 1-29 1 20 1 37 0-51 1-91 1-15 1 118 0-32 1 103 1-84 1-16 0 46 1-94 1 39 1 7 0 73 1-106 1 20 1 57 0 58 1-59 1-73 1 34 1-33 0 46 1-72 1 205 1-70 0-146 1 27 1 45 1 38 0-19 1 30 1-9 1 35 0-101 1 12 1 54 1-51 1 54 0-25 1-25 1-58 1 178 0-57 1-48 1 3 1 115 0-28 1-29 1 23 1-2 0-29 1-4 1-49 1 118 0-127 1 63 1-33 1 28 1-108 0 186 1-131 1 80 1 9 0-61 1 65 1-56 1-31 0 84 1-105 1 78 1 1 0-14 1-63 1 53 1-27 1-9 0 45 1 89 1-57 1 13 0-26 1-42 1 47 1 4 0 4 1-72 1 40 1 82 0-23 1-91 1 51 1 21 0-85 1 93 1-100 1-25 1 22 0 32 1 12 1-20 1-110 0 170 1-33 1 31 1 28 0-78 1-60 1 90 1-95 0 15 1 14 1-54 1 93 1-99 0 89 1-41 1 93 1-111 0 53 1 29 1 10 1-42 0-42 1 24 1 37 1 11 0 33 1-32 1 67 1-42 0-67 1 40 1 16 1 28 1-53 0 4 1-25 1 72 1 13 0-19 1 30 1-70 1-1 0 25 1-37 1-54 1 24 0 64 1-38 1-5 1-10 1 55 0 47 1-76 1 63 1-16 0 0 1-67 1 59 1-23 0 14 1 11 1-63 1 73 0-44 1 10 1 84 1 2 0 39 1-128 1 14 1 22 1 4 0-13 1 66 1-87 1-9 0 29 1-105 1 33 1 75 0-113 1-5 1 48 1 0 0 87 1-4 1 62 1-44 1-61 0 52 1 42 1-135 1-12 0 98 1 30 1-104 1 91 0-73 1 11 1-33 1 75 0-13 1 37 1-46 1 50 0-17 1 44 1-143 1 154 1-93 0-32 1-15 1 107 1 16 0-106 1-6 1-33 1 33 0-45 1 50 1 54 1-67 0 81 1-14 1-38 1 21 1-49 0 41 1-107 1 128 1-69 0 102 1-155 1 84 1-53 0 157 1-34 1-166 1 72 0-4 1-35 1-56 1 145 0-40 1 11 1-44 1 60 1 52 0-61 1-24 1 18 1-7 0 106 1-38 1-20 1-70 0 26 1 14 1 23 1-40 0 35 1-54 1-37 1 69 1 74 0-159 1 77 1 12 1 9 0-1 1-6 1-12 1 78 0-43 1-34 1-5 1 65 0-60 1 92 1-35 1-28 0-36 1 13 1-97 1 111 1-5 0 63 1-128 1 89 1 0 0 25 1-32 1 29 1-65 0 78 1-19 1 7 1-63 0 11 1-27 1 9 1 13 1 16 0 58 1-63 1 10 1 81 0-52 1 5 1 46 1-148 0-109 1 100 1 17 1-36 0 147 1-132 1 143 1-101 0 90 1-111 1 5 1-2 1 54 0 11 1 12 1-25 1 30 0 69 1-114 1 86 1-28 0-1 1-13 1-58 1 57 0 34 1-31 1 5 1 19 1-103 0-9 1 108 1-127 1-14 0 139 1-89 1 21 1-35 0 158 1-153 1 47 1 35 0-97 1 137 1-99 1-3 0-30 1-10 1 25 1 74 1-78 0 61 1-68 1 40 1 5 0-7 1 67 1-113 1 87 0-92 1-15 1 38 1 118 0-107 1 24 1-2 1-127 0 116 1 23 1-23 1-18 1-51 0 75 1 61 1-32 1-101 0 154 1-75 1-72 1 39 0 15 1 35 1-47 1-93 0 96 1-26 1 42 1-51 1 44 0-36 1 59 1-91 1 42 0 15 1 73 1-53 1 60 0-42 1-31 1 49 1-115 0 49 1-52 1 66 1 75 0 40 1-92 1-48 1-31 1 50 0 51 1 7 1-12 1-6 0-23 1 27 1-78 1 93 0-18 1-21 1-7 1 59 0 48 1-13 1-74 1-18 1 23 0-20 1-39 1 89 1-146 0 84 1 2 1 32 1-22 0 70 1-68 1 30 1-15 0 5 1-99 1 125 1-45 0 37 1-95 1 22 1 114 1-22 0-56 1 38 1-28 1 21 0 50 1 20 1-108 1 30 0-26 1-11 1 17 1-59 0 27 1 3 1 45 1-39 1-28 0-5 1 12 1-2 1 11 0 19 1-61 1-7 1-51 0 75 1-7 1 104 1-55 0-18 1-28 1 3 1 44 0 49 1-145 1 86 1 8 1 89 0 9 1-18 1 29 1-99 0 28 1-94 1 18 1 28 0 71 1-68 1 7 1 79 0 5 1-28 1-88 1 56 1 43 0-63 1-18 1 73 1-59 0 46 1-92 1 2 1 67 0-18 1-14 1 23 1-70 0 33 1 72 1-67 1 55 0-47 1-22 1 21 1-68 1 44 0-28 1-35 1 44 1 28 0 3 1 19 1-13 1-62 0-17 1 18 1 148 1-49 0-44 1 21 1 76 1-127 1 55 0-76 1 8 1-32 1 103 0-111 1 129 1-116 1 30 0 20 1 70 1-108 1 35 0 117 1 37 1-83 1 12 0-73 1 36 1-16 1 53 1-78 0 65 1 44 1 45 1-133 0 51 1 50 1-45 1-18 0-45 1 120 1-84 1 21 0-58 1-15 1-56 1 113 1-2 0-71 1-23 1 52 1 18 0 38 1-78 1 5 1 74 0-17 1 25 1-68 1 31 0-56 1-18 1 51 1-35 0-2 1-25 1 87 1-49 1-59 0 54 1 43 1-20 1-88 0 131 1 18 1-57 1 45 0 55 1-2 1-62 1 29 0-89 1 96 1 27 1-14 1 13 0-127 1 92 1-100 1 54 0-65 1 107 1-48 1 131 0-57 1 21 1-73 1 56 0-46 1 62 1 32 1-49 0-65 1 77 1-80 1 77 1 18 0-14 1 6 1 17 1-33 0 35 1 21 1-108 1 33 0 47 1 13 1 41 1-95 0 52 1-112 1 153 1-95 1-34 0 57 1-105 1 35 1 3 0 75 1-90 1-9 1 24 0-67 1 39 1 111 1-108 0 48 1-16 1-73 1 62 0-33 1 109 1-39 1-61 1 14 0 51 1-112 1 27 1 49 0 68 1-109 1 37 1-55 0-19 1 65 1-13 1-41 0 62 1 74 1-88 1 28 1 24 0-58 1 43 1 1 1-54 0 86 1 17 1-57 1 55 0-98 1 67 1 46 1-66 0 88 1-158 1 66 1-25 0-4 1 15 1 62 1-82 1 56 0 12 1 47 1-155 1 75 0 8 1 50 1-123 1 35 0-61 1 59 1 26 1-67 0 88 1-13 1-66 1-33 1-19 0 58 1 0 1 5 1 5 0 19 1-47 1 44 1-12 0-61 1 44 1 48 1-48 0 27 1-26 1 76 1-21 0 75 1-179 1-9 1 9 1 32 0 5 1 22 1-21 1 41 0 49 1-100 1 8 1 19 0 24 1 14 1-24 1 1 0 73 1-46 1 33 1-90 1 55 0 56 1-15 1-52 1 56 0-119 1 49 1 125 1-103 0-7 1 63 1-40 1-9 0 29 1-17 1-18 1 28 0-22 1 52 1-78 1 51 1-91 0-43 1 12 1 81 1-75 0 93 1-91 1 127 1 26 0-43 1 25 1-78 1 25 0 17 1 13 1 12 1-54 0 32 1 0 1-83 1 63 1 16 0-2 1-62 1 71 1 2 0-74 1-4 1-90 1 176 0-56 1 41 1-45 1 78 0-62 1-128 1 91 1 109 1-137 0 42 1 23 1-7 1 13 0-61 1 42 1 60 1-21 0-109 1 26 1 26 1 65 0-56 1-24 1 21 1-36 0-24 1 11 1 37 1-8 1 78 0-39 1-44 1-37 1-36 0 51 1 51 1 43 1-61 0 10 1 75 1 4 1-38 0-23 1 17 1 87 1-92 1 62 0-31 1 86 1-114 1 31 0-73 1 164 1 5 1-119 0 3 1 109 1-99 1-21 0-28 1 61 1 170 1-76 0-183 1 76 1 77 1-113 1 71 0-12 1 34 1-27 1 36 0-31 1-60 1 49 1 27 0-107 1 16 1 62 1 80 0-129 1-11 1 69 1-91 1 85 0-22 1 11 1-17 1 11 0-65 1 76 1-39 1 19 0-1 1 46 1-34 1-63 0 18 1 88 1-102 1 82 0-21 1-2 1 34 1-70 1-23 0 27 1 8 1-24 1 40 0-74 1-56 1 176 1-77 0 6 1-6 1 11 1 58 0-63 1 10 1 5 1 6 1 14 0-122 1 168 1-33 1 46 0-46 1-89 1 73 1 92 0-52 1-75 1 41 1-65 0 47 1-21 1-27 1 61 0-106 1 110 1-58 1-13 1-87 0 87 1-23 1 121 1-95 0-10 1-47 1 85 1-59 0-96 1 164 1 39 1-42 0-17 1-77 1 51 1-122 1 177 0-32 1-8 1 48 1-54 0 71 1-64 1 80 1 29 0-139 1-38 1 89 1-109 0 63 1 29 1 130 1-107 0 13 1 24 1-61 1 34 1 8 0 58 1 1 1-74 1 42 0 30 1-39 1 20 1 11 0-7 1-46 1 23 1 47 0-7 1-47 1 52 1-55 1 8 0 49 1 56 1-68 1-19 0 15 1-56 1-34 1 75 0-26 1 24 1-92 1 95 0 2 1-20 1-76 1 75 0 16 1-51 1-15 1 64 1-47 0 63 1-93 1 110 1-44 0-10 1 19 1-31 1-21 0 48 1-121 1 81 1-12 0 62 1-28 1-40 1 84 1-5 0-15 1 24 1-87 1 62 0-94 1 129 1-42 1-25 0 47 1 46 1-62 1-32 0 106 1-105 1 96 1-90 0-56 1 54 1-10 1 38 1 7 0-63 1 57 1-46 1 73 0-59 1 11 1 97 1-98 0-45 1-6 1 3 1-40 0 131 1-39 1-89 1-53 1 97 0-71 1 66 1 56 1-22 0-55 1-18 1 33 1 21 0-28 1-55 1 72 1 45 0-32 1 56 1-57 1-12 0 27 1 22 1-26 1 81 1-129 0-32 1 112 1 107 1-75 0 29 1 22 1-84 1-5 0 19 1-70 1 41 1 34 0-53 1 73 1-90 1 97 1-42 0 28 1 14 1-29 1-8 0-66 1 46 1 86 1-55 0-42 1 58 1 97 1-117 0 43 1-20 1 19 1-20 0-18 1 99 1-53 1 72 1-14 0-32 1-73 1 83 1-17 0-31 1 41 1 27 1 18 0-99 1 72 1-49 1-15 0 59 1-55 1 3 1 3 1 32 0-52 1 1 1 2 1-12 0 37 1 25 1-15 1-73 0 75 1-19 1-25 1 24 0 24 1 38 1-98 1 73 0 48 1-44 1-24 1 68 1-70 0 1 1-3 1 27 1 44 0 19 1-56 1 7 1-10 0 8 1-31 1 13 1 61 0-88 1 77 1 5 1-62 0-22 1 43 1 5 1 4 1 3 0-63 1 35 1-12 1-2 0 120 1-94 1-22 1 12 0 52 1-30 1-48 1 9 0 0 1 47 1-50 1-42 1 43 0-45 1 4 1 8 1 44 0-9 1 9 1-68 1-4 0 74 1 18 1-49 1-34 0 38 1-21 1 7 1 12 0-43 1 61 1-15 1 31 1-52 0 85 1-25 1 12 1-61 0-11 1 64 1-16 1 24 0 36 1-20 1-46 1-5 0 47 1-41 1-29 1-17 1 35 0 47 1 22 1-64 1 16 0 3 1 5 1-6 1-20 0-14 1 60 1-94 1 16 0 57 1-13 1-35 1 139 0-69 1-4 1 16 1-62 1 19 0-12 1-13 1 7 1-67 0 62 1-58 1 101 1-25 0-27 1 14 1 4 1 16 0-32 1-10 1 56 1-110 1 71 0 27 1-44 1 37 1 31 0-53 1-38 1 96 1-33 0-31 1 2 1-17 1-12 0 114 1-83 1 85 1-12 0-3 1-53 1 74 1-55 1 48 0-135 1 82 1-23 1 48 0-23 1-66 1 27 1 48 0-16 1-11 1-63 1 55 0-23 1-23 1-46 1 55 1 63 0 4 1-80 1 37 1 77 0-53 1-1 1-14 1-27 0-8 1 34 1 65 1-67 0 17 1 31 1-142 1 152 0 11 1-108 1 33 1-19 1-16 0 87 1-80 1 46 1-23 0-12 1 12 1 29 1-11 0-11 1-21 1 116 1-128 0 157 1-188 1 121 1-105 1 65 0-73 1 56 1 2 1 0 0 101 1-42 1 14 1-63 0-54 1 44 1 18 1-30 0 70 1-35 1 31 1 23 0 31 1-51 1 29 1-20 1 7 0-16 1-136 1 101 1 45 0-44 1-8 1 58 1-88 0 69 1-42 1 41 1 3 0-112 1 116 1-7 1 37 1-32 0-72 1 9 1 54 1-121 0 55 1 34 1-93 1 10 0 60 1-7 1-41 1 9 0-53 1-3 1 42 1-5 0-103 1 11 1 65 1-44 1 28 0-43 1 20 1-32 1 44 0-5 1-94 1 34 1 73 0-85 1 31 1-60 1 96 0-44 1 3 1-38 1 57 1-118 0 74 1 9 1 32 1-85 0-3 1 34 1 38 1-68 0 21 1 59 1-122 1 40 0 58 1-13 1-62 1-23 0 26 1-3 1 26 1-86 1 86 0-6 1-12 1 15 1-54 0-33 1 122 1-75 1-48 0-9 1 74 1-42 1 18 0 8 1 19 1-64 1-10 1-18 0 37 1 7 1-25 1-50 0 43 1 51 1-55 1 93 0 48 1-133 1-20 1 7 0 11 1 3 1 69 1-59 0 69 1 12 1-41 1 34 1-6 0-14 1-14 1-17 1 33 0-11 1-8 1-16 1 0 0-3 1 20 1-8 1-7 0 37 1 0 1 33 1-44 1-21 0 54 1-72 1 57 1-52 0-31 1 53 1 12 1-35 0 37 1 20 1-70 1 97 0-89 1 62 1-64 1 47 0-75 1 87 1 58 1-135 1 59 0-1 1-4 1 28 1-30 0 28 1-112 1 96 1-36 0-33 1 133 1-123 1 51 0 18 1-4 1-76 1 1 1 23 0-10 1 65 1-38 1-18 0 91 1-98 1 34 1 41 0-75 1 10 1-5 1 23 0 20 1 19 1-43 1 38 0-23 1-26 1 1 1 13 1-1 0 25 1-38 1-15 1 66 0 4 1 20 1-29 1-42 0-38 1 23 1 94 1-72 0 40 1 59 1-76 1 34 1-54 0-11 1 46 1-75 1 46 0 30 1 27 1-137 1 108 0-34 1-21 1-17 1 83 0 35 1-96 1 53 1-48 0-80 1 97 1-47" stroke="#00ff00"/>
<path d="M343 3725l1-29 1-21 0 2 1 17 1 1 1-31 0 37 1-32 1-44 1-16 0 107 1 0 1-19 1 7 0-50 1 8 1 87 1-9 0-99 1-48 1 2 1 110 1-61 0 94 1 17 1-71 1-142 0 81 1 91 1 7 1-4 0 13 1-92 1 122 1-81 0 53 1-43 1-44 1 33 1-7 0-4 1 40 1-118 1 109 0-29 1 57 1-64 1 72 0-66 1 36 1 12 1-66 0-16 1 86 1-124 1 33 0-42 1-21 1 63 1-9 1-23 0-45 1 191 1-188 1 107 0 72 1-80 1 60 1-131 0 124 1 9 1-12 1 22 0-68 1-23 1 17 1 65 1-80 0 49 1 0 1-75 1 41 0 143 1-175 1 143 1-28 0-46 1-32 1 5 1 28 0-57 1 22 1 34 1 59 0-92 1 76 1-19 1-6 1 9 0 103 1-108 1 42 1-6 0-74 1 46 1-100 1 115 0-8 1-91 1 53 1 39 0-171 1 68 1 90 1-12 1 42 0 15 1-114 1 64 1-121 0 96 1-18 1-35 1 113 0-97 1 86 1-202 1 200 0-23 1-155 1 159 1-78 0 42 1 119 1-110 1 48 1-148 0 146 1-143 1 106 1-44 0-106 1 149 1 19 1-42 0 89 1-99 1 8 1 39 0 82 1 21 1-79 1-29 1-5 0 3 1-16 1-108 1 42 0 92 1 27 1 1 1-86 0 62 1-7 1-20 1 124 0-154 1 75 1 49 1-89 0-156 1 127 1 130 1-235 1 121 0 9 1-2 1-31 1 90 0-69 1 48 1-9 1-64 0 58 1 120 1-73 1-98 0-12 1 155 1-217 1 91 1 24 0-141 1 230 1-168 1 15 0 35 1 26 1-113 1 31 0 101 1-46 1 17 1-9 0 72 1-145 1 0 1 30 0 115 1-65 1-30 1-9 1 70 0-82 1-65 1 150 1-33 0 46 1 6 1-46 1 41 0-113 1 35 1-48 1 20 0 66 1-70 1 26 1 6 1 42 0-76 1 61 1-123 1 9 0 25 1 64 1 70 1-25 0 7 1-47 1 16 1-127 0 139 1-10 1 10 1-110 0 63 1 6 1-73 1 16 1 93 0 65 1-146 1 35 1 21 0-86 1 6 1 86 1-107 0 35 1-69 1 84 1-106 0 77 1 28 1-26 1-35 1 69 0-113 1 65 1-37 1 54 0-2 1 23 1 63 1 17 0-54 1-131 1 174 1-102 0 74 1-42 1-56 1 24 0-116 1 90 1 114 1-59 1 53 0-53 1 34 1 11 1-123 0 60 1-10 1-44 1-17 0 48 1 123 1-165 1 58 0 142 1-102 1 39 1-1 1-114 0 100 1-50 1 30 1-119 0 145 1-68 1-32 1 54 0 62 1 65 1-170 1 23 0 8 1 21 1-46 1 9 0 116 1-81 1-67 1 4 1 203 0-166 1 48 1-58 1-48 0 91 1-33 1 35 1 17 0-66 1 72 1-58 1 20 0 97 1-98 1 189 1-129 1 1 0-27 1-12 1-64 1 31 0 33 1 90 1-32 1-25 0 25 1-60 1 58 1 107 0-181 1 48 1-98 1 155 0-136 1 5 1 47 1 92 1-109 0 96 1-116 1 88 1 27 0-92 1-19 1-90 1 107 0-6 1-107 1 134 1-64 0 35 1 96 1-113 1 61 1-9 0 10 1 32 1-28 1 17 0-65 1 67 1-9 1 48 0-103 1 68 1-28 1-37 0 83 1-50 1-58 1-76 0 105 1 22 1-40 1 26 1 41 0-69 1 7 1-21 1 176 0-151 1 17 1-2 1 21 0-140 1 219 1-41 1 14 0-137 1 44 1 138 1-10 1-107 0-28 1 98 1-64 1 24 0-34 1 31 1 24 1-6 0-104 1 29 1-19 1 46 0 4 1-71 1 91 1-25 0 3 1 98 1-94 1 97 1 0 0-40 1-60 1-37 1-38 0 81 1 84 1-61 1 133 0-169 1 99 1 115 1-141 0-38 1 99 1-27 1-17 0-29 1 59 1-109 1 54 1 107 0 62 1-249 1 84 1 67 0-81 1 21 1 54 1-10 0-67 1 131 1-148 1-100 0 65 1 108 1-83 1 34 1 4 0-32 1-71 1 118 1-74 0-32 1 20 1 10 1-28 0-14 1-30 1-13 1 47 0 62 1 105 1-175 1 86 0 32 1-73 1 47 1-32 1 91 0-76 1-99 1 54 1 70 0-21 1-83 1 40 1-34 0 108 1-214 1 150 1 2 0-117 1 123 1 11 1-38 1 77 0-32 1 54 1-78 1 7 0 77 1-86 1 25 1 67 0-111 1-90 1 239 1-154 0-185 1 124 1-40 1-17 0 87 1-65 1 14 1 110 1 79 0-240 1-40 1 190 1 70 0 38 1-117 1 15 1 0 0-35 1-54 1 25 1-28 0 100 1-168 1 75 1 23 1-30 0 69 1-67 1 43 1-10 0-88 1 31 1-9 1 137 0 6 1-23 1-27 1 19 0 78 1-119 1 46 1 31 0-39 1 29 1 30 1 98 1-154 0-55 1 68 1 2 1 7 0 16 1 185 1-341 1 138 0 21 1-30 1-102 1 252 0-129 1 172 1-103 1-42 1 39 0-36 1 34 1-204 1 194 0 67 1-97 1-11 1 81 0-136 1 66 1-82 1 13 0-52 1 71 1 59 1-10 0-34 1 21 1 10 1-56 1-4 0 39 1 47 1-6 1-84 0-48 1 21 1 119 1-74 0-12 1-15 1 21 1 54 0 44 1-17 1-30 1 28 1-116 0 4 1 124 1-25 1-9 0-89 1 33 1-11 1 70 0-4 1 11 1-44 1 56 0-150 1 68 1 53 1-129 0 196 1-137 1 82 1-44 1 92 0-50 1-61 1 41 1-74 0 135 1-61 1-33 1-27 0-30 1-5 1-87 1 67 0 102 1-110 1-17 1 156 1-48 0 2 1 78 1-90 1 86 0 37 1-159 1 9 1-54 0 174 1-44 1 43 1-28 0 64 1 31 1-235 1 89 0 70 1-43 1-71 1 89 1-52 0-14 1-31 1-2 1 99 0-69 1-24 1 0 1 152 0-12 1-102 1 27 1-35 0-11 1 16 1 32 1-183 1-165 0 242 1-35 1 97 1-38 0 24 1 57 1-68 1 21 0-36 1 107 1-5 1-200 0 65 1 66 1 19 1-170 0 158 1-77 1 43 1 75 1-170 0 123 1-43 1 67 1-62 0-4 1 134 1-71 1-156 0 131 1 69 1-144 1 19 0-4 1 92 1-2 1-33 1-34 0 10 1 42 1 34 1 41 0-119 1 112 1-41 1-153 0 127 1-65 1-12 1 111 0 45 1-23 1-48 1-18 0 2 1-3 1 180 1-78 1-157 0 155 1-12 1-56 1-45 0-35 1 195 1-38 1-26 0-48 1 11 1-23 1-11 0-62 1 57 1-60 1 93 1 48 0-11 1-144 1 174 1 9 0-105 1 41 1 18 1-95 0 56 1 114 1-75 1-95 0-7 1-6 1 66 1 51 0 58 1-99 1-43 1 79 1-63 0-95 1 106 1-49 1 44 0 27 1-139 1 151 1-37 0 20 1-122 1 6 1 72 0-31 1 58 1 77 1-3 1-106 0 27 1 55 1-41 1 85 0-93 1 66 1-96 1 39 0-4 1 55 1-9 1-8 0 17 1 106 1-55 1-102 0 16 1 123 1-96 1-5 1 5 0 7 1-28 1-48 1 14 0 62 1-90 1 62 1 21 0-144 1 113 1-37 1 84 0-87 1 152 1-24 1-54 0-18 1 43 1-103 1 16 1-17 0-2 1-70 1 0 1 119 0-71 1 21 1-31 1-2 0-15 1 178 1-143 1-44 0 31 1 94 1-126 1 3 1-123 0 250 1-177 1 101 1 36 0-52 1-83 1 155 1-28 0-75 1 14 1 75 1-20 0-75 1-117 1 53 1 281 0-163 1 71 1-58 1-8 1-41 0 60 1 30 1-10 1-38 0 24 1-86 1 27 1 36 0 34 1-130 1-122 1 121 0 11 1-11 1 166 1-61 1 29 0 12 1-114 1 19 1-22 0-41 1 117 1-39 1-16 0 69 1-46 1-63 1-34 0 58 1 48 1 77 1-23 0-222 1 152 1 0 1-30 1-18 0 106 1-32 1 26 1-17 0 12 1 92 1-20 1-18 0 25 1 6 1-27 1 43 0-13 1-45 1 15 1-24 1 40 0 16 1-90 1-8 1 3 0 91 1 15 1-150 1 100 0-25 1 42 1 90 1-146 0 51 1-32 1-7 1 112 0 30 1-92 1-23 1 73 1 6 0 46 1-125 1-8 1 40 0-51 1 54 1 8 1-42 0 36 1-30 1-37 1 60 0-47 1-19 1 90 1-30 1-17 0 23 1 59 1-62 1 17 0-38 1 42 1-91 1 101 0 17 1-50 1 27 1-37 0 28 1-144 1 168 1-43 0-31 1 101 1-149 1-53 1 164 0-17 1-72 1-17 1-18 0 59 1 5 1-7 1 92 0-132 1 24 1-54 1 47 0 3 1-54 1 2 1 32 1 49 0-30 1 16 1-24 1 10 0-26 1 29 1-18 1 45 0 2 1 28 1-59 1 33 0-1 1-23 1-13 1 72 0 44 1-45 1-57 1 12 1 12 0 19 1 46 1-169 1 121 0 90 1-183 1 54 1-39 0 53 1-30 1-1 1 98 0-123 1 86 1 6 1-95 1 10 0 60 1-106 1 160 1 10 0-174 1 124 1-29 1-72 0 24 1-14 1-20 1 79 0-10 1-40 1-10 1 56 0 111 1-39 1 14 1-130 1 70 0 4 1-20 1-12 1 82 0-75 1-15 1-27 1 45 0 49 1-97 1 76 1-72 0-3 1 117 1-122 1 1 1-55 0 161 1-51 1-11 1-48 0 10 1 38 1-115 1 69 0-11 1 76 1-13 1 28 0 65 1-168 1 32 1-6 0-41 1 59 1-17 1 47 1-58 0 86 1 38 1 20 1-32 0-66 1 11 1-3 1-40 0 69 1 40 1-19 1-81 0 128 1-19 1-119 1 69 1 69 0-38 1-40 1-12 1 11 0 53 1-23 1-62 1 46 0 74 1 5 1-38 1-75 0 2 1 93 1-194 1 154 0-13 1-21 1-25 1 179 1-189 0 20 1 69 1-31 1-19 0 64 1 39 1-90 1 39 0 6 1-20 1-66 1 53 0-1 1 57 1-8 1-86 1 35 0 43 1-222 1 245 1-101 0 29 1-132 1 128 1-13 0 67 1-45 1-44 1-26 0 148 1-95 1-48 1 108 0-123 1 93 1 68 1-36 1-177 0 204 1-171 1 35 1 125 0-92 1 49 1 26 1-89 0-26 1 52 1-19 1-16 0 23 1 26 1-7 1-84 1-6 0 15 1-6 1 72 1 49 0 28 1-119 1 16 1-34 0 41 1-20 1 33 1-4 0-25 1 87 1 15 1-104 0 126 1-107 1-75 1 50 1-24 0 27 1-81 1 137 1-48 0 33 1 3 1-53 1-2 0 16 1 5 1 98 1-86 0 118 1-239 1-24 1 152 1-106 0 180 1-69 1-20 1 47 0 14 1-55 1-17 1-58 0 56 1-15 1 107 1 0 0-81 1-29 1 55 1-14 0 27 1-131 1-11 1 153 1-12 0-37 1-31 1 68 1-28 0 10 1 33 1-120 1 63 0-4 1 99 1-90 1 28 0-9 1-65 1 15 1 52 0-28 1-18 1 121 1-57 1-50 0 6 1 88 1-54 1-50 0-28 1 58 1-40 1 108 0-41 1 43 1-142 1 183 0-179 1 68 1-19 1 103 1-69 0-46 1-79 1-25 1 179 0-49 1 77 1-106 1 89 0-73 1-3 1 74 1-111 0 22 1 38 1 26 1-14 0-2 1 89 1 41 1-81 1 12 0-75 1-7 1 48 1-69 0-1 1-51 1 21 1 119 0-87 1-13 1 19 1-5 0 101 1-74 1 17 1 14 1-50 0 74 1 3 1-83 1-23 0 19 1 13 1 1 1-8 0 63 1 28 1 27 1-114 0 40 1-21 1-3 1 30 0 19 1 14 1-42 1-6 1-1 0 50 1-62 1 99 1-144 0-1 1 46 1-14 1 75 0-114 1 231 1-179 1 115 0-60 1-52 1 92 1-52 1-3 0 2 1-13 1 37 1-13 0-24 1 142 1-66 1-157 0 26 1 66 1 27 1-95 0 64 1 111 1-24 1-137 0 119 1-54 1 31 1-81 1-15 0 61 1 25 1-134 1 95 0 69 1-116 1-83 1 101 0-43 1 28 1 4 1 21 0-21 1 10 1-15 1-117 1 131 0 38 1 3 1-80 1 48 0-36 1 31 1 44 1-108 0-50 1 98 1 111 1-112 0 112 1-196 1 199 1-139 0 78 1 87 1-89 1 30 1 16 0-79 1 60 1 23 1-26 0 38 1-46 1-52 1-38 0 52 1 109 1-60 1-10 0-4 1-49 1-48 1 29 1 94 0-53 1-16 1-4 1 19 0 22 1 18 1-146 1-3 0 61 1 23 1-74 1 47 0-20 1 66 1-4 1 11 0-9 1 42 1-1 1-62 1 62 0-24 1-7 1-16 1 105 0-65 1-50 1 17 1-90 0 132 1-111 1 34 1 85 0-41 1-3 1 41 1-13 1-7 0-11 1 37 1-24 1-95 0 70 1-29 1 91 1-64 0-39 1 9 1-8 1 35 0-43 1 140 1-89 1-55 0 22 1 115 1 55 1-59 1-31 0-35 1-90 1 52 1 11 0-24 1 51 1-23 1 30 0 9 1-60 1 94 1-64 0 27 1 32 1 26 1-11 1-144 0 104 1-5 1 54 1-74 0 16 1 82 1-87 1-79 0 201 1-220 1 99 1-118 0 152 1-88 1 9 1 26 0-40 1-15 1 40 1-13 1 44 0-68 1 116 1-107 1-69 0 118 1 8 1-152 1 81 0 20 1 14 1-100 1 125 0-52 1 10 1 87 1-132 1 72 0 11 1 26 1-77 1 20 0-1 1-1 1-46 1 132 0-84 1 19 1-29 1 117 0-73 1-71 1 122 1-36 0 146 1-121 1-9 1-58 1 13 0 68 1-96 1 48 1-41 0 29 1-28 1-46 1-4 0 45 1-17 1 2 1 50 0-76 1 3 1 45 1 93 1-14 0-62 1-8 1-64 1 43 0 23 1 156 1-213 1 41 0-37 1 105 1-109 1 44 0-84 1 74 1 122 1-126 0 89 1-82 1 50 1-14 1-46 0 40 1-3 1 41 1 33 0-21 1-79 1-48 1 42 0-108 1 175 1 5 1-93 0 53 1 37 1-28 1 66 1-105 0 18 1 13 1-34 1 59 0 35 1-116 1 73 1 37 0-64 1-18 1 86 1 6 0-197 1 85 1 7 1-18 0 58 1-29 1 9 1 5 1-26 0 18 1 3 1-113 1 63 0 84 1 60 1-117 1 41 0-17 1 54 1-29 1-17 0-42 1 159 1-51 1-21 0-47 1 78 1-14 1-16 1-39 0 100 1-148 1 134 1-116 0 48 1 9 1 63 1-114 0 169 1-163 1 37 1 16 0-32 1 64 1-131 1-22 1 103 0 13 1 45 1-100 1 56 0 18 1-65 1 21 1-36 0 103 1-94 1-35 1 46 0-15 1 34 1-74 1 137 0 10 1-149 1 157 1-59 1 10 0-20 1-48 1 117 1-129 0 67 1-64 1 13 1 20 0-58 1 63 1 19 1-44 0-2 1 81 1-126 1 128 1 51 0-77 1 45 1 2 1 3 0-61 1 94 1-138 1-24 0 90 1-55 1 175 1-94 0-34 1-44 1 13 1-4 0 4 1-4 1 24 1 15 1 11 0-75 1 76 1 60 1-81 0 18 1-105 1 8 1 51 0 30 1 11 1-100 1 10 0 63 1-5 1 14 1-13 1-38 0-32 1 2 1 40 1-28 0 136 1-208 1 93 1 77 0-46 1-16 1 6 1 69 0-133 1 36 1 111 1-82 0 70 1-123 1 105 1-48 1 26 0-17 1 9 1-8 1-64 0-17 1 120 1-29 1-16 0 38 1-54 1 46 1 16 0-140 1 54 1 3 1-13 1 19 0 12 1 21 1-10 1 40 0 26 1-71 1 4 1 56 0 18 1-98 1 88 1-79 0-71 1 74 1 59 1-38 0 83 1-84 1-79 1-45 1-22 0 111 1 128 1-19 1-109 0 55 1-84 1-21 1-16 0 75 1 2 1-1 1-13 0 68 1-80 1 40 1 19 1 1 0 6 1 26 1-75 1-28 0 49 1 46 1-40 1-39 0 159 1-103 1 47 1-22 0-61 1 22 1 49 1 23 0-74 1 15 1-118 1 143 1 16 0-45 1 38 1-60 1 17 0 70 1 45 1-100 1 8 0 41 1-135 1 50 1 7 0 52 1-12 1 50 1-80 1 53 0-37 1 9 1-6 1-120 0-7 1 125 1-84 1 96 0-59 1 32 1-3 1-35 0 6 1 71 1-7 1 44 0 83 1-177 1 94 1-56 1 113 0-118 1 25 1 10 1-119 0 129 1-91 1 175 1-93 0 14 1 67 1-10 1-84 0-50 1 64 1-45 1-30 1-6 0 82 1-78 1 69 1-53 0-6 1-80 1 48 1 94 0-45 1-7 1-135 1 132 0-83 1 84 1 35 1 19 0-193 1 113 1 18 1 79 1-63 0-56 1 184 1-55 1-142 0 105 1-9 1-76 1 137 0 13 1-144 1 123 1-57 0-3 1 107 1-66 1-22 1-75 0 14 1 29 1 114 1-157 0-5 1 88 1-62 1-43 0 31 1 5 1 21 1-60 0 38 1 31 1-6 1 88 0-57 1-73 1 231 1-117 1 21 0-70 1-42 1 45 1-65 0 97 1 51 1-71 1-82 0 99 1 6 1-62 1 31 0 30 1-67 1 55 1 37 1-96 0 91 1-61 1 137 1-139 0-131 1 66 1 99 1-90 0 127 1-84 1 50 1 72 0-76 1-75 1-7 1 38 0 33 1-26 1-90 1 110 1-42 0-37 1 51 1 28 1 13 0-5 1-75 1 35 1 31 0-114 1-34 1 114 1 9 0 23 1 54 1-119 1 96 1 2 0 4 1-70 1 82 1-27 0-23 1-3 1 8 1 112 0-129 1 37 1 23 1 46 0-76 1 32 1-55 1 3 0-94 1 95 1 58 1-67 1 13 0 51 1 44 1 4 1 25 0-50 1-28 1-24 1 115 0 44 1 24 1-179 1 150 0-3 1 91 1-45 1 149 1-227 0 142 1-133 1 22 1-90 0 80 1-27 1 57 1-42 0-32 1 25 1 89 1-71 0-42 1 34 1 29 1-93 0 51 1 26 1-33 1 28 1-93 0 127 1-17 1-114 1 40 0-41 1-12 1 68 1 51 0-2 1-153 1 111 1-64 0 75 1-38 1 50 1-103 0 103 1-4 1-36 1-27 1-112 0 194 1-156 1 45 1 3 0 14 1 8 1-37 1 48 0-31 1 159 1-36 1 15 0-52 1 6 1-11 1-21 1-57 0-45 1 113 1-12 1-13 0-93 1-7 1 150 1-82 0 86 1-100 1 120 1-61 0 71 1-90 1 38 1-84 0 158 1-192 1 50 1-32 1 66 0 90 1-95 1-64 1 110 0-15 1 11 1 68 1 0 0-63 1-24 1-33 1 8 0 195 1-204 1-39 1 29 1 2 0-60 1 58 1 53 1-60 0-11 1 94 1 18 1-127 0-8 1-5 1 99 1-51 0 65 1-76 1 38 1-91 0 34 1 13 1-29 1 41 1 37 0-25 1 8 1-93 1 113 0-94 1 80 1-102 1 147 0-42 1 47 1-78 1-104 0 191 1-96 1-50 1 8 1 113 0 12 1-97 1 51 1 31 0-61 1-21 1 119 1-45 0-80 1 71 1-77 1 131 0-130 1 44 1-39 1 40 0-72 1 99 1-114 1-31 1 104 0 102 1-177 1 109 1-12 0-9 1-117 1-53 1 121 0-12 1-3 1 67 1 35 0 41 1 27 1-60 1-118 1 152 0-17 1 4 1 17 1 26 0-71 1 93 1-151 1 138 0-47 1 45 1-1 1-22 0-29 1-2 1 85 1 62 0-143 1 53 1 19 1-61 1-90 0-5 1 70 1-49 1-9 0-24 1 78 1-107 1 57 0-9 1-27 1 92 1 104 0-53 1-132 1 56 1-62 1 111 0-26 1 61 1-52 1-10 0-11 1 79 1-100 1-8 0 59 1-10 1-58 1-19 0 12 1 54 1 29 1 28 0-103 1 52 1 22 1-54 1-63 0-77 1 127 1 55 1 11 0-122 1 92 1-61 1-14 0-27 1 86 1 45 1-3 0 3 1-157 1 130 1-84 1 20 0 22 1 103 1-115 1 70 0-52 1 9 1 30 1-131 0 126 1-70 1 41 1 74 0-115 1-56 1 112 1-18 0-73 1 24 1 181 1-102 1-100 0 150 1-106 1-85 1-186 0 367 1-157 1 89 1 98 0-95 1 38 1-23 1 144 0-20 1-21 1-30 1-30 1 84 0-125 1 46 1-90 1 66 0-81 1 97 1 40 1-38 0-78 1 107 1-40 1 33 0-157 1 5 1 26 1 175 0-152 1 17 1 108 1-101 1 46 0 34 1-31 1-27 1-28 0 98 1-179 1 132 1 39 0-96 1-29 1 84 1-29 0-21 1 69 1-14 1 22 1 25 0 103 1-45 1-120 1 112 0-167 1 68 1-75 1 46 0 22 1-159 1 82 1 87 0-119 1 98 1 59 1-53 0 28 1-36 1-10 1 116 1-64 0-14 1 20 1-5 1-98 0 56 1 99 1-17 1-49 0-43 1 81 1 24 1-8 0-72 1-28 1 116 1 76 1-70 0-18 1 5 1-29 1 21 0-75 1 138 1-62 1-8 0 5 1-10 1 16 1 3 0-7 1-19 1 79 1-45 0-48 1 62 1-21 1-82 1-55 0 90 1 71 1-65 1-10 0 6 1 3 1-19 1 20 0 75 1 12 1-108 1 62 0-9 1-23 1-15 1 67 1 1 0-154 1 130 1-24 1-17 0 47 1-91 1 81 1-52 0 17 1-53 1-15 1 88 0-64 1 65 1 46 1-43 0-31 1 8 1-3 1 42 1-201 0 99 1 28 1 44 1-7 0 22 1-33 1-70 1 119 0-126 1 44 1 75 1-54 0 1 1 14 1-44 1 3 0 137 1-163 1-25 1 167 1-53 0-2 1-70 1 54 1-47 0 133 1 48 1-141 1 7 0 50 1 57 1 0 1-62 0 4 1 105 1-96 1 118 1-106 0-92 1-6 1-4 1 112 0-12 1 68 1-127 1 58 0 4 1-42 1-3 1-49 0-49 1 174 1-24 1-68 0 22 1 5 1 5 1-55 1 97 0 47 1-76 1-7 1 101 0-139 1 12 1-40 1 2 0 48 1-10 1 21 1-177 0 161 1 42 1-45 1 21 1-124 0 48 1 73 1 11 1-21 0 36 1-22 1-45 1 21 0 36 1-87 1 150 1-74 0-12 1-72 1 62 1 67 0-80 1-20 1 67 1-98 1 118 0-25 1-60 1 89 1-148 0 121 1-44 1-120 1 59 0 82 1-140 1 67 1 78 0 26 1 37 1-76 1-81 1 111 0-143 1 16 1 162 1-131 0 1 1-10 1 99 1-73 0 42 1-16 1 5 1-7 0-56 1 28 1-70 1 131 0-18 1-31 1-5 1-100 1 14 0 71 1-67 1 122 1-120 0 170 1-36 1-18 1 18 0-36 1 33 1-135 1 104 0-99 1 89 1-117 1 126 1 71 0-101 1 57 1 36 1-103 0-62 1 71 1 15 1 27 0-50 1 34 1-3 1-35 0-18 1 40 1 201 1-177 0 7 1-23 1 40 1-31 1 21 0-38 1 100 1-71 1 15 0-135 1 85 1 13 1-91 0 28 1 48 1 19 1 63 0 33 1-177 1 180 1-29 1-93 0 31 1 4 1 56 1-85 0 97 1-43 1 3 1-4 0 63 1-68 1-34 1-18 0 88 1-21 1 89 1-89 0-64 1 86 1-86 1 66 1-150 0 200 1-95 1-88 1 87 0 26 1-143 1-29 1 109 0 5 1-34 1 50 1-26 0 10 1-3 1-11 1-94 1 83 0 13 1-60 1 11 1-77 0 10 1 106 1-58 1 31 0-33 1 30 1-31 1-64 0 71 1 62 1-65 1 20 0-102 1 144 1-110 1 98 1-97 0 28 1 15 1 47 1-144 0 242 1-119 1-14 1-41 0 109 1-25 1-60 1-30 0 38 1 33 1 85 1-38 1-113 0 29 1 41 1-89 1 60 0 70 1-59 1-2 1 72 0-73 1 51 1-30 1 40 0-26 1-41 1 6 1-18 0 15 1 73 1-19 1 19 1-56 0-46 1-29 1 126 1-5 0-21 1 34 1-71 1-46 0 94 1 14 1-57 1 120 0-49 1-9 1-21 1 75 1-71 0 8 1-23 1-34 1 102 0-73 1 34 1-63 1 15 0 31 1 0 1 20 1-50 0 74 1 102 1-151 1-36 0 122 1-148 1 38 1 30 1 29 0-11 1-39 1-33 1 22 0 16 1 24 1-22 1 10 0 23 1-65 1 40 1 9 0-30 1 21 1 0 1 21 1-119 0 119 1 11 1 2 1-79 0 25 1 31 1-76 1 101 0-27 1 12 1-6 1-17 0 63 1-207 1 156 1-49 0 10 1-19 1 72 1-11 1-15 0-43 1 49 1 33 1-37 0-68 1 25 1 61 1-42 0 96 1-124 1 16 1 59 0 73 1-119 1 42 1-64 1-14 0 138 1-92 1-23 1 41 0-20 1 39 1-63 1 95 0-48 1-56 1-81 1 149 0-29 1-44 1 37 1-33 0 15 1 216 1-180 1-65 1 17 0-57 1 54 1 9 1 25 0 3 1-5 1 17 1-2 0-4 1-7 1-59 1 28 0-17 1 153 1-104 1 43 1 8 0-25 1-55 1 87 1-19 0-91 1-30 1 50 1-28 0 12 1-34 1 88 1 6 0-148 1 90 1-52 1 74 0-11 1 10 1-94 1 163 1-113 0 60 1-176 1 225 1-10 0-14 1-45 1 66 1-12 0 10 1-26 1-104 1 53 0 34 1-13 1 83 1 18 0-94 1 28 1 24 1 59 1-86 0-51 1 83 1-91 1 90 0-8 1-162 1 195 1-63 0-25 1 64 1-72 1-72 0 119 1 73 1-30 1-124 1 49 0 31 1-12 1 50 1-9 0-9 1-12 1-61 1-7 0 108 1-130 1 30 1 52 0-41 1-24 1-37 1 47 0-6 1 7 1-76 1 145 1 32 0-17 1-60 1-10 1-42 0 61 1 22 1-43 1 91 0-105 1 19 1-7 1 4 0 1 1 62 1-137 1 22 1 107 0-67 1 36 1-59 1 64 0-9 1-16 1-31 1 49 0-45 1 3 1-71 1 113 0-19 1 13 1 31 1-38 0-175 1 91 1 135 1-106 1-28 0-14 1-58 1 33 1-12 0 166 1-39 1-43 1 33 0-53 1 73 1 29 1-135 0 119 1 28 1-114 1 47 1-19 0 20 1-74 1 45 1 40 0 29 1-36 1 18 1-55 0 97 1-76 1 33 1-9 0 10 1-82 1 37 1 72 0-29 1 5 1 90 1-132 1-60 0 123 1-148 1 93 1 53 0-13 1 1 1 37 1-148 0 104 1-63 1 121 1 56 0-79 1 18 1-157 1 74 1 12 0-1 1-74 1 4 1 66 0-1 1 71 1-80 1-11 0 60 1 91 1-51 1-36 0-38 1 61 1-93 1 93 0-271 1 186 1-24 1 63 1-17 0 84 1-27 1-62 1 37 0-8 1-25 1-7 1 92 0-84 1-37 1 125 1 24 0-130 1 85 1-43 1 13 1 1 0-11 1-40 1 62 1-72 0 75 1 10 1-126 1 94 0-26 1 18 1 37 1 12 0-57 1 38 1-91 1 36 0 40 1 36 1-78 1 42 1-8 0 1 1-7 1-94 1 101 0 20 1-77 1 0 1 84 0-53 1-28 1 111 1-36 0-2 1-39 1 27 1-26 1 56 0 55 1-72 1-44 1-21 0-2 1 16 1 102 1-62 0-6 1-31 1 6 1 35 0-46 1 40 1-52 1 29 0-17 1-105 1 145 1-68 1 99 0-115 1 87 1 61 1-143 0 128 1-123 1 73 1 66 0-56 1-97 1 52 1 18 0-23 1-16 1-17 1-17 1 32 0-22 1 110 1-15 1-39 0 26 1-32 1-16 1 35 0 2 1-26 1 28 1 17 0-21 1 96 1-107 1 119 0-68 1 30 1 37 1-24 1-42 0 29 1 10 1 35 1-94 0 99 1-11 1 21 1-55 0 26 1 83 1-62 1-10 0 83 1-34 1 79 1-12 1 82 0-48 1 39 1-169 1-27 0 102 1-87 1 31 1 144 0-156 1 101 1 9 1-75 0 70 1 2 1-187 1 181 0 63 1-108 1 29 1-30 1-58 0 215 1-23 1-151 1 16 0 72 1 7 1-86 1-73 0 69 1 103 1 27 1-106 0 85 1-48 1 46 1-99 1-15 0-15 1 97 1-51 1-60 0 50 1 13 1-11 1 34 0-130 1 131 1-82 1 21 0 33 1 0 1-67 1 61 0-2 1 91 1-57 1 27 1-55 0-72 1-14 1 20 1 107 0-87 1-60 1 143 1-39 0-53 1 106 1-180 1 122 0-54 1 25 1 24 1-77 1 68 0 9 1-66 1 47 1-52 0-43 1 166 1-17 1-135 0 229 1-141 1 76 1-70 0-6 1-1 1-32 1 21 0-17 1-55 1-85 1 58 1 98 0 1 1 95 1-148 1-77 0 128 1 26 1-22 1 66 0 8 1-35 1-39 1 72 0-4 1 86 1-109 1-5 0 11 1-25 1 65 1 10 1-69 0 33 1-78 1 17 1 84 0-119 1 88 1 35 1-74 0 71 1 10 1-35 1 28 0 28 1-134 1-55 1 163 1-16 0 48 1-53 1-37 1 22 0-65 1 3 1 32 1 9 0 52 1-69 1-35 1 32 0-46 1 63 1 28 1-83 0 109 1-275 1 226 1-82 1 105 0 69 1-98 1 145 1-44 0-149 1 61 1 68 1-94 0 25 1 65 1-25 1-122 0 168 1-115 1 27 1-2 1 104 0-125 1 123 1-16 1-166 0 73 1 66 1-82 1 88 0-148 1 82 1 60 1-79 0 69 1-139 1 71 1-99 0 10 1-30 1 14 1-11 1 80 0 45 1-93 1 123 1-71 0-2 1 3 1-47 1 34 0 77 1-66 1 55 1 98 0-55 1-60 1 7 1-37 1 39 0 1 1-9 1-14 1 38 0 108 1-154 1 69 1 90 0-147 1 67 1 7 1-91 0 96 1-39 1 7 1-38 0-107 1 190 1-22 1-19 1 99 0-88 1 19 1-64 1-70 0 29 1 50 1-8 1 20 0-155 1 117 1-45 1-9 0 116 1 0 1 39 1-181 1 88 0-92 1 30 1 17 1-58 0 22 1 104 1 25 1-120 0-24 1 119 1-85 1 161 0-23 1 25 1-4 1-114 0 52 1-31 1 4 1 175 1-202 0 91 1-76 1 44 1 10 0 7 1-52 1 9 1 69 0-141 1 127 1 42 1-131 0 107 1-115 1-143 1 122 1-166 0 264 1-27 1-3 1 20 0 7 1 41 1-82 1-68 0 85 1-92 1 70 1 85 0-20 1-90 1 42 1-124 0 90 1 99 1-146 1 97 1-2 0-30 1 75 1-125 1 21 0-14 1-36 1-6 1-53 0 198 1-162 1 143 1-55 0 84 1-183 1 142 1 56 1 33 0-93 1 0 1 25 1 2 0-37 1 17 1-89 1 197 0-110 1-49 1 93 1-32 0-168 1 129 1 49 1-22 0-37 1 114 1-170 1 129 1-115 0 27 1-75 1 77 1 83 0-83 1-82 1 72 1-3 0-7 1-110 1 127 1-82 0 117 1-4 1-65 1-16 1 19 0 39 1-8 1-12 1 60 0-34 1-22 1 39 1-25 0 28 1-105 1 52 1-17 0 42 1 5 1-44 1-40 0-1 1 78 1-118 1 19 1 90 0 13 1-119 1 94 1-79 0 128 1-45 1-33 1 5 0-2 1 5 1 88 1-56 0-22 1-20 1-21 1 14 1 66 0-11 1 10 1-116 1 22 0 31 1 67 1-80 1 29 0 8 1 88 1-88 1-15 0 28 1 2 1-15 1-21 0 96 1-96 1 8 1 4 1 39 0-8 1-16 1-20 1 4 0-7 1 9 1 49 1-32 0-2 1 27 1 3 1-9 0 44 1-53 1-60 1 91 1 8 0-51 1 40 1-6 1 45 0-54 1 66 1-110 1-3 0 15 1-29 1 70 1-51 0 44 1 61 1-20 1-19 0 59 1-117 1 53 1 69 1-92 0-7 1-13 1 116 1-91 0 13 1 12 1-16 1-17 0 10 1 32 1-46 1 4 0 17 1 21 1-24 1-22 1 27 0-2 1 28 1-14 1-18 0-6 1 25 1-42 1 9 0 31 1-39 1-68 1 39 0 21 1-28 1 1 1 5 0-16 1 41 1 35 1-99 1 59 0-96 1 143 1-57 1 40 0-15 1 38 1-84 1 21 0-55 1 90 1-49 1 10 0-1 1 50 1-61 1 16 1 26 0 30 1-66 1-7 1 55 0 2 1 43 1-87 1-29 0-3 1 51 1 2 1 33 0 5 1 25 1-78 1 57 0-32 1-43 1 70" stroke="#0000ff"/>
</g></g>
<path d="M63.3 448.3v-3M63.3 245.2v3M92.3 448.3v-6M92.3 245.2v6M121.3 448.3v-3M121.3 245.2v3M150.3 448.3v-6M150.3 245.2v6M179.2 448.3v-3M179.2 245.2v3M208.2 448.3v-6M208.2 245.2v6M237.2 448.3v-3M237.2 245.2v3M266.2 448.3v-6M266.2 245.2v6M295.2 448.3v-3M295.2 245.2v3M34.3 428h3M324.2 428h-3M34.3 407.7h6M324.2 407.7h-6M34.3 387.4h3M324.2 387.4h-3M34.3 367.1h6M324.2 367.1h-6M34.3 346.8h3M324.2 346.8h-3M34.3 326.4h6M324.2 326.4h-6M34.3 306.1h3M324.2 306.1h-3M34.3 285.8h6M324.2 285.8h-6M34.3 265.5h3M324.2 265.5h-3M34.3 245.2h5.5M324.2 245.2h-5.5M34.3 448.3h5.5M324.2 448.3h-5.5M34.3 448.3v-5.5M324.2 448.3v-5.5M34.3 245.2v5.5M324.2 245.2v5.5" stroke="#333" stroke-width="1.35" fill="none"/>
<text class="tl" text-anchor="middle" transform="translate(34.9 458.9) scale(0.94 1)">0</text>
<text class="tl" text-anchor="middle" transform="translate(92.9 458.9) scale(0.94 1)">200</text>
<text class="tl" text-anchor="middle" transform="translate(150.9 458.9) scale(0.94 1)">400</text>
<text class="tl" text-anchor="middle" transform="translate(208.8 458.9) scale(0.94 1)">600</text>
<text class="tl" text-anchor="middle" transform="translate(266.8 458.9) scale(0.94 1)">800</text>
<text class="tl" text-anchor="middle" transform="translate(324.8 458.9) scale(0.94 1)">1000</text>
<text class="tl" text-anchor="end" transform="translate(32.1 452.3) scale(0.94 1)">36</text>
<text class="tl" text-anchor="end" transform="translate(32.1 411.7) scale(0.94 1)">38</text>
<text class="tl" text-anchor="end" transform="translate(32.1 371.1) scale(0.94 1)">40</text>
<text class="tl" text-anchor="end" transform="translate(32.1 330.4) scale(0.94 1)">42</text>
<text class="tl" text-anchor="end" transform="translate(32.1 289.8) scale(0.94 1)">44</text>
<text class="tl" text-anchor="end" transform="translate(32.1 249.2) scale(0.94 1)">46</text>
<text class="at" text-anchor="middle" transform="translate(179.8 470.6) scale(1.05 1)">Time (ns)</text>
<rect x="237.2" y="259.5" width="77.6" height="47.7" fill="#fff" stroke="#777" stroke-width="1"/>
<path d="M240.2 267.1H251.7" stroke="#555" stroke-width="1"/>
<text x="257.6" y="269.7" class="lg">MMP1- Zn<tspan class="sb" dy="1.8">1</tspan><tspan dy="-1.8"> Zn</tspan><tspan class="sb" dy="1.8">2</tspan></text>
<path d="M240.2 278.6H251.7" stroke="#e88" stroke-width="1"/>
<text x="257.6" y="281.2" class="lg">MMP1- Zn<tspan class="sb" dy="1.8">2</tspan></text>
<path d="M240.2 290.1H251.7" stroke="#8e8" stroke-width="1"/>
<text x="257.6" y="292.7" class="lg">MMP1- Zn<tspan class="sb" dy="1.8">1</tspan></text>
<path d="M240.2 300.8H251.7" stroke="#88c" stroke-width="1"/>
<text x="257.6" y="303.4" class="lg">MMP1- No Zn</text>
<clipPath id="cd"><rect x="384.8" y="246.2" width="287.4" height="200.7"/></clipPath>
<rect x="384.8" y="246.2" width="287.4" height="200.7" fill="none" stroke="#808080" stroke-width="1.3"/>
<g clip-path="url(#cd)"><g transform="scale(.1)" fill="none" stroke-width="10" stroke-linejoin="round">
<path d="M3848 3851l1 112 1-101 0 11 1-26 1 3 1 53 0-12 1 36 1-67 1 44 0-86 1 21 1 88 1-80 0 56 1 67 1-93 1 66 0-34 1-55 1 0 1-104 0 83 1 30 1 22 1 5 0 48 1-64 1-85 1 90 0 55 1-74 1 17 1-64 0 61 1 35 1 135 1-138 1-10 0-4 1-100 1 131 1 10 0 86 1-149 1 86 1-32 0 19 1-55 1 21 1-4 0 23 1-74 1-14 1 58 0-73 1 90 1-135 1 113 0-69 1-24 1 20 1 57 0-51 1 28 1-89 1 95 0 56 1-51 1 53 1-73 0 128 1-133 1-12 1 13 0 67 1 92 1-47 1-37 1-67 0 69 1 46 1-51 1-54 0 81 1-14 1-8 1-2 0-16 1-29 1 118 1-100 0 29 1 30 1-59 1 20 0 15 1-93 1 93 1-37 0 3 1 15 1 7 1 20 0-63 1 11 1 21 1-23 0 68 1-97 1 199 1-126 0 59 1-57 1-31 1 19 1-74 0 63 1-6 1 30 1 43 0-41 1-82 1 104 1 29 0-6 1-54 1-23 1-14 0 143 1-51 1-79 1-13 0 38 1 15 1-53 1 52 0 39 1-119 1 17 1 38 0-7 1 25 1-103 1 41 0-29 1 54 1 41 1-140 0 78 1-20 1-17 1-25 1 67 0 88 1-109 1 42 1-11 0-72 1 40 1 46 1 9 0-13 1-41 1-3 1 131 0-91 1 18 1-20 1-4 0 0 1-16 1 32 1-32 0-35 1 90 1 26 1-55 0-19 1 7 1-71 1 77 0-43 1 10 1 8 1 28 0 47 1-25 1-37 1 11 0-13 1 65 1-43 1 51 1-58 0 24 1 53 1-19 1-27 0-10 1-64 1 28 1 83 0-95 1 72 1-98 1 92 0 22 1-27 1 17 1-52 0 64 1 5 1 76 1-91 0 13 1-9 1-63 1 4 0 33 1 5 1 15 1-60 0-20 1 32 1 64 1 3 0-33 1-9 1-83 1 92 1-79 0-78 1 46 1 44 1 21 0 28 1 78 1-21 1-5 0-29 1-17 1-53 1 49 0-74 1 22 1-1 1 51 0-5 1-26 1 42 1-25 0 92 1-93 1 24 1 37 0-81 1-86 1 115 1 44 0-27 1 15 1-40 1 41 0-40 1 5 1-10 1 21 1 14 0 20 1 24 1 52 1 0 0-63 1-6 1-64 1 28 0 54 1 60 1-57 1-2 0-114 1 121 1-51 1 27 0 35 1-28 1 63 1-64 0-52 1 73 1-87 1 66 0-16 1-30 1-55 1 90 0-58 1 159 1-158 1-55 0 164 1-67 1 16 1 6 0 50 1-66 1 35 1-15 1-34 0 23 1 2 1-162 1 123 0 30 1-8 1-10 1 21 0-27 1 64 1-41 1-20 0-39 1 58 1-66 1 41 0 12 1-74 1 80 1-33 0 47 1-106 1 114 1 18 0-40 1-35 1 79 1-80 0 16 1 55 1 18 1-97 0 107 1-37 1 1 1-36 1-18 0 29 1 80 1 3 1-142 0 70 1-72 1 16 1 83 0-109 1-27 1 131 1-22 0-14 1-21 1 123 1-103 0-36 1-27 1-4 1-7 0 52 1-24 1-7 1-19 0 10 1-27 1 64 1 107 0-114 1 11 1-27 1 86 0-144 1 143 1-6 1-10 1-76 0-100 1 187 1-19 1-52 0 43 1-17 1-24 1 27 0-49 1 115 1-63 1-55 0 35 1-27 1 60 1-58 0 79 1-51 1 5 1-41 0 46 1-23 1 209 1-239 0 28 1-25 1 35 1-38 0-12 1 60 1 14 1-12 0 19 1 40 1 19 1-7 0-60 1-9 1 5 1 33 1-9 0-50 1-25 1 64 1-88 0 49 1 28 1-1 1-77 0 55 1 1 1-3 1 85 0-52 1-40 1 3 1-14 0 44 1-4 1-46 1-41 0 108 1-34 1 29 1 34 0-49 1 8 1 76 1-86 0 10 1 38 1-28 1-98 0 165 1-32 1-90 1 37 1-8 0 15 1 8 1 24 1-65 0 132 1-85 1 66 1-1 0-93 1-79 1 47 1 23 0-72 1 71 1 24 1-66 0 108 1-141 1 138 1-46 0 22 1-66 1-40 1 91 0-31 1-2 1 56 1-71 0 40 1 32 1-51 1 79 0-56 1 5 1 45 1-97 1 42 0 74 1-78 1-14 1 9 0-7 1 35 1-43 1 86 0-102 1-1 1-24 1 35 0-13 1-24 1 38 1-104 0 188 1-55 1-68 1 124 0-33 1 94 1-122 1 45 0-7 1-34 1 23 1-20 0-34 1 16 1 24 1 36 0-24 1-42 1 5 1-18 0 6 1-68 1 35 1 58 1-6 0 2 1-83 1 87 1 1 0 29 1 1 1-17 1-39 0-23 1 41 1 28 1-27 0-24 1 41 1-43 1 102 0-35 1-126 1 92 1 24 0 5 1-21 1 33 1-33 0-9 1-58 1 111 1-90 0 61 1-150 1 159 1-39 0-7 1 24 1-35 1-4 1 19 0-61 1 96 1-11 1 2 0-27 1-24 1 9 1 12 0 9 1-91 1 116 1-5 0 17 1 42 1-107 1 58 0-94 1 84 1-60 1 61 0-93 1 89 1 29 1-43 0 19 1-154 1 156 1-70 0 56 1-49 1 91 1-43 0-47 1 26 1 52 1-23 1-13 0-11 1 36 1-65 1-16 0 69 1-47 1-26 1-42 0 116 1-9 1-23 1 42 0-31 1 51 1-37 1-99 0 46 1-17 1 37 1 31 0 18 1 32 1-21 1-137 0 110 1-15 1-38 1 85 0-73 1 66 1-29 1 39 0-122 1 54 1-51 1 95 0-50 1 56 1-82 1 66 1-22 0-25 1 69 1-41 1 36 0-8 1 39 1-56 1-29 0 54 1-9 1 10 1-14 0-25 1 55 1-10 1-6 0 4 1-38 1 154 1-130 0-12 1-34 1-20 1 64 0-45 1 83 1-10 1-55 0 31 1-30 1 134 1-71 0-33 1 13 1 0 1 88 1-89 0 7 1-9 1-35 1-13 0 30 1 31 1-95 1 85 0-27 1-2 1 14 1 55 0 28 1-9 1-28 1 12 0-101 1 34 1 5 1 22 0 37 1-27 1-13 1-93 0 73 1 59 1-26 1-72 0 41 1 11 1 23 1 41 0-115 1 15 1 107 1-68 0 12 1-79 1 58 1 43 1-124 0 71 1-81 1 81 1-7 0 61 1 37 1-107 1-16 0 27 1-65 1 70 1 102 0-162 1 26 1 31 1 80 0-165 1 135 1-110 1 66 0-98 1 54 1 62 1 42 0-195 1 172 1-65 1-30 0 95 1-85 1 38 1 38 0-27 1-38 1 108 1-103 1 33 0-17 1-19 1-21 1 93 0-70 1-63 1 67 1 108 0-135 1 114 1-105 1 25 0-19 1-46 1 26 1 46 0-85 1 86 1-59 1 10 0 44 1 1 1 41 1-33 0-129 1 195 1-108 1 83 0-16 1 64 1 12 1-85 0-16 1-36 1-13 1 57 1 34 0-81 1 27 1 53 1-116 0 46 1 4 1 48 1 22 0-65 1 43 1-84 1 84 0-4 1-64 1 3 1 50 0-39 1 44 1 38 1-68 0 6 1 38 1 6 1 11 0 16 1-29 1 30 1-15 0 1 1 9 1-16 1-5 0-9 1 33 1-26 1 34 0-37 1-14 1 23 1-14 1-40 0 61 1-37 1 38 1-82 0 57 1-5 1 32 1-56 0-13 1-15 1 70 1-43 0 87 1-9 1-107 1-1 0 36 1 0 1-83 1 65 0-14 1 22 1 33 1 59 0-54 1 17 1-6 1-16 0 25 1-59 1 101 1-89 0 47 1-26 1 47 1-44 1-39 0 13 1 11 1-69 1 116 0-102 1 87 1-66 1 38 0 15 1-65 1 91 1-52 0-4 1-8 1 77 1-77 0 84 1-57 1-16 1 8 0 17 1 3 1-5 1 35 0-66 1 4 1 39 1 42 0-18 1-28 1 36 1-37 0 1 1 37 1 45 1-107 1 17 0-2 1-15 1 20 1-14 0 23 1 63 1-4 1 30 0-28 1-1 1-2 1 44 0-91 1 24 1 0 1-52 0-22 1-12 1 29 1-14 0-51 1 92 1-42 1 61 0-55 1 33 1-4 1 11 0 9 1 24 1-67 1-69 0 76 1 39 1 49 1-46 0-46 1 85 1-85 1 17 1 12 0 37 1-76 1 106 1-106 0 65 1-15 1-14 1-3 0 30 1-7 1-34 1-2 0-59 1 22 1 54 1-4 0-32 1 7 1 34 1-31 0 21 1 43 1 39 1-14 0-24 1-51 1 16 1-39 0 90 1 15 1-64 1 77 0-44 1 1 1 135 1-164 1-2 0-1 1-44 1 11 1 48 0 37 1-37 1-49 1-12 0-43 1 10 1 43 1 31 0 15 1-6 1 62 1-82 0 15 1 18 1-17 1 0 0 29 1-56 1 12 1 3 0-42 1 12 1 38 1 37 0 26 1-64 1 23 1-50 0 60 1-36 1 40 1-2 1-62 0 57 1-3 1-28 1-72 0 115 1-72 1 74 1-45 0-16 1-4 1-21 1 85 0-5 1-27 1-11 1 19 0 15 1-25 1-6 1 30 0-3 1-48 1 3 1 14 0-13 1 2 1-45 1 67 0 14 1-2 1-16 1 45 0-24 1 29 1-35 1-22 0 7 1 51 1-16 1-7 1-14 0 54 1 20 1-69 1-35 0-25 1 19 1 9 1 13 0-32 1 50 1 2 1 19 0-4 1-4 1 22 1-54 0-14 1 52 1-52 1 20 0-69 1 74 1-95 1 74 0-12 1-23 1 41 1-85 0 98 1-5 1-76 1 68 0 16 1-29 1 43 1-63 1 3 0 86 1-13 1-43 1-24 0 21 1-10 1 38 1 14 0-49 1 87 1-57 1 9 0-13 1 89 1-45 1-40 0-10 1 71 1-89 1-22 0 53 1 21 1 4 1-89 0 69 1-5 1-62 1 29 0 23 1 63 1-75 1 60 0-20 1-48 1 28 1 12 1-45 0-21 1 30 1 19 1 28 0-39 1-4 1 73 1-78 0 103 1-105 1 46 1-11 0-54 1-1 1 10 1 25 0-3 1-55 1 63 1 21 0-41 1-20 1 18 1 70 0-90 1 56 1-23 1-64 0 12 1 46 1-47 1 31 0-42 1 9 1-41 1 67 0-20 1 48 1-3 1 25 1-16 0-5 1-14 1 159 1-161 0 43 1-77 1 85 1-27 0 18 1-49 1 51 1 8 0-15 1-34 1 6 1 35 0 41 1-96 1 0 1 77 0-37 1-1 1 35 1-30 0 52 1-25 1-7 1-10 0-46 1-73 1 101 1-10 0-21 1 44 1-44 1 14 1-21 0 72 1-2 1-46 1 42 0-53 1 1 1 5 1-61 0 136 1-105 1 25 1-38 0 79 1 11 1-28 1-2 0-55 1-27 1 51 1-3 0 2 1-4 1 25 1-20 0-34 1 16 1 39 1-14 0-18 1 51 1-2 1-28 0 6 1-44 1 33 1-4 1 55 0-118 1 41 1 64 1-30 0 19 1-115 1 92 1 1 0 40 1 55 1-106 1 24 0-12 1 11 1-7 1 14 0-32 1-2 1-43 1-4 0 40 1 14 1-101 1 90 0-68 1-34 1 86 1 66 0 22 1-67 1-23 1 77 0 5 1-49 1 35 1-55 0 45 1-41 1 8 1-12 1 18 0 1 1-59 1 142 1-69 0 54 1-104 1 45 1 24 0 85 1-73 1-20 1-55 0 49 1 16 1-26 1-48 0 58 1 7 1-32 1-48 0 28 1 77 1-61 1 12 0 19 1 57 1-104 1 27 0-33 1 66 1-9 1-55 0 101 1-63 1 18 1 7 1-41 0-43 1 78 1-5 1-10 0-10 1-11 1-9 1 17 0-9 1 24 1-94 1 77 0 6 1-6 1 17 1 18 0-60 1 54 1-104 1 90 0-13 1 57 1-111 1 78 0 20 1-52 1 43 1-46 0 7 1-22 1-47 1 47 0 47 1 44 1-141 1 52 1 53 0-63 1 26 1 46 1-64 0-17 1 32 1-7 1 23 0-93 1 151 1-47 1-109 0 108 1 1 1 11 1-46 0 15 1-32 1 67 1 4 0-20 1 8 1 31 1-12 0-8 1-97 1 98 1-95 0 82 1 27 1-77 1 7 0-38 1 92 1-88 1 134 0-7 1-96 1-23 1 32 1-10 0 18 1-30 1 0 1 20 0-9 1 37 1 102 1-87 0-38 1-1 1 129 1-48 0-86 1 74 1-72 1 98 0-61 1 34 1-45 1 24 0 33 1-25 1-5 1 15 0-3 1-92 1 40 1 24 0-47 1 36 1 75 1-10 0-54 1 48 1-43 1-29 1 71 0-16 1-16 1-45 1 47 0 7 1-70 1 49 1 61 0-84 1 5 1 47 1-69 0 77 1-19 1-25 1 23 0 43 1-26 1-9 1-71 0 115 1 9 1-47 1 2 0-22 1 43 1-13 1-71 0 50 1-85 1 35 1 13 0 3 1-30 1 10 1 40 1-80 0 45 1 1 1-18 1-53 0 71 1-50 1 40 1-34 0 51 1 55 1-49 1 23 0-68 1 38 1 8 1-40 0 37 1 71 1-47 1 17 0-25 1 50 1-38 1-3 0 18 1 19 1-71 1 80 0-96 1 22 1 13 1 34 0-86 1 68 1 19 1-13 0-39 1 40 1-39 1 31 1 1 0-55 1 37 1 13 1-10 0-48 1 46 1-12 1 50 0-47 1 16 1 27 1-62 0 4 1-15 1 44 1 15 0-96 1 125 1-70 1 7 0-16 1 16 1-6 1 11 0-10 1 19 1-12 1-80 0 145 1 34 1-109 1-69 0 110 1-62 1 46 1-20 1 32 0-73 1 46 1-56 1-33 0 15 1 36 1 116 1-84 0-7 1 48 1 3 1 9 0-117 1-15 1 101 1 3 0-35 1 5 1 54 1-36 0-16 1 26 1-70 1 70 0-1 1 109 1-90 1-69 0-10 1 34 1-12 1 39 0 17 1 2 1-49 1 41 1 39 0-76 1 62 1 8 1-35 0-17 1 25 1-42 1 32 0-38 1 52 1-40 1 32 0-28 1 15 1 36 1-88 0 58 1-34 1 77 1-65 0 3 1 16 1-18 1 16 0-19 1 24 1-29 1 48 0 1 1-5 1 9 1-12 0-20 1 3 1 31 1 16 0 5 1-112 1 113 1-43 1-71 0 36 1 16 1 26 1 4 0-19 1-10 1-4 1 2 0 49 1-20 1-10 1-29 0-53 1 48 1 15 1-33 0 10 1-13 1 28 1 56 0-15 1-32 1-18 1-17 0 10 1 7 1-1 1 78 0-87 1 57 1 76 1-56 0 52 1-44 1-2 1-5 1-6 0-91 1 51 1 38 1-76 0 72 1-19 1-28 1 16 0 9 1-11 1-19 1-8 0 33 1 32 1-60 1 10 0-30 1 27 1 23 1 7 0-43 1 95 1-59 1 54 0-54 1 17 1-9 1-10 0-24 1-4 1 64 1-47 0 49 1-8 1 18 1-16 1 35 0 19 1-17 1-41 1-92 0 124 1-65 1 80 1-52 0-45 1 8 1 34 1-69 0 64 1 8 1 45 1-59 0-2 1 17 1-39 1 38 0 10 1-9 1-56 1 35 0-51 1 20 1 37 1 75 0-92 1-11 1-28 1-21 0 33 1 31 1 2 1-20 0 3 1 5 1 1 1-87 1 131 0 32 1-82 1 6 1 42 0-86 1 22 1-25 1 7 0 10 1 38 1 10 1-27 0-44 1 79 1-11 1-8 0-1 1 30 1-49 1 6 0-14 1 67 1-13 1-71 0-26 1-20 1 25 1 50 0-48 1-1 1-10 1 110 0 17 1-145 1 64 1-31 1 53 0-95 1 68 1 7 1 73 0-27 1 25 1-85 1 53 0-66 1 48 1-19 1-28 0 57 1-39 1 108 1-63 0-63 1-53 1 149 1-119 0 4 1 72 1 7 1-29 0-6 1-12 1 57 1-57 0 28 1-4 1-25 1 12 0 5 1 4 1 1 1-12 1 31 0-1 1 8 1-20 1 18 0 28 1-47 1 2 1 15 0-24 1-44 1 56 1-70 0-27 1 115 1-71 1 32 0-18 1-6 1 9 1 12 0 18 1 40 1 50 1-44 0 11 1-46 1 23 1 25 0 16 1-41 1 25 1-49 0 7 1-15 1-34 1 67 0-41 1 35 1-8 1-25 1 57 0-62 1 3 1 19 1-10 0 26 1-51 1 85 1-23 0-58 1 46 1-22 1 71 0-74 1 3 1-9 1 57 0-95 1 24 1 10 1-3 0 20 1 19 1-68 1-1 0 41 1 26 1 46 1-116 0 32 1-93 1 68 1-8 0 34 1 18 1 8 1 31 1-3 0-106 1 102 1 102 1-135 0 66 1-40 1-5 1 7 0-71 1 25 1 62 1-166 0 102 1-41 1 7 1 48 0 60 1 20 1-138 1 125 0-79 1 92 1-18 1-66 0 44 1-26 1 30 1 8 0-76 1 27 1 18 1 20 0 18 1-33 1-27 1-5 0 12 1-2 1 73 1-81 1 60 0-8 1-63 1 16 1 41 0 0 1 42 1-25 1-36 0 17 1-46 1 50 1-29 0 67 1-56 1-13 1 20 0 50 1-68 1 67 1-45 0-39 1 21 1 23 1-38 0 70 1-87 1 19 1 109 0-92 1-25 1 22 1 86 0-26 1 7 1-135 1 73 1-45 0 91 1-101 1 25 1 10 0 9 1 27 1-61 1 37 0 30 1-49 1-36 1-3 0-1 1 20 1 29 1-55 0 3 1 72 1 17 1-45 0 0 1 52 1 86 1-109 0-51 1 9 1 59 1-60 0 40 1-36 1-44 1 24 0 13 1-38 1 82 1-30 1-11 0-4 1 18 1-82 1 60 0-14 1 13 1 50 1-93 0-3 1 27 1 11 1-4 0 66 1-106 1 76 1 36 0-61 1 54 1-14 1-33 0 4 1-16 1 47 1 14 0-41 1-46 1 10 1 2 0 57 1 8 1-73 1 1 0 39 1 8 1 13 1 52 0-57 1-21 1 10 1 17 1-14 0 63 1 30 1-95 1 27 0-32 1 26 1-26 1-19 0 33 1 57 1-116 1 59 0-35 1 42 1 27 1 57 0 10 1-111 1 40 1-74 0 29 1-21 1 18 1 49 0-99 1 29 1 41 1-16 0 15 1-17 1 18 1-37 0 13 1 14 1-6 1 25 1-4 0-16 1 4 1 80 1-63 0 14 1-99 1 19 1 31 0 45 1-11 1-72 1 21 0 76 1-11 1 52 1-49 0-19 1-3 1-36 1 51 0-32 1-17 1 61 1-81 0-2 1 23 1 21 1-16 0-23 1 48 1 0 1-32 0 54 1 23 1-60 1 25 1 36 0-98 1 37 1 54 1 5 0-22 1-18 1-48 1 50 0-27 1 61 1-53 1 0 0-36 1 25 1 50 1-35 0-9 1 102 1-70 1-10 0-2 1 107 1-102 1-30 0 47 1-12 1 0 1 16 0 18 1-3 1-81 1 9 0 93 1-38 1-41 1 18 0-66 1 187 1-111 1 15 1 63 0-36 1-3 1 63 1-32 0-125 1 40 1-31 1 30 0-63 1 57 1 6 1-59 0 34 1-53 1 79 1-2 0-98 1 93 1 50 1-45 0 72 1-36 1-29 1 45 0-27 1 82 1-63 1 1 0-4 1-62 1-11 1 92 0 6 1-50 1-9 1 49 1-17 0-17 1 60 1-34 1-45 0-12 1 26 1-1 1 9 0-35 1 50 1-74 1-15 0 23 1 34 1-6 1 30 0 7 1-2 1-21 1 12 0-10 1 7 1-11 1 50 0-79 1-119 1 145 1-35 0-14 1 112 1-105 1 45 0 53 1 21 1-92 1-8 1 28 0 8 1-45 1 41 1 12 0 21 1-38 1 59 1-96 0 43 1 6 1 32 1-62 0 56 1-7 1 50 1-45 0 24 1-20 1 79 1-39 0-124 1 66 1 50 1-26 0-91 1 36 1 35 1-1 0-55 1 35 1 29 1 6 0-85 1 104 1-119 1 75 0-87 1 72 1 11 1 51 1 11 0-50 1 24 1-12 1-1 0-14 1 25 1-92 1-33 0 35 1 26 1 31 1-57 0-91 1 127 1-19 1 5 0 9 1-27 1 14 1-29 0 80 1-5 1-59 1 48 0-38 1 56 1-69 1-26 0 76 1-42 1 55 1-34 0 41 1-97 1 36 1 11 1 34 0-130 1 94 1 15 1-28 0 87 1-53 1-13 1-4 0 46 1-22 1-11 1-2 0-5 1 27 1-35 1 45 0 24 1-41 1 38 1 13 0-100 1 72 1 11 1-40 0 71 1 63 1-229 1 132 0 12 1-47 1 108 1-90 0 16 1-45 1 13 1-7 1-28 0 15 1 53 1-63 1 14 0-19 1 27 1 13 1-48 0 91 1-53 1 43 1 9 0-40 1 1 1 64 1-94 0 33 1-39 1-28 1 59 0 25 1-24 1 39 1-30 0-36 1 2 1 4 1 52 0-71 1 130 1-87 1 78 0-41 1-49 1 31 1 18 0-25 1 22 1-54 1 11 1 40 0-10 1-56 1 54 1-50 0 38 1-40 1 12 1 27 0-113 1 20 1 46 1-5 0 47 1-21 1-6 1 66 0-34 1 67 1-52 1-52 0 56 1-45 1 89 1-91 0 9 1 32 1-26 1-9 0 11 1 17 1-26 1-75 0 65 1 17 1-69 1 12 1 20 0 23 1 32 1-26 1 13 0-28 1 67 1-92 1 36 0-49 1 140 1-71 1-101 0 62 1 72 1-24 1-8 0 32 1-95 1 41 1 39 0-49 1-28 1 24 1 1 0 55 1-38 1 48 1-51 0-14 1 8 1-19 1 37 0-56 1 37 1 6 1-35 1 31 0 43 1-65 1-32 1 41 0-21 1 1 1-47 1 103 0-32 1-41 1 56 1-20 0-19 1 29 1-17 1-26 0 52 1-52 1 48 1 3 0-56 1 32 1 58 1-36 0-5 1 1 1 23 1-14 0-47 1 11 1 73 1 14 0-138 1-22 1-10 1 105 0-4 1-42 1 107 1-74 1 11 0 62 1-64 1 59 1-50 0-7 1-33 1 71 1-49 0 9 1 21 1-60 1 67 0-29 1 2 1 5 1-55 0 24 1-34 1 90 1-55 0 94 1-67 1-50 1 100 0-46 1 35 1-24 1 8 0-6 1 25 1 0 1-24 0-6 1 6 1-5 1 21 1 54 0-57 1 16 1-52 1 126 0-120 1 11 1 54 1 24 0-57 1 14 1 66 1-14 0-34 1 25 1-125 1 54 0 38 1-36 1 35 1-137 0 94 1 33 1 44 1-71 0 88 1-104 1 54 1-124 0 95 1 9 1-78 1 49 0-63 1 125 1-34 1-27 1-43 0 15 1 31 1-2 1-28 0 19 1 22 1 43 1-55 0 25 1-8 1-14 1 25 0-73 1 32 1 7 1 52 0-62 1-11 1 82 1-6 0-42 1-43 1-70 1 70 0 119 1-91 1-50 1 59 0 6 1 23 1 25 1 74 0-49 1-19 1 1 1-38 0-3 1 24 1-53 1-20 1 71 0 32 1-38 1-22 1-12 0 36 1-18 1 13 1-28 0 35 1-78 1 6 1 97 0-60 1-15 1-2 1 87 0-68 1-13 1 21 1-39 0 7 1 70 1-28 1 29 0-41 1-51 1 64 1-46 0 15 1 1 1 3 1 6 0-23 1 37 1-45 1 15 1 39 0 5 1-76 1 105 1-74 0-76 1 137 1-48 1 128 0-137 1-2 1 9 1-13 0 70 1-43 1 41 1-55 0 85 1-46 1-31 1 0 0 38 1-5 1 16 1-33 0 27 1 40 1-40 1-43 0 50 1-69 1-48 1 72 0-1 1 78 1-60 1 30 1-73 0 55 1-17 1 22 1-25 0 6 1-38 1-50 1 55 0 39 1-8 1 1 1 32 0-45 1 20 1-23 1-19 0-43 1 104 1-82 1 1 0 93 1-28 1 6 1-82 0 21 1 14 1 12 1 55 0-48 1 21 1-21 1 43 0-7 1-4 1-69 1-5 0 12 1-2 1 19 1-41 1 55 0-6 1-45 1-12 1 33 0 9 1-30 1 18 1 0 0-9 1 8 1 47 1 4 0-45 1-56 1 71 1-47 0 34 1-57 1 128 1-25 0-80 1-7 1 64 1-49 0 47 1 1 1-73 1 81 0 13 1 30 1-5 1-18 0-80 1 91 1-56 1 55 1-52 0 21 1 124 1-165 1 61 0 31 1-40 1-14 1-3 0 52 1-2 1-96 1 6 0 43 1-10 1-22 1 40 0 7 1-22 1 9 1 5 0-51 1-13 1 40 1-4 0 62 1-61 1-17 1 16 0 67 1-17 1-48 1 73 0-72 1 15 1-80 1 97 1-1 0-63 1-4 1 79 1-22 0-11 1 8 1-14 1-23 0 94 1-97 1 27 1-6 0-30 1 19 1 89 1-137 0 84 1 83 1-7 1-122 0 70 1-73 1-1 1 6 0 66 1-61 1-27 1 67 0 16 1-39 1 26 1-14 0-20 1 2 1-24 1 61 0 5 1-24 1-42 1 17 1 90 0-83 1 28 1-6 1-83 0 80 1-10 1-42 1-21 0 55 1-2 1-58 1 77 0-39 1-10 1 42 1-11 0-57 1 35 1 29 1-86 0 78 1 5 1 33 1-29 0 5 1 15 1-2 1 16 0 32 1-58 1 51 1 45 0 13 1-102 1 61 1-70 1-10 0 14 1-45 1 71 1-15 0-24 1-22 1 95 1-134 0 91 1-73 1 79 1-5 0-32 1 24 1-33 1 13 0-79 1 50 1 16 1-32 0 36 1 83 1-109 1 88 0-9 1-72 1-76 1 124 0-55 1 96 1-63 1 27 0 25 1 35 1-115 1 49 1-35 0 15 1 18 1 1 1 42 0-40 1-43 1-19 1 85 0-72 1 90 1-58 1 13 0-30 1 63 1-53 1 33 0 39 1-20 1-31 1-35 0 6 1 84 1-69 1-4 0-4 1 23 1 25 1-6 0-30 1-13 1 52 1-4 0-69 1 18 1 25 1 11 0 6 1 16 1-65 1 71 1-93 0-62 1 170 1-10 1-22 0 54 1-26 1-27 1 67 0-63 1-37 1 0 1 7 0 47 1-13 1 16 1-23 0-25 1 25 1 50 1-2 0-18 1-39 1-31 1 14 0-27 1 20 1-15 1-5 0 25 1-40 1-21 1 34 0 37 1-10 1-40 1 33 1 12 0 0 1-23 1-6 1 51 0-72 1 64 1-73 1 124 0-159 1 28 1-2 1 87 0 2 1-47 1 53 1-63 0-20 1 68 1 7 1-18 0-45 1 54 1 35 1 2 0-88 1 35 1-19 1 19 0-21 1-16 1 10 1 117 0-74 1-41 1 64 1-98 1 96 0-36 1-11 1-22 1-92 0 183 1-98 1 16 1 16 0-9 1 27 1-62 1 37 0-31 1-52 1 29 1 23 0 0 1 193 1-198 1 46 0 31 1-67 1-47 1 106 0-47 1 32 1-4 1-57 0 56 1-4 1-10 1 53 0-40 1-37 1-3 1 25 0-32 1-15 1 112 1-44 1-20 0-22 1 15 1-28 1 51 0-41 1 59 1 29 1-83 0 36 1 5 1 53 1-88 0 35 1-34 1 33 1 7 0 22 1-18 1-20 1 2 0 13 1 13 1-84 1 32 0 42 1-42 1 10 1 99 0-115 1 77 1-81 1 40 0-34 1 55 1-12 1 52 1-49 0-15 1-18 1 53 1-46 0 39 1-40 1-2 1 45 0 2 1-19 1 80 1-38 0-31 1 13 1-54 1 83 0-90 1 58 1 7 1-53 0 49 1 17 1-63 1 39 0 84 1-99 1 36 1-11 0-79 1 48 1 11 1 83 0-88 1 6 1-12 1 39 0-93 1 47 1 4 1-63 1 39 0 6 1 33 1-23 1 7 0 32 1-60 1 14 1-6 0 1 1 20 1 21 1-35 0 15 1-52 1-26 1 118 0-52 1 21 1-10 1-57 0 35 1 87 1-120 1 68 0-31 1 38 1 0 1-4 0-19 1-55 1 67 1-9 0 24 1-28 1-13 1 7 1 22 0-1 1-22 1-56 1-30 0-6 1 92 1-6 1 23 0-10 1-28 1-32 1-17 0 77 1-11 1-47 1 0 0 36 1 26 1-40 1-39 0 3 1 63 1 33 1-24 0 37 1-57 1 11 1-61 0 19 1 33 1-34 1 51 0 1 1-27 1 84 1-102 1 68 0 39 1-46 1-53 1 91 0-34 1-18 1-8 1 28 0 62 1-25 1-60 1 86 0-92 1 27 1-10 1 6 0 47 1-112 1 174 1-87 0 47 1-51 1-1 1 109 0-87 1 19 1-36 1 16 0 23 1-38 1-55 1 28 0-29 1-9 1 68 1 22 0-26 1-46 1 34 1-31 1 50 0-4 1-2 1-26 1-71 0 41 1 63 1-16 1 27 0-55 1 15 1 30 1-16 0 23 1-1 1-59 1 28 0 22 1 18 1-17 1 3 0-56 1 48 1-28 1-3 0-19 1 60 1-15 1-61 0 9 1 51 1-79 1 42 0 16 1-15 1 56 1-42 1-4 0-154 1 170 1-13 1 55 0-4 1-45 1-74 1 96 0-44 1 22 1-14 1-18 0 59 1-16 1 8 1 53 0-83 1 15 1 6 1-37 0 31 1-62 1 70 1 26 0-52 1-45 1 93 1-16 0 60 1-114 1 74 1 12 0-23 1 19 1-21 1 46 1-24 0-20 1-32 1 61 1 18 0-27 1-17 1 13 1-14 0 20 1-33 1-33 1 67 0-37 1 1 1 18 1-6 0 66 1-57 1-23 1-6 0-42 1 103 1 8 1-58 0 95 1-113 1 48 1 19 0-31 1 8 1-48 1 71 0-6 1-9 1 16 1 28 0-75 1 3 1 32 1-26 1 31 0-35 1 18 1 59 1-102 0-28 1 42 1-18 1-45 0 55 1-59 1 67 1 14 0-96 1 119 1-5 1-60 0 11 1 57 1-74 1 19 0 13 1-10 1-38 1 67 0-18 1 24 1-25 1-44 0 11 1 6 1 21 1-76 0 95 1 29 1-65 1 19 1-27 0 38 1 44 1-76 1-40 0 100 1-58 1-80 1 84 0-28 1 33 1 63 1-9 0 1 1-70 1 28 1-10 0 33 1 33 1-47 1-27 0-7 1 41 1-50 1 37 0 11 1-20 1 1 1 14 0-33 1-10 1 22 1-1 0 68 1-67 1 61 1-5 1 1 0 44 1-66 1-16 1-7 0 0 1 30 1-124 1 71 0-36 1 89 1-19 1-19 0 31 1 55 1-18 1-52 0-3 1-53 1 13 1-2 0 88 1-8 1-75 1 40 0 27 1 24 1-76 1 27 0 23 1-46 1 6 1-22 0 9 1 38 1 17 1-67 0-10 1 41 1 18 1 42 1-59 0-24 1 44 1-22 1 32 0-5 1-11 1-31 1-11 0-66 1 86 1 5 1-61 0 95 1-15 1-37 1 11 0 47 1-84 1-3 1 81 0-10 1 26 1-51 1 12 0 15 1-104 1 72 1-9 0 43 1-28 1-3 1-23 0 15 1-25 1-2 1 14 1-2 0 84 1-34 1-22 1-26 0 74 1-84 1 86 1-37 0-38 1 58 1-36 1 61 0-43 1-18 1 49 1-34 0 26 1 31 1-49 1 40 0-23 1 4 1-60 1 5 0-11 1 28 1 56 1-48 0 33 1 62 1-86 1 40 0-42 1-81 1 103 1-28 1 21 0-19 1-4 1-18 1 15 0-28 1 98 1-35 1-62 0 31 1 0 1-1 1 97 0-87 1-52 1 20 1 79 0-117 1 18 1 85 1-50 0 67 1-2 1 13 1-130 0 14 1 1 1 113 1-76 0 96 1-137 1 9 1 12 0-18 1 76 1-55 1 38 0-5 1-9 1 17 1 35 1-54 0 70 1-98 1-1 1 37 0 32 1-24 1-7 1-28 0 110 1-123 1 17 1 10 0 26 1 1 1-55 1 35 0 57 1-45 1-14 1 44 0-3 1-59 1 53 1-32 0-27 1 51 1-8 1-57 0-15 1 118 1-100 1-25 0 35 1-5 1 23 1-74 1 47 0-57 1 23 1 87 1-44 0 33 1-50 1 38 1 13 0-70 1 36 1 2 1-19 0 5 1 32 1 13 1-12 0-76 1 70 1-43 1 55 0 0 1-69 1 135 1-80 0 72 1 22 1-31 1-54 0-19 1-13 1 59 1-26 0 34 1-70 1 78 1 15 1-51 0 58 1-12 1-4 1 28 0-89 1 13 1 33 1-19 0 91 1-43 1 31 1-72 0 62 1 5 1-83 1 46 0-56 1 79 1-63 1-9 0 10 1 3 1-27 1 40 0-25 1-4 1-2 1 31 0-52 1 95 1-32 1-46 0 18 1 15 1-4 1 26 0-14 1-34 1-13 1 6 1 128 0-89 1-79 1 89 1-52 0 44 1-10 1 16 1-10 0 1 1 8 1-5 1-84 0 93 1 4 1 18 1 6 0-109 1-1 1-6 1 8 0-23 1 22 1-15 1-6 0 5 1-68 1 84 1 50 0-7 1 16 1-68 1 98 0-108 1 29 1-24" stroke="#000000"/>
<path d="M3848 4116l1-31 1 142 0-82 1 54 1-152 1 102 0-15 1-10 1 40 1-105 0 146 1-153 1 23 1-80 0 79 1 43 1-42 1 37 0 18 1-61 1 5 1-4 0 31 1-16 1 63 1 49 0-134 1 10 1 34 1-60 0 9 1 54 1 100 1-53 0-41 1 15 1 18 1 63 1-87 0-99 1 26 1 51 1-111 0 139 1-1 1-81 1-47 0-22 1 38 1 73 1-123 0 111 1-69 1 119 1-69 0-109 1 191 1 7 1-22 0-73 1 41 1 60 1-35 0 13 1-59 1-37 1 249 0-133 1-15 1-36 1-21 0 48 1 50 1-26 1 32 0-37 1 10 1-30 1-17 1 26 0-46 1 12 1 41 1-33 0 56 1 51 1-67 1-21 0-103 1 109 1-4 1 32 0-27 1 0 1 44 1 22 0-74 1-125 1 53 1 35 0-34 1-73 1 123 1 37 0-48 1-73 1 76 1 59 0-1 1-23 1-56 1 66 0-40 1-8 1-62 1 100 1 42 0-130 1 126 1-85 1 57 0-70 1 110 1-145 1-4 0 59 1-1 1-75 1 58 0 62 1-67 1 5 1 35 0-10 1 83 1-37 1 30 0-82 1 5 1-6 1 18 0 23 1 105 1-129 1-20 0 75 1-42 1 11 1-29 0-6 1 10 1-54 1-28 1 39 0 30 1 94 1-129 1 111 0-53 1-108 1 118 1-71 0 56 1 43 1-32 1 92 0-134 1 6 1 5 1-14 0 138 1-150 1 116 1-159 0 26 1 158 1-189 1 110 0 13 1 63 1-34 1-34 0-100 1 51 1 124 1-129 0 135 1-62 1-53 1 25 0 70 1-118 1 36 1 12 1-44 0 50 1-79 1 46 1 11 0 31 1-38 1-76 1 127 0 11 1 20 1-74 1-33 0-25 1-28 1 131 1-91 0-29 1 55 1 48 1-46 0-47 1-7 1 106 1-82 0-115 1 191 1-116 1-24 0 65 1 24 1 56 1-137 0 61 1-3 1 107 1-41 1-36 0-135 1 151 1-122 1 12 0 93 1 45 1-38 1-84 0 50 1 0 1 22 1 40 0-66 1-81 1-12 1 14 0 155 1-168 1 2 1 182 0-97 1-52 1 44 1 54 0-49 1-22 1 31 1-39 0 37 1-8 1 74 1-47 0 27 1 13 1-75 1 110 1-144 0 85 1-74 1 26 1 115 0-42 1-87 1 20 1 7 0 39 1-85 1 76 1-106 0 43 1 73 1 113 1-114 0-57 1 35 1-66 1-8 0 56 1 43 1-91 1 59 0-18 1 24 1-42 1 73 0-97 1 73 1-68 1-65 0 95 1 0 1 26 1 40 0-75 1-6 1 53 1-84 1 173 0-96 1 28 1-2 1-36 0-14 1 95 1-72 1 0 0-6 1 106 1-145 1 126 0-77 1 22 1-152 1 150 0-82 1 108 1-4 1 33 0 3 1 19 1-58 1 124 0 5 1-57 1 0 1-81 0 56 1-11 1-23 1-33 0 14 1-75 1 75 1 40 1-153 0 249 1-235 1 102 1 62 0-89 1 7 1-54 1 0 0 5 1 61 1 113 1-113 0-49 1 33 1 1 1 9 0 18 1-34 1 17 1-14 0 12 1-141 1 201 1-177 0-18 1 19 1 59 1-51 0 89 1-112 1 77 1 1 0 32 1-87 1-18 1 82 1-56 0-9 1-69 1 23 1-16 0 36 1-52 1-13 1 74 0 40 1-12 1-49 1 51 0 23 1-45 1 3 1-63 0 61 1 42 1 10 1 4 0-94 1 126 1-44 1-5 0-79 1 55 1 44 1-22 0 68 1 10 1-21 1-84 0 6 1 51 1 37 1-61 0 23 1-40 1 7 1 59 1 9 0-108 1 61 1 18 1-14 0 34 1-70 1 35 1 53 0-67 1 8 1 18 1-48 0 4 1 37 1-34 1-39 0 61 1 2 1-1 1 8 0-11 1-64 1-28 1-84 0 138 1 7 1-10 1-28 0 18 1 72 1-15 1-21 0-9 1-6 1 21 1-28 1 17 0 14 1-50 1 32 1-28 0 19 1-14 1 90 1-62 0-44 1 7 1 72 1-7 0 21 1-137 1 134 1-107 0 164 1-108 1-1 1-6 0 62 1-95 1 6 1 123 0-32 1-30 1 18 1-91 0 122 1-42 1-15 1 31 0-48 1 18 1 12 1-85 1 87 0 14 1-34 1-9 1 49 0-4 1-52 1 1 1 3 0 27 1 10 1 32 1-68 0-55 1 44 1 19 1 29 0 23 1-18 1 38 1-65 0 5 1-45 1 107 1 38 0-136 1 24 1 2 1 6 0-48 1 32 1 7 1 8 0-43 1 50 1-83 1 27 0 14 1 15 1 58 1-58 1-46 0 59 1 42 1-102 1-7 0 30 1-9 1 98 1-14 0 29 1-69 1-10 1-87 0 87 1 42 1 8 1-21 0 13 1 56 1-81 1 18 0 33 1-72 1 82 1-104 0 78 1-26 1-31 1 38 0 63 1-141 1 29 1 112 0-87 1-58 1 116 1-66 1 15 0-116 1 92 1 79 1-1 0-25 1 46 1-17 1-90 0 45 1 15 1-78 1 14 0 61 1 74 1-19 1-44 0-45 1 8 1 10 1 32 0-68 1 74 1-37 1 47 0 9 1-85 1-4 1 69 0-47 1 34 1 50 1-57 0 23 1-27 1-6 1 19 1 8 0-133 1 60 1 34 1 2 0 51 1-19 1-6 1 73 0-93 1 137 1-51 1-61 0 59 1-62 1-13 1 65 0 2 1-139 1 70 1 30 0 25 1 29 1-58 1-38 0 5 1-78 1 116 1-30 0-22 1 23 1 25 1-53 0-11 1 27 1 14 1-16 0-30 1 43 1 24 1-17 1-49 0 15 1 57 1-90 1-2 0 62 1 95 1-59 1-44 0 11 1-34 1 32 1-30 0 7 1 11 1 80 1-87 0 31 1 14 1-6 1-14 0 32 1 16 1-26 1 27 0-21 1-57 1 46 1-24 0 15 1 25 1-29 1-27 0-54 1 97 1-367 1-284 1 652 0-202 1 157 1 60 1-26 0 20 1 30 1-4 1-38 0 12 1-38 1 10 1-1 0-7 1 66 1-59 1 20 0 89 1-145 1 11 1-9 0 165 1-147 1 82 1-22 0 67 1-85 1 38 1-92 0 86 1-18 1-49 1 75 0 22 1-81 1 61 1-4 0-36 1 0 1-41 1 73 1-4 0-71 1 42 1 26 1-19 0-18 1 39 1-15 1 51 0-30 1 26 1-85 1 33 0-43 1 47 1-135 1 110 0 74 1-68 1 2 1 64 0-84 1-10 1 28 1-46 0 43 1-1 1-23 1 60 0-32 1-3 1 20 1 38 0-9 1-50 1 31 1 20 1-97 0 105 1-41 1 22 1-28 0-42 1 65 1-109 1 36 0 52 1-37 1 77 1 24 0-33 1-100 1-1 1 187 0-116 1 4 1 67 1-48 0-65 1 133 1-148 1 58 0 19 1 35 1-34 1-33 0 68 1 20 1 9 1-11 0-50 1 38 1 48 1-92 1 18 0-2 1-25 1-49 1 148 0-89 1 71 1-18 1 16 0-99 1 73 1-102 1 72 0 1 1 49 1-21 1-85 0 58 1-36 1 64 1-47 0-22 1-30 1 86 1 22 0-58 1 18 1 28 1-23 0-36 1 21 1-40 1 55 0 24 1-48 1-30 1 87 0-41 1-61 1 40 1-169 1 274 0-32 1-76 1 21 1 21 0-1 1 10 1-7 1-66 0 60 1-45 1 44 1 4 0-51 1-8 1-61 1 79 0 56 1-66 1 30 1-44 0 51 1 29 1 2 1-50 0 54 1-110 1 22 1 35 0 25 1-66 1 35 1 18 0-17 1-34 1 43 1-64 1-121 0 160 1-10 1-84 1 92 0-89 1 155 1-19 1-10 0-88 1 28 1-31 1 56 0-112 1 144 1-50 1 64 0-76 1-11 1 51 1-46 0 15 1 59 1-17 1-66 0 88 1-48 1 12 1-37 0-44 1 51 1 0 1 61 0-47 1 60 1-56 1 67 1-84 0-30 1 74 1 43 1-116 0 71 1 7 1-19 1 7 0-31 1-60 1 74 1-15 0-2 1-7 1 70 1-27 0-70 1 25 1 44 1-114 0 75 1 46 1 34 1-93 0-4 1 53 1-73 1-22 0-9 1 167 1-103 1-12 0 26 1 24 1-46 1-35 0 138 1 18 1-129 1 30 1 25 0-26 1-48 1 146 1 13 0-138 1 108 1-105 1 129 0-19 1 24 1-74 1-38 0-4 1 39 1 28 1-37 0 84 1-83 1-22 1-36 0 98 1 15 1-139 1 163 0-22 1-95 1-3 1 83 0-6 1-31 1-17 1 12 0-93 1 9 1 121 1-25 1 21 0-22 1 21 1-66 1 47 0-29 1-33 1 3 1-47 0 82 1 23 1-27 1 35 0-40 1 90 1-2 1-51 0 23 1-19 1-32 1 84 0 33 1-49 1-59 1 20 0 19 1 12 1 43 1-68 0 13 1-35 1 51 1-32 0 12 1 24 1-78 1 75 1-59 0 31 1-3 1 12 1-45 0 2 1 45 1-42 1 66 0-119 1 146 1-68 1-173 0 187 1-32 1 10 1-3 0-36 1 43 1 70 1-165 0 48 1 32 1 37 1-23 0 70 1-80 1 23 1 50 0-40 1-8 1-74 1 53 0 41 1-39 1-36 1-30 0 53 1-12 1 37 1-37 1-1 0 55 1-42 1-10 1 6 0 17 1-45 1 34 1-54 0 35 1 25 1 32 1-120 0 128 1-2 1-51 1 15 0-13 1 19 1 135 1 128 0-354 1 214 1-119 1-62 0-14 1 86 1-4 1-30 0 37 1 12 1 28 1-73 0-30 1 56 1-14 1-9 1 35 0-44 1 10 1 61 1-31 0-33 1-18 1-28 1 34 0-3 1 4 1-5 1-43 0-35 1 71 1 19 1 8 0 0 1 7 1-32 1 6 0 53 1-95 1 20 1 54 0-66 1 54 1-23 1 5 0 58 1-80 1 60 1-61 0 32 1-5 1 23 1-32 1 27 0 78 1-64 1-18 1-55 0 56 1-33 1 7 1-17 0 91 1-36 1-5 1-5 0 17 1-44 1-86 1 48 0-7 1 17 1 6 1 87 0-55 1-10 1 51 1-33 0-47 1-11 1-19 1 79 0-37 1 50 1 3 1-46 0-35 1 20 1 28 1 29 0 8 1-52 1-20 1 1 1 7 0 26 1-75 1 66 1 29 0-8 1-27 1 98 1-88 0 0 1 41 1-5 1-52 0-41 1 28 1-6 1 12 0 41 1 10 1-32 1 19 0 62 1-30 1-46 1 82 0-96 1 21 1-24 1 0 0 38 1 44 1-77 1 51 0 41 1 34 1-119 1 47 1 54 0-2 1-52 1 39 1-133 0 23 1 5 1 0 1 38 0-16 1-55 1 57 1 1 0 10 1-30 1 38 1-48 0 10 1-69 1 126 1 11 0-39 1 22 1-11 1 2 0 97 1-51 1-3 1-34 0 35 1-10 1-26 1-30 0 36 1-27 1 32 1 48 1-109 0 16 1 69 1-13 1-43 0 38 1 0 1-19 1 1 0 46 1-34 1 4 1 29 0-30 1-53 1 68 1-50 0 4 1-43 1 18 1 6 0 19 1-80 1 90 1 80 0-79 1 29 1-135 1 111 0-27 1 12 1 19 1-59 0-86 1 73 1 35 1-4 0-11 1 32 1-78 1 102 1-15 0-78 1 0 1-1 1-28 0 105 1-32 1-28 1-15 0 28 1 68 1-81 1 71 0-45 1 47 1-117 1 96 0-61 1 48 1 1 1 11 0 6 1 29 1-110 1 26 0 62 1-2 1 34 1-108 0 117 1-70 1 2 1-12 0 70 1 10 1-36 1-55 1-9 0-36 1 128 1 23 1-51 0 11 1 27 1-82 1 38 0-23 1-85 1 107 1 22 0-102 1 180 1-139 1-38 0 121 1-112 1 133 1-27 0-69 1 22 1-19 1 119 0-62 1 40 1-24 1-4 0-2 1-35 1 41 1 2 0-3 1-24 1 23 1 20 1 43 0-64 1-46 1-8 1 25 0 66 1-1 1-67 1 114 0-75 1-9 1-65 1 72 0 29 1-90 1 24 1 41 0 19 1-12 1-27 1 33 0-41 1 10 1-70 1 66 0 4 1 12 1-62 1 60 0-28 1 27 1-23 1-69 0 116 1-17 1-17 1-75 0-36 1 78 1 2 1-26 1-5 0-10 1 70 1-49 1-69 0 71 1 63 1-79 1 20 0-19 1 4 1-1 1 12 0-52 1 26 1 9 1 20 0-103 1 122 1-56 1 31 0-19 1 15 1-34 1 41 0 1 1 34 1 27 1-115 0 72 1-35 1-37 1 70 0-8 1-28 1 65 1-70 1 0 0 74 1 22 1-21 1-2 0-138 1 91 1-10 1 30 0-26 1-6 1 35 1 18 0-87 1 113 1-39 1 43 0 19 1 8 1-40 1-59 0 28 1 1 1 61 1-82 0 2 1 44 1-18 1 25 0-22 1-50 1 2 1 13 0-8 1-21 1 126 1-40 1-80 0-37 1 79 1-17 1 58 0 14 1-90 1-2 1 2 0 11 1 61 1-83 1 119 0-135 1 17 1 49 1-73 0 46 1 50 1-16 1-51 0 69 1-54 1 80 1-43 0 37 1-128 1 41 1-28 0 78 1-39 1 22 1-44 0 66 1-33 1 3 1 14 0-3 1 26 1-33 1-10 1 4 0 8 1 10 1-77 1 129 0-16 1-87 1 76 1 34 0-110 1 32 1 38 1-40 0 38 1-32 1 78 1-24 0-18 1-91 1 21 1-25 0 87 1-64 1 41 1 1 0 22 1 24 1-45 1 15 0-3 1 17 1-50 1-80 0 62 1 22 1-1 1 11 1-2 0-47 1 59 1-59 1 60 0-98 1 89 1 69 1-91 0 3 1 2 1 33 1 16 0-107 1 113 1 11 1 25 0-46 1 67 1-66 1-6 0-71 1 46 1-39 1 25 0-45 1 70 1-84 1 68 0 143 1-217 1 122 1 10 0 14 1-102 1 13 1 6 1 10 0-19 1 37 1 24 1-47 0-15 1 23 1 56 1-51 0 39 1 10 1-24 1-4 0-2 1-43 1 32 1 47 0-56 1-45 1 86 1-57 0-27 1 12 1 70 1-18 0 8 1 41 1-25 1-75 0-12 1 21 1-33 1 37 0-66 1 24 1 29 1-14 0-10 1 41 1 58 1-58 1-33 0 43 1-96 1 130 1 1 0-108 1 106 1 1 1-46 0 27 1 1 1-25 1 21 0-35 1-22 1 38 1 42 0-45 1 28 1-69 1 1 0-16 1 117 1-43 1-66 0 15 1-12 1 44 1-9 0-45 1 22 1 40 1-39 0-13 1 2 1-23 1 33 1 2 0 70 1-46 1-3 1 115 0-33 1-129 1 114 1-2 0-8 1 9 1 7 1 4 0-91 1 37 1 43 1-72 0 22 1-8 1 24 1-22 0-12 1 42 1 6 1 27 0 18 1-25 1-54 1 17 0 31 1-2 1 23 1-75 0 33 1 50 1-104 1-38 1 44 0 79 1 13 1-88 1-22 0 70 1-41 1 18 1-41 0 47 1 29 1-164 1 248 0-173 1 92 1-94 1 97 0-45 1 0 1 69 1 6 0-51 1-1 1-16 1-9 0-64 1 69 1-52 1 123 0-103 1 6 1-19 1 65 0-62 1-35 1 64 1-2 0-31 1 1 1 43 1-86 1-9 0 81 1-34 1-2 1 81 0-29 1-10 1 7 1-89 0-16 1 91 1-3 1-34 0 73 1-48 1 98 1-61 0-9 1-46 1 61 1 51 0-94 1 22 1 59 1-28 0-81 1 64 1 40 1-71 0 33 1 16 1-52 1 50 0-31 1-99 1 124 1-13 1-73 0 7 1 12 1-25 1 103 0 4 1-61 1 43 1-24 0 1 1 74 1-51 1-27 0-28 1 1 1 53 1-69 0 41 1 136 1-118 1-81 0 51 1-64 1 44 1 23 0 25 1-2 1-28 1 3 0 20 1 4 1-48 1 37 0 25 1-21 1-25 1 28 1 16 0-83 1 72 1-4 1-28 0 10 1-9 1 30 1 6 0-40 1 2 1-32 1 95 0-11 1-104 1 84 1-30 0 11 1-10 1-26 1 32 0-12 1-60 1 172 1-52 0-125 1 13 1 72 1-19 0 62 1-35 1-8 1-15 0 67 1-9 1-54 1 39 0-52 1 13 1 126 1-121 1 72 0-36 1 102 1-31 1-31 0-77 1 8 1 80 1-103 0 53 1-63 1 101 1-35 0 4 1-4 1 24 1-106 0 129 1-58 1 72 1-48 0 83 1-59 1-61 1 51 0-8 1-39 1 41 1-4 0 59 1-95 1 60 1-9 0-7 1 10 1 116 1-137 1 33 0-21 1 7 1-15 1-22 0 8 1 3 1 73 1-64 0 88 1-55 1-52 1 8 0 25 1-39 1 16 1-17 0-25 1-79 1 120 1-58 0 102 1-85 1-24 1 184 0-140 1 25 1-16 1 3 0 60 1-20 1-19 1 27 0 2 1 0 1-58 1-50 0 108 1 6 1-21 1 36 1-43 0-28 1 116 1-26 1-117 0-28 1 129 1-22 1-37 0-3 1-1 1-28 1-15 0 40 1-56 1 51 1-17 0 3 1-71 1 78 1 32 0-114 1 87 1-9 1-1 0-36 1 7 1-6 1-7 0 99 1-133 1 38 1 78 0 7 1-31 1-16 1-31 1 80 0-85 1-10 1 64 1 16 0 14 1-35 1 0 1 74 0-65 1 30 1-56 1 14 0-76 1 88 1-36 1-32 0 55 1-22 1 10 1 19 0-20 1-59 1 56 1-14 0-69 1 97 1 56 1-97 0-62 1 79 1 12 1-24 0 42 1-29 1-10 1-4 1 27 0-9 1 82 1-99 1-59 0 75 1-8 1-68 1 32 0 104 1-47 1-10 1 57 0-105 1 86 1-55 1 56 0-70 1 102 1-29 1-15 0-22 1 2 1-71 1 96 0-67 1 21 1 14 1-40 0-11 1 58 1-47 1 73 0-36 1 33 1-68 1 45 0 18 1 2 1-30 1-23 1 43 0 7 1-23 1 60 1-108 0 160 1-146 1-14 1 2 0 125 1-75 1-31 1 108 0-37 1-42 1-85 1 56 0-102 1 114 1-71 1 119 0-45 1 5 1-14 1 14 0-20 1-13 1 86 1-67 0-20 1 0 1 19 1 50 0-1 1-29 1-81 1 53 1 43 0-77 1 62 1-32 1-9 0 23 1-14 1-10 1 41 0 38 1-35 1 22 1 20 0-21 1 26 1 13 1-86 0 59 1 12 1-36 1 49 0-7 1-70 1 1 1 51 0-44 1-25 1 80 1-20 0-45 1-20 1 73 1 4 0-52 1 24 1 29 1-2 1-38 0-97 1 160 1-66 1-50 0 19 1 28 1 49 1-65 0-31 1 1 1 54 1-19 0 16 1-70 1 64 1 25 0 25 1-13 1-7 1-75 0 88 1-43 1-26 1 79 0-37 1 26 1-131 1 101 0 17 1-45 1 49 1-34 0 64 1-40 1 19 1-40 0 37 1-23 1-8 1 76 1-106 0 75 1 4 1-77 1-26 0 46 1-13 1 101 1-88 0 12 1-46 1 108 1-128 0 7 1 4 1 55 1-2 0-47 1 92 1-50 1-21 0 32 1 29 1-46 1-61 0 130 1-49 1 23 1-22 0 0 1 7 1-62 1 34 0-27 1 109 1-27 1-45 1 17 0-19 1-8 1 66 1 0 0-38 1-4 1 50 1-48 0 74 1-41 1-2 1-45 0 21 1 26 1 54 1-70 0-2 1 75 1-91 1-20 0 22 1-50 1-61 1 31 0 9 1 87 1-74 1 17 0 49 1 31 1-27 1-9 0 6 1 2 1-118 1 59 1 40 0 45 1-62 1 27 1-90 0 111 1-37 1-90 1 103 0-2 1 65 1 56 1-169 0 28 1 29 1 53 1-66 0 17 1-47 1 21 1-13 0 21 1-81 1 21 1-4 0 13 1-26 1-65 1 73 0-11 1-30 1-62 1 75 0-52 1 26 1-14 1-31 0-34 1 44 1 34 1-90 1 38 0-82 1 48 1-15 1-17 0 105 1-100 1-19 1-22 0 37 1-20 1-1 1-72 0 37 1 6 1-14 1 38 0 40 1-52 1-43 1 2 0-36 1 109 1 11 1-71 0 56 1-56 1 11 1-1 0 4 1-14 1 11 1-27 0 54 1-39 1 2 1 13 1 28 0-50 1 64 1-42 1 60 0-7 1-23 1 25 1-92 0 40 1 66 1-44 1-78 0 98 1-10 1 30 1-29 0-20 1-40 1-68 1 79 0 25 1 5 1 10 1-9 0 81 1-159 1 16 1-91 0 158 1-65 1 18 1-42 0 20 1 11 1 39 1-86 1 4 0 29 1 118 1-106 1 25 0-42 1-75 1 83 1 11 0-3 1 46 1-67 1 35 0 56 1-47 1-36 1 31 0-5 1 14 1 4 1-86 0 68 1-38 1 56 1-38 0 15 1 31 1-37 1 52 0-47 1 42 1-36 1 62 0-28 1-2 1-5 1 28 0-79 1 43 1 34 1 40 1 1 0-50 1-46 1 48 1 4 0-55 1 78 1-191 1 101 0-3 1 80 1-51 1-10 0 35 1 39 1-105 1 18 0 44 1 13 1-114 1 62 0 166 1-42 1-82 1-17 0 6 1 90 1-122 1 79 0-59 1 49 1-67 1 8 0-39 1 103 1 32 1-18 1-17 0-27 1-50 1 102 1-41 0-32 1 121 1-49 1 27 0-76 1 1 1 103 1-121 0 38 1-92 1 50 1 65 0 2 1-44 1 33 1 21 0-59 1 60 1 28 1-16 0 3 1-119 1 35 1 51 0-19 1-110 1 96 1 27 0-15 1 29 1-3 1-1 1-28 0-1 1-26 1 10 1 15 0 24 1-84 1 61 1 28 0-88 1 48 1 88 1-51 0-48 1 31 1-28 1-41 0 0 1 44 1-7 1 29 0-19 1 13 1-38 1 75 0-64 1 49 1-71 1 57 0-46 1 31 1 85 1-160 0 120 1-46 1 45 1-7 0-48 1 33 1-45 1 31 1-12 0 14 1-10 1 34 1-38 0-24 1 29 1-15 1 39 0-95 1 49 1 40 1-19 0-51 1 41 1-45 1-19 0 92 1-41 1 68 1-130 0 46 1-58 1 129 1-84 0 142 1 13 1-191 1 78 0 0 1 10 1-30 1-11 0 43 1 27 1-69 1 61 1-46 0 20 1 7 1-31 1 13 0-28 1 88 1-117 1 44 0 10 1 49 1 27 1-55 0 41 1-45 1 8 1-4 0-99 1 92 1 58 1-117 0 45 1 57 1-99 1 40 0-2 1-20 1-7 1 92 0-84 1 134 1-164 1 85 0-10 1 29 1-13 1-128 1 89 0 31 1 0 1 24 1-49 0-16 1 45 1 36 1-83 0 94 1 10 1-69 1 63 0-32 1-61 1 44 1-55 0-8 1 153 1-155 1 62 0 30 1 68 1-11 1-71 0-24 1 20 1-81 1 49 0-21 1 70 1-111 1 111 0-50 1 26 1-106 1 136 0-28 1-16 1 12 1-50 1-7 0 56 1-9 1-15 1-11 0-26 1 20 1 33 1 0 0-45 1 16 1-29 1 86 0 7 1-19 1-48 1 113 0-97 1 12 1-2 1 16 0-7 1-52 1 95 1-30 0-22 1-5 1 26 1 73 0-62 1-23 1 2 1 8 0 6 1 44 1-55 1 80 1-8 0-122 1 20 1 43 1-91 0 83 1-21 1 26 1-10 0-23 1-12 1 19 1 2 0-38 1 19 1 53 1-62 0 13 1-80 1 75 1 43 0 16 1 36 1-105 1 71 0-59 1 27 1 27 1 19 0 36 1 4 1-73 1-185 0 94 1 131 1-49 1 11 1-54 0 20 1 26 1-22 1 21 0-17 1-42 1 112 1-102 0 19 1-29 1 22 1-53 0 43 1 1 1 74 1-80 0-9 1 7 1 5 1-62 0 4 1 105 1-31 1-81 0 95 1-65 1-22 1 24 0 0 1-21 1 8 1 54 0-54 1 46 1-28 1 35 0-26 1 99 1-125 1 55 1-121 0 94 1 16 1-112 1 137 0-93 1 65 1-21 1-10 0 55 1-41 1-47 1 87 0-14 1 54 1-4 1-97 0 50 1-108 1 74 1 92 0-72 1 72 1-89 1 23 0-26 1-15 1 133 1-58 0 4 1-85 1 52 1-7 0-6 1 51 1-79 1-8 1 100 0-54 1 4 1 5 1-13 0 24 1-74 1 80 1-60 0-5 1-23 1 147 1-79 0 63 1-14 1-54 1 31 0 21 1-15 1-33 1 25 0 11 1-13 1 26 1-106 0 157 1-17 1-39 1-11 0-36 1-30 1 150 1-18 0-19 1-65 1-17 1-7 1-29 0 134 1-154 1 73 1 49 0-50 1 11 1-55 1 27 0 151 1-132 1 23 1-64 0 37 1-2 1 74 1-37 0 10 1-79 1 93 1-55 0 6 1 29 1-61 1 46 0 37 1-68 1 85 1-48 0-31 1-14 1 72 1 16 0-136 1 140 1-96 1 21 0 57 1-80 1-39 1 80 1-8 0 81 1-4 1-10 1-6 0 32 1-32 1-107 1 113 0 3 1-66 1 36 1-33 0-47 1 89 1-31 1 3 0 19 1-4 1 22 1-2 0 30 1-77 1 5 1-38 0 17 1-58 1 60 1 8 0 102 1-115 1 9 1-49 0 65 1-100 1 42 1 37 1 69 0-20 1-43 1 11 1 0 0 38 1-75 1-42 1 18 0 40 1-34 1 41 1-41 0 27 1 39 1-48 1-109 0 111 1-45 1 24 1 13 0-55 1-8 1 60 1-98 0 82 1 118 1-96 1-9 0-20 1 39 1-65 1 6 0 112 1-78 1 9 1-39 1 76 0-96 1 143 1-105 1 46 0 55 1-51 1 16 1 31 0-19 1-76 1 24 1-16 0 40 1-48 1 7 1 13 0 31 1-51 1-10 1 59 0-5 1-61 1-26 1 82 0-63 1 144 1-111 1 17 0-21 1 76 1 3 1 25 0-69 1-11 1 98 1-91 0 43 1 11 1-5 1-57 1 62 0 39 1-93 1 21 1-80 0 8 1 76 1-51 1 13 0 51 1-27 1-32 1-36 0 15 1 134 1-75 1-11 0 33 1-24 1 18 1 16 0-38 1-11 1 3 1 28 0-33 1 4 1 32 1-51 0-1 1 55 1-42 1-9 0-8 1 39 1-30 1 61 1-18 0-82 1 88 1-20 1-27 0 3 1-41 1 40 1-105 0 95 1-33 1-21 1 59 0 4 1 29 1 15 1-52 0 4 1-34 1 93 1-63 0-2 1-10 1 36 1 6 0-7 1-6 1 19 1-13 0 35 1-89 1 7 1 96 0-31 1-53 1 30 1-51 1 33 0-39 1-5 1 71 1 39 0-103 1 30 1-11 1 84 0 19 1-102 1 75 1-36 0-32 1 17 1 59 1 38 0-87 1-9 1 107 1-117 0 25 1-7 1 16 1 35 0-64 1-3 1-53 1 85 0 1 1-20 1-13 1 17 0 40 1-84 1 98 1-4 0 24 1-51 1-31 1-73 1 45 0-34 1 57 1 58 1-69 0-7 1 12 1 3 1 7 0 13 1 33 1-74 1 28 0-42 1 77 1-61 1 60 0-3 1-19 1-81 1 116 0-47 1 52 1-117 1 13 0 44 1-49 1 43 1-5 0 28 1 57 1-19 1-87 0 59 1-138 1 72 1-14 1-50 0 44 1 38 1-42 1 70 0 53 1-116 1 109 1-19 0-79 1 98 1-145 1 155 0-55 1-24 1 66 1-2 0-40 1 22 1 15 1 26 0-65 1 28 1 0 1 10 0 33 1-32 1 30 1-20 0 15 1-53 1-20 1-14 0 115 1-53 1-45 1 12 0-16 1-17 1 47 1-17 1-19 0 61 1 81 1-69 1-89 0 117 1-101 1 49 1-26 0 15 1-27 1-13 1 22 0-1 1 74 1-45 1-29 0 39 1-74 1 71 1 32 0-3 1-67 1 48 1-36 0-42 1 31 1-27 1-1 0 31 1 18 1 71 1 1 0-82 1 34 1 17 1-47 1 11 0 10 1 11 1-94 1 35 0 33 1 54 1-57 1 14 0 42 1-38 1-12 1-7 0 23 1 23 1 13 1 41 0 44 1-25 1-1 1-15 0-13 1-9 1 132 1-92 0 34 1-13 1 24 1-32 0 101 1-43 1-79 1 60 0-63 1 9 1 63 1-95 1 100 0-33 1 29 1 43 1-66 0-80 1 70 1 76 1-130 0 44 1 90 1-97 1 17 0 124 1-100 1 64 1-85 0 26 1-15 1-51 1-70 0 88 1-51 1 112 1-92 0 82 1-46 1-91 1 87 0-2 1 27 1 74 1-128 0-16 1 10 1 27 1 140 0-83 1-78 1 30 1-58 1 221 0 170 1-350 1 130 1-45 0-22 1-9 1 30 1 29 0-18 1-80 1-31 1 56 0 58 1-16 1 125 1-221 0 39 1 39 1-112 1 18 0-2 1 129 1 21 1-121 0 44 1 62 1-123 1-2 0 140 1-154 1 100 1 14 0-57 1 32 1 138 1-138 1 35 0 87 1-112 1 99 1-118 0 28 1 27 1-101 1 142 0-13 1 15 1-78 1-51 0 122 1-68 1 0 1 80 0-15 1-115 1 59 1 43 0-49 1-18 1-1 1 13 0 52 1-35 1 36 1-27 0 81 1-161 1-10 1-53 0 93 1-32 1 81 1-137 1 56 0-33 1 72 1-26 1 129 0-147 1 55 1 17 1-6 0-35 1 36 1 95 1-127 0 36 1-58 1 216 1-182 0-6 1-60 1 51 1 3 0 125 1-73 1 0 1 11 0-51 1 51 1-129 1 71 0-70 1 1 1 76 1-2 0-12 1-100 1 124 1 23 0-92 1 68 1 97 1-99 1-36 0-24 1 6 1 143 1-26 0-64 1 59 1 28 1-71 0 85 1-29 1-46 1-79 0 18 1 67 1-61 1 73 0-7 1-107 1 99 1-8 0 9 1-142 1 102 1 81 0-37 1-43 1 30 1 44 0-55 1 1 1-100 1 4 0 58 1 66 1-28 1-51 1 71 0-52 1 32 1-99 1 38 0 119 1-112 1 157 1-153 0 14 1 10 1 27 1-45 0-58 1 180 1-115 1-66 0 119 1-83 1 87 1-86 0-30 1 99 1-42 1 46 0 32 1-113 1 24 1 19 0-36 1-25 1 130 1-72 0 4 1 80 1-91 1 25 1-39 0 131 1-10 1-41 1-100 0 134 1-120 1 196 1-178 0 80 1-41 1-19 1 6 0 26 1-140 1 182 1 40 0-125 1 113 1-67 1 13 0-8 1 52 1-7 1-55 0 63 1 10 1-37 1-63 0-38 1 81 1-95 1 53 0 34 1 36 1-20 1-2 0 32 1 101 1-165 1 53 1-26 0-45 1-54 1 101 1-11 0-44 1-25 1-51 1 51 0 83 1-83 1 2 1 48 0-25 1 74 1-34 1 5 0 38 1 46 1-41 1 3 0-119 1 126 1-29 1-84 0 62 1-73 1 57 1 18 0-65 1-66 1 160 1-6 0-73 1 65 1-69 1-10 1 35 0 75 1-36 1-42 1 59 0-26 1 21 1-32 1-88 0 58 1 70 1 38 1-186 0 136 1-79 1 12 1 45 0 19 1-5 1-109 1-59 0 151 1-32 1 113 1-97 0 157 1-79 1-47 1-40 0 53 1-3 1-101 1 10 0 7 1 139 1-71 1-63 1-27 0-16 1 7 1 10 1 138 0-53 1-66 1-54 1 42 0-6 1 34 1-30 1-30 0 7 1 48 1 33 1-36 0 0 1-103 1 40 1 92 0-4 1-37 1 21 1-32 0-45 1-50 1 40 1 10 0 149 1-153 1 147 1-148 0 34 1 32 1-73 1 20 0 108 1-174 1 70 1 50 1-43 0 70 1 130 1-169 1 145 0-54 1-6 1-65 1-4 0 18 1 149 1-170 1 12 0 2 1 191 1-195 1 53 0 16 1-88 1-13 1 65 0-12 1 70 1-81 1-60 0 16 1 100 1-217 1 116 0 66 1-43 1 136 1-102 0-62 1 32 1 27 1 54 1-28 0 25 1-100 1 76 1-32 0 17 1-16 1-29 1-80 0 119 1-100 1 51 1-104 0 44 1 9 1 85 1-54 0 0 1 36 1 11 1-38 0 150 1-154 1 9 1 4 0-16 1 12 1 198 1-98 0-61 1 8 1 38 1-146 0 78 1 78 1-53 1 2 1-47 0 155 1-175 1 75 1 95 0-156 1 41 1 23 1-33 0-1 1 68 1-87 1 6 0 12 1-64 1 181 1-221 0 46 1 115 1 141 1-248 0 77 1 17 1 27 1-87 0 63 1 78 1-122 1 32 0-31 1 71 1-16 1-86 0 7 1-44 1 129 1-75 0 27 1 7 1 0 1 37 1 79 0-169 1 21 1-9 1 116 0-98 1 99 1-124 1 32 0-95 1 62 1 5 1 154 0-149 1 71 1-105 1 39 0 77 1-12 1 5 1-4 0 36 1-53 1-159 1 109 0 23 1 7 1 26 1-61 0 32 1 155 1-229 1 56 0-27 1 138 1 1" stroke="#ff0000"/>
<path d="M3848 4009l1-182 1 150 0 48 1-77 1-144 1 116 0-33 1 21 1-3 1-163 0 128 1-35 1-161 1 294 0-159 1 64 1-35 1-141 0 69 1 207 1 51 1-216 0-63 1 2 1 94 1-75 0 108 1-25 1 93 1-245 0 116 1-79 1 105 1-64 0 108 1 3 1 54 1-190 1-55 0 27 1 269 1 98 1-146 0-126 1 62 1-259 1 264 0-199 1 73 1 124 1-29 0-30 1 10 1-65 1 75 0-36 1 58 1-6 1-148 0 176 1 0 1-188 1 252 0-163 1-29 1 40 1-121 0 223 1 63 1 1 1-43 0-29 1-206 1 144 1 99 0-36 1-151 1-95 1 256 1-67 0 81 1-9 1 95 1-198 0-76 1 190 1-123 1 17 0 122 1-168 1-16 1 0 0 25 1 45 1-40 1 208 0-179 1-98 1 8 1-5 0 47 1 19 1 47 1-46 0-122 1 98 1-45 1 257 0 64 1-184 1-1 1-246 0 105 1 51 1 89 1-138 1 157 0-116 1-17 1 50 1 47 0-122 1 107 1-1 1 161 0-167 1-42 1-7 1 84 0 83 1-163 1 223 1-171 0 123 1-389 1 319 1-70 0 12 1 56 1-284 1 171 0 295 1-105 1-68 1 73 0-152 1 26 1 19 1 31 0-177 1-90 1-242 1 450 1-148 0 224 1 5 1-123 1 146 0-50 1 4 1 159 1-146 0-94 1 135 1 29 1-66 0-36 1-15 1-26 1 23 0 82 1 62 1-81 1-134 0 71 1 34 1-54 1 123 0 2 1 12 1-38 1 108 0-80 1-91 1-48 1 51 0-71 1 167 1-78 1 71 0-85 1-51 1 199 1-42 1-154 0 50 1 18 1-23 1 155 0-58 1 132 1-25 1-258 0 2 1-24 1 131 1-21 0-102 1 23 1 72 1 100 0-178 1-6 1 116 1 36 0-136 1 229 1-124 1 47 0-51 1-29 1 73 1-60 0 14 1-95 1 89 1 7 0-14 1 16 1 121 1-185 1 88 0-55 1 86 1-189 1 177 0 64 1-160 1-54 1 124 0 21 1 19 1-135 1 92 0-139 1 103 1 100 1-22 0-29 1-33 1 69 1 32 0-68 1-20 1 56 1-95 0 124 1-125 1 123 1-65 0-40 1 56 1-53 1 51 0 36 1-126 1 7 1 64 1 59 0-60 1-12 1 40 1-45 0-41 1 42 1 71 1-49 0-28 1-6 1 71 1 50 0-21 1-15 1-22 1 10 0 98 1-56 1-87 1 110 0-58 1 26 1 89 1-150 0 66 1-115 1 62 1-59 0 12 1 24 1 51 1-105 0 53 1 60 1-14 1 158 0-158 1-71 1-10 1 19 1-42 0 143 1 6 1-138 1 60 0-50 1 85 1-57 1 43 0-39 1-1 1-21 1 80 0-28 1 17 1-42 1-15 0 60 1-109 1 72 1-76 0 28 1 97 1-18 1 8 0-2 1-38 1 48 1-92 0 59 1-4 1 8 1-31 0 79 1-81 1 82 1-106 1 36 0 13 1 30 1-61 1-23 0 74 1 38 1-129 1 111 0-25 1 11 1-129 1 167 0-136 1 13 1 56 1-37 0-59 1 76 1 16 1-4 0 28 1-129 1 192 1-143 0 76 1 12 1-66 1-5 0 131 1-146 1 96 1-79 0 26 1-35 1-3 1-22 1 31 0 30 1 34 1-46 1 41 0-31 1 51 1-77 1 14 0 14 1 11 1-101 1 63 0-22 1-4 1 18 1 35 0-30 1 5 1 6 1-48 0 161 1-48 1-92 1-12 0 48 1-62 1 85 1-13 0 1 1-15 1 35 1-83 0 27 1 17 1-49 1 88 0-2 1-64 1 15 1 34 1-122 0 76 1 12 1-65 1 55 0 53 1-29 1-21 1 41 0-84 1 113 1-64 1-22 0 130 1-44 1-19 1 54 0-38 1 24 1-34 1-13 0 28 1-78 1 55 1-54 0 64 1-100 1 52 1 15 0 24 1-288 1-243 1 467 0-151 1 221 1-37 1 11 1-101 0 109 1-136 1 159 1 23 0-68 1-5 1 67 1-57 0-1 1 36 1 53 1-44 0-72 1 107 1-48 1 6 0-30 1-54 1 67 1 13 0 8 1-73 1 7 1 33 0-64 1 132 1-80 1 19 0-16 1 8 1 38 1-45 0-2 1-25 1 117 1-106 1 103 0-78 1-29 1 9 1 27 0-7 1 66 1-54 1-19 0-15 1 30 1 31 1 13 0-8 1-64 1 6 1 32 0-109 1 56 1 57 1-4 0-13 1 74 1 3 1-46 0 24 1 66 1-51 1 29 0-119 1 33 1-24 1 94 0-17 1-2 1 75 1-61 0-112 1 80 1 56 1-76 1 42 0-72 1-61 1 73 1 21 0-75 1-1 1 101 1-69 0-61 1 185 1-46 1-68 0-58 1 63 1-4 1 12 0 5 1 91 1 9 1-75 0 107 1-153 1 133 1-172 0 115 1-93 1-62 1 142 0-44 1-56 1 80 1-10 0-62 1 7 1-75 1 109 1-41 0 109 1-167 1 151 1-142 0 115 1-48 1 24 1 62 0-92 1 82 1-101 1 148 0-62 1-121 1 168 1-37 0-42 1-59 1 72 1-3 0 10 1-82 1 21 1-29 0-51 1 95 1-26 1 111 0-94 1 4 1 23 1 16 0-40 1-39 1 85 1 29 1-64 0-94 1 93 1 38 1-45 0 6 1-104 1 133 1-28 0-17 1 5 1 31 1 84 0-59 1-40 1-37 1 9 0 63 1-2 1-5 1-94 0 6 1 72 1-92 1 16 0 63 1-64 1 111 1 15 0-48 1 42 1 16 1-27 0-30 1-15 1 37 1-118 0 93 1 37 1-152 1 159 1-156 0 44 1-51 1 68 1 20 0-7 1-124 1 168 1 4 0-89 1-47 1 4 1-127 0 181 1-72 1 23 1 86 0-34 1-88 1-33 1 62 0-44 1 41 1-29 1 6 0 60 1-79 1-22 1 13 0 65 1-113 1 30 1-3 0 26 1 7 1-26 1 13 1 28 0-67 1 33 1 53 1-25 0 34 1-46 1 49 1 1 0-103 1 111 1 39 1-69 0-24 1-31 1 139 1-180 0 45 1 48 1 27 1-26 0-14 1 14 1 95 1-114 0-18 1 110 1-40 1 91 0-14 1-231 1 159 1-54 0 31 1-6 1-22 1 93 0-60 1 53 1-14 1-33 1 18 0-12 1 30 1-24 1-29 0 78 1-63 1 98 1-183 0 153 1-124 1 111 1-99 0-4 1 58 1 16 1 137 0-221 1 87 1-79 1 2 0 61 1-79 1 40 1 42 0-14 1-198 1-224 1 372 0-95 1 241 1-135 1 134 0-125 1-48 1 66 1-68 1 120 0-65 1 26 1-53 1 117 0-44 1 18 1 4 1-1 0-4 1 45 1-96 1-67 0 63 1-24 1 15 1 57 0-44 1 0 1 65 1-48 0 24 1 9 1-48 1-77 0-5 1 71 1-21 1 36 0-14 1-29 1-31 1 109 0 10 1-28 1-103 1 54 1-50 0 40 1-15 1-3 1-67 0 116 1 36 1-101 1 97 0 18 1-124 1 108 1-132 0 72 1 57 1-38 1-54 0 2 1-13 1 95 1-91 0 4 1 21 1 81 1-91 0-7 1 60 1-74 1 51 0 124 1-158 1 44 1-66 0 37 1 112 1-64 1-93 0 60 1 54 1-104 1 84 1 79 0-88 1 31 1-54 1 58 0 20 1 36 1-10 1-73 0 105 1-75 1 105 1-79 0-61 1-4 1 55 1-167 0 128 1 1 1-35 1 29 0-5 1-10 1 4 1 125 0-78 1 6 1-10 1 24 0 27 1-128 1 88 1-222 0 163 1 10 1-182 1 256 1-90 0-26 1 71 1-33 1 4 0-87 1 150 1-68 1 86 0-76 1 78 1-91 1 47 0-56 1-23 1 66 1 49 0 27 1 2 1-56 1 39 0-93 1-126 1 40 1 172 0-144 1 104 1-55 1 119 0-121 1-3 1 33 1-28 0 10 1-18 1 22 1 4 1-135 0 60 1-50 1 53 1 72 0-10 1 7 1-49 1-15 0 59 1-12 1 99 1-114 0-90 1-30 1 142 1 33 0 6 1-21 1-48 1-25 0 65 1 1 1 52 1-207 0 187 1-32 1-66 1-112 0 183 1 59 1-142 1 19 0 17 1-20 1 81 1-10 0-63 1-6 1 67 1-32 1 74 0-56 1 2 1-5 1 37 0-24 1 46 1-53 1 70 0-20 1-59 1 52 1-143 0 69 1-27 1-37 1 176 0-1 1-84 1-30 1 72 0-77 1-4 1 101 1 26 0-97 1-79 1 83 1 60 0-116 1 68 1 53 1-30 0-61 1 149 1-180 1 39 1 65 0-8 1-52 1 91 1-113 0 76 1-4 1-72 1 6 0 74 1 65 1-127 1 11 0-154 1 179 1-33 1-14 0 42 1-41 1 43 1 17 0-74 1 8 1 68 1-42 0 38 1-42 1 100 1-75 0-55 1 27 1-68 1 132 0 18 1-13 1-110 1-7 1 72 0-64 1 66 1-153 1 165 0-74 1 50 1-21 1-30 0 21 1-42 1 34 1-84 0 111 1-60 1 53 1 5 0 29 1-47 1 43 1-105 0 30 1-13 1 144 1-153 0 12 1 154 1-70 1 36 0-42 1-112 1 8 1 44 0 15 1-28 1-33 1 81 0 53 1-60 1 71 1-83 1-37 0 54 1 30 1-105 1-46 0 121 1-59 1 69 1-125 0 171 1-91 1-40 1 14 0-67 1 116 1-16 1-20 0 73 1-91 1 29 1 75 0-16 1-3 1-51 1-114 0 67 1 100 1-95 1 21 0 42 1-64 1-48 1 115 0-273 1 267 1-33 1 23 1-119 0 45 1-16 1 74 1-76 0-103 1 84 1 159 1-224 0 130 1-284 1 140 1 24 0 43 1-396 1 280 1 15 0 132 1-293 1 307 1-137 0 18 1 35 1 65 1-339 0 368 1-210 1-73 1 125 0 102 1-224 1 29 1 107 0 334 1-473 1 90 1-211 1 221 0-188 1 226 1 44 1-5 0-13 1 14 1 123 1-90 0-142 1 348 1-126 1-126 0-75 1 21 1-167 1 52 0 179 1-20 1 37 1 368 0-399 1 35 1 204 1 66 0-135 1-176 1 48 1-144 0 120 1 49 1 1 1-74 0 148 1 52 1-266 1-41 0 128 1 54 1 112 1 1 1-36 0-117 1-128 1 150 1 136 0-224 1 137 1-66 1-43 0 273 1-86 1-130 1-17 0 251 1-135 1-36 1-113 0-142 1 299 1 12 1-11 0-48 1-191 1-29 1 254 0-161 1 397 1-164 1-142 0 7 1 0 1-206 1 68 0 99 1 53 1 50 1-111 1-11 0 56 1 214 1-283 1 112 0 11 1 24 1-108 1-81 0-147 1 149 1 289 1-258 0 284 1-197 1 83 1-158 0-104 1 222 1-236 1-25 0 204 1-135 1 234 1 50 0-296 1 82 1 37 1 88 0-115 1 171 1 32 1-177 0 59 1-10 1 248 1-225 1-32 0 123 1-10 1-120 1-46 0 24 1 124 1-12 1-183 0 104 1 21 1-92 1-117 0 163 1 116 1-71 1-47 0-80 1-99 1 224 1-106 0 162 1-205 1 95 1-179 0 30 1 159 1-55 1-9 0 37 1 71 1 3 1-131 0 206 1-6 1-10 1-32 0 45 1-423 1 525 1-117 1-30 0-158 1 13 1 91 1-58 0 9 1 162 1-210 1 170 0 59 1-140 1-83 1-124 0 111 1 66 1 82 1-107 0-24 1-94 1 33 1 31 0-112 1 281 1-214 1 138 0-137 1 177 1-178 1-15 0 27 1 42 1-98 1 67 0 54 1-4 1-7 1-3 1-1 0 123 1-135 1-133 1 112 0 82 1-87 1 29 1-14 0 141 1-135 1-11 1 220 0-113 1-122 1 134 1 108 0-21 1 16 1-253 1 122 0-13 1-88 1 207 1-138 0-133 1 486 1-277 1 3 0-87 1 145 1-182 1 93 0 12 1-84 1 192 1 1 1-316 0 194 1-274 1 123 1 318 0-38 1-420 1 8 1 297 0-87 1-158 1-198 1 370 0-187 1 14 1-48 1-54 0 104 1 58 1 47 1-53 0-21 1-51 1 172 1 73 0 2 1 16 1-69 1-77 0 63 1 9 1-46 1-160 0 29 1 234 1-27 1-293 0 57 1 185 1 211 1-274 1-5 0 51 1-84 1 161 1-187 0 146 1-314 1 131 1 272 0-237 1 39 1 209 1-178 0 115 1 48 1-239 1 6 0 82 1 300 1-101 1-331 0 280 1-180 1 219 1-425 0 166 1 308 1-245 1 79 0-45 1 81 1-240 1 81 0 111 1-71 1 203 1-129 1-63 0-63 1 189 1-71 1 30 0 161 1-137 1-26 1-93 0 23 1-171 1 383 1-173 0-27 1 62 1 133 1-283 0 204 1-1 1-161 1 160 0 30 1-111 1 0 1 22 0 125 1-36 1-77 1 159 0-72 1 25 1-10 1 13 0-105 1-31 1 65 1 296 1-282 0-66 1 37 1-69 1 77 0 113 1-188 1 130 1-233 0 212 1-67 1 24 1 7 0 60 1-44 1-11 1-23 0 63 1 42 1 33 1-11 0-61 1 112 1-67 1 9 0 6 1-90 1-44 1 166 0-420 1 207 1 90 1-137 0 52 1-55 1 238 1 16 0-211 1 265 1-287 1 235 1-319 0 118 1 161 1-87 1-201 0 72 1 144 1-141 1 120 0 64 1-9 1 77 1-144 0-184 1 102 1-185 1 171 0-93 1-55 1 216 1-151 0 159 1 121 1-176 1 38 0-42 1 239 1-404 1 157 0-56 1 118 1-110 1 73 0-79 1-231 1 290 1 33 1-179 0 209 1-9 1 102 1 181 0-308 1 28 1 46 1-21 0-166 1-4 1 49 1 99 0-223 1-61 1 275 1-22 0-24 1 139 1-58 1-46 0 111 1-22 1-157 1 36 0-124 1-25 1 185 1 8 0-6 1-84 1 81 1 42 0 137 1-64 1-141 1-114 1 238 0 110 1-251 1 225 1-98 0 123 1-45 1-114 1 24 0 1 1-176 1 39 1 29 0-178 1 238 1-146 1 77 0 148 1 38 1-242 1 180 0-278 1-104 1 174 1 97 0-120 1 30 1 200 1 56 0 42 1-165 1 26 1-87 0 70 1-81 1 98 1 111 0-211 1 43 1 197 1-288 1 195 0-201 1-46 1-89 1 323 0-80 1 13 1 119 1-229 0-372 1 497 1-88 1-110 0 145 1-81 1-23 1 174 0-96 1-40 1 104 1 134 0-152 1-43 1 102 1-141 0 55 1 157 1 154 1-291 0 31 1-131 1 125 1 13 0-160 1 100 1 107 1-109 1 39 0 155 1-116 1-75 1 33 0 63 1 79 1-10 1 12 0-233 1 53 1 183 1 147 0-191 1 13 1 29 1-132 0 23 1 105 1-53 1-59 0 437 1-498 1-53 1 263 0-181 1-75 1 201 1-82 0 180 1-83 1-114 1-58 0 136 1 23 1-48 1 60 1 222 0-267 1 28 1 171 1-176 0 17 1 8 1-34 1-65 0 235 1-25 1-113 1-37 0 122 1-112 1-31 1 180 0-193 1 24 1-8 1 224 0-132 1 91 1-114 1 78 0-233 1 243 1-174 1 140 0 15 1-350 1 223 1-35 0-69 1 117 1-67 1 146 0-241 1 182 1 141 1-84 1-176 0 35 1-124 1 7 1 67 0 111 1-87 1 7 1-45 0-45 1 74 1-111 1-14 0-60 1 254 1-16 1-171 0-19 1 113 1 9 1-27 0 74 1 72 1-98 1 150 0-226 1 126 1-99 1-32 0 73 1-9 1 121 1 69 0-152 1 312 1-131 1 5 1-294 0 43 1 62 1 226 1-110 0-327 1 76 1 177 1 95 0-144 1 36 1 247 1-255 0 2 1 104 1-241 1 78 0-7 1 29 1 75 1-84 0-87 1 39 1 18 1 105 0-71 1-169 1 281 1-292 0 162 1-13 1 13 1-139 0 105 1-137 1 165 1-47 1 102 0-213 1 259 1 38 1-25 0 346 1-312 1-42 1-162 0-1 1 73 1-353 1 216 0-14 1 185 1-37 1-9 0 22 1-138 1 169 1-88 0 97 1 53 1-10 1 29 0-14 1 70 1-222 1 82 0-63 1-18 1 5 1 89 0-110 1 11 1 130 1-88 0 99 1 49 1-135 1-159 1 256 0 64 1-111 1 93 1-165 0 88 1-205 1 150 1 195 0-196 1-2 1-113 1-30 0 85 1 173 1-52 1-216 0-191 1 319 1-135 1-25 0 254 1-263 1 336 1-157 0 204 1-241 1 158 1-94 0 94 1-41 1-80 1 44 0-38 1 34 1 6 1 211 1-206 0-94 1-90 1 252 1-164 0 132 1 1 1-87 1-33 0-67 1 278 1-175 1 144 0-128 1-8 1-30 1 93 0-74 1 9 1 123 1-14 0 14 1 100 1-89 1-10 0-65 1-34 1-1 1 128 0-23 1-109 1 48 1 146 0-175 1-174 1 310 1-15 0-221 1 61 1 131 1-58 1 60 0-109 1-45 1 52 1-97 0 127 1-206 1 149 1 98 0-120 1-62 1 105 1-36 0 160 1-24 1-97 1-185 0 207 1-116 1-51 1 193 0 25 1-56 1-57 1 104 0-438 1 400 1-52 1-33 0 101 1-138 1 288 1-169 0 37 1-58 1-31 1 51 1 69 0-258 1 136 1-77 1 102 0 255 1-322 1 342 1-179 0-2 1-152 1 83 1-111 0-167 1 113 1 41 1 174 0-258 1 66 1 143 1-7 0 121 1-76 1-52 1 207 0-272 1 127 1-180 1 325 0-48 1-66 1-73 1 58 0-67 1 80 1-129 1 23 1-26 0-130 1 182 1-204 1 74 0 0 1 216 1-109 1-14 0 162 1-195 1 197 1 163 0-446 1 279 1-51 1-9 0-96 1-28 1 164 1-62 0-205 1 122 1-50 1-24 0-16 1 105 1-4 1 32 0 55 1-193 1 1 1 208 0-186 1-150 1 207 1 103 0 68 1-97 1 134 1-168 1 228 0 85 1-299 1-142 1-106 0 147 1 162 1-66 1-212 0 345 1 34 1-172 1 58 0-64 1 100 1-22 1 85 0-65 1-138 1-191 1 439 0-147 1-193 1 24 1 89 0 127 1-62 1 7 1-218 0 295 1-228 1 9 1-47 0 240 1-100 1 9 1 82 1-107 0 69 1 67 1-5 1-26 0-115 1 139 1-15 1-242 0 246 1-62 1 147 1-280 0 47 1 84 1-52 1 147 0 51 1-221 1-70 1 44 0 20 1 173 1-147 1 168 0-111 1-45 1-127 1-75 0 323 1-336 1 221 1-75 0-69 1 107 1-36 1-20 1 86 0 35 1-199 1 128 1 148 0-155 1-91 1 120 1 25 0 78 1-3 1-63 1 94 0-94 1 168 1-264 1 33 0-171 1 217 1 46 1-83 0 161 1-28 1 149 1-342 0 28 1 43 1 182 1-97 0 52 1-193 1 179 1 10 0-28 1-93 1-28 1-29 0-71 1 35 1 121 1-117 1 178 0-186 1 89 1-57 1 72 0 78 1 87 1-155 1-104 0 207 1-181 1-87 1 307 0-95 1 22 1-23 1-10 0 66 1-33 1 219 1-120 0-115 1-92 1 62 1-86 0-206 1 269 1 39 1 106 0-198 1 225 1-266 1-24 0 257 1-114 1-58 1 80 1 43 0-115 1-206 1 207 1-77 0-13 1 411 1-193 1 19 0-170 1 217 1-274 1 111 0-109 1 27 1 70 1 48 0-102 1 92 1 76 1-201 0 121 1-48 1 10 1-139 0 189 1 27 1-119 1 162 0-175 1 119 1-53 1 10 0-165 1-15 1 113 1-73 1 306 0-258 1 319 1-80 1-89 0 140 1-212 1 125 1 26 0 32 1 26 1 91 1-200 0 61 1-158 1 243 1-146 0 220 1-84 1-125 1-15 0 15 1 120 1 69 1-152 0 187 1-199 1 68 1-8 0 62 1-60 1 79 1 1 0 25 1-10 1-40 1-81 0 118 1-95 1-27 1 45 1 125 0-145 1 36 1-28 1 16 0 52 1-60 1 19 1-45 0 79 1 11 1 26 1-60 0 67 1-17 1-19 1 88 0-75 1-64 1 99 1-53 0 3 1 19 1-3 1 60 0-123 1 12 1-17 1 48 0-53 1 17 1-50 1 62 0-57 1 42 1-34 1 47 1-46 0 4 1 21 1 19 1 18 0-39 1-21 1 44 1 39 0 6 1-57 1-7 1-15 0 16 1 17 1-22 1 35 0-7 1-91 1 109 1-19 0 32 1 23 1-28 1-48 0 80 1-41 1 67 1-86 0-20 1 1 1 19 1 14 0-15 1 8 1 30 1-10 1-29 0-27 1 66 1 9 1-67 0-33 1 28 1 12 1-22 0-43 1-23 1 50 1 56 0-4 1 17 1-22 1 78 0-84 1-8 1 62 1-93 0 35 1 96 1-54 1-115 0 98 1-3 1-18 1 39 0 5 1-13 1-9 1 6 0-43 1 71 1-15 1 14 0-37 1 47 1-31 1 0 1 13 0-26 1-2 1-14 1 100 0-39 1-18 1-50 1 43 0-56 1 20 1 57 1 34 0-118 1 121 1-91 1 18 0-31 1 23 1 39 1 51 0-16 1-73 1-57 1 101 0-95 1 73 1 42 1-40 0-34 1 27 1 30 1 53 0-37 1-114 1 81 1-68 1 40 0-10 1-96 1 59 1 23 0 29 1-40 1-5 1-15 0-22 1 146 1-178 1-32 0 93 1-75 1 55 1 74 0-28 1 104 1-89 1-58 0 74 1-38 1-5 1-46 0 15 1 34 1 2 1-18 0 69 1-44 1-13 1-4 0 17 1 91 1-79 1 32 1-129 0 79 1 75 1-61 1-7 0 10 1 10 1-1 1-48 0 54 1 10 1-65 1 19 0 27 1 3 1-48 1 16 0-15 1 93 1-42 1-46 0 51 1-74 1 20 1 12 0 53 1-84 1 51 1 41 0-83 1-14 1-39 1 64 0 2 1-53 1 65 1-29 0 21 1-9 1 69 1-68 1 27 0-1 1 33 1-29 1-17 0 22 1-26 1-32 1 12 0-54 1 112 1-78 1 138 0-121 1-57 1 43 1 16 0 36 1-47 1 3 1-42 0 91 1-75 1 27 1-61 0 100 1-64 1-24 1 80 0-29 1 50 1-30 1-69 0 12 1-24 1 164 1-34 1 5 0-40 1 48 1-40 1 45 0 27 1-2 1-52 1 11 0-47 1-1 1 53 1 60 0-62 1-25 1 10 1-35 0 63 1 1 1 25 1-59 0 2 1-5 1-44 1 26 0 26 1-110 1 206 1-61 0-26 1-11 1-45 1-6 0 8 1 79 1-75 1 15 1 11 0 2 1 56 1-50 1-7 0 40 1-48 1 42 1-26 0-57 1 97 1-58 1 59 0-12 1 42 1-21 1-70 0 65 1-13 1-22 1 81 0-63 1-41 1 93 1-93 0-40 1 32 1 24 1-35 0 9 1 36 1-94 1 109 0-52 1 16 1-40 1 29 0-43 1-51 1 65 1 19 1 18 0 65 1-74 1-11 1 30 0-24 1-43 1 100 1-40 0 82 1-95 1 24 1 1 0-26 1 32 1-97 1 164 0-99 1-16 1 59 1-111 0 80 1-11 1 59 1-100 0 83 1-31 1 112 1-120 0 38 1-24 1 19 1-119 0 129 1 15 1-64 1-17 1-18 0 45 1-34 1-13 1 6 0 29 1 10 1-15 1-67 0 190 1-51 1-56 1 185 0-184 1 42 1-14 1 60 0-49 1-49 1-21 1 81 0-36 1 8 1 10 1 5 0-21 1 63 1 15 1-82 0-27 1 6 1-89 1 78 0 116 1-21 1-14 1-9 1-58 0 17 1 30 1 32 1 9 0-91 1-9 1 110 1-53 0 69 1-62 1-77 1 25 0 56 1-20 1-56 1 24 0 65 1-73 1 31 1 52 0-15 1-22 1 22 1-70 0 175 1-135 1 2 1 24 0-24 1 1 1-13 1 25 0-23 1-12 1 41 1-25 0-36 1-41 1 108 1-3 1 33 0 4 1-60 1-39 1 6 0 36 1 113 1-179 1 91 0-2 1 76 1-146 1-23 0-12 1 1 1 116 1-96 0-20 1 87 1-6 1-20 0-90 1 35 1 17 1 59 0-11 1 28 1 5 1-5 0-78 1 83 1-26 1 26 0-85 1 182 1-105 1 17 1-38 0 32 1-113 1 116 1-20 0-30 1 150 1-55 1-125 0 80 1-51 1 29 1 10 0 49 1-143 1-1 1 52 0-11 1 39 1-77 1 32 0-33 1 84 1-107 1 34 0 27 1-46 1 117 1-37 0 29 1 27 1-52 1 17 0 61 1-80 1-14 1-11 1 23 0-46 1 55 1-44 1 66 0 8 1 59 1-120 1 4 0 27 1 17 1-17 1-16 0-53 1 44 1-2 1 5 0-56 1 31 1-47 1 73 0-70 1 59 1 107 1-93 0-22 1 0 1-23 1-6 0-51 1 145 1-70 1-28 0 56 1-64 1 25 1 29 0-59 1 22 1 65 1-52 1 62 0 21 1-48 1-19 1-28 0 8 1 31 1-30 1 49 0-49 1 14 1-38 1 109 0-79 1 6 1-13 1-19 0 84 1-14 1 13 1 4 0 4 1-81 1 54 1-37 0-13 1 28 1 5 1 2 0-26 1 29 1-8 1 31 0-72 1 37 1 28 1 21 1-43 0 21 1 18 1-3 1-88 0 93 1-91 1 55 1 19 0-44 1 12 1-16 1-67 0 98 1-75 1 68 1-41 0-24 1 52 1-36 1 5 0 68 1 4 1-91 1 48 0 29 1-88 1 42 1 24 0-64 1 18 1 55 1 20 0 11 1-20 1 28 1-103 1 61 0 6 1-40 1 35 1 69 0-35 1-81 1-20 1 81 0 12 1-7 1 76 1-121 0 52 1 9 1-12 1 24 0-33 1 25 1 43 1-31 0-28 1 49 1-57 1 46 0-55 1-4 1-17 1 43 0-101 1 54 1-18 1 3 0-72 1 59 1 11 1 29 0-15 1-44 1 20 1-23 1 51 0-37 1 37 1 27 1-31 0-53 1 103 1-39 1-14 0 20 1-16 1-64 1 93 0 5 1 31 1-24 1 18 0-59 1-30 1 105 1 2 0 2 1-13 1-5 1-44 0 96 1-9 1-64 1-8 0-41 1 34 1 39 1-55 0 41 1-42 1-10 1 40 1 16 0-5 1 2 1-81 1 87 0 9 1-27 1-39 1 31 0 43 1 11 1-55 1-23 0 25 1 9 1-57 1 68 0-47 1 1 1 3 1-11 0-19 1 29 1-9 1 3 0-20 1 110 1-68 1-32 0 14 1-46 1 78 1 28 0-83 1 110 1-34 1-66 1 34 0-49 1 52 1 0 1 95 0-42 1-66 1 9 1 47 0 18 1 3 1-33 1 2 0 36 1-33 1-12 1-7 0 28 1-15 1-55 1 73 0 7 1-39 1 5 1-37 0-57 1 44 1 60 1-20 0 16 1 4 1-83 1 71 0-2 1-59 1-13 1-31 0-16 1 132 1-92 1-4 1-22 0 5 1 126 1-48 1-15 0 69 1-56 1-63 1 74 0-26 1-82 1 73 1 55 0-101 1 62 1-5 1 32 0-53 1-7 1-32 1 24 0 36 1-27 1-80 1 56 0 6 1 32 1-75 1 46 0 61 1-27 1 40 1-13 0-37 1-23 1 37 1-11 1 45 0-36 1 74 1-25 1-41 0-11 1 46 1-55 1 4 0 0 1 32 1-64 1 61 0 32 1-36 1 27 1-10 0 25 1-28 1-21 1 24 0-8 1 85 1-112 1 25 0-69 1 42 1-78 1 60 0 19 1-59 1 47 1-6 0-9 1 192 1-171 1 31 0-84 1 99 1 29 1-54 1-37 0 35 1-22 1-13 1 78 0-30 1 4 1-71 1 137 0-91 1 24 1-98 1 143 0 35 1-100 1-30 1 113 0-92 1-12 1-20 1 32 0-49 1 118 1-93 1 46 0-51 1 27 1-53 1 70 0 24 1-5 1-101 1 35 0-36 1 44 1-22 1 92 1-39 0-4 1-39 1 87 1-100 0 72 1-19 1 55 1-154 0 169 1-101 1 65 1-66 0 13 1-22 1 108 1-107 0 79 1-87 1 76 1-28 0-35 1 32 1-28 1 43 0-16 1 34 1-101 1 163 0-179 1 25 1 95 1-5 0-34 1 13 1 45 1-134 1 131 0 30 1-75 1 51 1-20 0 10 1 45 1-64 1 24 0 41 1-59 1 1 1-1 0 81 1-29 1-35 1 63 0-4 1-64 1 40 1 7 0 2 1-44 1 26 1-49 0 29 1 1 1-32 1-13 0 85 1-47 1 83 1 9 0-58 1-27 1-32 1 96 0-19 1-99 1 82 1-80 1-4 0-12 1 44 1 29 1-39 0 21 1 59 1-60 1-8 0-18 1 55 1-30 1 36 0-77 1 57 1-62 1 50 0-117 1-5 1 91 1 7 0-39 1 22 1 16 1-151 0 80 1 65 1-6 1 10 0-12 1 35 1-34 1 0 0-19 1-27 1 77 1-39 1-99 0 192 1-91 1 24 1-13 0 26 1 15 1 39 1-140 0 20 1 117 1-25 1-34 0 88 1-79 1-6 1 3 0 24 1-33 1-17 1-46 0 93 1 29 1-31 1-36 0 17 1 23 1-23 1 17 0 19 1 39 1-19 1 6 0-63 1 27 1-1 1-23 1 45 0 32 1-46 1-14 1 6 0-24 1-9 1 56 1 46 0-68 1 126 1-156 1 103 0-48 1-29 1 15 1 2 0 47 1-5 1-22 1-49 0-12 1 6 1-4 1 71 0-40 1-32 1 24 1 53 0 20 1-75 1-3 1-63 0-50 1 68 1 148 1-148 0 36 1 23 1 24 1-61 1 5 0 3 1-14 1-29 1 72 0-46 1 37 1-51 1 16 0-44 1 5 1 29 1-43 0 26 1 142 1-153 1 40 0 60 1-109 1 78 1-82 0 51 1-12 1 61 1-29 0-83 1 76 1-37 1 83 0-66 1 81 1-29 1-12 0-6 1 13 1-24 1 60 1-35 0 5 1-28 1-9 1 29 0 26 1-72 1 113 1-79 0 17 1-53 1 57 1-17 0 95 1-33 1-22 1-128 0 68 1-12 1-15 1 87 0-98 1-65 1 50 1 122 0-90 1-9 1-7 1 40 0-72 1-45 1 139 1-87 0 99 1-136 1 9 1 17 1-12 0 33 1-4 1 0 1 155 0-76 1-38 1-38 1 59 0-84 1-7 1-40 1 76 0 44 1 4 1 27 1-84 0 146 1-39 1-116 1 59 0 37 1 37 1-99 1 58 0 48 1-79 1-28 1 112 0-36 1-63 1 24 1-32 0 46 1-10 1 60 1-97 0 48 1-18 1 100 1-17 1-2 0-16 1 17 1 17 1-196 0 212 1-121 1 8 1-48 0 130 1-113 1 11 1 121 0-118 1 144 1-105 1 24 0 36 1-125 1 74 1 9 0 25 1-101 1 84 1 31 0 58 1-135 1-51 1 65 0 93 1-19 1-38 1 47 0-45 1-91 1 196 1-163 1 79 0-75 1-28 1-5 1 145 0-232 1 141 1-71 1 20 0 43 1-14 1-7 1 23 0 7 1-59 1 36 1 37 0-4 1 13 1 38 1-132 0 25 1 75 1 12 1-123 0 93 1-79 1 102 1-18 0-14 1-6 1 83 1-44 0 29 1 5 1-37 1-45 1 28 0 2 1-56 1 69 1-76 0-11 1 57 1 0 1-84 0 168 1-37 1-23 1-94 0 115 1-132 1 161 1-139 0 69 1-75 1 63 1-133 0 115 1 101 1-140 1 120 0-76 1-38 1 188 1-108 0-77 1 22 1 10 1 117 0-90 1-44 1 149 1-126 0-8 1 47 1-78 1 62 1-37 0 116 1-23 1-75 1 37 0 5 1-2 1-21 1 33 0-22 1 1 1 34 1-10 0 48 1-76 1 41 1-72 0 12 1 37 1-16 1 15 0-27 1 79 1-207 1 100 0-14 1 36 1-68 1 43 0-57 1 108 1-45 1 31 0 39 1-156 1 63 1 3 1-3 0 29 1 48 1-83 1 78 0 11 1-131 1 66 1 12 0-98 1 100 1 5 1-21 0 46 1-56 1-31 1 79 0-50 1 6 1-75 1 22 0 69 1-31 1 39 1-76 0 31 1 6 1 55 1-71 0 115 1 6 1-43 1-60 0 109 1-199 1 54 1 81 1-81 0 41 1-33 1-134 1 100 0-22 1 77 1-21 1 102 0-49 1-42 1 82 1 9 0-54 1 14 1-8 1 10 0-73 1 50 1-64 1 41 0-11 1 96 1-71 1-7 0 20 1 68 1 13 1-52 0 10 1-23 1 46 1-84 0 82 1-39 1-4 1-44 0 95 1-75 1-69 1 69 1-16 0 111 1-56 1 19 1-31 0 93 1-40 1-110 1 43 0 13 1 37 1-53 1-33 0 100 1 42 1-78 1 86 0-33 1-109 1 94 1-67 0 26 1 38 1 20 1 127 0-168 1-4 1 4 1-93 0 23 1 22 1 57 1 20 0-24 1-87 1 155" stroke="#00ff00"/>
<path d="M3848 3967l1-200 1 7 0 86 1-121 1 72 1-17 0 37 1-2 1-28 1 35 0 41 1-53 1 59 1-106 0 101 1-80 1-40 1 40 0 166 1-126 1 56 1 117 0-99 1 5 1-58 1 15 0-1 1-30 1 93 1-197 0 165 1-183 1 69 1 80 0 5 1-16 1 200 1-169 1-73 0 54 1-108 1-2 1-71 0 65 1 68 1-54 1 77 0-50 1-63 1 121 1-90 0 57 1-24 1-48 1 19 0 224 1-236 1 31 1-22 0 46 1-41 1 131 1-163 0 19 1-65 1 180 1-115 0 135 1-176 1 127 1-9 0-101 1-32 1 59 1-12 0 65 1-47 1-21 1 59 1-10 0 45 1-20 1-71 1 39 0 35 1-21 1-40 1 40 0 32 1 7 1 6 1-190 0 50 1 68 1 16 1 35 0 78 1-73 1-15 1 14 0-54 1 143 1-139 1 269 0-226 1-37 1 157 1-84 0-109 1 102 1 23 1-137 0-36 1 136 1-28 1-54 1 8 0-128 1 16 1 244 1-38 0 68 1-255 1 19 1 129 0-3 1 63 1 52 1-135 0 107 1-61 1-27 1-283 0 366 1-8 1 62 1 57 0-137 1 42 1 50 1-69 0-22 1 105 1-64 1 99 0-176 1-69 1 237 1-170 0-54 1 76 1-47 1 49 1-3 0-109 1 123 1 84 1-175 0 40 1 110 1 19 1-17 0-70 1-62 1-60 1 52 0 39 1 93 1-138 1-7 0 132 1-75 1 109 1-108 0-22 1 43 1 24 1-208 0 31 1-89 1 200 1 85 0-60 1 10 1-19 1 66 0-86 1-33 1 146 1-136 0 103 1-29 1-24 1-78 1-27 0 12 1 51 1 62 1 112 0-124 1-121 1 77 1-25 0 18 1 100 1-135 1-16 0-92 1 45 1 143 1-48 0 154 1-169 1-5 1-46 0 72 1-48 1 2 1-59 0 24 1 178 1-105 1-87 0-11 1 79 1 31 1 3 0 14 1-94 1 60 1 5 1-39 0 38 1-26 1 72 1-102 0 87 1-43 1 35 1-40 0-84 1 31 1 115 1-66 0 128 1-100 1-156 1 89 0 52 1-9 1-28 1 46 0 2 1-19 1 166 1-132 0 133 1-71 1 10 1-131 0 107 1 31 1 124 1-163 0-25 1 15 1 11 1-69 1 90 0-18 1-39 1-2 1 126 0-88 1-45 1 79 1 66 0-94 1 74 1-217 1 85 0 91 1-57 1 63 1-67 0 102 1-123 1 22 1 23 0-63 1 25 1 153 1-110 0-12 1-33 1 26 1 75 0-10 1 147 1-56 1-182 0 54 1-35 1-40 1 71 0 109 1-100 1 16 1-32 1-31 0 84 1-111 1-23 1 72 0 112 1-66 1 79 1-19 0-59 1-130 1 50 1 94 0-133 1 110 1-135 1-51 0 26 1 198 1-59 1 0 0-127 1 156 1-63 1 137 0-140 1 34 1 51 1-10 0 9 1-88 1 85 1 92 0-53 1-70 1 21 1 16 1 8 0-123 1 67 1 98 1-25 0-63 1-136 1 120 1-52 0 145 1-55 1-55 1 20 0 179 1-107 1-61 1-17 0-86 1 119 1 16 1-176 0 80 1-55 1 123 1-102 0-10 1-30 1 125 1-116 0 344 1-218 1-92 1 87 0-64 1-19 1 134 1-106 1 123 0-9 1-75 1 30 1-16 0-5 1-166 1 140 1 6 0-6 1-43 1-70 1 30 0-57 1 68 1 89 1-51 0 168 1-98 1-100 1 31 0 16 1 61 1-53 1-36 0-151 1 94 1 46 1 215 0 6 1-139 1-136 1 56 0 51 1-28 1-47 1 124 0-43 1 31 1-78 1 88 1 58 0-44 1 107 1-231 1-30 0 214 1-250 1 136 1-9 0-47 1-65 1 177 1-107 0 62 1 18 1-43 1-6 0-70 1 75 1 48 1-58 0 86 1-77 1 39 1 19 0 26 1-89 1-15 1-87 0 181 1-108 1 166 1-119 0-50 1 16 1 52 1-50 1-30 0 107 1-172 1 185 1-34 0-29 1 161 1-104 1 68 0-96 1 62 1-91 1-47 0-99 1 207 1 22 1-255 0-22 1 196 1-2 1 42 0 37 1-104 1 145 1-128 0-75 1 141 1-2 1-126 0 140 1-71 1-41 1 116 0-220 1 191 1-153 1-113 1 214 0-20 1-87 1-35 1 19 0 39 1 46 1 39 1 61 0-119 1-3 1 30 1-34 0 44 1-167 1 32 1 224 0-53 1-95 1 25 1 120 0-69 1 11 1 85 1-116 0 18 1 55 1-165 1 205 0-139 1 178 1-158 1-73 0 7 1 124 1 59 1 20 0-293 1 125 1 145 1-148 1 125 0 30 1 8 1-16 1-165 0 77 1 89 1-70 1-63 0 0 1 79 1 27 1 37 0-40 1 9 1-26 1 53 0-113 1 142 1-133 1 59 0-18 1 32 1 40 1-136 0 16 1 184 1-28 1-46 0-4 1-70 1-43 1 47 0 0 1-52 1-49 1 87 1-25 0-65 1 174 1-32 1-19 0-25 1-11 1 83 1-96 0-36 1-80 1 136 1-79 0 40 1 65 1-82 1-135 0 120 1 117 1-102 1 114 0-46 1-94 1 81 1-19 0 44 1-61 1-99 1 80 0 54 1-54 1 89 1-73 0-5 1 199 1-294 1 144 1-118 0 69 1-58 1 92 1-51 0 89 1 71 1-153 1 5 0 81 1-90 1-142 1 263 0-40 1 33 1-124 1 92 0-41 1-38 1-48 1 194 0-254 1 221 1-86 1-7 0 67 1-18 1 0 1-63 0-63 1 121 1-61 1 61 0-17 1-54 1 71 1 70 0-211 1 72 1-3 1 140 1 56 0-19 1 36 1-82 1-74 0 187 1-173 1 133 1 79 0-114 1 100 1 69 1 59 0-32 1-49 1 126 1-235 0 9 1 211 1 44 1-281 0 134 1-131 1 177 1-19 0-65 1 241 1-389 1-3 0-33 1 274 1-93 1-17 0 134 1-218 1 269 1-82 1-50 0-176 1 356 1-99 1-147 0 24 1-144 1 401 1-183 0 59 1 68 1 187 1-445 0 261 1-116 1-69 1-93 0 124 1 1 1-26 1 7 0 148 1 39 1-6 1-103 0-270 1 307 1-151 1 43 0 74 1 100 1-260 1-9 0 106 1 164 1-98 1-19 0-20 1 54 1-167 1 62 1-172 0 272 1-215 1 100 1 101 0 33 1-139 1 168 1-9 0 85 1-91 1 113 1-44 0-73 1 42 1-85 1 92 0-95 1 20 1 18 1 47 0-2 1-39 1-142 1 5 0 141 1 132 1 39 1-412 0 178 1-64 1-46 1-64 0 166 1-115 1 209 1-187 1 204 0-76 1-153 1 227 1-245 0 10 1-51 1 79 1-42 0 63 1-33 1 205 1-267 0 34 1 75 1-132 1 150 0-74 1-109 1 110 1-46 0 78 1-53 1 250 1-91 0-59 1 10 1 33 1-85 0 79 1-28 1-29 1 33 0-77 1 3 1 91 1-142 1 211 0-247 1 140 1 16 1-85 0-69 1 86 1-8 1-163 0 190 1-71 1 12 1 91 0-58 1 45 1 63 1-122 0-54 1 15 1 35 1-128 0 348 1-15 1 37 1-2 0-226 1 87 1-52 1 22 0-97 1 210 1-282 1 140 0 122 1-173 1-114 1 156 0 25 1 150 1-29 1-79 1 175 0 14 1-110 1 116 1-284 0 10 1 56 1-32 1 24 0 166 1 14 1-124 1 41 0 40 1-224 1-169 1 260 0 41 1-151 1-84 1 82 0 106 1 24 1 32 1 140 0-224 1-56 1 246 1-150 0-206 1 269 1-45 1-94 0 108 1 88 1-175 1 336 1-63 0-156 1-10 1 39 1 19 0-98 1-119 1 224 1-136 0-158 1 143 1-94 1 93 0 23 1-57 1 104 1-26 0 104 1-111 1-62 1 39 0 19 1-50 1 118 1-58 0-69 1-3 1 1 1 35 0-78 1-19 1-36 1 66 0-32 1 18 1-33 1 41 1-12 0 12 1 29 1-19 1-5 0 29 1-44 1 4 1-14 0-5 1 73 1-6 1-54 0-35 1 52 1 18 1-25 0 4 1-15 1 37 1-28 0 36 1-16 1-26 1 43 0 2 1 3 1-1 1 0 0 52 1-108 1 22 1 15 0-42 1-30 1-31 1 55 0-11 1-39 1 146 1-112 1 60 0-22 1-22 1-2 1 3 0 20 1-35 1 20 1 119 0-88 1-17 1-100 1 131 0-139 1 117 1-49 1 39 0 19 1-13 1 11 1 36 0-27 1-60 1 22 1-64 0 64 1 46 1-57 1 76 0-41 1-95 1 94 1-113 0 63 1 5 1 63 1-5 1-20 0 39 1-117 1 111 1 18 0-82 1 11 1 50 1 25 0-68 1 67 1-77 1 39 0 2 1-97 1 67 1 4 0-62 1 111 1-21 1-9 0 16 1-40 1 15 1-14 0-37 1 41 1 32 1-12 0-12 1 10 1 0 1-7 0 33 1-42 1 78 1-43 1-59 0 24 1 53 1-35 1-30 0 39 1 31 1-8 1 27 0 47 1-102 1 65 1-9 0 7 1-27 1-24 1-3 0 44 1-15 1-20 1-19 0 51 1-46 1-28 1 30 0 31 1 4 1-60 1 21 0 48 1-111 1 29 1 66 0-1 1-38 1 28 1 11 0-80 1 93 1 17 1 34 1-87 0 29 1-23 1 6 1-31 0-14 1-48 1 88 1-28 0 10 1 3 1 30 1 7 0-10 1 15 1-45 1-10 0 5 1 58 1-24 1-46 0-25 1 84 1 12 1-84 0-22 1 72 1 5 1 18 0 9 1-12 1-36 1-7 0 38 1-46 1 38 1-14 1-31 0 26 1 28 1-35 1-23 0-81 1 69 1 30 1-13 0 3 1 9 1 28 1-62 0 15 1 27 1 6 1 1 0-9 1-76 1 37 1 76 0-34 1-51 1 74 1-31 0-9 1-20 1-9 1 111 0-107 1 38 1 12 1-49 0 27 1 5 1 1 1-35 1-12 0 39 1-58 1 64 1-7 0 38 1-45 1-37 1 56 0-30 1 22 1 21 1 37 0-68 1 8 1 10 1 12 0 27 1 4 1-23 1-103 0 117 1-3 1 28 1-30 0 17 1-58 1-35 1 6 0 12 1 9 1-42 1 41 0-14 1 53 1-75 1-33 0 36 1-15 1-52 1 75 1 18 0 23 1-68 1 124 1-67 0-5 1 40 1-61 1 60 0-45 1 7 1 55 1-57 0 32 1-49 1 86 1-41 0 16 1-33 1-16 1 34 0-68 1 77 1-88 1 103 0-111 1 36 1-11 1-31 0 19 1 45 1 12 1 0 0-38 1 102 1-92 1 63 1-88 0 79 1 4 1-51 1 56 0-92 1 35 1 104 1-156 0 37 1 35 1-58 1 70 0-26 1 4 1-2 1 12 0-17 1 27 1 25 1 8 0-50 1 63 1-90 1-28 0 96 1-31 1-35 1 42 0-16 1-30 1 24 1-80 0 27 1 86 1-1 1-37 1-43 0-45 1 85 1-3 1 19 0-26 1 27 1 27 1-120 0 117 1-5 1-11 1-87 0 88 1 63 1-157 1 82 0-38 1 65 1-75 1 36 0 22 1-40 1 31 1-44 0 19 1 35 1-76 1 77 0 4 1 26 1-10 1-1 0-51 1 29 1-3 1-101 0 137 1-96 1 25 1 8 1 9 0 67 1-88 1 43 1 30 0-28 1 29 1-74 1 92 0-14 1-81 1 55 1 12 0-1 1-13 1-4 1-28 0 19 1-48 1 47 1 2 0-22 1 54 1-27 1-14 0-11 1 75 1-65 1 15 0 22 1-13 1 6 1-27 0 35 1 5 1-41 1-23 1 35 0-17 1-1 1 7 1 86 0-169 1 108 1-37 1 25 0-26 1 41 1-26 1 58 0-17 1 31 1-64 1-27 0 89 1-83 1 40 1 40 0-66 1 36 1-28 1 40 0-38 1 22 1-66 1 47 0 53 1-101 1 20 1 34 0-53 1 65 1-71 1 96 1 33 0-66 1-27 1 43 1-58 0 41 1 36 1-126 1 109 0 19 1-28 1-35 1-16 0 35 1 47 1-46 1 22 0-68 1-40 1 38 1 22 0-9 1 25 1-20 1 64 0 1 1-66 1 17 1-12 0 46 1 8 1-70 1 24 0 48 1-34 1 60 1-93 0 41 1-19 1-42 1 11 1 46 0-30 1 25 1 97 1-108 0 42 1-76 1 51 1-10 0-1 1-47 1 36 1-32 0-39 1 18 1 1 1 2 0-45 1 46 1 17 1 48 0-106 1 4 1 34 1 1 0-29 1 47 1-11 1 64 0 30 1-34 1-55 1 18 0 98 1-31 1-109 1 49 1-41 0 7 1 57 1 56 1-104 0 111 1-74 1 22 1 18 0-22 1 14 1 12 1 33 0-12 1-51 1 6 1 39 0-63 1 21 1-30 1 22 0 48 1-61 1 0 1 73 0-38 1-38 1 12 1 51 0 14 1-34 1-14 1-8 0-38 1 82 1-55 1 119 1-118 0 63 1-81 1 24 1 53 0-73 1 80 1-46 1 20 0-22 1 32 1-46 1 5 0-4 1 10 1 35 1-21 0-98 1 134 1-47 1 13 0 2 1-20 1 58 1-102 0 15 1 51 1-35 1-9 0 40 1-10 1-2 1 7 0-6 1 53 1-30 1 5 0 26 1-67 1 125 1-93 1 14 0-33 1-36 1 92 1-54 0 0 1 11 1 45 1-39 0-24 1 42 1-10 1 32 0-67 1 50 1-5 1-32 0 21 1-18 1 47 1-21 0-59 1 24 1 86 1-85 0 14 1-48 1-9 1 14 0-12 1-6 1 67 1-19 0 1 1-22 1-21 1 27 1-58 0 82 1 37 1-48 1 18 0-25 1 19 1-39 1-54 0 121 1 14 1-59 1 38 0-80 1 84 1-14 1-33 0 24 1-36 1 104 1-81 0-45 1 66 1 26 1-107 0 88 1-82 1 54 1 30 0-8 1 16 1-72 1 59 0 77 1-111 1 4 1 69 1-109 0 2 1 5 1-32 1 39 0 7 1 14 1 24 1-19 0-12 1 64 1-75 1 33 0 19 1-54 1 34 1 72 0-6 1-55 1-24 1 51 0-57 1 45 1-50 1 26 0 40 1-24 1-13 1-83 0 64 1 20 1-34 1 20 0-46 1-8 1 36 1-96 0 86 1-59 1 39 1 38 1-34 0 30 1-16 1-69 1-10 0 48 1 42 1 10 1 2 0-57 1 17 1-36 1 6 0 73 1-13 1-15 1 77 0-109 1 12 1-20 1-7 0 15 1-24 1-2 1 7 0-1 1 3 1 30 1-2 0 10 1-35 1 31 1 18 0-12 1-27 1-2 1 92 1-7 0 15 1-14 1-22 1 33 0-8 1-30 1 8 1-15 0 28 1 12 1-23 1 30 0-83 1 44 1-74 1 113 0-53 1 49 1-19 1 13 0-46 1 4 1 61 1 22 0-76 1 3 1-37 1 46 0-2 1 35 1-10 1-46 0 54 1 39 1-95 1 40 1 16 0 39 1-104 1 5 1 3 0 45 1-20 1-43 1 17 0-1 1 64 1 41 1-82 0 2 1-23 1 54 1-15 0-75 1 25 1 56 1-108 0 100 1-16 1-30 1-33 0 18 1 5 1-24 1 45 0 9 1-33 1 71 1-90 0 15 1 77 1-36 1 35 0-68 1-10 1 54 1 18 1-32 0 11 1-21 1-16 1 46 0-67 1 63 1-1 1-26 0 15 1-56 1 93 1-71 0-15 1 66 1-33 1-51 0 132 1-47 1-15 1 6 0-87 1 59 1 61 1-60 0 17 1 32 1-79 1 102 0-37 1 48 1-19 1-77 0 67 1-53 1-17 1 25 1-36 0 34 1-31 1-30 1 76 0 76 1-54 1 14 1-90 0 11 1-7 1 35 1 19 0-6 1 11 1-19 1 41 0 42 1-81 1 68 1-115 0 57 1 3 1-40 1 78 0-6 1-13 1 22 1 14 0-70 1-1 1 83 1-33 0-4 1-64 1-108 1 144 1 30 0-68 1 14 1 36 1-62 0 182 1-130 1 2 1-53 0 9 1 84 1-80 1 14 0-5 1-18 1 23 1 10 0-76 1 124 1-79 1 61 0-86 1 85 1 37 1 8 0-19 1-47 1 33 1-27 0 43 1-44 1 15 1 23 0 3 1-10 1-82 1 43 0 27 1-31 1 45 1-13 1 26 0 20 1-57 1-10 1 6 0 16 1 0 1-53 1 44 0 0 1-12 1-34 1-24 0 34 1 60 1-8 1 67 0-74 1 12 1 59 1-135 0 153 1-73 1-4 1 103 0-125 1 95 1-35 1 160 0-169 1-33 1-5 1-33 0 87 1-24 1 22 1 202 1-285 0 6 1-36 1 220 1-207 0 15 1 140 1 26 1-4 0-146 1 79 1-31 1 77 0-13 1 3 1-126 1 113 0-26 1-122 1-207 1 232 0-23 1 3 1 71 1-53 0 33 1 97 1-69 1 39 0-192 1 265 1-36 1-187 0 95 1-139 1 377 1-164 0-56 1 52 1-26 1 55 1 45 0-105 1 28 1 68 1 13 0-146 1-35 1-30 1 95 0-227 1 135 1 57 1 17 0 80 1 0 1 33 1-151 0 34 1-74 1 132 1-22 0 22 1-73 1-97 1-19 0 97 1-4 1-98 1-2 0 58 1 111 1-18 1 10 0-62 1 31 1 78 1-92 1-40 0 102 1 25 1 5 1-96 0 69 1-103 1 12 1-36 0 94 1-193 1 201 1-140 0 130 1-4 1-155 1 45 0 87 1-58 1 107 1-146 0 44 1 116 1-36 1-235 0 168 1-27 1 26 1-25 0 12 1 168 1-301 1 267 0-163 1 136 1-138 1 71 1 24 0 36 1 108 1-121 1-88 0 81 1-107 1 159 1-63 0 63 1-109 1 95 1-50 0 98 1 96 1 29 1 188 0-350 1 64 1-31 1-78 0-48 1 116 1 96 1-123 0 47 1-124 1-11 1 137 0-171 1 102 1-88 1 172 0-4 1-225 1 172 1 40 0 23 1-264 1 226 1-196 1 78 0 5 1-41 1 12 1-7 0 68 1 87 1 46 1-42 0-56 1-28 1 2 1-24 0 224 1-168 1-9 1-14 0 83 1-28 1 66 1-137 0 152 1-10 1 3 1 52 0-90 1-52 1 145 1-135 0 37 1-53 1 76 1 62 0-281 1 40 1 101 1-45 1 50 0-16 1 46 1-21 1 46 0-138 1 140 1-124 1 131 0 6 1-277 1 116 1 114 0-150 1 10 1-63 1 171 0 3 1 74 1-161 1 157 0-134 1 63 1-41 1 43 0 153 1-120 1 103 1-147 0-198 1 251 1-44 1 168 0-247 1 23 1 329 1-188 1-69 0 8 1 16 1-145 1 293 0-98 1-37 1 31 1-55 0-129 1 78 1 74 1-144 0 130 1-35 1 75 1-66 0-112 1 23 1 72 1-165 0 46 1 238 1-3 1-36 0-61 1 4 1-119 1 153 0-30 1 110 1-288 1 127 0 39 1-52 1-66 1 36 0-80 1 127 1-34 1 32 1-122 0 119 1 5 1-77 1 121 0 10 1 44 1-33 1-32 0 7 1-116 1 40 1-55 0 66 1 31 1 61 1-150 0-23 1 187 1-279 1 122 0 15 1 25 1-54 1 54 0-236 1 235 1 6 1-60 0 135 1-224 1 118 1-51 0 227 1-154 1 141 1-8 1-94 0 88 1-79 1-127 1 66 0-141 1 388 1-101 1-214 0 115 1-58 1 90 1-23 0-36 1 7 1-7 1 88 0-37 1 26 1-207 1 140 0 34 1-169 1 229 1-47 0 18 1-7 1 188 1-279 0 4 1 17 1-45 1 160 0 65 1-168 1 51 1 145 1-322 0 278 1-89 1-84 1 125 0 91 1-52 1-54 1-34 0-21 1 61 1-57 1 185 0-64 1 154 1-339 1 102 0-16 1-36 1 111 1-59 0 6 1 64 1-33 1 179 0 1 1 3 1-232 1 92 0-69 1 18 1 3 1 42 0-293 1 275 1-89 1-143 0-21 1 187 1-218 1 117 1 153 0-83 1-15 1-77 1 79 0 5 1-24 1 4 1-107 0 174 1-117 1 160 1-102 0 9 1 21 1 47 1-223 0 182 1-75 1 112 1-100 0 23 1-8 1 56 1-206 0 211 1 12 1 104 1-263 0 62 1 33 1-93 1 104 0-77 1 66 1-173 1 25 1 138 0 65 1-376 1 421 1-116 0 61 1-128 1 114 1-40 0-96 1 17 1 46 1-98 0-34 1 181 1 13 1 29 0-102 1 38 1 73 1-136 0 57 1-216 1 176 1-23 0-9 1 109 1-60 1 68 0 28 1-16 1-77 1-47 0 199 1-129 1-67 1-26 1 127 0 53 1-7 1-173 1 98 0-128 1 102 1-9 1-52 0-28 1 151 1-114 1 61 0-126 1 201 1-68 1-29 0 50 1-170 1 135 1 32 0-128 1 49 1 63 1-102 0 155 1-20 1-111 1-78 0 81 1 139 1-49 1 16 0-84 1 150 1-175 1 182 0-77 1 12 1-93 1 51 1 85 0-164 1-46 1-94 1 190 0 17 1-70 1 127 1-51 0 113 1-217 1 119 1 42 0 23 1 26 1-179 1 209 0 29 1 12 1-44 1-82 0-127 1 326 1-272 1 145 0-51 1-86 1 312 1-187 0-174 1 180 1-68 1-61 0 212 1-204 1 182 1-86 1 88 0-204 1 76 1 171 1-191 0 101 1-5 1 20 1-182 0 119 1-7 1-130 1 22 0 109 1 64 1-117 1-59 0 115 1-146 1 133 1 69 0 0 1-74 1-12 1 98 0-139 1 14 1 21 1-41 0 15 1 34 1 18 1 67 0-8 1-29 1-147 1 77 1-91 0 101 1 86 1-82 1 2 0-198 1 108 1 59 1 12 0 34 1-86 1-55 1 83 0 51 1 79 1-114 1-65 0 116 1-66 1 172 1-135 0 24 1-75 1 78 1 83 0-47 1-16 1 44 1-105 0 109 1-11 1-121 1 22 0 43 1 33 1 4 1 15 0-168 1 100 1-135 1 146 1-249 0 133 1 125 1-6 1 20 0 107 1-114 1-19 1 130 0-177 1-49 1 152 1-56 0-85 1 112 1-25 1 16 0-156 1 41 1-13 1 108 0-81 1 47 1 11 1-121 0 111 1 32 1-83 1-20 0 70 1 10 1 0 1 21 0-29 1-108 1 41 1 79 1-59 0 95 1 27 1-198 1 137 0 30 1-47 1-16 1 146 0-156 1 27 1 86 1-82 0 16 1-62 1 6 1 109 0-25 1 81 1-103 1-50 0 5 1-140 1 102 1 138 0-19 1 25 1 57 1-64 0-68 1 49 1-112 1 75 0-46 1-50 1 20 1 14 1-19 0 2 1 42 1-54 1 124 0 24 1-68 1-71 1 108 0-80 1 10 1 11 1 64 0-27 1-25 1-2 1-77 0 78 1 4 1 25 1-70 0 59 1-44 1 34 1 7 0 34 1 30 1-36 1-34 0-57 1 102 1-40 1-8 0-21 1-13 1-45 1 165 0-53 1-14 1-31 1-57 1 113 0-77 1-16 1 61 1-112 0 77 1-52 1 161 1-194 0 56 1 31 1 80 1-69 0 32 1 28 1-92 1-25 0 110 1-125 1 31 1 84 0-27 1 13 1 8 1-68 0-15 1 56 1-7 1-95 0 33 1 64 1-40 1 17 0 70 1-96 1-29 1 108 1-62 0 35 1 31 1-42 1 102 0-78 1 11 1-106 1 90 0-17 1-28 1 14 1 16 0 5 1 5 1 1 1-12 0 73 1-22 1-24 1 14 0 33 1-26 1-40 1 21 0-15 1 11 1-11 1 14 0-27 1 44 1 44 1-94 0-53 1 10 1 48 1-5 1-25 0 124 1-101 1 70 1-44 0-13 1 6 1-45 1 23 0 40 1-88 1 37 1 21 0 71 1-66 1-77 1 46 0 113 1-54 1-19 1-91 0 99 1-35 1 2 1-145 0 134 1-13 1-37 1-3 0-4 1 20 1 113 1-91 0 19 1 45 1 10 1-46 0-71 1 10 1 75 1 29 1 6 0-27 1-6 1 78 1-28 0-30 1-19 1 87 1-63 0-80 1-20 1 45 1 22 0-43 1 32 1-56 1 113 0-101 1 66 1-55 1 51 0-5 1-35 1 67 1-50 0 0 1-28 1 26 1 7 0 24 1 4 1-37 1 76 0-67 1-8 1 25 1-64 1 68 0 76 1-104 1-9 1 7 0-128 1 133 1-67 1 110 0-20 1-73 1 135 1-143 0 19 1 16 1 24 1-54 0 65 1-29 1 11 1-9 0-63 1 149 1-113 1 35 0-93 1 15 1 8 1 103 0-60 1 55 1-5 1-93 0 39 1 12 1-16 1-19 1-36 0 193 1-118 1-109 1 111 0-85 1 36 1 56 1-73 0 8 1 79 1-72 1 19 0 13 1-74 1 54 1 34 0 0 1-14 1 31 1-25 0-36 1 145 1-28 1-34 0 23 1-98 1 60 1-17 0 74 1-36 1-29 1-44 0 34 1 22 1-38 1-51 0-18 1 58 1 18 1 36 1-70 0 24 1 50 1-26 1 23 0-24 1-76 1 105 1-68 0 63 1 10 1-81 1 33 0-28 1 107 1-116 1 13 0 19 1 69 1-29 1 12 0-19 1 15 1-1 1 15 0-12 1-37 1 30 1-44 0-63 1 132 1-79 1-34 0 120 1-52 1-16 1 51 1-87 0 95 1-10 1-62 1 5 0 43 1-12 1 13 1-62 0-7 1 32 1 66 1 43 0-50 1-80 1 81 1-30 0 37 1-26 1-48 1-17 0 35 1 1 1-31 1-42 0 56 1-48 1 66 1-11 0 3 1 40 1-60 1 22 0-25 1 68 1-63 1-37 1 6 0 5 1 65 1 74 1-149 0 20 1 12 1 16 1-3 0-56 1-14 1 22 1 32 0 54 1-110 1 63 1-66 0 127 1 14 1-92 1 14 0-17 1-2 1 38 1-73 0 53 1-98 1 58 1-10 0-25 1 105 1-17 1-5 0 103 1-88 1 41 1 1 0-86 1-32 1 38 1 62 1-74 0 128 1-99 1-89 1 102 0-38 1 11 1-2 1 2 0 53 1-107 1 43 1 88 0-37 1-72 1 70 1-3 0 1 1-20 1 11 1 6 0 14 1 31 1-42 1-24 0 61 1 15 1-88 1 55 0-71 1 32 1 21 1-2 0 176 1-175 1-21 1-40 1 64 0 56 1 28 1 2 1-50 0 25 1-19 1 35 1-59 0 1 1 17 1 63 1-80 0 46 1-38 1 35 1-78 0 11 1 12 1-18 1 45 0-107 1 163 1 6 1-118 0 63 1 85 1-116 1 19 0 38 1-41 1 50 1-16 0 9 1-59 1-16 1 77 1-41 0 49 1-23 1-69 1 73 0 9 1-23 1-1 1-5 0-70 1 27 1 11 1 38 0-1 1 21 1-30 1-17 0-27 1 104 1-57 1 42 0-40 1-70 1 90 1-20 0 10 1-47 1 51 1-40 0 17 1-53 1 94 1-50 0 96 1-125 1 12 1 90 0-8 1-104 1 101 1-34 1-59 0-6 1 53 1 14 1-64 0 64 1 7 1-90 1 109 0-130 1 5 1 30 1 21 0 21 1-77 1 54 1 36 0-79 1 21 1 29 1 11 0 82 1-41 1-85 1 78 0 31 1-68 1 71 1-46 0-58 1 26 1 123 1-217 0 130 1 47 1-8 1-32 1 56 0-90 1-13 1 57 1-10 0 31 1-161 1 121 1-30 0-7 1-74 1 120 1-131 0 48 1 10 1 56 1-83 0 16 1 38 1-43 1 82 0-81 1-5 1-9 1 51 0 70 1-80 1 19 1 87 0-76 1-62 1 6 1 39 0 79 1-122 1 49 1-81 0 98 1-63 1 28 1 2 1-92 0 119 1 61 1-46 1 92 0-75 1-89 1 115 1-30 0 18 1-19 1-14 1-15 0-65 1 68 1-1 1-13 0 63 1-52 1-31 1-23 0 11 1-16 1 32 1 79 0-112 1 6 1-23 1-15 0 71 1 12 1-86 1 46 0-58 1 30 1 98 1-3 1-35 0 70 1-59 1-150 1 142 0 32 1-15 1-97 1 1 0 21 1-29 1-61 1 31 0-77 1 46 1-30 1 3 0 47 1 82 1-92 1-49 0-16 1 107 1-132 1-4 0-38 1 17 1 74 1 45 0-141 1 86 1 19 1 8 0 70 1-259 1 92 1-255 1 209 0 103 1-332 1 258 1-95 0 56 1-143 1 224 1-227 0 58 1 30 1 151 1-245 0 149 1 182 1-319 1 268 0-318 1 107 1 135 1 51 0-148 1 158 1 87 1-8 0-202 1-49 1-24 1 94 0-101 1 109 1-64 1 161 0-214 1 182 1-1 1-9 0-94 1 165 1-170 1 216 1-147 0 29 1-134 1-59 1 11 0 19 1-30 1 64 1-120 0 178 1-50 1-182 1 192 0 53 1-28 1-58 1-11 0 205 1-113 1 272 1-90 0-269 1 55 1-55 1 344 0-247 1 19 1-61 1 68 0 146 1-203 1 16 1 108 0-138 1 207 1-241 1 134 1-164 0 82 1-67 1-44 1 92 0 33 1-150 1 17 1 54 0 140 1-15 1 10 1-72 0 89 1-108 1-40 1 41 0-21 1-3 1 47 1-164 0 194 1-150 1 198 1-111 0 84 1-275 1 348 1-90 0-34 1 89 1-95 1-73 0 25 1 91 1 5 1 129 1-92 0 32 1 95 1-234 1 234 0-73 1-106 1 164 1-101 0 41 1-81 1-109 1-154 0 207 1 49 1-13 1-153 0 131 1 78 1-341 1 214 0 89 1-89 1-95 1-42 0 102 1 6 1 150 1-72 0-73 1 103 1 94 1-84 0 55 1-55 1-36 1 70 0 54 1-129 1 16 1-186 1 309 0-83 1-29 1-3 1 56 0 58 1-311 1 157 1-151 0 354 1-150 1-60 1-1 0-33 1 112 1-2 1 28 0-20 1 11 1-82 1-11 0-11 1-18 1 49 1-161 0 237 1-226 1 193 1 249 0-197 1-139 1 194 1-442 0 295 1 6 1 74 1-26 1-200 0 211 1-42 1 116 1-10 0-235 1 119 1 104 1 12 0-31 1-55 1-132 1 221 0-94 1-93 1 64 1-98 0-6 1-51 1 239 1-17 0 53 1 121 1-273 1-108 0 162 1 8 1-4 1-19 0 23 1 152 1 6 1 58 0-148 1 51 1-115 1-106 1-78 0 74 1 98 1 125 1-41 0 74 1-66 1-94 1 63 0 29 1-6 1-167 1-19 0 66 1 101 1-10 1 54 0-85 1 54 1-83 1-39 0-15 1-164 1 188 1 21 0-40 1-117 1 159 1-111 0 47 1 95 1-96 1 138 0-126 1-167 1 200 1 36 0-14 1-78 1 4 1 94 1 16 0-18 1-86 1 165 1-221 0 11 1 336 1-238 1-35 0 108 1 14 1-76 1-6 0 16 1-43 1-51 1 54 0 2 1 23 1-123 1 71 0 65 1-131 1 18 1 41 0-23 1 7 1 165 1-84 0 32 1-102 1 105 1 11 0-47 1 223 1-272 1 94 1-123 0 103 1 58 1-195 1 68 0 197 1-218 1-6 1 167 0-124 1 204 1-197 1 52 0-52 1 106 1-12 1-62 0 93 1-70 1 13 1-77 0 352 1-380 1 192 1-68 0-38 1-186 1 228 1 32 0 52 1 51 1-302 1 62 0-224 1 222 1 74 1-189 1 135 0-105 1-110 1 164 1-80 0 77 1 121 1-79 1 93 0-47 1-196 1-31 1 266 0-174 1-23 1 178 1 170 0-73 1-213 1-105 1 214 0-327 1 151 1 212 1-58 0-63 1 141 1-143 1-3 0 138 1-137 1-10 1 131 0 11 1-15 1-77 1 17 0-66 1 177 1-31 1-100 1 1 0 3 1-49 1 98 1 90 0-104 1-25 1 50 1 44 0-35 1 23 1-334 1 273 0-11 1-78 1 100 1-176 0 106 1 47 1-56 1 37 0-63 1-8 1 112 1-153 0 149 1 123 1 53 1-243 0 38 1 82 1-279 1 277 0 2 1-107 1 173 1-101 1-84 0 100 1 279 1-272 1-12 0-229 1 229 1-120 1 208 0-54 1-76 1-54 1 123 0-55 1 127 1-275 1 243 0-101 1-2 1-164 1 155 0-162 1 93 1-21 1 173 0-112 1 27 1 117 1-103 0 67 1-47 1-162 1 14 0 119 1 114 1-167 1-62 1 134 0-42 1 10 1-229 1 258 0-15 1-60 1-19 1 100 0-48 1 88 1-112 1 181 0-68 1 66 1-242 1 191 0-185 1-49 1 231 1-9 0-88 1-3 1-61 1 223 0-130 1 121 1-65 1-88 0-22 1 55 1-45 1 230 0-81 1 123 1-181 1-52 0 86 1 6 1-24 1 45 1-215 0 46 1 28 1 356 1-382 0 65 1 26 1-133 1 82 0-36 1 48 1-68 1 133 0-92 1 60 1 30 1-77 0-67 1-101 1 97 1 82 0-70 1-69 1 167 1-117 0 141 1-38 1-33 1 6 0 35 1-10 1 49 1-93 0-82 1 59 1 33" stroke="#0000ff"/>
</g></g>
<path d="M413.5 446.9v-3M413.5 246.2v3M442.3 446.9v-6M442.3 246.2v6M471 446.9v-3M471 246.2v3M499.8 446.9v-6M499.8 246.2v6M528.5 446.9v-3M528.5 246.2v3M557.2 446.9v-6M557.2 246.2v6M586 446.9v-3M586 246.2v3M614.7 446.9v-6M614.7 246.2v6M643.5 446.9v-3M643.5 246.2v3M384.8 426.8h3M672.2 426.8h-3M384.8 406.8h6M672.2 406.8h-6M384.8 386.7h3M672.2 386.7h-3M384.8 366.6h6M672.2 366.6h-6M384.8 346.5h3M672.2 346.5h-3M384.8 326.5h6M672.2 326.5h-6M384.8 306.4h3M672.2 306.4h-3M384.8 286.3h6M672.2 286.3h-6M384.8 266.3h3M672.2 266.3h-3M384.8 246.2h5.5M672.2 246.2h-5.5M384.8 446.9h5.5M672.2 446.9h-5.5M384.8 446.9v-5.5M672.2 446.9v-5.5M384.8 246.2v5.5M672.2 246.2v5.5" stroke="#333" stroke-width="1.35" fill="none"/>
<text class="tl" text-anchor="middle" transform="translate(385.4 457.5) scale(0.94 1)">0</text>
<text class="tl" text-anchor="middle" transform="translate(442.9 457.5) scale(0.94 1)">200</text>
<text class="tl" text-anchor="middle" transform="translate(500.4 457.5) scale(0.94 1)">400</text>
<text class="tl" text-anchor="middle" transform="translate(557.8 457.5) scale(0.94 1)">600</text>
<text class="tl" text-anchor="middle" transform="translate(615.3 457.5) scale(0.94 1)">800</text>
<text class="tl" text-anchor="middle" transform="translate(672.8 457.5) scale(0.94 1)">1000</text>
<text class="tl" text-anchor="end" transform="translate(382.6 450.9) scale(0.94 1)">6</text>
<text class="tl" text-anchor="end" transform="translate(382.6 410.8) scale(0.94 1)">8</text>
<text class="tl" text-anchor="end" transform="translate(382.6 370.6) scale(0.94 1)">10</text>
<text class="tl" text-anchor="end" transform="translate(382.6 330.5) scale(0.94 1)">12</text>
<text class="tl" text-anchor="end" transform="translate(382.6 290.3) scale(0.94 1)">14</text>
<text class="tl" text-anchor="end" transform="translate(382.6 250.2) scale(0.94 1)">16</text>
<text class="at" text-anchor="middle" transform="translate(529 469.2) scale(1.05 1)">Time (ns)</text>
<rect x="585.9" y="254.9" width="77.1" height="46.6" fill="#fff" stroke="#777" stroke-width="1"/>
<path d="M589.2 262.1H600.8" stroke="#555" stroke-width="1"/>
<text x="606.9" y="264.7" class="lg">MMP1- Zn<tspan class="sb" dy="1.8">1</tspan><tspan dy="-1.8"> Zn</tspan><tspan class="sb" dy="1.8">2</tspan></text>
<path d="M589.2 273.6H600.8" stroke="#e88" stroke-width="1"/>
<text x="606.9" y="276.2" class="lg">MMP1- Zn<tspan class="sb" dy="1.8">2</tspan></text>
<path d="M589.2 285H600.8" stroke="#8e8" stroke-width="1"/>
<text x="606.9" y="287.6" class="lg">MMP1- Zn<tspan class="sb" dy="1.8">1</tspan></text>
<path d="M589.2 295.6H600.8" stroke="#88c" stroke-width="1"/>
<text x="606.9" y="298.2" class="lg">MMP1- No Zn</text>
<text class="at" style="font-size:11.6px" text-anchor="middle" transform="translate(15.2 108.5) rotate(-90) scale(1.0 1.02)">RMSD (Å)</text>
<text class="at" style="font-size:11.6px" text-anchor="middle" transform="translate(368 109.5) rotate(-90) scale(1.0 1.02)">Distance (Å)</text>
<text class="at" style="font-size:11.85px" text-anchor="middle" transform="translate(15.6 346.8) rotate(-90) scale(1.0 1.02)">Distance (Å)</text>
<text class="at" style="font-size:11.7px" text-anchor="middle" transform="translate(366.1 346.2) rotate(-90) scale(1.0 1.02)">Distance (Å)</text>
<text class="pl" transform="translate(2.1 19.7) scale(0.82 1)">a</text>
<text class="pl" transform="translate(351.3 23.2) scale(1.0 1)">b</text>
<text class="pl" transform="translate(3.1 251.8) scale(0.95 1)">c</text>
<text class="pl" transform="translate(352.2 251.8) scale(1.0 1)">d</text>
</svg>
</body></html>
